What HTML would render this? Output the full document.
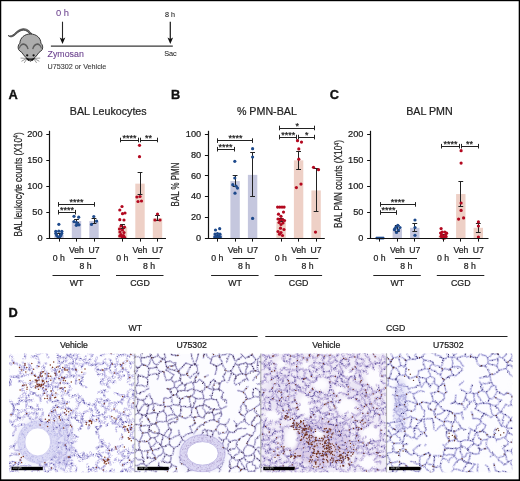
<!DOCTYPE html>
<html><head><meta charset="utf-8"><style>
html,body{margin:0;padding:0;background:#fff;width:520px;height:481px;overflow:hidden}
svg{display:block;will-change:transform}
text{font-family:"Liberation Sans", sans-serif}
</style></head><body>
<svg width="520" height="481" viewBox="0 0 520 481">
<rect x="0" y="0" width="520" height="481" fill="#fff"/>
<text x="8.50" y="98.90" font-size="12.8" text-anchor="start" fill="#111" font-weight="bold" stroke="#111" stroke-width="0.35" >A</text>
<text x="170.90" y="98.90" font-size="12.8" text-anchor="start" fill="#111" font-weight="bold" stroke="#111" stroke-width="0.35" >B</text>
<text x="329.70" y="98.90" font-size="12.8" text-anchor="start" fill="#111" font-weight="bold" stroke="#111" stroke-width="0.35" >C</text>
<text x="8.40" y="316.80" font-size="12.8" text-anchor="start" fill="#111" font-weight="bold" stroke="#111" stroke-width="0.35" >D</text>
<rect x="54.30" y="235.08" width="9.4" height="3.12" fill="#c5c7de"/>
<rect x="71.80" y="221.06" width="9.4" height="17.14" fill="#c5c7de"/>
<rect x="89.30" y="221.06" width="9.4" height="17.14" fill="#c5c7de"/>
<rect x="117.80" y="226.77" width="9.4" height="11.43" fill="#eed0c6"/>
<rect x="135.30" y="183.65" width="9.4" height="54.55" fill="#eed0c6"/>
<rect x="152.80" y="218.20" width="9.4" height="20.00" fill="#eed0c6"/>
<line x1="59.50" y1="236.50" x2="59.50" y2="233.00" stroke="#222" stroke-width="1.0"/>
<line x1="56.60" y1="233.50" x2="61.40" y2="233.50" stroke="#222" stroke-width="1.0"/>
<line x1="56.60" y1="236.50" x2="61.40" y2="236.50" stroke="#222" stroke-width="1.0"/>
<line x1="76.50" y1="222.80" x2="76.50" y2="219.20" stroke="#222" stroke-width="1.0"/>
<line x1="74.10" y1="219.50" x2="78.90" y2="219.50" stroke="#222" stroke-width="1.0"/>
<line x1="74.10" y1="222.50" x2="78.90" y2="222.50" stroke="#222" stroke-width="1.0"/>
<line x1="94.50" y1="223.20" x2="94.50" y2="218.50" stroke="#222" stroke-width="1.0"/>
<line x1="91.60" y1="218.50" x2="96.40" y2="218.50" stroke="#222" stroke-width="1.0"/>
<line x1="91.60" y1="223.50" x2="96.40" y2="223.50" stroke="#222" stroke-width="1.0"/>
<line x1="122.50" y1="228.50" x2="122.50" y2="224.50" stroke="#222" stroke-width="1.0"/>
<line x1="120.10" y1="224.50" x2="124.90" y2="224.50" stroke="#222" stroke-width="1.0"/>
<line x1="120.10" y1="228.50" x2="124.90" y2="228.50" stroke="#222" stroke-width="1.0"/>
<line x1="140.50" y1="194.60" x2="140.50" y2="172.70" stroke="#222" stroke-width="1.0"/>
<line x1="137.60" y1="172.50" x2="142.40" y2="172.50" stroke="#222" stroke-width="1.0"/>
<line x1="137.60" y1="194.50" x2="142.40" y2="194.50" stroke="#222" stroke-width="1.0"/>
<line x1="157.50" y1="220.00" x2="157.50" y2="215.50" stroke="#222" stroke-width="1.0"/>
<line x1="155.10" y1="215.50" x2="159.90" y2="215.50" stroke="#222" stroke-width="1.0"/>
<line x1="155.10" y1="220.50" x2="159.90" y2="220.50" stroke="#222" stroke-width="1.0"/>
<circle cx="58.85" cy="224.30" r="1.6" fill="#1e4a8c"/>
<circle cx="55.80" cy="231.30" r="1.6" fill="#1e4a8c"/>
<circle cx="58.80" cy="231.20" r="1.6" fill="#1e4a8c"/>
<circle cx="61.80" cy="231.30" r="1.6" fill="#1e4a8c"/>
<circle cx="55.80" cy="233.40" r="1.6" fill="#1e4a8c"/>
<circle cx="61.80" cy="233.40" r="1.6" fill="#1e4a8c"/>
<circle cx="56.70" cy="235.40" r="1.6" fill="#1e4a8c"/>
<circle cx="60.90" cy="235.40" r="1.6" fill="#1e4a8c"/>
<circle cx="58.00" cy="237.00" r="1.6" fill="#1e4a8c"/>
<circle cx="59.70" cy="237.00" r="1.6" fill="#1e4a8c"/>
<circle cx="74.00" cy="216.30" r="1.6" fill="#1e4a8c"/>
<circle cx="78.70" cy="217.20" r="1.6" fill="#1e4a8c"/>
<circle cx="74.00" cy="221.60" r="1.6" fill="#1e4a8c"/>
<circle cx="76.30" cy="225.30" r="1.6" fill="#1e4a8c"/>
<circle cx="77.90" cy="224.60" r="1.6" fill="#1e4a8c"/>
<circle cx="79.00" cy="224.80" r="1.6" fill="#1e4a8c"/>
<circle cx="76.50" cy="222.50" r="1.6" fill="#1e4a8c"/>
<circle cx="93.80" cy="216.50" r="1.6" fill="#1e4a8c"/>
<circle cx="96.60" cy="221.10" r="1.6" fill="#1e4a8c"/>
<circle cx="91.50" cy="224.40" r="1.6" fill="#1e4a8c"/>
<circle cx="122.00" cy="206.50" r="1.6" fill="#b3081f"/>
<circle cx="119.80" cy="210.00" r="1.6" fill="#b3081f"/>
<circle cx="122.50" cy="213.70" r="1.6" fill="#b3081f"/>
<circle cx="125.00" cy="213.00" r="1.6" fill="#b3081f"/>
<circle cx="119.80" cy="219.70" r="1.6" fill="#b3081f"/>
<circle cx="124.00" cy="220.00" r="1.6" fill="#b3081f"/>
<circle cx="121.00" cy="226.00" r="1.6" fill="#b3081f"/>
<circle cx="124.50" cy="227.00" r="1.6" fill="#b3081f"/>
<circle cx="119.50" cy="229.00" r="1.6" fill="#b3081f"/>
<circle cx="122.50" cy="230.00" r="1.6" fill="#b3081f"/>
<circle cx="120.00" cy="232.00" r="1.6" fill="#b3081f"/>
<circle cx="124.00" cy="232.50" r="1.6" fill="#b3081f"/>
<circle cx="121.00" cy="234.50" r="1.6" fill="#b3081f"/>
<circle cx="123.50" cy="235.50" r="1.6" fill="#b3081f"/>
<circle cx="122.00" cy="236.80" r="1.6" fill="#b3081f"/>
<circle cx="119.80" cy="236.00" r="1.6" fill="#b3081f"/>
<circle cx="124.50" cy="237.30" r="1.6" fill="#b3081f"/>
<circle cx="139.50" cy="145.30" r="1.6" fill="#b3081f"/>
<circle cx="139.50" cy="156.70" r="1.6" fill="#b3081f"/>
<circle cx="136.90" cy="197.00" r="1.6" fill="#b3081f"/>
<circle cx="140.00" cy="196.50" r="1.6" fill="#b3081f"/>
<circle cx="138.00" cy="201.50" r="1.6" fill="#b3081f"/>
<circle cx="141.50" cy="201.00" r="1.6" fill="#b3081f"/>
<circle cx="157.50" cy="214.00" r="1.6" fill="#b3081f"/>
<circle cx="155.00" cy="220.00" r="1.6" fill="#b3081f"/>
<circle cx="160.00" cy="220.00" r="1.6" fill="#b3081f"/>
<line x1="49.50" y1="130.80" x2="49.50" y2="238.80" stroke="#111" stroke-width="1.2"/>
<line x1="49.00" y1="238.50" x2="166.00" y2="238.50" stroke="#111" stroke-width="1.2"/>
<line x1="46.30" y1="238.50" x2="49.60" y2="238.50" stroke="#111" stroke-width="1.0"/>
<text x="42.60" y="240.90" font-size="9.2" text-anchor="end" fill="#1a1a1a" font-weight="normal" stroke="#1a1a1a" stroke-width="0.22" >0</text>
<line x1="46.30" y1="212.50" x2="49.60" y2="212.50" stroke="#111" stroke-width="1.0"/>
<text x="42.60" y="214.92" font-size="9.2" text-anchor="end" fill="#1a1a1a" font-weight="normal" stroke="#1a1a1a" stroke-width="0.22" >50</text>
<line x1="46.30" y1="186.50" x2="49.60" y2="186.50" stroke="#111" stroke-width="1.0"/>
<text x="42.60" y="188.95" font-size="9.2" text-anchor="end" fill="#1a1a1a" font-weight="normal" stroke="#1a1a1a" stroke-width="0.22" >100</text>
<line x1="46.30" y1="160.50" x2="49.60" y2="160.50" stroke="#111" stroke-width="1.0"/>
<text x="42.60" y="162.97" font-size="9.2" text-anchor="end" fill="#1a1a1a" font-weight="normal" stroke="#1a1a1a" stroke-width="0.22" >150</text>
<line x1="46.30" y1="134.50" x2="49.60" y2="134.50" stroke="#111" stroke-width="1.0"/>
<text x="42.60" y="137.00" font-size="9.2" text-anchor="end" fill="#1a1a1a" font-weight="normal" stroke="#1a1a1a" stroke-width="0.22" >200</text>
<line x1="59.50" y1="238.20" x2="59.50" y2="241.60" stroke="#111" stroke-width="1.0"/>
<line x1="76.50" y1="238.20" x2="76.50" y2="241.60" stroke="#111" stroke-width="1.0"/>
<line x1="94.50" y1="238.20" x2="94.50" y2="241.60" stroke="#111" stroke-width="1.0"/>
<line x1="122.50" y1="238.20" x2="122.50" y2="241.60" stroke="#111" stroke-width="1.0"/>
<line x1="140.50" y1="238.20" x2="140.50" y2="241.60" stroke="#111" stroke-width="1.0"/>
<line x1="157.50" y1="238.20" x2="157.50" y2="241.60" stroke="#111" stroke-width="1.0"/>
<text x="69.80" y="114.70" font-size="10.7" text-anchor="start" fill="#1f1f1f" font-weight="normal" stroke="#1f1f1f" stroke-width="0.22" >BAL Leukocytes</text>
<line x1="58.60" y1="204.50" x2="94.40" y2="204.50" stroke="#222" stroke-width="1.0"/>
<line x1="58.50" y1="202.10" x2="58.50" y2="206.70" stroke="#222" stroke-width="1.0"/>
<line x1="94.50" y1="202.10" x2="94.50" y2="206.70" stroke="#222" stroke-width="1.0"/>
<text x="76.40" y="205.00" font-size="9" text-anchor="middle" fill="#222" font-weight="normal" stroke="#222" stroke-width="0.22" >****</text>
<line x1="58.60" y1="212.50" x2="75.60" y2="212.50" stroke="#222" stroke-width="1.0"/>
<line x1="58.50" y1="209.90" x2="58.50" y2="214.50" stroke="#222" stroke-width="1.0"/>
<line x1="75.50" y1="209.90" x2="75.50" y2="214.50" stroke="#222" stroke-width="1.0"/>
<text x="67.00" y="212.80" font-size="9" text-anchor="middle" fill="#222" font-weight="normal" stroke="#222" stroke-width="0.22" >****</text>
<line x1="120.80" y1="140.50" x2="138.60" y2="140.50" stroke="#222" stroke-width="1.0"/>
<line x1="120.50" y1="137.70" x2="120.50" y2="142.30" stroke="#222" stroke-width="1.0"/>
<line x1="138.50" y1="137.70" x2="138.50" y2="142.30" stroke="#222" stroke-width="1.0"/>
<text x="129.60" y="140.60" font-size="9" text-anchor="middle" fill="#222" font-weight="normal" stroke="#222" stroke-width="0.22" >****</text>
<line x1="140.60" y1="140.50" x2="157.30" y2="140.50" stroke="#222" stroke-width="1.0"/>
<line x1="140.50" y1="137.70" x2="140.50" y2="142.30" stroke="#222" stroke-width="1.0"/>
<line x1="157.50" y1="137.70" x2="157.50" y2="142.30" stroke="#222" stroke-width="1.0"/>
<text x="148.60" y="140.60" font-size="9" text-anchor="middle" fill="#222" font-weight="normal" stroke="#222" stroke-width="0.22" >**</text>
<text x="58.80" y="261.00" font-size="8.7" text-anchor="middle" fill="#222" font-weight="normal" stroke="#222" stroke-width="0.22" >0 h</text>
<text x="76.50" y="252.70" font-size="8.6" text-anchor="middle" fill="#222" font-weight="normal" stroke="#222" stroke-width="0.22" >Veh</text>
<text x="94.00" y="252.70" font-size="8.6" text-anchor="middle" fill="#222" font-weight="normal" stroke="#222" stroke-width="0.22" >U7</text>
<line x1="74.10" y1="258.50" x2="96.20" y2="258.50" stroke="#222" stroke-width="1.0"/>
<text x="85.45" y="268.90" font-size="8.7" text-anchor="middle" fill="#222" font-weight="normal" stroke="#222" stroke-width="0.22" >8 h</text>
<line x1="52.50" y1="275.50" x2="100.00" y2="275.50" stroke="#222" stroke-width="1.0"/>
<text x="122.30" y="261.00" font-size="8.7" text-anchor="middle" fill="#222" font-weight="normal" stroke="#222" stroke-width="0.22" >0 h</text>
<text x="140.00" y="252.70" font-size="8.6" text-anchor="middle" fill="#222" font-weight="normal" stroke="#222" stroke-width="0.22" >Veh</text>
<text x="157.50" y="252.70" font-size="8.6" text-anchor="middle" fill="#222" font-weight="normal" stroke="#222" stroke-width="0.22" >U7</text>
<line x1="137.60" y1="258.50" x2="159.70" y2="258.50" stroke="#222" stroke-width="1.0"/>
<text x="148.95" y="268.90" font-size="8.7" text-anchor="middle" fill="#222" font-weight="normal" stroke="#222" stroke-width="0.22" >8 h</text>
<line x1="116.00" y1="275.50" x2="163.50" y2="275.50" stroke="#222" stroke-width="1.0"/>
<text x="76.50" y="285.60" font-size="8.8" text-anchor="middle" fill="#222" font-weight="normal" stroke="#222" stroke-width="0.22" >WT</text>
<text x="140.00" y="285.60" font-size="8.8" text-anchor="middle" fill="#222" font-weight="normal" stroke="#222" stroke-width="0.22" >CGD</text>
<text transform="translate(21.60,184.45) rotate(-90)" x="0" y="0" font-size="10.2" text-anchor="middle" fill="#222" stroke="#222" stroke-width="0.2" textLength="104.3" lengthAdjust="spacingAndGlyphs">BAL leukocyte counts (X10<tspan font-size="6.5" dy="-3.5">4</tspan><tspan dy="3.5">)</tspan></text>
<rect x="212.90" y="235.09" width="9.4" height="3.11" fill="#c5c7de"/>
<rect x="230.40" y="181.11" width="9.4" height="57.09" fill="#c5c7de"/>
<rect x="247.90" y="174.88" width="9.4" height="63.32" fill="#c5c7de"/>
<rect x="276.40" y="221.59" width="9.4" height="16.61" fill="#eed0c6"/>
<rect x="293.90" y="160.35" width="9.4" height="77.85" fill="#eed0c6"/>
<rect x="311.40" y="190.45" width="9.4" height="47.75" fill="#eed0c6"/>
<line x1="217.50" y1="236.50" x2="217.50" y2="233.50" stroke="#222" stroke-width="1.0"/>
<line x1="215.20" y1="233.50" x2="220.00" y2="233.50" stroke="#222" stroke-width="1.0"/>
<line x1="215.20" y1="236.50" x2="220.00" y2="236.50" stroke="#222" stroke-width="1.0"/>
<line x1="235.50" y1="186.50" x2="235.50" y2="175.60" stroke="#222" stroke-width="1.0"/>
<line x1="232.70" y1="175.50" x2="237.50" y2="175.50" stroke="#222" stroke-width="1.0"/>
<line x1="232.70" y1="186.50" x2="237.50" y2="186.50" stroke="#222" stroke-width="1.0"/>
<line x1="252.50" y1="196.40" x2="252.50" y2="152.70" stroke="#222" stroke-width="1.0"/>
<line x1="250.20" y1="152.50" x2="255.00" y2="152.50" stroke="#222" stroke-width="1.0"/>
<line x1="250.20" y1="196.50" x2="255.00" y2="196.50" stroke="#222" stroke-width="1.0"/>
<line x1="281.50" y1="221.50" x2="281.50" y2="218.40" stroke="#222" stroke-width="1.0"/>
<line x1="278.70" y1="218.50" x2="283.50" y2="218.50" stroke="#222" stroke-width="1.0"/>
<line x1="278.70" y1="221.50" x2="283.50" y2="221.50" stroke="#222" stroke-width="1.0"/>
<line x1="298.50" y1="169.20" x2="298.50" y2="151.60" stroke="#222" stroke-width="1.0"/>
<line x1="296.20" y1="151.50" x2="301.00" y2="151.50" stroke="#222" stroke-width="1.0"/>
<line x1="296.20" y1="169.50" x2="301.00" y2="169.50" stroke="#222" stroke-width="1.0"/>
<line x1="316.50" y1="211.20" x2="316.50" y2="168.70" stroke="#222" stroke-width="1.0"/>
<line x1="313.70" y1="168.50" x2="318.50" y2="168.50" stroke="#222" stroke-width="1.0"/>
<line x1="313.70" y1="211.50" x2="318.50" y2="211.50" stroke="#222" stroke-width="1.0"/>
<circle cx="215.50" cy="230.00" r="1.6" fill="#1e4a8c"/>
<circle cx="219.70" cy="228.70" r="1.6" fill="#1e4a8c"/>
<circle cx="215.00" cy="234.00" r="1.6" fill="#1e4a8c"/>
<circle cx="217.50" cy="233.50" r="1.6" fill="#1e4a8c"/>
<circle cx="220.00" cy="234.20" r="1.6" fill="#1e4a8c"/>
<circle cx="216.00" cy="236.00" r="1.6" fill="#1e4a8c"/>
<circle cx="218.80" cy="236.20" r="1.6" fill="#1e4a8c"/>
<circle cx="217.50" cy="237.30" r="1.6" fill="#1e4a8c"/>
<circle cx="214.80" cy="237.00" r="1.6" fill="#1e4a8c"/>
<circle cx="220.30" cy="237.00" r="1.6" fill="#1e4a8c"/>
<circle cx="234.80" cy="161.30" r="1.6" fill="#1e4a8c"/>
<circle cx="234.80" cy="178.00" r="1.6" fill="#1e4a8c"/>
<circle cx="232.80" cy="184.70" r="1.6" fill="#1e4a8c"/>
<circle cx="237.50" cy="188.10" r="1.6" fill="#1e4a8c"/>
<circle cx="235.00" cy="193.20" r="1.6" fill="#1e4a8c"/>
<circle cx="236.00" cy="186.00" r="1.6" fill="#1e4a8c"/>
<circle cx="252.60" cy="148.70" r="1.6" fill="#1e4a8c"/>
<circle cx="252.60" cy="157.00" r="1.6" fill="#1e4a8c"/>
<circle cx="252.60" cy="218.40" r="1.6" fill="#1e4a8c"/>
<circle cx="277.60" cy="207.10" r="1.6" fill="#b3081f"/>
<circle cx="279.80" cy="207.10" r="1.6" fill="#b3081f"/>
<circle cx="282.00" cy="207.10" r="1.6" fill="#b3081f"/>
<circle cx="284.10" cy="207.10" r="1.6" fill="#b3081f"/>
<circle cx="283.50" cy="212.10" r="1.6" fill="#b3081f"/>
<circle cx="278.50" cy="214.20" r="1.6" fill="#b3081f"/>
<circle cx="281.00" cy="216.30" r="1.6" fill="#b3081f"/>
<circle cx="278.00" cy="219.00" r="1.6" fill="#b3081f"/>
<circle cx="280.00" cy="220.00" r="1.6" fill="#b3081f"/>
<circle cx="282.50" cy="219.50" r="1.6" fill="#b3081f"/>
<circle cx="284.50" cy="220.50" r="1.6" fill="#b3081f"/>
<circle cx="279.00" cy="222.50" r="1.6" fill="#b3081f"/>
<circle cx="283.00" cy="223.00" r="1.6" fill="#b3081f"/>
<circle cx="281.00" cy="224.50" r="1.6" fill="#b3081f"/>
<circle cx="280.50" cy="228.20" r="1.6" fill="#b3081f"/>
<circle cx="284.00" cy="229.50" r="1.6" fill="#b3081f"/>
<circle cx="278.00" cy="231.50" r="1.6" fill="#b3081f"/>
<circle cx="281.00" cy="232.60" r="1.6" fill="#b3081f"/>
<circle cx="279.50" cy="234.20" r="1.6" fill="#b3081f"/>
<circle cx="282.50" cy="235.50" r="1.6" fill="#b3081f"/>
<circle cx="297.50" cy="140.70" r="1.6" fill="#b3081f"/>
<circle cx="301.50" cy="142.10" r="1.6" fill="#b3081f"/>
<circle cx="298.80" cy="148.90" r="1.6" fill="#b3081f"/>
<circle cx="298.80" cy="159.20" r="1.6" fill="#b3081f"/>
<circle cx="296.40" cy="187.60" r="1.6" fill="#b3081f"/>
<circle cx="301.00" cy="184.10" r="1.6" fill="#b3081f"/>
<circle cx="313.50" cy="167.30" r="1.6" fill="#b3081f"/>
<circle cx="318.50" cy="169.70" r="1.6" fill="#b3081f"/>
<circle cx="315.50" cy="232.10" r="1.6" fill="#b3081f"/>
<line x1="208.50" y1="130.80" x2="208.50" y2="238.80" stroke="#111" stroke-width="1.2"/>
<line x1="207.60" y1="238.50" x2="324.80" y2="238.50" stroke="#111" stroke-width="1.2"/>
<line x1="204.90" y1="238.50" x2="208.20" y2="238.50" stroke="#111" stroke-width="1.0"/>
<text x="201.20" y="240.90" font-size="9.2" text-anchor="end" fill="#1a1a1a" font-weight="normal" stroke="#1a1a1a" stroke-width="0.22" >0</text>
<line x1="204.90" y1="217.50" x2="208.20" y2="217.50" stroke="#111" stroke-width="1.0"/>
<text x="201.20" y="220.14" font-size="9.2" text-anchor="end" fill="#1a1a1a" font-weight="normal" stroke="#1a1a1a" stroke-width="0.22" >20</text>
<line x1="204.90" y1="196.50" x2="208.20" y2="196.50" stroke="#111" stroke-width="1.0"/>
<text x="201.20" y="199.38" font-size="9.2" text-anchor="end" fill="#1a1a1a" font-weight="normal" stroke="#1a1a1a" stroke-width="0.22" >40</text>
<line x1="204.90" y1="175.50" x2="208.20" y2="175.50" stroke="#111" stroke-width="1.0"/>
<text x="201.20" y="178.62" font-size="9.2" text-anchor="end" fill="#1a1a1a" font-weight="normal" stroke="#1a1a1a" stroke-width="0.22" >60</text>
<line x1="204.90" y1="155.50" x2="208.20" y2="155.50" stroke="#111" stroke-width="1.0"/>
<text x="201.20" y="157.86" font-size="9.2" text-anchor="end" fill="#1a1a1a" font-weight="normal" stroke="#1a1a1a" stroke-width="0.22" >80</text>
<line x1="204.90" y1="134.50" x2="208.20" y2="134.50" stroke="#111" stroke-width="1.0"/>
<text x="201.20" y="137.10" font-size="9.2" text-anchor="end" fill="#1a1a1a" font-weight="normal" stroke="#1a1a1a" stroke-width="0.22" >100</text>
<line x1="217.50" y1="238.20" x2="217.50" y2="241.60" stroke="#111" stroke-width="1.0"/>
<line x1="235.50" y1="238.20" x2="235.50" y2="241.60" stroke="#111" stroke-width="1.0"/>
<line x1="252.50" y1="238.20" x2="252.50" y2="241.60" stroke="#111" stroke-width="1.0"/>
<line x1="281.50" y1="238.20" x2="281.50" y2="241.60" stroke="#111" stroke-width="1.0"/>
<line x1="298.50" y1="238.20" x2="298.50" y2="241.60" stroke="#111" stroke-width="1.0"/>
<line x1="316.50" y1="238.20" x2="316.50" y2="241.60" stroke="#111" stroke-width="1.0"/>
<text x="236.90" y="114.70" font-size="10.7" text-anchor="start" fill="#1f1f1f" font-weight="normal" stroke="#1f1f1f" stroke-width="0.22" >% PMN-BAL</text>
<line x1="217.50" y1="140.50" x2="252.50" y2="140.50" stroke="#222" stroke-width="1.0"/>
<line x1="217.50" y1="138.30" x2="217.50" y2="142.90" stroke="#222" stroke-width="1.0"/>
<line x1="252.50" y1="138.30" x2="252.50" y2="142.90" stroke="#222" stroke-width="1.0"/>
<text x="235.40" y="141.20" font-size="9" text-anchor="middle" fill="#222" font-weight="normal" stroke="#222" stroke-width="0.22" >****</text>
<line x1="217.50" y1="149.50" x2="234.50" y2="149.50" stroke="#222" stroke-width="1.0"/>
<line x1="217.50" y1="146.90" x2="217.50" y2="151.50" stroke="#222" stroke-width="1.0"/>
<line x1="234.50" y1="146.90" x2="234.50" y2="151.50" stroke="#222" stroke-width="1.0"/>
<text x="225.60" y="149.80" font-size="9" text-anchor="middle" fill="#222" font-weight="normal" stroke="#222" stroke-width="0.22" >****</text>
<line x1="279.80" y1="128.50" x2="314.80" y2="128.50" stroke="#222" stroke-width="1.0"/>
<line x1="279.50" y1="125.70" x2="279.50" y2="130.30" stroke="#222" stroke-width="1.0"/>
<line x1="314.50" y1="125.70" x2="314.50" y2="130.30" stroke="#222" stroke-width="1.0"/>
<text x="297.30" y="128.60" font-size="9" text-anchor="middle" fill="#222" font-weight="normal" stroke="#222" stroke-width="0.22" >*</text>
<line x1="279.80" y1="137.50" x2="296.60" y2="137.50" stroke="#222" stroke-width="1.0"/>
<line x1="279.50" y1="134.80" x2="279.50" y2="139.40" stroke="#222" stroke-width="1.0"/>
<line x1="296.50" y1="134.80" x2="296.50" y2="139.40" stroke="#222" stroke-width="1.0"/>
<text x="288.20" y="137.70" font-size="9" text-anchor="middle" fill="#222" font-weight="normal" stroke="#222" stroke-width="0.22" >****</text>
<line x1="298.40" y1="137.50" x2="314.80" y2="137.50" stroke="#222" stroke-width="1.0"/>
<line x1="298.50" y1="134.80" x2="298.50" y2="139.40" stroke="#222" stroke-width="1.0"/>
<line x1="314.50" y1="134.80" x2="314.50" y2="139.40" stroke="#222" stroke-width="1.0"/>
<text x="306.80" y="137.70" font-size="9" text-anchor="middle" fill="#222" font-weight="normal" stroke="#222" stroke-width="0.22" >*</text>
<text x="217.40" y="261.00" font-size="8.7" text-anchor="middle" fill="#222" font-weight="normal" stroke="#222" stroke-width="0.22" >0 h</text>
<text x="235.10" y="252.70" font-size="8.6" text-anchor="middle" fill="#222" font-weight="normal" stroke="#222" stroke-width="0.22" >Veh</text>
<text x="252.60" y="252.70" font-size="8.6" text-anchor="middle" fill="#222" font-weight="normal" stroke="#222" stroke-width="0.22" >U7</text>
<line x1="232.70" y1="258.50" x2="254.80" y2="258.50" stroke="#222" stroke-width="1.0"/>
<text x="244.05" y="268.90" font-size="8.7" text-anchor="middle" fill="#222" font-weight="normal" stroke="#222" stroke-width="0.22" >8 h</text>
<line x1="211.10" y1="275.50" x2="258.60" y2="275.50" stroke="#222" stroke-width="1.0"/>
<text x="280.90" y="261.00" font-size="8.7" text-anchor="middle" fill="#222" font-weight="normal" stroke="#222" stroke-width="0.22" >0 h</text>
<text x="298.60" y="252.70" font-size="8.6" text-anchor="middle" fill="#222" font-weight="normal" stroke="#222" stroke-width="0.22" >Veh</text>
<text x="316.10" y="252.70" font-size="8.6" text-anchor="middle" fill="#222" font-weight="normal" stroke="#222" stroke-width="0.22" >U7</text>
<line x1="296.20" y1="258.50" x2="318.30" y2="258.50" stroke="#222" stroke-width="1.0"/>
<text x="307.55" y="268.90" font-size="8.7" text-anchor="middle" fill="#222" font-weight="normal" stroke="#222" stroke-width="0.22" >8 h</text>
<line x1="274.60" y1="275.50" x2="322.10" y2="275.50" stroke="#222" stroke-width="1.0"/>
<text x="235.10" y="285.60" font-size="8.8" text-anchor="middle" fill="#222" font-weight="normal" stroke="#222" stroke-width="0.22" >WT</text>
<text x="298.60" y="285.60" font-size="8.8" text-anchor="middle" fill="#222" font-weight="normal" stroke="#222" stroke-width="0.22" >CGD</text>
<text transform="translate(179.40,184.50) rotate(-90)" x="0" y="0" font-size="10.2" text-anchor="middle" fill="#222" stroke="#222" stroke-width="0.2" textLength="43.8" lengthAdjust="spacingAndGlyphs">BAL % PMN</text>
<rect x="375.10" y="237.68" width="9.4" height="0.52" fill="#c5c7de"/>
<rect x="392.60" y="228.85" width="9.4" height="9.35" fill="#c5c7de"/>
<rect x="410.10" y="227.81" width="9.4" height="10.39" fill="#c5c7de"/>
<rect x="438.60" y="235.60" width="9.4" height="2.60" fill="#eed0c6"/>
<rect x="456.10" y="194.04" width="9.4" height="44.16" fill="#eed0c6"/>
<rect x="473.60" y="227.81" width="9.4" height="10.39" fill="#eed0c6"/>
<line x1="379.50" y1="238.20" x2="379.50" y2="237.40" stroke="#222" stroke-width="1.0"/>
<line x1="377.40" y1="237.50" x2="382.20" y2="237.50" stroke="#222" stroke-width="1.0"/>
<line x1="377.40" y1="238.50" x2="382.20" y2="238.50" stroke="#222" stroke-width="1.0"/>
<line x1="397.50" y1="231.50" x2="397.50" y2="225.50" stroke="#222" stroke-width="1.0"/>
<line x1="394.90" y1="225.50" x2="399.70" y2="225.50" stroke="#222" stroke-width="1.0"/>
<line x1="394.90" y1="231.50" x2="399.70" y2="231.50" stroke="#222" stroke-width="1.0"/>
<line x1="414.50" y1="231.30" x2="414.50" y2="223.40" stroke="#222" stroke-width="1.0"/>
<line x1="412.40" y1="223.50" x2="417.20" y2="223.50" stroke="#222" stroke-width="1.0"/>
<line x1="412.40" y1="231.50" x2="417.20" y2="231.50" stroke="#222" stroke-width="1.0"/>
<line x1="443.50" y1="236.50" x2="443.50" y2="234.00" stroke="#222" stroke-width="1.0"/>
<line x1="440.90" y1="234.50" x2="445.70" y2="234.50" stroke="#222" stroke-width="1.0"/>
<line x1="440.90" y1="236.50" x2="445.70" y2="236.50" stroke="#222" stroke-width="1.0"/>
<line x1="460.50" y1="206.00" x2="460.50" y2="181.80" stroke="#222" stroke-width="1.0"/>
<line x1="458.40" y1="181.50" x2="463.20" y2="181.50" stroke="#222" stroke-width="1.0"/>
<line x1="458.40" y1="206.50" x2="463.20" y2="206.50" stroke="#222" stroke-width="1.0"/>
<line x1="478.50" y1="232.90" x2="478.50" y2="223.60" stroke="#222" stroke-width="1.0"/>
<line x1="475.90" y1="223.50" x2="480.70" y2="223.50" stroke="#222" stroke-width="1.0"/>
<line x1="475.90" y1="232.50" x2="480.70" y2="232.50" stroke="#222" stroke-width="1.0"/>
<circle cx="377.00" cy="238.00" r="1.6" fill="#1e4a8c"/>
<circle cx="379.00" cy="238.00" r="1.6" fill="#1e4a8c"/>
<circle cx="381.00" cy="238.00" r="1.6" fill="#1e4a8c"/>
<circle cx="383.00" cy="238.00" r="1.6" fill="#1e4a8c"/>
<circle cx="396.00" cy="227.00" r="1.6" fill="#1e4a8c"/>
<circle cx="397.80" cy="225.40" r="1.6" fill="#1e4a8c"/>
<circle cx="400.00" cy="227.50" r="1.6" fill="#1e4a8c"/>
<circle cx="394.50" cy="229.70" r="1.6" fill="#1e4a8c"/>
<circle cx="396.50" cy="232.50" r="1.6" fill="#1e4a8c"/>
<circle cx="398.50" cy="230.00" r="1.6" fill="#1e4a8c"/>
<circle cx="395.00" cy="228.50" r="1.6" fill="#1e4a8c"/>
<circle cx="415.00" cy="220.00" r="1.6" fill="#1e4a8c"/>
<circle cx="415.00" cy="227.50" r="1.6" fill="#1e4a8c"/>
<circle cx="415.00" cy="235.30" r="1.6" fill="#1e4a8c"/>
<circle cx="441.10" cy="228.60" r="1.6" fill="#b3081f"/>
<circle cx="440.60" cy="233.00" r="1.6" fill="#b3081f"/>
<circle cx="441.00" cy="236.30" r="1.6" fill="#b3081f"/>
<circle cx="443.50" cy="238.20" r="1.6" fill="#b3081f"/>
<circle cx="446.00" cy="236.50" r="1.6" fill="#b3081f"/>
<circle cx="446.60" cy="233.20" r="1.6" fill="#b3081f"/>
<circle cx="444.80" cy="232.00" r="1.6" fill="#b3081f"/>
<circle cx="442.20" cy="232.00" r="1.6" fill="#b3081f"/>
<circle cx="441.60" cy="234.60" r="1.6" fill="#b3081f"/>
<circle cx="445.60" cy="234.80" r="1.6" fill="#b3081f"/>
<circle cx="442.20" cy="237.60" r="1.6" fill="#b3081f"/>
<circle cx="445.00" cy="237.80" r="1.6" fill="#b3081f"/>
<circle cx="443.40" cy="236.40" r="1.6" fill="#b3081f"/>
<circle cx="461.10" cy="150.70" r="1.6" fill="#b3081f"/>
<circle cx="461.10" cy="163.10" r="1.6" fill="#b3081f"/>
<circle cx="461.10" cy="203.00" r="1.6" fill="#b3081f"/>
<circle cx="461.10" cy="210.40" r="1.6" fill="#b3081f"/>
<circle cx="458.60" cy="219.10" r="1.6" fill="#b3081f"/>
<circle cx="463.60" cy="217.90" r="1.6" fill="#b3081f"/>
<circle cx="478.40" cy="221.90" r="1.6" fill="#b3081f"/>
<circle cx="478.40" cy="226.00" r="1.6" fill="#b3081f"/>
<circle cx="478.40" cy="237.10" r="1.6" fill="#b3081f"/>
<line x1="370.50" y1="130.80" x2="370.50" y2="238.80" stroke="#111" stroke-width="1.2"/>
<line x1="369.80" y1="238.50" x2="488.50" y2="238.50" stroke="#111" stroke-width="1.2"/>
<line x1="367.10" y1="238.50" x2="370.40" y2="238.50" stroke="#111" stroke-width="1.0"/>
<text x="363.40" y="240.90" font-size="9.2" text-anchor="end" fill="#1a1a1a" font-weight="normal" stroke="#1a1a1a" stroke-width="0.22" >0</text>
<line x1="367.10" y1="212.50" x2="370.40" y2="212.50" stroke="#111" stroke-width="1.0"/>
<text x="363.40" y="214.92" font-size="9.2" text-anchor="end" fill="#1a1a1a" font-weight="normal" stroke="#1a1a1a" stroke-width="0.22" >50</text>
<line x1="367.10" y1="186.50" x2="370.40" y2="186.50" stroke="#111" stroke-width="1.0"/>
<text x="363.40" y="188.95" font-size="9.2" text-anchor="end" fill="#1a1a1a" font-weight="normal" stroke="#1a1a1a" stroke-width="0.22" >100</text>
<line x1="367.10" y1="160.50" x2="370.40" y2="160.50" stroke="#111" stroke-width="1.0"/>
<text x="363.40" y="162.97" font-size="9.2" text-anchor="end" fill="#1a1a1a" font-weight="normal" stroke="#1a1a1a" stroke-width="0.22" >150</text>
<line x1="367.10" y1="134.50" x2="370.40" y2="134.50" stroke="#111" stroke-width="1.0"/>
<text x="363.40" y="137.00" font-size="9.2" text-anchor="end" fill="#1a1a1a" font-weight="normal" stroke="#1a1a1a" stroke-width="0.22" >200</text>
<line x1="379.50" y1="238.20" x2="379.50" y2="241.60" stroke="#111" stroke-width="1.0"/>
<line x1="397.50" y1="238.20" x2="397.50" y2="241.60" stroke="#111" stroke-width="1.0"/>
<line x1="414.50" y1="238.20" x2="414.50" y2="241.60" stroke="#111" stroke-width="1.0"/>
<line x1="443.50" y1="238.20" x2="443.50" y2="241.60" stroke="#111" stroke-width="1.0"/>
<line x1="460.50" y1="238.20" x2="460.50" y2="241.60" stroke="#111" stroke-width="1.0"/>
<line x1="478.50" y1="238.20" x2="478.50" y2="241.60" stroke="#111" stroke-width="1.0"/>
<text x="406.20" y="114.70" font-size="10.7" text-anchor="start" fill="#1f1f1f" font-weight="normal" stroke="#1f1f1f" stroke-width="0.22" >BAL PMN</text>
<line x1="380.00" y1="204.50" x2="415.20" y2="204.50" stroke="#222" stroke-width="1.0"/>
<line x1="380.50" y1="202.10" x2="380.50" y2="206.70" stroke="#222" stroke-width="1.0"/>
<line x1="415.50" y1="202.10" x2="415.50" y2="206.70" stroke="#222" stroke-width="1.0"/>
<text x="397.70" y="205.00" font-size="9" text-anchor="middle" fill="#222" font-weight="normal" stroke="#222" stroke-width="0.22" >****</text>
<line x1="380.00" y1="212.50" x2="396.40" y2="212.50" stroke="#222" stroke-width="1.0"/>
<line x1="380.50" y1="210.20" x2="380.50" y2="214.80" stroke="#222" stroke-width="1.0"/>
<line x1="396.50" y1="210.20" x2="396.50" y2="214.80" stroke="#222" stroke-width="1.0"/>
<text x="388.40" y="213.10" font-size="9" text-anchor="middle" fill="#222" font-weight="normal" stroke="#222" stroke-width="0.22" >****</text>
<line x1="441.90" y1="146.50" x2="459.30" y2="146.50" stroke="#222" stroke-width="1.0"/>
<line x1="441.50" y1="143.90" x2="441.50" y2="148.50" stroke="#222" stroke-width="1.0"/>
<line x1="459.50" y1="143.90" x2="459.50" y2="148.50" stroke="#222" stroke-width="1.0"/>
<text x="450.50" y="146.80" font-size="9" text-anchor="middle" fill="#222" font-weight="normal" stroke="#222" stroke-width="0.22" >****</text>
<line x1="461.30" y1="146.50" x2="478.10" y2="146.50" stroke="#222" stroke-width="1.0"/>
<line x1="461.50" y1="143.90" x2="461.50" y2="148.50" stroke="#222" stroke-width="1.0"/>
<line x1="478.50" y1="143.90" x2="478.50" y2="148.50" stroke="#222" stroke-width="1.0"/>
<text x="469.60" y="146.80" font-size="9" text-anchor="middle" fill="#222" font-weight="normal" stroke="#222" stroke-width="0.22" >**</text>
<text x="379.60" y="261.00" font-size="8.7" text-anchor="middle" fill="#222" font-weight="normal" stroke="#222" stroke-width="0.22" >0 h</text>
<text x="397.30" y="252.70" font-size="8.6" text-anchor="middle" fill="#222" font-weight="normal" stroke="#222" stroke-width="0.22" >Veh</text>
<text x="414.80" y="252.70" font-size="8.6" text-anchor="middle" fill="#222" font-weight="normal" stroke="#222" stroke-width="0.22" >U7</text>
<line x1="394.90" y1="258.50" x2="417.00" y2="258.50" stroke="#222" stroke-width="1.0"/>
<text x="406.25" y="268.90" font-size="8.7" text-anchor="middle" fill="#222" font-weight="normal" stroke="#222" stroke-width="0.22" >8 h</text>
<line x1="373.30" y1="275.50" x2="420.80" y2="275.50" stroke="#222" stroke-width="1.0"/>
<text x="443.10" y="261.00" font-size="8.7" text-anchor="middle" fill="#222" font-weight="normal" stroke="#222" stroke-width="0.22" >0 h</text>
<text x="460.80" y="252.70" font-size="8.6" text-anchor="middle" fill="#222" font-weight="normal" stroke="#222" stroke-width="0.22" >Veh</text>
<text x="478.30" y="252.70" font-size="8.6" text-anchor="middle" fill="#222" font-weight="normal" stroke="#222" stroke-width="0.22" >U7</text>
<line x1="458.40" y1="258.50" x2="480.50" y2="258.50" stroke="#222" stroke-width="1.0"/>
<text x="469.75" y="268.90" font-size="8.7" text-anchor="middle" fill="#222" font-weight="normal" stroke="#222" stroke-width="0.22" >8 h</text>
<line x1="436.80" y1="275.50" x2="484.30" y2="275.50" stroke="#222" stroke-width="1.0"/>
<text x="397.30" y="285.60" font-size="8.8" text-anchor="middle" fill="#222" font-weight="normal" stroke="#222" stroke-width="0.22" >WT</text>
<text x="460.80" y="285.60" font-size="8.8" text-anchor="middle" fill="#222" font-weight="normal" stroke="#222" stroke-width="0.22" >CGD</text>
<text transform="translate(342.30,184.00) rotate(-90)" x="0" y="0" font-size="10.2" text-anchor="middle" fill="#222" stroke="#222" stroke-width="0.2" textLength="88.0" lengthAdjust="spacingAndGlyphs">BAL PMN counts (X10<tspan font-size="6.5" dy="-3.5">4</tspan><tspan dy="3.5">)</tspan></text>
<line x1="50.90" y1="46.10" x2="172.80" y2="46.10" stroke="#383838" stroke-width="1.45"/>
<line x1="62.50" y1="21.70" x2="62.50" y2="40.00" stroke="#262626" stroke-width="1.1"/>
<path d="M59.70,37.4 L62.50,44.0 L65.30,37.4 L62.50,38.9 Z" fill="#111"/>
<line x1="170.30" y1="21.70" x2="170.30" y2="40.00" stroke="#262626" stroke-width="1.3"/>
<path d="M167.50,37.4 L170.30,44.0 L173.10,37.4 L170.30,38.9 Z" fill="#111"/>
<text x="56.00" y="16.00" font-size="9.4" text-anchor="start" fill="#6c438f" font-weight="normal" stroke="#6c438f" stroke-width="0.05" >0 h</text>
<text x="165.00" y="17.30" font-size="7.2" text-anchor="start" fill="#222" font-weight="normal" stroke="#222" stroke-width="0.08" >8 h</text>
<text x="47.60" y="56.90" font-size="8.8" text-anchor="start" fill="#6c438f" font-weight="normal" stroke="#6c438f" stroke-width="0.1" >Zymosan</text>
<text x="47.60" y="69.00" font-size="7.2" text-anchor="start" fill="#3a3a3a" font-weight="normal" stroke="#3a3a3a" stroke-width="0.1" >U75302 or Vehicle</text>
<text x="164.20" y="56.10" font-size="7.3" text-anchor="start" fill="#222" font-weight="normal" stroke="#222" stroke-width="0.05" >Sac</text>
<path d="M8.1,35.4 C10,36.6 12.6,35.6 14.6,33.6 C17.1,31 19.6,29.1 23.2,28.7 C26.6,28.5 29.6,30.6 31.8,34.1 L30.1,34.5 C28.4,31.8 26.1,30.2 23.3,30.2 C20.3,30.4 17.8,32.3 15.4,34.7 C12.8,37.1 10,37.7 8.1,35.4 Z" fill="#6a6a6a" stroke="#2a2a2a" stroke-width="0.7" stroke-linejoin="round"/>
<path d="M30.4,34 C36.5,34 40.8,38 40.9,43.2 C42.6,44.5 43.2,47.5 42.2,49.6 C41.5,51 40,51.6 39,52.4 C37,55.5 33.5,59.5 30.4,61 C27.3,59.5 23.8,55.5 21.8,52.4 C20.8,51.6 19.3,51 18.6,49.6 C17.6,47.5 18.2,44.5 19.9,43.2 C20,38 24.3,34 30.4,34 Z" fill="#adadad" stroke="#2e2e2e" stroke-width="0.95" stroke-linejoin="round"/>
<path d="M18.9,48.2 C19.6,44.6 21.8,43.2 23.5,43.3 C25.9,43.4 27.9,45.6 28.7,48.9 L27.4,49.2 C26.7,46.9 25.2,45.2 23.4,45.1 C21.6,45.1 20.4,46.4 19.9,48.6 Z" fill="#5c5c5c"/>
<path d="M41.9,48.2 C41.2,44.6 39,43.2 37.3,43.3 C34.9,43.4 32.9,45.6 32.1,48.9 L33.4,49.2 C34.1,46.9 35.6,45.2 37.4,45.1 C39.2,45.1 40.4,46.4 40.9,48.6 Z" fill="#5c5c5c"/>
<circle cx="27.2" cy="55.3" r="1.15" fill="#111"/>
<circle cx="33.6" cy="55.3" r="1.15" fill="#111"/>
<path d="M25.6,57.8 C28,58.8 32.8,58.8 35.2,57.8 L33,60.4 C31.8,61.5 29,61.5 27.8,60.4 Z" fill="#111"/>
<rect x="29.5" y="59.6" width="0.7" height="1.3" fill="#bbb"/><rect x="30.6" y="59.6" width="0.7" height="1.3" fill="#bbb"/>
<g stroke="#444" stroke-width="0.55" fill="none" stroke-linecap="round">
<path d="M25.8,58.3 L21,58.1 M26,58.8 L21.8,61.1 M26.6,59.3 L24.4,62.6"/>
<path d="M35,58.3 L39.8,58.1 M34.8,58.8 L39,61.1 M34.2,59.3 L36.4,62.6"/>
</g>
<line x1="14.80" y1="336.50" x2="257.70" y2="336.50" stroke="#222" stroke-width="1.1"/>
<line x1="265.30" y1="336.50" x2="507.50" y2="336.50" stroke="#222" stroke-width="1.1"/>
<text x="135.30" y="330.80" font-size="8.7" text-anchor="middle" fill="#1a1a1a" font-weight="normal" stroke="#1a1a1a" stroke-width="0.22" >WT</text>
<text x="395.60" y="330.80" font-size="8.7" text-anchor="middle" fill="#1a1a1a" font-weight="normal" stroke="#1a1a1a" stroke-width="0.22" >CGD</text>
<text x="73.90" y="347.90" font-size="8.7" text-anchor="middle" fill="#1a1a1a" font-weight="normal" stroke="#1a1a1a" stroke-width="0.22" >Vehicle</text>
<text x="191.65" y="347.90" font-size="8.7" text-anchor="middle" fill="#1a1a1a" font-weight="normal" stroke="#1a1a1a" stroke-width="0.22" >U75302</text>
<text x="326.30" y="347.90" font-size="8.7" text-anchor="middle" fill="#1a1a1a" font-weight="normal" stroke="#1a1a1a" stroke-width="0.22" >Vehicle</text>
<text x="448.30" y="347.90" font-size="8.7" text-anchor="middle" fill="#1a1a1a" font-weight="normal" stroke="#1a1a1a" stroke-width="0.22" >U75302</text>
<clipPath id="clip1"><rect x="9.0" y="353.6" width="125.9" height="118.7"/></clipPath>
<filter id="bl1" x="-20%" y="-20%" width="140%" height="140%"><feGaussianBlur stdDeviation="3"/></filter>
<g clip-path="url(#clip1)">
<rect x="9.0" y="353.6" width="125.9" height="118.7" fill="#fdfdff"/>
<g filter="url(#bl1)"><ellipse cx="61" cy="443.6" rx="11" ry="26" fill="#e0dff6" opacity="1.0"/><ellipse cx="37.8" cy="441.9" rx="21.9" ry="23.1" fill="#e9e8f8"/></g>
<filter id="dp1" x="-5%" y="-5%" width="110%" height="110%"><feTurbulence type="fractalNoise" baseFrequency="0.3" numOctaves="2" seed="1" result="t"/><feDisplacementMap in="SourceGraphic" in2="t" scale="3" xChannelSelector="R" yChannelSelector="G" result="d"/><feTurbulence type="fractalNoise" baseFrequency="0.7" numOctaves="1" seed="8" result="g"/><feColorMatrix in="g" type="matrix" values="0 0 0 0 0  0 0 0 0 0  0 0 0 0 0  0 0 0 4 -1.25" result="ga"/><feComposite in="d" in2="ga" operator="in"/></filter>
<g filter="url(#dp1)">
<path d="M134.5 475 135 474.4 M116.5 373.3 119.4 371.9 122.4 370.7 M116.5 373.3 119.4 375.5 120 379.1 M120 379.1 123.2 375.7 M131.2 376.5 128.4 374.9 128 371.2 125.3 369.5 M134.9 371.8 135.1 371.2 M135.1 371.2 135 371.1 M123.2 369.1 122.4 370.7 M123.2 369.1 125.3 369.5 M129.2 378 131.2 376.5 M137.9 382.1 135.8 380.2 134.3 377.9 132 376.3 M136.2 363.7 133.9 361.8 M136.2 363.7 135.8 367.5 135 371.1 M130.6 362.9 133.9 361.8 M130.6 362.9 130.5 367.7 M115 381.9 112 381.5 109 381.2 M109 381.2 106.6 384.3 M106.6 384.3 109.3 387.6 M5 411.6 4.6 410.3 M5.2 429.1 3.8 426.1 4.6 422.9 M7 432.3 6.8 430.8 M5.2 429.1 6.8 430.8 M129.2 378 127.8 381.8 M137.9 382.1 136.9 384.6 M136.9 384.6 134.5 382.9 131.8 385.2 129.4 384.2 M135 474.4 135.6 470.6 M75.4 472.2 76.3 467.8 M72.6 473.8 75.4 472.2 M82.7 472.5 84.6 474.3 M42.7 422 39.9 418.2 M39.9 418.2 42.4 415.8 43 412.4 M56.4 417.9 54.2 416.2 52.3 414.2 51.6 411.4 M54.4 420 51.4 418 49.3 415.1 M49.3 415.1 51.6 411.4 M52.4 423.2 53.5 425.9 52.9 428.7 M52.4 423.2 54.3 421.2 M52.9 428.7 56.2 427.9 59.5 427.1 M59.5 427.1 59.3 423.9 M45.6 422.7 49.1 421.8 52.4 423.2 M54.4 420 54.3 421.2 M72.6 473.8 69.9 473.5 M75.1 465.2 70.2 465.2 M70.2 465.2 70.6 468 70.9 470.8 69.9 473.5 M69.7 473.7 65.4 472.7 M59.1 480.5 60.5 478.4 62.6 476.9 63.3 474.2 65.4 472.7 M133.9 361.8 135.3 359 135.4 355.9 M137.5 355.3 135.4 355.9 M130.6 362.9 127 361.1 M131.6 354.3 135.4 355.9 M131.6 354.3 127.5 356.2 M127 361.1 127.5 356.2 M107.7 378 110.5 377.8 113.3 377 M105.5 376.1 105.4 375.4 M113.7 373.5 113.3 377 M109 381.2 107.7 378 M100.5 383 102 384 M100.5 383 100.5 382.3 M100.5 382.3 102 380.1 104.3 378.5 105.5 376.1 M102 384 106.6 384.3 M104.8 369.2 109.1 368 M104.8 369.2 104.4 369.9 M109.1 368 109.6 370.8 111.5 372.9 M104.4 369.9 104.6 374.1 M115.2 364.7 115.4 367.5 116 370.3 114.7 373 M115.2 364.7 112.1 364.1 M109.1 368 111.6 364.5 M114.7 373 113.7 373.5 M112.1 364.1 111.6 364.5 M116.5 373.3 114.7 373 M98.6 392.4 101.9 391.8 M101.9 391.8 103.8 390.4 M103.8 390.4 107.3 391.1 M4.6 351.3 7.5 352.8 M6.4 362.5 5.9 358.2 M5.9 358.2 5.7 357.7 M17.5 351.6 14.7 350 11.6 350.9 M11.6 350.9 11.6 350.9 M11.1 356 12.7 358.1 M5.9 358.2 8.6 357.2 11.1 356 M6.4 362.5 8.1 363.3 M12.7 358.1 12.5 360.7 13.9 362.9 M8.1 363.3 11 363.5 13.9 362.9 M4.9 401.9 3.9 401.5 M17.5 351.6 18.2 351.5 M19.2 350.5 18.2 351.5 M72 428 71.3 425.6 M78.9 421.5 77.9 421.3 M83 400 80.7 402.8 78.3 405.6 M83 400 85.1 403.4 M78.3 405.6 77 408.3 M8.8 448.5 5.9 449.9 2.7 450.9 M135.9 451.4 133.1 449.6 132.2 446.5 M140.9 441.6 137.8 442.9 134.7 444.1 132.2 446.5 M137.3 422.8 135.1 425.8 133 428.9 M133 428.9 135 430.9 137.8 431.5 M137.8 431.5 138.3 433.1 M140.9 441.6 139.2 439.3 136.7 438 M125 429.8 127.9 430.6 130.7 429.7 M125 429.8 121.9 426.5 M121.9 426.5 123.7 422.2 M131.1 429.3 130.7 429.7 M131.1 429.3 130.7 426.2 129.8 423.3 128.1 420.6 M123.7 422.2 128.1 420.6 M137.3 422.8 136 420.9 M136 420.9 133.5 419.8 130.7 422.8 128.2 420.5 M128.2 420.5 128.1 420.6 M133 428.9 131.1 429.3 M128.2 415.9 130.2 413.6 M128.2 415.9 124.7 414.6 121 414.1 M121 414.1 124 412 125.2 408.6 M125.2 408.6 127.6 409.5 130.1 410.1 M136 420.9 136.9 418.3 136.3 415.7 M128.2 420.5 128.2 415.9 M137.1 453.4 137.1 456.5 134.3 458.3 133.3 461.1 M137.1 453.4 135.9 451.7 M139.7 413.5 138 411.3 135.8 409.5 133.6 407.8 M133.6 407.8 132.8 407.6 M135.6 470.6 132.7 469.4 130.5 467.1 M133.3 461.1 131.3 461.5 M130.5 467.1 131.7 464.4 131.3 461.5 M132.5 474.9 130.6 472.5 128 471 M125.9 478.6 126.5 476 128.2 473.8 128 471 M134.5 475 132.5 474.9 M130.5 467.1 127.2 469.8 M59.7 455.6 64.5 455.3 M59.7 455.6 58.8 451.4 M65.2 446 66.9 449.7 M64.5 455.3 65.9 452.6 66.9 449.7 M70.1 465.1 70.2 465.2 M70.1 465.1 72 461.9 M75.5 454 73.1 453 71.3 450.9 68.8 450 M68.8 450 71.6 446.7 M76.5 451.1 73.7 449.3 71.6 446.7 M89.5 456.6 86.2 457.3 83.5 459.3 80.5 460.8 M51.6 411.4 52.2 410 M51.6 475.6 55.6 475.2 M66.3 464 63.8 463 M63.8 463 64.3 459.4 66.1 456.3 M67.8 463.7 68.8 460.5 68 457.2 M68 457.2 66.1 456.3 M59.4 462.3 63.8 463 M59.4 462.3 59.2 459.5 58.9 456.7 M70.1 465.1 67.8 463.7 M72 461.9 70.7 459.4 70 456.8 M70 456.8 68 457.2 M68.8 450 66.9 449.7 M70 456.8 72.7 455.3 75.5 454.1 M57 449.2 57.2 446.1 58.8 443.3 M65.2 446 65.2 444.2 M58.8 443.3 62.1 442.7 65.2 444.2 M60.8 428.6 59.2 431.5 60.2 434.7 M59.5 435 60.2 434.7 M131.4 352.5 134.6 350.7 136.7 347.7 M124 348.7 123.2 351.4 124.2 354 M131.6 354.3 131.4 352.5 M127.5 356.2 124.2 354 M121.5 365 116.8 364.3 M121.5 365 122.5 363.6 M116.8 364.3 117.4 361.2 116.8 358.1 M116.8 358.1 118.9 355.4 M118.9 355.4 120.6 355.7 M123.2 369.1 121.5 365 M115.2 364.7 116.8 364.3 M127 361.1 124.8 362.4 122.5 363.6 M124.2 354 120.6 355.7 M110.3 359.6 112.1 364.1 M96 347.9 94.3 350 92.5 352 91.8 354.7 M87.3 349.6 87.2 350.2 M87.2 350.2 88.9 353.6 M117.2 350.8 116.6 352.5 M116.6 352.5 113.7 351.7 111.3 353.6 M111.3 353.6 110.1 352.5 M121.5 347 119.4 348.9 117.2 350.8 M118.9 355.4 116.6 352.5 M110.1 352.5 107.4 352.7 104.7 352.7 M96.9 357.7 95.1 360.6 96.8 363.7 M96.8 363.7 99.7 363.7 102.6 363.9 M104.9 359.1 103.1 363.3 M102.6 363.9 103.1 363.3 M102.7 355.1 100.3 355.2 M111.6 364.5 108.6 365.6 106 363.2 103.1 363.3 M104.7 352.7 102.7 355.1 M78.3 405.6 78 402.6 76.5 400.1 M76.3 408.4 77 408.3 M76.5 400.1 79.8 396.4 M70 396.9 72.8 396.5 75.6 396.3 78 394.4 M78 394.4 79.8 396.4 M83 399.6 79.9 396.5 M83 399.6 83 400 M79.9 396.5 79.8 396.4 M13.9 362.9 14.6 363.2 M15.3 363.1 14.6 363.2 M8.1 363.3 6.3 365.9 7.9 368.5 8.3 371.1 M5.9 421.3 9.2 420.6 M38 408.8 37.3 404.7 M38 408.8 35.7 410.4 M30.7 407 33.2 408.8 35.7 410.4 M4.9 401.9 7.6 400.4 10.6 401.2 M10.6 401.2 13.1 405.3 M8.3 371.1 6.8 374 M13.8 376.2 10.8 376.6 M25 351.1 22.2 350.4 19.2 350.5 M28.4 349 27.7 350.4 M31.8 373.3 30.6 374.5 M31.8 373.3 34 374.7 36.3 375.9 38.4 377.4 M29.2 383.5 32 382.6 34.7 381.1 37.5 380.1 M37.5 380.1 38.4 377.4 M56.4 417.9 60.1 415.1 M52.2 410 55.2 411 56.7 414.5 60.2 414.7 M60.1 415.1 60.2 414.7 M75.8 417.8 72.5 417.2 69.1 417.5 M75.8 417.8 76.1 415.5 M76.1 415.5 75.8 412.8 74.8 410.3 M68.5 415.5 71.6 413.7 73.4 410.7 M83.6 413.6 84.4 412.2 M83.6 413.6 81.4 415.3 78.3 413.7 76.1 415.5 M64.1 406.9 63.8 407.4 M64.1 406.9 67.1 408.3 70.2 409.5 73.4 410.7 M63.2 411.9 65.3 414.5 68.5 415.5 M28.3 476.3 25.3 475.1 22.1 474.5 M19.7 475.2 22.1 474.5 M8.5 473.6 5.1 474.5 M3 472.9 5.1 474.5 M25.3 469.5 27.6 468.2 30.3 467.8 M20.9 464.7 24 464.9 27.2 465.3 30.3 465.6 M9.1 447.6 13.6 446 M13.6 446 16.1 442.3 M16.1 442.3 16.2 441.8 M7.4 457.3 7.8 460.4 8.2 463.5 M7.7 464.2 8.2 463.5 M11.3 454.2 10.6 455.1 M10.6 455.1 7.4 457.3 M7.4 464.8 7.7 464.2 M13.2 462 10.6 462.4 8.2 463.5 M134.1 438.2 130.6 435.9 M136.7 438 134.1 438.2 M130.7 429.7 132.3 432.8 130.6 435.9 M135.9 451.7 132.5 452.9 129.2 454.5 M129.2 454.5 128.9 451.9 127.7 449.6 M129.8 398.5 128.2 402.7 M128.2 402.7 129 405.6 131.6 407 M131.6 407 132.1 404.3 134.5 402.4 134.8 399.6 M132.8 407.6 134.9 405.9 135.9 403.3 138 401.5 M131.6 407 131.8 407.7 M134.8 399.6 138 401.5 M122.7 396.4 127.3 396.4 M122.7 396.4 122.6 396.3 M127.3 396.4 127.6 393 129.4 390.2 M115 393.1 117.6 393.9 120.1 395 122.6 396.3 M129.2 454.5 127.5 457.2 M131.3 461.5 130 460.9 M130 460.9 127.5 457.2 M122 452.6 122.8 451.4 M122 452.6 122.4 455.9 125.5 456.7 M122.8 451.4 125.1 450.1 127.7 449.6 M96.5 432 98.2 429.1 M97 433.4 99 435.6 99.6 439 102.8 440 M81.3 421.8 82 426 M81.3 421.8 81.7 421.5 M81.7 421.5 84.9 421.7 88 421.8 M89.5 425.5 88.3 428.2 M78.9 421.5 81.3 421.8 M78.9 430 80.4 428 82 426 M77.9 421.3 75.8 417.8 M83.6 413.6 82.7 416.2 81.5 418.7 81.7 421.5 M95.9 426.4 98.3 428.8 M116.8 427.1 115.9 431.4 M121.9 426.5 119.3 425.8 116.8 427.1 M122.1 434.7 122.4 436.7 M77.9 457.4 77.2 456.1 M77.9 457.4 81.7 457.3 84.8 455 M77.2 456.1 80.5 454.9 83.5 453.1 M84.8 455 83.5 453.1 M75.5 454.1 77.2 456.1 M89.5 456.6 84.8 455 M90.5 452.5 91.3 455.2 M40.1 396.1 40.7 401 M36.5 395.3 40.1 396.1 M38 408.8 42 409.5 M70 396.9 67.7 393.7 M69.7 401.7 67.2 402.7 65 404.4 M67.7 393.7 63 394.2 M61.2 395 62.3 397.3 63.1 399.7 64.8 401.8 65 404.4 M64.1 406.9 64.7 404.9 M65 404.4 64.7 404.9 M54 407.1 55.6 406.6 M55.6 406.6 57.3 404.1 57.6 401 M53 402 57.2 400.2 M57.2 400.2 57.6 401 M49.9 399.4 53 402 M49.9 399.4 47.5 402.1 M52.1 409.1 54 407.1 M63.8 407.4 61.1 407 58.2 407.8 55.6 406.6 M63.2 411.9 60.2 414.7 M64.7 404.9 62.7 402.8 59.9 402.3 57.6 401 M56.9 472.2 55.1 468 M55.1 468 55.5 465.9 M65.4 472.7 63.6 471.2 M55.6 475.2 56.9 472.2 M69.7 473.7 69.9 473.5 M66.3 464 65.5 467.2 63.3 469.7 M59.4 462.3 58.7 463.7 M51.2 459.1 53.4 457 56.4 456.7 M58.9 456.7 56.4 456.7 M50.8 463 53.3 464.2 55.5 465.9 M50.8 463 51.2 459.1 M70.3 442.8 73 442.6 75.3 441.3 M72 428 71.4 432.9 M71.4 432.9 73.5 436.7 77.7 436.8 M87.2 350.2 84.8 351.2 82.1 351.3 79.6 352.2 M92 355.1 91 358.1 89.2 360.7 88.3 363.7 M84.5 361.8 85.2 359.2 85.5 356.4 M84.5 361.8 84.9 362.8 M88.3 363.7 84.9 362.8 M104.6 374.1 101.7 374.8 98.9 374.2 M98.3 428.8 100.8 426.3 M20.3 411.6 17.1 410.2 13.9 409.1 M20.3 411.6 18.5 413.8 17.7 416.5 M17.7 416.5 14.9 415.4 12 414.2 M13.9 409.1 13.5 411.8 12 414.2 M23.9 409.7 20.3 411.6 M18 403.6 13.5 405.6 M13.5 405.6 13.9 409.1 M10.9 414.8 12 414.2 M13.1 405.3 13.5 405.6 M9.2 420.6 12.1 423.2 M12.7 425.1 12.1 423.2 M18.4 417.8 18 419.1 M18.4 417.8 17.7 416.5 M12.1 423.2 14.6 420.6 18 419.1 M35.7 410.4 35.5 410.9 M36.5 417.1 37.2 413.8 35.5 410.9 M23.9 409.7 24.8 409.8 M26.6 407.6 24.8 409.8 M26.6 407.6 26.5 404.9 26.8 402.3 26.2 399.7 M18 403.6 19.6 400.5 M19.6 400.5 23 400.9 26.2 399.7 M32.7 400.2 29.3 401.5 26.3 399.6 M26.6 407.6 30.7 407 M26.2 399.7 26.3 399.6 M6.3 391.5 4.1 393.9 M5.5 395.5 4.1 393.9 M3.9 401.5 4.7 398.5 5.5 395.5 M4.5 386.5 6.6 384.3 9.6 385 M10.8 376.6 10.9 380.3 9.3 383.6 M35.6 393.9 33.3 393.4 M33.3 393.4 29.5 390.4 M36.1 387.5 33.4 386.6 30.7 385.6 M45 392.8 43.8 390.5 41.7 388.7 40.4 386.4 M45 392.8 41.3 395.5 M36.5 395.3 35.6 393.9 M38.2 386 36.1 387.5 M26.3 396.1 26.3 399.6 M26.3 396.1 28.9 395.9 30.7 393.5 33.3 393.4 M26.3 396.1 24.9 392.4 M29.2 383.5 30.7 385.6 M38.2 386 38.2 383 37.5 380.1 M76.4 370.4 75.9 369.7 M83.2 364.4 81.4 368.5 M83.2 364.4 80 364.7 76.9 363.6 73.8 363.3 M75.9 369.7 74.1 366.8 73.8 363.3 M37.1 351.5 33.3 350.3 32.4 346.6 M38.4 377.4 39.2 377.2 M43 384.5 42.2 381.3 44.4 378.7 M39.2 377.2 41.8 377.8 44.4 378.7 M31.8 373.3 31.8 370.6 M39.2 377.2 40.2 374.4 41.4 371.6 M68.4 419.4 65.4 419.3 62.6 420.4 M68.4 419.4 69.6 422.1 70.3 425.1 M66.4 426 64.4 423.7 62.2 421.6 M66.4 426 70.3 425.1 M60.1 415.1 61.8 417.5 62.6 420.4 M69.1 417.5 68.4 419.4 M71.3 425.6 70.3 425.1 M60.8 428.6 64.8 427.7 M64.8 427.7 66.4 426 M19.7 475.2 17.1 471.1 M17.1 471.1 13.6 470.4 10.3 471.5 M7.4 464.8 9.4 467.3 M10.3 471.5 9.4 467.3 M16.2 463 13.5 465.3 10.5 467 M16.2 463 18.6 463.4 M18.6 463.4 17.4 467.5 M13.2 462 16.2 463 M9.4 467.3 10.5 467 M11.3 454.2 15 453.7 18.6 454.5 M18.7 463.3 18.6 463.4 M18.7 463.3 20.5 459.6 M20.9 464.7 18.7 463.3 M50.8 463 48 464 45.4 465.5 M45.4 465.5 44.2 462.9 44.5 460 M32.3 470.9 35.1 469.6 38.1 469.3 M33.1 475.6 32 474.6 M33.1 475.6 36.4 475.5 39.5 474.3 M39.5 474.3 38.8 471.8 38.1 469.3 M30.3 467.8 32.3 470.9 M41.2 475.3 39.5 474.3 M13.6 446 15.3 449.7 19.2 451 M12.7 425.1 15.5 427.1 M13 435.2 13.9 432.5 15.9 430.2 15.5 427.1 M20.1 424.5 16.5 427.1 M15.5 427.1 16.5 427.1 M134.6 391.1 137.3 389.4 M134.6 391.1 133.3 394.4 133.7 398 M129.4 390.2 132.1 389.7 134.6 391.1 M129.8 398.5 127.3 396.4 M133.7 398 133.7 398 M94.9 420.8 90.5 419 M84.6 474.3 88.3 472.5 M87.5 464.7 87.9 467.6 89.6 469.9 M89.6 469.9 88.3 472.5 M89.6 469.9 92.2 469.1 94.9 468.8 97.1 467.1 M96.1 464.7 97.1 467.1 M49.9 399.4 50.6 395.2 M57.4 394.7 54.5 394.7 51.6 395 M50.6 395.2 51.6 395 M45 392.8 46.1 392.7 M50.6 395.2 47.7 395.1 46.1 392.7 M43 384.5 45.5 386 48.3 386.5 M46.1 392.7 45 388.8 48.3 386.5 M44.4 378.7 46.6 378.3 M46.6 378.3 47.6 380.7 46.6 383.8 49.3 385.5 M48.3 386.5 49.3 385.5 M53.1 468.7 50.6 467.6 48.1 466.2 45.3 465.6 M53.1 468.7 49.8 470.3 47.2 472.9 M46.5 472.7 44.5 470.1 44.3 466.9 M46.5 472.7 47.2 472.9 M45.4 465.5 45.3 465.6 M51.6 475.6 49.9 473.5 47.2 472.9 M46 473.3 46.5 472.7 M40.9 466.6 44.3 466.9 M40.9 466.6 38.1 469.3 M40.9 466.6 39.9 464.1 37.5 462.8 M65.8 443.6 68.4 442.4 M68.4 442.4 67.5 439.7 67.8 436.9 68.6 434.2 M67.4 434 68.6 434.2 M60.2 434.7 61.6 435.2 M65.2 444.2 65.8 443.6 M71.4 432.9 68.6 434.2 M64.8 427.7 67.7 430.2 67.4 434 M84.5 361.8 82.3 360 79.8 358.7 77.5 357 M84.9 362.8 83.2 364.4 M73.6 363.1 74.1 361.8 M74.1 361.8 75.6 359.2 77.5 357 M80 382.8 82.6 379.6 M76.3 383.1 76.3 380.5 76 378 74.2 375.8 M74.2 375.8 76 373.9 M76 373.9 78.8 375.7 82 375.9 M82 375.9 82.6 379.6 M86.3 387.5 83.8 386.4 81.8 384.7 80 382.8 M96.8 363.7 95.9 364.6 M88.3 363.7 89.6 364.7 M89.6 364.7 92.7 363.9 95.9 364.6 M104.4 369.9 100.7 369.7 97 369.6 M95.9 364.6 97.3 366.9 97 369.6 M98.9 374.2 96.7 370.6 M97 369.6 96.7 370.6 M123.7 422.2 122.6 421.3 M121 414.1 120.5 414.2 M120.5 414.2 119.5 416.6 M122.6 421.3 120.9 419.1 119.5 416.6 M118.5 411.7 114.4 409.6 M114.4 409.6 114.7 406.1 116.5 403.1 M120.3 401.8 122.5 403.7 M120.3 401.8 117.4 402.2 M120.5 414.2 118.5 411.7 M122.7 396.4 122.8 399.7 120.3 401.8 M122.6 421.3 119.9 420.9 117.6 423.5 114.8 422.7 M119.5 416.6 116.3 418.6 M116.3 418.6 114.8 422.7 M114.8 422.7 114.3 423.6 M106.5 425.5 107.6 424.1 M114.3 423.6 112.6 423.2 M109.9 402.2 108.8 405.5 107.6 408.7 M109.9 402.2 113.2 402.4 116.5 403.1 M111.7 410.7 107.6 408.7 M112.6 423.2 111.8 419.6 109.5 416.7 M97.4 399.7 95.2 404.1 M95.2 404.1 92.5 405.2 90.1 403.6 M85.1 403.4 89 404.6 M84.8 412.2 87.6 411.1 90 409.4 M89 404.6 90.1 403.6 M26.7 413.7 27.9 414.3 M26.7 413.7 25 416 23.1 418.1 M27.9 414.3 29.4 417.4 31.8 419.9 M31.3 421.8 31.8 419.9 M24.8 409.8 26.7 413.7 M35.5 410.9 33.7 413.5 30.2 412.6 27.9 414.3 M18.4 417.8 23.1 418.1 M36.5 417.1 34.5 419.1 31.8 419.9 M20.1 424.5 22.8 424.6 25.6 424.7 M18.8 398.9 21.1 397 23 394.7 24.8 392.4 M24.8 392.4 22.2 390.1 M24.9 392.4 24.8 392.4 M25 383.3 22.8 386.4 22.2 390.1 M21.2 371.7 20.1 374.3 18.1 375.9 15.7 377.1 M23.4 374.7 23.1 375.7 M15.7 377.1 16.1 377.7 M16.1 377.7 19.7 376.8 23.1 375.7 M30.6 374.5 27 374.7 23.4 374.7 M21.2 371.7 21 370.5 M31.8 370.6 30.8 369.6 M30.8 369.6 27.7 368.9 24.6 369.1 M24.6 369.1 21 370.5 M13.8 376.2 15.7 377.1 M21 370.5 20.4 369.9 M15.3 363.1 18.4 364.5 M20.4 369.9 21.4 366.4 18.4 364.5 M23.6 358.7 24.8 358.1 M22.6 362.8 24.4 363.7 M25 351.1 25.3 354.6 24.8 358.1 M24.6 369.1 24.2 366.4 24.4 363.7 M30.8 369.6 29.8 366.7 29 363.9 M37 367 38.1 364.7 M51.6 395 52.4 392.2 52.6 389.3 52.8 386.5 M57.3 386.9 52.8 386.5 M49.3 385.5 50.9 385.5 M50.9 385.5 52.8 386.5 M67.7 393.7 68.8 391 69.9 388.3 M63 394.2 62 391.6 63.4 389.1 M57.8 388.3 60.3 388.8 62.8 388.2 M63.4 389.1 62.8 388.2 M70.3 386.3 70.2 387.8 M69.9 388.3 70.2 387.8 M70.3 375.7 70.1 373 68.6 370.6 M70.3 375.7 74.2 375.8 M76.4 370.4 76 373.9 M75.9 369.7 72.5 369.6 69 369.7 M68.6 370.6 69 369.7 M68.8 363.5 73.6 363.1 M69 369.7 68.4 365 M44.1 370.5 46.9 372 M46.9 372 47 375.1 46.8 378.2 M68.4 365 65.7 366.1 64.2 368.7 61.6 370 M61.6 370 62.3 371.4 M38.1 364.7 39.1 363.7 M44.1 370.5 43.2 367.4 44 364.3 M32 356.4 34.7 357 37.3 355.8 M39.1 363.7 38.7 361 37.5 358.5 37.3 355.8 M102.4 441.9 103.2 443.3 M102.4 441.9 99.9 442.1 M102.6 446.2 103.2 443.8 M102.6 446.2 99.2 445.9 96.7 448.1 M103.2 443.3 103.2 443.8 M102.8 440 102.4 441.9 M102.6 452.2 105.6 451.7 108.5 452.9 M108.5 452.9 109.5 450.7 M109.3 450.2 109.5 450.7 M109.3 450.2 106.7 448.5 106.1 445.1 103.2 443.8 M109.3 443.9 109.1 447 109.3 450.2 M115.5 446.5 119 446.7 122.2 445.2 M121.1 438.9 119.6 439.2 M115.4 447.7 112.7 449.8 109.5 450.7 M115.4 447.7 115.5 446.5 M122 452.6 118.3 453.2 M118.3 453.2 118.4 449.6 115.4 447.7 M122.4 436.7 121.1 438.9 M107 408.7 107.6 408.7 M107 408.7 105.6 412.2 103 414.9 M109.5 416.7 105.4 417.9 M103 414.9 105.4 417.9 M100.8 426.3 100.8 421.8 M100.8 421.8 104.5 422.2 105.3 418.6 M94.9 420.8 97.9 419 M100.8 421.8 97.9 419 M105.3 418.6 105.4 417.9 M102.8 459.3 100.1 461.1 97.3 462.7 M102.8 459.3 100.9 457.1 100 454.2 M97.3 462.7 99.1 460.2 99 457.4 98.5 454.5 M100 454.2 99.2 454.2 M91.3 455.2 94.9 455.2 98.5 454.5 M96.1 464.7 97.3 462.7 M96.7 448.1 98.6 450.9 99.2 454.2 M115.3 473.5 119 474.2 122.1 471.9 M122.1 471.9 123.3 469.4 M121.9 465.6 121.7 465.5 M107.8 475.9 111.7 475.5 114.7 473 M104.6 474 107.8 475.9 M104.6 474 104.5 472.8 M104.5 472.8 107.7 472.5 110.6 471.2 113.2 469.4 M127.2 469.8 123.3 469.4 M130 460.9 127.5 462.9 124.4 463.7 121.9 465.6 M125.5 456.7 123.2 459.6 120.1 461.7 M120.1 461.7 121.7 465.5 M101.1 478.5 98.6 477.8 95.8 478.1 93.8 476 M96.1 472.7 93.7 475.7 M93.7 475.7 93.8 476 M104.6 474 101.8 477.1 M97.6 467.5 100 468.6 102.6 468.2 M97.6 467.5 95.6 469.7 96.1 472.7 M104.5 472.8 102.6 468.2 M88.3 472.5 90.6 474.8 93.7 475.7 M97.1 467.1 97.6 467.5 M77.6 354.2 75 352.7 72.2 352 M77.3 355.4 73.9 355.6 70.4 356.1 M72.2 352 68.9 355.5 M68.9 355.5 70.4 356.1 M77.5 357 77.3 355.4 M74.1 361.8 72.1 359.1 70.4 356.1 M84.9 373 84.9 372.9 M82 375.9 84.9 373 M100.6 398.5 102 400.8 104.7 401.6 M104.7 401.6 108.3 399.8 M103.5 406.4 104.7 401.6 M103.5 406.4 102.4 406.4 M102.4 406.4 100.5 404.3 99.4 401.6 97.4 399.7 M97.4 398.5 100.6 398.5 M101.9 391.8 103.9 393.6 104.4 396.2 M107 408.7 103.5 406.4 M97.4 409.5 95.8 408.9 M97.4 409.5 96.9 412.6 99.4 414.5 M92.2 410.1 91.4 412.8 92.5 415.5 M92.5 415.5 95.6 415.6 98.7 415.4 M99.4 414.5 98.7 415.4 M95.2 404.1 95.8 408.9 M103 414.9 99.4 414.5 M90 409.4 92.2 410.1 M90.5 418.2 92.5 415.5 M97.9 419 98.7 415.4 M22.8 381.6 18.9 381.2 M57.3 386.9 58 385.2 M50.9 385.5 53.3 381.3 M58 385.2 55.8 383.1 53.3 381.3 M46.8 378.2 51 377.7 M51 377.7 53.5 378.6 M65.1 383.4 67.2 383.5 M65.1 383.4 60.8 381.8 M60.2 379.9 62.4 378.4 64.8 377.5 67.1 376.2 M68.9 376.7 67.1 376.2 M70.3 386.3 67.2 383.5 M58 385.2 60.8 381.8 M58.9 377.8 57.5 377.5 M58.9 377.8 60.2 379.9 M57.5 377.5 53.5 378.6 M62.3 372.4 60.6 375.1 58.9 377.8 M70.3 375.7 68.9 376.7 M49.6 349.1 49.2 349.8 M49.2 349.8 45.9 351.6 M37.1 351.5 37.9 354.5 M44.7 351.2 42.5 352.4 40.1 353.3 37.9 354.5 M37.3 355.8 37.3 355.7 M44 364.3 45.9 363.3 M45.9 351.6 47.3 354.3 48.1 357.2 M108.5 452.9 110.1 455.7 M120.1 461.7 116.1 458.7 M114 461.8 116.1 458.7 M68.9 355.5 66.7 355.9 M66.7 355.9 66.5 352.2 64.3 349.4 M65.9 360.9 66 357.5 M66.7 355.9 66 357.5 M61.6 370 58.9 367.5 M57.5 377.5 57 374.5 54.4 372.4 53.8 369.5 M58.9 367.5 56.9 370.1 53.8 369.5 M52 369 53 369.4 M53 369.4 53.8 369.5 M104.1 460.3 108.4 458.2 M108.4 458.2 109.5 461.2 110.5 464.3 M102.6 468.2 104.5 466 M102.8 459.3 104.1 460.3 M110.1 455.7 108.4 458.2 M64.1 349.2 61.3 350.4 58.4 350.9 M58.4 350.9 55.8 347.7 M64.3 349.4 64.1 349.2 M59.8 363 58.6 359.6 58.4 355.9 M59.8 363 59.7 363.1 M56.9 353.9 58.4 355.9 M58.9 367.5 59.7 363.1 M65.9 360.9 63.2 362.9 59.8 363 M66 357.5 63.2 358 60.7 357.5 58.4 355.9 M58.4 350.9 56.9 353.9" fill="none" stroke="#d2cdef" stroke-width="3.0" stroke-linecap="round" stroke-linejoin="round" opacity="1"/>
<path d="M134.5 475 135 474.4 M116.5 373.3 119.4 371.9 122.4 370.7 M116.5 373.3 119.4 375.5 120 379.1 M120 379.1 123.2 375.7 M131.2 376.5 128.4 374.9 128 371.2 125.3 369.5 M134.9 371.8 135.1 371.2 M135.1 371.2 135 371.1 M123.2 369.1 122.4 370.7 M123.2 369.1 125.3 369.5 M129.2 378 131.2 376.5 M137.9 382.1 135.8 380.2 134.3 377.9 132 376.3 M136.2 363.7 133.9 361.8 M136.2 363.7 135.8 367.5 135 371.1 M130.6 362.9 133.9 361.8 M130.6 362.9 130.5 367.7 M115 381.9 112 381.5 109 381.2 M109 381.2 106.6 384.3 M106.6 384.3 109.3 387.6 M5 411.6 4.6 410.3 M5.2 429.1 3.8 426.1 4.6 422.9 M7 432.3 6.8 430.8 M5.2 429.1 6.8 430.8 M129.2 378 127.8 381.8 M137.9 382.1 136.9 384.6 M136.9 384.6 134.5 382.9 131.8 385.2 129.4 384.2 M135 474.4 135.6 470.6 M75.4 472.2 76.3 467.8 M72.6 473.8 75.4 472.2 M82.7 472.5 84.6 474.3 M42.7 422 39.9 418.2 M39.9 418.2 42.4 415.8 43 412.4 M56.4 417.9 54.2 416.2 52.3 414.2 51.6 411.4 M54.4 420 51.4 418 49.3 415.1 M49.3 415.1 51.6 411.4 M52.4 423.2 53.5 425.9 52.9 428.7 M52.4 423.2 54.3 421.2 M52.9 428.7 56.2 427.9 59.5 427.1 M59.5 427.1 59.3 423.9 M45.6 422.7 49.1 421.8 52.4 423.2 M54.4 420 54.3 421.2 M72.6 473.8 69.9 473.5 M75.1 465.2 70.2 465.2 M70.2 465.2 70.6 468 70.9 470.8 69.9 473.5 M69.7 473.7 65.4 472.7 M59.1 480.5 60.5 478.4 62.6 476.9 63.3 474.2 65.4 472.7 M133.9 361.8 135.3 359 135.4 355.9 M137.5 355.3 135.4 355.9 M130.6 362.9 127 361.1 M131.6 354.3 135.4 355.9 M131.6 354.3 127.5 356.2 M127 361.1 127.5 356.2 M107.7 378 110.5 377.8 113.3 377 M105.5 376.1 105.4 375.4 M113.7 373.5 113.3 377 M109 381.2 107.7 378 M100.5 383 102 384 M100.5 383 100.5 382.3 M100.5 382.3 102 380.1 104.3 378.5 105.5 376.1 M102 384 106.6 384.3 M104.8 369.2 109.1 368 M104.8 369.2 104.4 369.9 M109.1 368 109.6 370.8 111.5 372.9 M104.4 369.9 104.6 374.1 M115.2 364.7 115.4 367.5 116 370.3 114.7 373 M115.2 364.7 112.1 364.1 M109.1 368 111.6 364.5 M114.7 373 113.7 373.5 M112.1 364.1 111.6 364.5 M116.5 373.3 114.7 373 M98.6 392.4 101.9 391.8 M101.9 391.8 103.8 390.4 M103.8 390.4 107.3 391.1 M4.6 351.3 7.5 352.8 M6.4 362.5 5.9 358.2 M5.9 358.2 5.7 357.7 M17.5 351.6 14.7 350 11.6 350.9 M11.6 350.9 11.6 350.9 M11.1 356 12.7 358.1 M5.9 358.2 8.6 357.2 11.1 356 M6.4 362.5 8.1 363.3 M12.7 358.1 12.5 360.7 13.9 362.9 M8.1 363.3 11 363.5 13.9 362.9 M4.9 401.9 3.9 401.5 M17.5 351.6 18.2 351.5 M19.2 350.5 18.2 351.5 M72 428 71.3 425.6 M78.9 421.5 77.9 421.3 M83 400 80.7 402.8 78.3 405.6 M83 400 85.1 403.4 M78.3 405.6 77 408.3 M8.8 448.5 5.9 449.9 2.7 450.9 M135.9 451.4 133.1 449.6 132.2 446.5 M140.9 441.6 137.8 442.9 134.7 444.1 132.2 446.5 M137.3 422.8 135.1 425.8 133 428.9 M133 428.9 135 430.9 137.8 431.5 M137.8 431.5 138.3 433.1 M140.9 441.6 139.2 439.3 136.7 438 M125 429.8 127.9 430.6 130.7 429.7 M125 429.8 121.9 426.5 M121.9 426.5 123.7 422.2 M131.1 429.3 130.7 429.7 M131.1 429.3 130.7 426.2 129.8 423.3 128.1 420.6 M123.7 422.2 128.1 420.6 M137.3 422.8 136 420.9 M136 420.9 133.5 419.8 130.7 422.8 128.2 420.5 M128.2 420.5 128.1 420.6 M133 428.9 131.1 429.3 M128.2 415.9 130.2 413.6 M128.2 415.9 124.7 414.6 121 414.1 M121 414.1 124 412 125.2 408.6 M125.2 408.6 127.6 409.5 130.1 410.1 M136 420.9 136.9 418.3 136.3 415.7 M128.2 420.5 128.2 415.9 M137.1 453.4 137.1 456.5 134.3 458.3 133.3 461.1 M137.1 453.4 135.9 451.7 M139.7 413.5 138 411.3 135.8 409.5 133.6 407.8 M133.6 407.8 132.8 407.6 M135.6 470.6 132.7 469.4 130.5 467.1 M133.3 461.1 131.3 461.5 M130.5 467.1 131.7 464.4 131.3 461.5 M132.5 474.9 130.6 472.5 128 471 M125.9 478.6 126.5 476 128.2 473.8 128 471 M134.5 475 132.5 474.9 M130.5 467.1 127.2 469.8 M59.7 455.6 64.5 455.3 M59.7 455.6 58.8 451.4 M65.2 446 66.9 449.7 M64.5 455.3 65.9 452.6 66.9 449.7 M70.1 465.1 70.2 465.2 M70.1 465.1 72 461.9 M75.5 454 73.1 453 71.3 450.9 68.8 450 M68.8 450 71.6 446.7 M76.5 451.1 73.7 449.3 71.6 446.7 M89.5 456.6 86.2 457.3 83.5 459.3 80.5 460.8 M51.6 411.4 52.2 410 M51.6 475.6 55.6 475.2 M66.3 464 63.8 463 M63.8 463 64.3 459.4 66.1 456.3 M67.8 463.7 68.8 460.5 68 457.2 M68 457.2 66.1 456.3 M59.4 462.3 63.8 463 M59.4 462.3 59.2 459.5 58.9 456.7 M70.1 465.1 67.8 463.7 M72 461.9 70.7 459.4 70 456.8 M70 456.8 68 457.2 M68.8 450 66.9 449.7 M70 456.8 72.7 455.3 75.5 454.1 M57 449.2 57.2 446.1 58.8 443.3 M65.2 446 65.2 444.2 M58.8 443.3 62.1 442.7 65.2 444.2 M60.8 428.6 59.2 431.5 60.2 434.7 M59.5 435 60.2 434.7 M131.4 352.5 134.6 350.7 136.7 347.7 M124 348.7 123.2 351.4 124.2 354 M131.6 354.3 131.4 352.5 M127.5 356.2 124.2 354 M121.5 365 116.8 364.3 M121.5 365 122.5 363.6 M116.8 364.3 117.4 361.2 116.8 358.1 M116.8 358.1 118.9 355.4 M118.9 355.4 120.6 355.7 M123.2 369.1 121.5 365 M115.2 364.7 116.8 364.3 M127 361.1 124.8 362.4 122.5 363.6 M124.2 354 120.6 355.7 M110.3 359.6 112.1 364.1 M96 347.9 94.3 350 92.5 352 91.8 354.7 M87.3 349.6 87.2 350.2 M87.2 350.2 88.9 353.6 M117.2 350.8 116.6 352.5 M116.6 352.5 113.7 351.7 111.3 353.6 M111.3 353.6 110.1 352.5 M121.5 347 119.4 348.9 117.2 350.8 M118.9 355.4 116.6 352.5 M110.1 352.5 107.4 352.7 104.7 352.7 M96.9 357.7 95.1 360.6 96.8 363.7 M96.8 363.7 99.7 363.7 102.6 363.9 M104.9 359.1 103.1 363.3 M102.6 363.9 103.1 363.3 M102.7 355.1 100.3 355.2 M111.6 364.5 108.6 365.6 106 363.2 103.1 363.3 M104.7 352.7 102.7 355.1 M78.3 405.6 78 402.6 76.5 400.1 M76.3 408.4 77 408.3 M76.5 400.1 79.8 396.4 M70 396.9 72.8 396.5 75.6 396.3 78 394.4 M78 394.4 79.8 396.4 M83 399.6 79.9 396.5 M83 399.6 83 400 M79.9 396.5 79.8 396.4 M13.9 362.9 14.6 363.2 M15.3 363.1 14.6 363.2 M8.1 363.3 6.3 365.9 7.9 368.5 8.3 371.1 M5.9 421.3 9.2 420.6 M38 408.8 37.3 404.7 M38 408.8 35.7 410.4 M30.7 407 33.2 408.8 35.7 410.4 M4.9 401.9 7.6 400.4 10.6 401.2 M10.6 401.2 13.1 405.3 M8.3 371.1 6.8 374 M13.8 376.2 10.8 376.6 M25 351.1 22.2 350.4 19.2 350.5 M28.4 349 27.7 350.4 M31.8 373.3 30.6 374.5 M31.8 373.3 34 374.7 36.3 375.9 38.4 377.4 M29.2 383.5 32 382.6 34.7 381.1 37.5 380.1 M37.5 380.1 38.4 377.4 M56.4 417.9 60.1 415.1 M52.2 410 55.2 411 56.7 414.5 60.2 414.7 M60.1 415.1 60.2 414.7 M75.8 417.8 72.5 417.2 69.1 417.5 M75.8 417.8 76.1 415.5 M76.1 415.5 75.8 412.8 74.8 410.3 M68.5 415.5 71.6 413.7 73.4 410.7 M83.6 413.6 84.4 412.2 M83.6 413.6 81.4 415.3 78.3 413.7 76.1 415.5 M64.1 406.9 63.8 407.4 M64.1 406.9 67.1 408.3 70.2 409.5 73.4 410.7 M63.2 411.9 65.3 414.5 68.5 415.5 M28.3 476.3 25.3 475.1 22.1 474.5 M19.7 475.2 22.1 474.5 M8.5 473.6 5.1 474.5 M3 472.9 5.1 474.5 M25.3 469.5 27.6 468.2 30.3 467.8 M20.9 464.7 24 464.9 27.2 465.3 30.3 465.6 M9.1 447.6 13.6 446 M13.6 446 16.1 442.3 M16.1 442.3 16.2 441.8 M7.4 457.3 7.8 460.4 8.2 463.5 M7.7 464.2 8.2 463.5 M11.3 454.2 10.6 455.1 M10.6 455.1 7.4 457.3 M7.4 464.8 7.7 464.2 M13.2 462 10.6 462.4 8.2 463.5 M134.1 438.2 130.6 435.9 M136.7 438 134.1 438.2 M130.7 429.7 132.3 432.8 130.6 435.9 M135.9 451.7 132.5 452.9 129.2 454.5 M129.2 454.5 128.9 451.9 127.7 449.6 M129.8 398.5 128.2 402.7 M128.2 402.7 129 405.6 131.6 407 M131.6 407 132.1 404.3 134.5 402.4 134.8 399.6 M132.8 407.6 134.9 405.9 135.9 403.3 138 401.5 M131.6 407 131.8 407.7 M134.8 399.6 138 401.5 M122.7 396.4 127.3 396.4 M122.7 396.4 122.6 396.3 M127.3 396.4 127.6 393 129.4 390.2 M115 393.1 117.6 393.9 120.1 395 122.6 396.3 M129.2 454.5 127.5 457.2 M131.3 461.5 130 460.9 M130 460.9 127.5 457.2 M122 452.6 122.8 451.4 M122 452.6 122.4 455.9 125.5 456.7 M122.8 451.4 125.1 450.1 127.7 449.6 M96.5 432 98.2 429.1 M97 433.4 99 435.6 99.6 439 102.8 440 M81.3 421.8 82 426 M81.3 421.8 81.7 421.5 M81.7 421.5 84.9 421.7 88 421.8 M89.5 425.5 88.3 428.2 M78.9 421.5 81.3 421.8 M78.9 430 80.4 428 82 426 M77.9 421.3 75.8 417.8 M83.6 413.6 82.7 416.2 81.5 418.7 81.7 421.5 M95.9 426.4 98.3 428.8 M116.8 427.1 115.9 431.4 M121.9 426.5 119.3 425.8 116.8 427.1 M122.1 434.7 122.4 436.7 M77.9 457.4 77.2 456.1 M77.9 457.4 81.7 457.3 84.8 455 M77.2 456.1 80.5 454.9 83.5 453.1 M84.8 455 83.5 453.1 M75.5 454.1 77.2 456.1 M89.5 456.6 84.8 455 M90.5 452.5 91.3 455.2 M40.1 396.1 40.7 401 M36.5 395.3 40.1 396.1 M38 408.8 42 409.5 M70 396.9 67.7 393.7 M69.7 401.7 67.2 402.7 65 404.4 M67.7 393.7 63 394.2 M61.2 395 62.3 397.3 63.1 399.7 64.8 401.8 65 404.4 M64.1 406.9 64.7 404.9 M65 404.4 64.7 404.9 M54 407.1 55.6 406.6 M55.6 406.6 57.3 404.1 57.6 401 M53 402 57.2 400.2 M57.2 400.2 57.6 401 M49.9 399.4 53 402 M49.9 399.4 47.5 402.1 M52.1 409.1 54 407.1 M63.8 407.4 61.1 407 58.2 407.8 55.6 406.6 M63.2 411.9 60.2 414.7 M64.7 404.9 62.7 402.8 59.9 402.3 57.6 401 M56.9 472.2 55.1 468 M55.1 468 55.5 465.9 M65.4 472.7 63.6 471.2 M55.6 475.2 56.9 472.2 M69.7 473.7 69.9 473.5 M66.3 464 65.5 467.2 63.3 469.7 M59.4 462.3 58.7 463.7 M51.2 459.1 53.4 457 56.4 456.7 M58.9 456.7 56.4 456.7 M50.8 463 53.3 464.2 55.5 465.9 M50.8 463 51.2 459.1 M70.3 442.8 73 442.6 75.3 441.3 M72 428 71.4 432.9 M71.4 432.9 73.5 436.7 77.7 436.8 M87.2 350.2 84.8 351.2 82.1 351.3 79.6 352.2 M92 355.1 91 358.1 89.2 360.7 88.3 363.7 M84.5 361.8 85.2 359.2 85.5 356.4 M84.5 361.8 84.9 362.8 M88.3 363.7 84.9 362.8 M104.6 374.1 101.7 374.8 98.9 374.2 M98.3 428.8 100.8 426.3 M20.3 411.6 17.1 410.2 13.9 409.1 M20.3 411.6 18.5 413.8 17.7 416.5 M17.7 416.5 14.9 415.4 12 414.2 M13.9 409.1 13.5 411.8 12 414.2 M23.9 409.7 20.3 411.6 M18 403.6 13.5 405.6 M13.5 405.6 13.9 409.1 M10.9 414.8 12 414.2 M13.1 405.3 13.5 405.6 M9.2 420.6 12.1 423.2 M12.7 425.1 12.1 423.2 M18.4 417.8 18 419.1 M18.4 417.8 17.7 416.5 M12.1 423.2 14.6 420.6 18 419.1 M35.7 410.4 35.5 410.9 M36.5 417.1 37.2 413.8 35.5 410.9 M23.9 409.7 24.8 409.8 M26.6 407.6 24.8 409.8 M26.6 407.6 26.5 404.9 26.8 402.3 26.2 399.7 M18 403.6 19.6 400.5 M19.6 400.5 23 400.9 26.2 399.7 M32.7 400.2 29.3 401.5 26.3 399.6 M26.6 407.6 30.7 407 M26.2 399.7 26.3 399.6 M6.3 391.5 4.1 393.9 M5.5 395.5 4.1 393.9 M3.9 401.5 4.7 398.5 5.5 395.5 M4.5 386.5 6.6 384.3 9.6 385 M10.8 376.6 10.9 380.3 9.3 383.6 M35.6 393.9 33.3 393.4 M33.3 393.4 29.5 390.4 M36.1 387.5 33.4 386.6 30.7 385.6 M45 392.8 43.8 390.5 41.7 388.7 40.4 386.4 M45 392.8 41.3 395.5 M36.5 395.3 35.6 393.9 M38.2 386 36.1 387.5 M26.3 396.1 26.3 399.6 M26.3 396.1 28.9 395.9 30.7 393.5 33.3 393.4 M26.3 396.1 24.9 392.4 M29.2 383.5 30.7 385.6 M38.2 386 38.2 383 37.5 380.1 M76.4 370.4 75.9 369.7 M83.2 364.4 81.4 368.5 M83.2 364.4 80 364.7 76.9 363.6 73.8 363.3 M75.9 369.7 74.1 366.8 73.8 363.3 M37.1 351.5 33.3 350.3 32.4 346.6 M38.4 377.4 39.2 377.2 M43 384.5 42.2 381.3 44.4 378.7 M39.2 377.2 41.8 377.8 44.4 378.7 M31.8 373.3 31.8 370.6 M39.2 377.2 40.2 374.4 41.4 371.6 M68.4 419.4 65.4 419.3 62.6 420.4 M68.4 419.4 69.6 422.1 70.3 425.1 M66.4 426 64.4 423.7 62.2 421.6 M66.4 426 70.3 425.1 M60.1 415.1 61.8 417.5 62.6 420.4 M69.1 417.5 68.4 419.4 M71.3 425.6 70.3 425.1 M60.8 428.6 64.8 427.7 M64.8 427.7 66.4 426 M19.7 475.2 17.1 471.1 M17.1 471.1 13.6 470.4 10.3 471.5 M7.4 464.8 9.4 467.3 M10.3 471.5 9.4 467.3 M16.2 463 13.5 465.3 10.5 467 M16.2 463 18.6 463.4 M18.6 463.4 17.4 467.5 M13.2 462 16.2 463 M9.4 467.3 10.5 467 M11.3 454.2 15 453.7 18.6 454.5 M18.7 463.3 18.6 463.4 M18.7 463.3 20.5 459.6 M20.9 464.7 18.7 463.3 M50.8 463 48 464 45.4 465.5 M45.4 465.5 44.2 462.9 44.5 460 M32.3 470.9 35.1 469.6 38.1 469.3 M33.1 475.6 32 474.6 M33.1 475.6 36.4 475.5 39.5 474.3 M39.5 474.3 38.8 471.8 38.1 469.3 M30.3 467.8 32.3 470.9 M41.2 475.3 39.5 474.3 M13.6 446 15.3 449.7 19.2 451 M12.7 425.1 15.5 427.1 M13 435.2 13.9 432.5 15.9 430.2 15.5 427.1 M20.1 424.5 16.5 427.1 M15.5 427.1 16.5 427.1 M134.6 391.1 137.3 389.4 M134.6 391.1 133.3 394.4 133.7 398 M129.4 390.2 132.1 389.7 134.6 391.1 M129.8 398.5 127.3 396.4 M133.7 398 133.7 398 M94.9 420.8 90.5 419 M84.6 474.3 88.3 472.5 M87.5 464.7 87.9 467.6 89.6 469.9 M89.6 469.9 88.3 472.5 M89.6 469.9 92.2 469.1 94.9 468.8 97.1 467.1 M96.1 464.7 97.1 467.1 M49.9 399.4 50.6 395.2 M57.4 394.7 54.5 394.7 51.6 395 M50.6 395.2 51.6 395 M45 392.8 46.1 392.7 M50.6 395.2 47.7 395.1 46.1 392.7 M43 384.5 45.5 386 48.3 386.5 M46.1 392.7 45 388.8 48.3 386.5 M44.4 378.7 46.6 378.3 M46.6 378.3 47.6 380.7 46.6 383.8 49.3 385.5 M48.3 386.5 49.3 385.5 M53.1 468.7 50.6 467.6 48.1 466.2 45.3 465.6 M53.1 468.7 49.8 470.3 47.2 472.9 M46.5 472.7 44.5 470.1 44.3 466.9 M46.5 472.7 47.2 472.9 M45.4 465.5 45.3 465.6 M51.6 475.6 49.9 473.5 47.2 472.9 M46 473.3 46.5 472.7 M40.9 466.6 44.3 466.9 M40.9 466.6 38.1 469.3 M40.9 466.6 39.9 464.1 37.5 462.8 M65.8 443.6 68.4 442.4 M68.4 442.4 67.5 439.7 67.8 436.9 68.6 434.2 M67.4 434 68.6 434.2 M60.2 434.7 61.6 435.2 M65.2 444.2 65.8 443.6 M71.4 432.9 68.6 434.2 M64.8 427.7 67.7 430.2 67.4 434 M84.5 361.8 82.3 360 79.8 358.7 77.5 357 M84.9 362.8 83.2 364.4 M73.6 363.1 74.1 361.8 M74.1 361.8 75.6 359.2 77.5 357 M80 382.8 82.6 379.6 M76.3 383.1 76.3 380.5 76 378 74.2 375.8 M74.2 375.8 76 373.9 M76 373.9 78.8 375.7 82 375.9 M82 375.9 82.6 379.6 M86.3 387.5 83.8 386.4 81.8 384.7 80 382.8 M96.8 363.7 95.9 364.6 M88.3 363.7 89.6 364.7 M89.6 364.7 92.7 363.9 95.9 364.6 M104.4 369.9 100.7 369.7 97 369.6 M95.9 364.6 97.3 366.9 97 369.6 M98.9 374.2 96.7 370.6 M97 369.6 96.7 370.6 M123.7 422.2 122.6 421.3 M121 414.1 120.5 414.2 M120.5 414.2 119.5 416.6 M122.6 421.3 120.9 419.1 119.5 416.6 M118.5 411.7 114.4 409.6 M114.4 409.6 114.7 406.1 116.5 403.1 M120.3 401.8 122.5 403.7 M120.3 401.8 117.4 402.2 M120.5 414.2 118.5 411.7 M122.7 396.4 122.8 399.7 120.3 401.8 M122.6 421.3 119.9 420.9 117.6 423.5 114.8 422.7 M119.5 416.6 116.3 418.6 M116.3 418.6 114.8 422.7 M114.8 422.7 114.3 423.6 M106.5 425.5 107.6 424.1 M114.3 423.6 112.6 423.2 M109.9 402.2 108.8 405.5 107.6 408.7 M109.9 402.2 113.2 402.4 116.5 403.1 M111.7 410.7 107.6 408.7 M112.6 423.2 111.8 419.6 109.5 416.7 M97.4 399.7 95.2 404.1 M95.2 404.1 92.5 405.2 90.1 403.6 M85.1 403.4 89 404.6 M84.8 412.2 87.6 411.1 90 409.4 M89 404.6 90.1 403.6 M26.7 413.7 27.9 414.3 M26.7 413.7 25 416 23.1 418.1 M27.9 414.3 29.4 417.4 31.8 419.9 M31.3 421.8 31.8 419.9 M24.8 409.8 26.7 413.7 M35.5 410.9 33.7 413.5 30.2 412.6 27.9 414.3 M18.4 417.8 23.1 418.1 M36.5 417.1 34.5 419.1 31.8 419.9 M20.1 424.5 22.8 424.6 25.6 424.7 M18.8 398.9 21.1 397 23 394.7 24.8 392.4 M24.8 392.4 22.2 390.1 M24.9 392.4 24.8 392.4 M25 383.3 22.8 386.4 22.2 390.1 M21.2 371.7 20.1 374.3 18.1 375.9 15.7 377.1 M23.4 374.7 23.1 375.7 M15.7 377.1 16.1 377.7 M16.1 377.7 19.7 376.8 23.1 375.7 M30.6 374.5 27 374.7 23.4 374.7 M21.2 371.7 21 370.5 M31.8 370.6 30.8 369.6 M30.8 369.6 27.7 368.9 24.6 369.1 M24.6 369.1 21 370.5 M13.8 376.2 15.7 377.1 M21 370.5 20.4 369.9 M15.3 363.1 18.4 364.5 M20.4 369.9 21.4 366.4 18.4 364.5 M23.6 358.7 24.8 358.1 M22.6 362.8 24.4 363.7 M25 351.1 25.3 354.6 24.8 358.1 M24.6 369.1 24.2 366.4 24.4 363.7 M30.8 369.6 29.8 366.7 29 363.9 M37 367 38.1 364.7 M51.6 395 52.4 392.2 52.6 389.3 52.8 386.5 M57.3 386.9 52.8 386.5 M49.3 385.5 50.9 385.5 M50.9 385.5 52.8 386.5 M67.7 393.7 68.8 391 69.9 388.3 M63 394.2 62 391.6 63.4 389.1 M57.8 388.3 60.3 388.8 62.8 388.2 M63.4 389.1 62.8 388.2 M70.3 386.3 70.2 387.8 M69.9 388.3 70.2 387.8 M70.3 375.7 70.1 373 68.6 370.6 M70.3 375.7 74.2 375.8 M76.4 370.4 76 373.9 M75.9 369.7 72.5 369.6 69 369.7 M68.6 370.6 69 369.7 M68.8 363.5 73.6 363.1 M69 369.7 68.4 365 M44.1 370.5 46.9 372 M46.9 372 47 375.1 46.8 378.2 M68.4 365 65.7 366.1 64.2 368.7 61.6 370 M61.6 370 62.3 371.4 M38.1 364.7 39.1 363.7 M44.1 370.5 43.2 367.4 44 364.3 M32 356.4 34.7 357 37.3 355.8 M39.1 363.7 38.7 361 37.5 358.5 37.3 355.8 M102.4 441.9 103.2 443.3 M102.4 441.9 99.9 442.1 M102.6 446.2 103.2 443.8 M102.6 446.2 99.2 445.9 96.7 448.1 M103.2 443.3 103.2 443.8 M102.8 440 102.4 441.9 M102.6 452.2 105.6 451.7 108.5 452.9 M108.5 452.9 109.5 450.7 M109.3 450.2 109.5 450.7 M109.3 450.2 106.7 448.5 106.1 445.1 103.2 443.8 M109.3 443.9 109.1 447 109.3 450.2 M115.5 446.5 119 446.7 122.2 445.2 M121.1 438.9 119.6 439.2 M115.4 447.7 112.7 449.8 109.5 450.7 M115.4 447.7 115.5 446.5 M122 452.6 118.3 453.2 M118.3 453.2 118.4 449.6 115.4 447.7 M122.4 436.7 121.1 438.9 M107 408.7 107.6 408.7 M107 408.7 105.6 412.2 103 414.9 M109.5 416.7 105.4 417.9 M103 414.9 105.4 417.9 M100.8 426.3 100.8 421.8 M100.8 421.8 104.5 422.2 105.3 418.6 M94.9 420.8 97.9 419 M100.8 421.8 97.9 419 M105.3 418.6 105.4 417.9 M102.8 459.3 100.1 461.1 97.3 462.7 M102.8 459.3 100.9 457.1 100 454.2 M97.3 462.7 99.1 460.2 99 457.4 98.5 454.5 M100 454.2 99.2 454.2 M91.3 455.2 94.9 455.2 98.5 454.5 M96.1 464.7 97.3 462.7 M96.7 448.1 98.6 450.9 99.2 454.2 M115.3 473.5 119 474.2 122.1 471.9 M122.1 471.9 123.3 469.4 M121.9 465.6 121.7 465.5 M107.8 475.9 111.7 475.5 114.7 473 M104.6 474 107.8 475.9 M104.6 474 104.5 472.8 M104.5 472.8 107.7 472.5 110.6 471.2 113.2 469.4 M127.2 469.8 123.3 469.4 M130 460.9 127.5 462.9 124.4 463.7 121.9 465.6 M125.5 456.7 123.2 459.6 120.1 461.7 M120.1 461.7 121.7 465.5 M101.1 478.5 98.6 477.8 95.8 478.1 93.8 476 M96.1 472.7 93.7 475.7 M93.7 475.7 93.8 476 M104.6 474 101.8 477.1 M97.6 467.5 100 468.6 102.6 468.2 M97.6 467.5 95.6 469.7 96.1 472.7 M104.5 472.8 102.6 468.2 M88.3 472.5 90.6 474.8 93.7 475.7 M97.1 467.1 97.6 467.5 M77.6 354.2 75 352.7 72.2 352 M77.3 355.4 73.9 355.6 70.4 356.1 M72.2 352 68.9 355.5 M68.9 355.5 70.4 356.1 M77.5 357 77.3 355.4 M74.1 361.8 72.1 359.1 70.4 356.1 M84.9 373 84.9 372.9 M82 375.9 84.9 373 M100.6 398.5 102 400.8 104.7 401.6 M104.7 401.6 108.3 399.8 M103.5 406.4 104.7 401.6 M103.5 406.4 102.4 406.4 M102.4 406.4 100.5 404.3 99.4 401.6 97.4 399.7 M97.4 398.5 100.6 398.5 M101.9 391.8 103.9 393.6 104.4 396.2 M107 408.7 103.5 406.4 M97.4 409.5 95.8 408.9 M97.4 409.5 96.9 412.6 99.4 414.5 M92.2 410.1 91.4 412.8 92.5 415.5 M92.5 415.5 95.6 415.6 98.7 415.4 M99.4 414.5 98.7 415.4 M95.2 404.1 95.8 408.9 M103 414.9 99.4 414.5 M90 409.4 92.2 410.1 M90.5 418.2 92.5 415.5 M97.9 419 98.7 415.4 M22.8 381.6 18.9 381.2 M57.3 386.9 58 385.2 M50.9 385.5 53.3 381.3 M58 385.2 55.8 383.1 53.3 381.3 M46.8 378.2 51 377.7 M51 377.7 53.5 378.6 M65.1 383.4 67.2 383.5 M65.1 383.4 60.8 381.8 M60.2 379.9 62.4 378.4 64.8 377.5 67.1 376.2 M68.9 376.7 67.1 376.2 M70.3 386.3 67.2 383.5 M58 385.2 60.8 381.8 M58.9 377.8 57.5 377.5 M58.9 377.8 60.2 379.9 M57.5 377.5 53.5 378.6 M62.3 372.4 60.6 375.1 58.9 377.8 M70.3 375.7 68.9 376.7 M49.6 349.1 49.2 349.8 M49.2 349.8 45.9 351.6 M37.1 351.5 37.9 354.5 M44.7 351.2 42.5 352.4 40.1 353.3 37.9 354.5 M37.3 355.8 37.3 355.7 M44 364.3 45.9 363.3 M45.9 351.6 47.3 354.3 48.1 357.2 M108.5 452.9 110.1 455.7 M120.1 461.7 116.1 458.7 M114 461.8 116.1 458.7 M68.9 355.5 66.7 355.9 M66.7 355.9 66.5 352.2 64.3 349.4 M65.9 360.9 66 357.5 M66.7 355.9 66 357.5 M61.6 370 58.9 367.5 M57.5 377.5 57 374.5 54.4 372.4 53.8 369.5 M58.9 367.5 56.9 370.1 53.8 369.5 M52 369 53 369.4 M53 369.4 53.8 369.5 M104.1 460.3 108.4 458.2 M108.4 458.2 109.5 461.2 110.5 464.3 M102.6 468.2 104.5 466 M102.8 459.3 104.1 460.3 M110.1 455.7 108.4 458.2 M64.1 349.2 61.3 350.4 58.4 350.9 M58.4 350.9 55.8 347.7 M64.3 349.4 64.1 349.2 M59.8 363 58.6 359.6 58.4 355.9 M59.8 363 59.7 363.1 M56.9 353.9 58.4 355.9 M58.9 367.5 59.7 363.1 M65.9 360.9 63.2 362.9 59.8 363 M66 357.5 63.2 358 60.7 357.5 58.4 355.9 M58.4 350.9 56.9 353.9" fill="none" stroke="#b0a9df" stroke-width="0.9" stroke-linecap="round" stroke-linejoin="round" opacity="1"/>
</g>
<path d="M71.3 435.5l-1.2 0.4 M59.4 463.2l0.2 1.2 M61.4 467.4l-1.2 1.4 M57.7 442l-0.6 0.3 M67 464.5l-0.3 1.5 M64.9 424.5l0.2 1.3 M54.3 455.4l1.3 0 M64.6 444.9l-1.3 0.7 M64.9 464.1l0.1 0.8 M64.3 439.9l1 0.1 M62.2 445.3l-0.4 0.7 M56 438.6l-0.9 0.2 M51.6 440.7l1 1.5 M58.3 458.5l0.3 1.2 M56.9 435.8l0.5 0.8 M59.4 466l-0.8 1.8 M65.7 440l1.5 1.1 M67.2 461l0.7 0.5 M52.6 451.6l-0.8 0.4 M68.9 457.2l0.2 1.4 M52.7 432.2l-1.5 0 M58 451.7l1.5 0.5 M60.8 457.3l0.2 1.3 M51.7 456.4l0.9 1.2 M63.8 444.3l0.8 0.6 M52.9 447.7l1.2 0.7 M67 451.6l-1 0.7 M58.4 433l-1.2 1.6 M54.7 422.7l-1.5 0.8 M52.7 446.2l1.3 1.3 M70.8 445.6l-1 0.2 M63.2 427.4l-1.3 0.6 M67.3 449.1l1.6 0.1 M68.6 424.8l-0.1 1.1 M53.8 440.9l1.1 1.5 M52.8 458.8l-0.4 1.7 M57.2 428.2l-1 1.3 M66.1 430.7l-0.2 1.7 M52.4 441.7l1.5 1.3 M55.2 427.8l-1.2 1.2 M66.5 452.6l-0.6 1.9 M60.5 443.5l-1.4 0.1 M66.9 449.7l-1.1 0.1 M55.1 438.5l-0.4 1.2 M59.4 450.7l0.9 1.1 M53.7 442l-0.3 1.1 M52.7 441.2l-1.2 1.5 M62.7 469l-1.7 0.1 M60.4 437l-1.1 0.9 M61 456.4l0.5 0.9 M54.5 454.8l-0.9 0.7 M70 447.4l1.3 0 M56.1 426.7l-1.6 1.1 M56.3 462.8l-1.6 0.7 M63.3 425.6l-0.7 0.6 M52.9 442l1.6 0.8 M54.5 449.3l-0.4 1.4 M56.1 462l0.8 1.1 M63.9 444.2l1.4 0.4 M54.4 442.1l0.7 1.7 M60.2 430.2l0.9 1.7 M55.2 456.1l-0.6 0.7 M57.9 433.5l-1.1 0.5 M63.8 442.6l-0.1 1.2 M60 452.5l1.7 0.4 M61.9 447.8l-0.2 0.9 M54.2 460.7l-0.3 0.8 M66.9 458.1l-1.1 0.6 M56.5 423l1.3 0.7 M70 440.5l-0.5 0.6 M57.3 439l-0.8 1 M65.8 447.9l0.3 0.8 M55.5 466.2l1.1 0.9 M71.7 444.3l-0.6 0.3 M65.3 460.7l0.9 0.5 M63.1 422.6l-0.3 0.6 M61.9 452.3l-0.3 1.6 M51.2 446.3l0.8 0.2 M67.5 450l1.5 1.1 M66.5 462.9l0.9 0.2 M55.3 464.4l-1.5 0.2 M53.3 459.5l-0.1 0.7 M58.6 451.1l-0.7 0.5 M56 460.9l-0.3 1.7 M61.2 418.6l-0.1 1.1 M64.8 446.8l0.6 0.4 M68.2 443.8l1 0.4 M58.5 459.3l-0.1 1 M62.1 464.6l1 0.4 M62 447l-1.4 0.9 M66.5 427.3l-1 0.6 M53.4 445.2l1.7 0.4 M67.6 423l-1.7 0.8 M67.9 441.3l1.3 0.3 M62.8 418.5l0.7 0.8 M70.6 437.8l1.7 1 M62 444l0.7 0.5 M58.8 463.1l-1.2 0.3 M62.8 460.6l1.6 0.8 M56.9 460.8l-1.3 0.3 M52.5 447.6l-0.7 0.3 M58.3 429.9l1.6 0.9 M64.6 439.1l0.1 2 M59.1 427.6l1.7 1 M55.7 433.3l1.4 1.4 M60.4 441.6l-0.7 1.5 M57.1 443.5l0.5 1.2 M57.7 441.5l0.6 1.1 M61.3 449.5l1.3 0.3 M65 444.5l0.7 0.9 M54.5 449.9l1.8 0.4 M65.1 430.4l-1.7 0.6 M65.1 434.8l-0 2 M51.1 440.4l-0.2 1.8 M51.4 441.9l1.3 0.5 M69.4 447.3l-0.7 1.8 M66.5 465.1l-1.3 0.5 M70.5 454.8l-0.2 0.9 M54 437.2l1.2 0.4 M64.1 445.9l-0.9 0.8 M70.4 439l1.2 0.8 M63.7 432.4l0.1 1.9 M55.6 453.6l1 1.4 M54.3 441.8l-1.9 0.5 M59.7 432.9l-0.3 0.9 M60.4 423.5l-1 1 M57.7 419.2l0 1.9 M57.8 452.6l-1.5 0 M70.2 454.6l-0.4 0.5 M52 457.4l0.3 1.7 M66.5 428.6l-0.1 1.7 M57.4 459.4l0.3 1.8 M65.1 438.4l-1 0.5 M58.6 445.9l-0.9 1 M56.5 457l-0.8 0.2 M53.4 449.4l-1.7 0.8 M60.8 450.9l0.6 0.4 M57.3 452.9l1.8 0 M64 436.6l1.4 1.4 M62.4 425l0.7 1.2 M61.1 434.8l0.7 0.3 M60.8 468.3l1.4 0.3 M62.2 427.8l-1.2 0.3 M63 434.9l-0.6 0.7 M53.5 451.7l-0.2 1.9 M61.9 435.9l-0.5 0.7 M59.9 446.5l1.5 0.6 M54.7 464.4l-0.2 1.7 M71.9 442.4l0 1.4 M66.8 459.5l0.7 1.5 M53.6 435.4l-1.4 1.1 M58.7 437.6l0 1.8 M60.3 423.6l1.9 0.4 M65 445.2l1.4 0.3 M50.4 446.4l-0.5 1.3 M71.6 447.2l0.1 1 M61.1 435.2l-0.2 1.2 M65.9 461.4l1.4 0.8 M56.9 435.8l1.4 0.3 M56 434.7l1.1 1.2 M54.1 437.3l0.3 1.9 M71.3 445.8l0.1 0.6 M59.7 433.7l0.1 1.2 M69.3 434.6l-1.7 0.6 M56.4 421.4l1.4 1 M54.6 423.3l-0.8 1.4 M52.2 439.9l-0.2 0.8 M66.6 457.4l-0.3 1.7" stroke="#b5b3e5" stroke-width="0.7" stroke-linecap="round"/>
<path d="M17.9 441.9a19.9 21.1 0 1 0 39.8 0a19.9 21.1 0 1 0 -39.8 0Z M24.9 441.9a12.9 14.1 0 1 0 25.8 0a12.9 14.1 0 1 0 -25.8 0Z" fill="#dddcf5" fill-rule="evenodd"/>
<ellipse cx="37.8" cy="441.9" rx="13.8" ry="15" fill="none" stroke="#bab7e8" stroke-width="0.55" stroke-dasharray="2.5 2.5 2.2 1.4 0.6 2.7 2.3 2.8 2.3 0.6 0.9 1" opacity="0.9"/>
<ellipse cx="37.8" cy="441.9" rx="15.5" ry="16.7" fill="none" stroke="#bab7e8" stroke-width="0.55" stroke-dasharray="1.4 1.8 1.2 3 0.7 1.6 1.5 2.4 1.7 0.8 1.4 2.2" opacity="0.9"/>
<ellipse cx="37.8" cy="441.9" rx="17.3" ry="18.5" fill="none" stroke="#bab7e8" stroke-width="0.55" stroke-dasharray="2.7 2.7 1.2 2.7 2.8 1.7 1.6 1.5 2.2 3 2.3 1.8" opacity="0.9"/>
<ellipse cx="37.8" cy="441.9" rx="19" ry="20.2" fill="none" stroke="#bab7e8" stroke-width="0.55" stroke-dasharray="1.3 2.9 2.1 2.6 1.9 1.2 2.5 2.9 1.5 2.5 1.5 2.5" opacity="0.9"/>
<path d="M43.5 460.1h0 M51.1 434h0 M56.7 446.7h0 M24.3 435.9h0 M52.6 446.2h0 M22.8 434.6h0 M31 458.8h0 M39.9 425.1h0 M34.8 421.5h0 M49.5 450.9h0 M26.1 427.4h0 M48.6 430.5h0 M46.3 422.9h0 M50.1 457.9h0 M48.4 430.4h0 M24.9 429.8h0 M48.9 453.6h0 M28 458.5h0 M50.7 438.6h0 M46.1 425.9h0 M36.5 422.9h0 M41.2 423h0 M21.6 453.1h0 M34.4 461.6h0 M27.5 432.5h0 M24.5 437.4h0 M44.9 424.8h0 M31.6 422.5h0 M54.3 433.7h0 M54.8 431.5h0 M44.6 429.2h0 M39.2 461.5h0 M32.3 460.1h0 M26.3 455.6h0 M56.3 441.4h0 M28.4 452.2h0 M32.2 425.5h0 M55.2 435.4h0 M25 430h0 M30.3 425.2h0 M41 461.6h0 M32.8 456.3h0 M27.3 456h0 M27.5 451.2h0 M22.1 432.3h0 M48.9 434.5h0 M33.8 456.8h0 M24.5 445.9h0 M21.8 449.5h0 M45 459.8h0 M52.5 449.2h0 M24.7 426.9h0 M29.6 453.4h0 M45.2 423.2h0 M20.7 449.4h0 M49 433.2h0 M47.3 432.3h0 M24.8 451.8h0 M41.8 421.9h0 M54.2 435.3h0 M53.3 431.2h0 M54.4 451.6h0 M30.6 457.8h0 M53.6 450.8h0 M22.7 433.5h0 M30.8 426.2h0 M42.8 457.6h0 M36 457.4h0 M47.9 453.6h0 M30.1 459.1h0 M50.2 433.5h0 M21.4 433.9h0 M37.5 459.4h0 M52.1 430.1h0 M26.2 453.8h0 M25.6 453.2h0 M43.1 427.5h0 M23.9 434.6h0 M29.6 426.1h0 M56.1 443.8h0 M23.6 434.3h0 M50.4 446.4h0 M49 428.2h0 M20.3 449.9h0 M25.5 446.5h0 M29.9 426.3h0 M26.9 428.5h0 M42.7 458h0 M39.3 424h0 M28.2 425.1h0 M40.2 426h0 M31.5 456.7h0 M23.7 453.9h0 M47.2 431h0 M32.6 459.9h0 M19.9 437.5h0 M21.7 430.8h0 M39.1 424.7h0 M24.4 447.5h0 M45.1 422.6h0 M51.4 431.2h0 M47.1 431.7h0" stroke="#a29edb" stroke-width="0.9" stroke-linecap="round" opacity="0.8"/>
<ellipse cx="37.8" cy="441.9" rx="19.9" ry="21.1" fill="none" stroke="#cac8ee" stroke-width="0.7"/>
<ellipse cx="37.8" cy="441.9" rx="12.9" ry="14.1" fill="#fefeff" stroke="#cac8ee" stroke-width="0.8"/>
<path d="M122.5 371.9h0 M117.8 373.3h0 M118.2 377.9h0 M124.4 375.6h0 M128.7 372.5h0 M135.2 370.1h0 M135.5 368.5h0 M130.2 363.3h0 M113.5 382.2h0 M108 386.8h0 M4.3 411.1h0 M5.2 424.7h0 M5.4 427.5h0 M6.6 430.2h0 M129 377.8h0 M136.6 385h0 M131.8 384h0 M135.4 470.9h0 M76.6 469.9h0 M42.2 421.5h0 M39.9 419.4h0 M40.6 420.7h0 M41.4 421.5h0 M52.4 411.9h0 M53.6 412.1h0 M55.1 416h0 M54 418.7h0 M53.7 429.5h0 M56.8 427.4h0 M59.5 425.7h0 M46.3 422.1h0 M48.7 422.7h0 M72.8 465.6h0 M66.6 473.1h0 M134.5 357.2h0 M129.7 356.9h0 M112.5 376.8h0 M108.5 381h0 M100.7 381.7h0 M102.4 379h0 M106.6 384.9h0 M106.5 368.8h0 M105.1 368.6h0 M110.6 370.2h0 M109.5 367.8h0 M115.1 366.6h0 M110.6 365h0 M110 367.1h0 M111.7 363.6h0 M104.4 390.5h0 M105.2 389.8h0 M16 350.9h0 M8.2 363.1h0 M18.8 350.9h0 M82 400h0 M83.3 400.7h0 M79.9 402.6h0 M84.4 403.4h0 M84 402.2h0 M84.4 402.6h0 M83.7 400.4h0 M4.9 450.2h0 M137.9 442.6h0 M135 430.5h0 M138.6 431.7h0 M138.5 432.3h0 M135.8 438.6h0 M136.9 438.9h0 M136.4 438.3h0 M137.6 437.7h0 M128.7 430.3h0 M131.1 428.5h0 M124.6 429.3h0 M122.6 427.8h0 M123.2 422.4h0 M122.3 424.6h0 M130.1 427.6h0 M130.4 429.2h0 M125.5 421.4h0 M126.5 422.3h0 M123.6 422h0 M129.8 420.1h0 M123.2 414.7h0 M128.1 415.4h0 M128.1 415.8h0 M139.2 412.9h0 M136.2 410.5h0 M131.8 462h0 M130.9 467.1h0 M127.6 471.9h0 M133.6 475h0 M66.4 448.7h0 M66.5 446.3h0 M71.8 463.4h0 M71.1 463.5h0 M69.4 449.8h0 M75.7 450.3h0 M75.8 451.4h0 M87.1 458.1h0 M82.8 459.1h0 M52.9 474.9h0 M55.7 475.3h0 M54.1 474.9h0 M66.6 464.1h0 M64.1 460.5h0 M64.2 460.1h0 M59.9 462.6h0 M70.1 457.5h0 M69.2 457.3h0 M69.7 457.2h0 M70.8 457.1h0 M74.2 455h0 M74.3 455.3h0 M58.4 447.3h0 M65.3 445.8h0 M58.8 442.5h0 M131.9 351.8h0 M136.6 348.3h0 M124.7 352.2h0 M130.6 353.2h0 M127.7 356.1h0 M122.1 364.8h0 M117.4 356.5h0 M120.6 354.6h0 M123.1 369.2h0 M121.5 365.4h0 M121 366.4h0 M123.2 354.3h0 M110.5 360.8h0 M111.8 362.8h0 M94.2 349.3h0 M95.6 349.2h0 M121.3 346.9h0 M121.4 346.9h0 M120.9 347.8h0 M105.4 352.5h0 M100.9 355.4h0 M103.4 363.4h0 M78.8 397.8h0 M78.9 397.6h0 M72.7 395.4h0 M75 394.6h0 M13.7 362.7h0 M7.5 367.3h0 M38.4 409.2h0 M32.3 407.8h0 M30.6 407.4h0 M12.1 403.9h0 M12.8 404.1h0 M21.9 351.1h0 M27.3 349.8h0 M35.4 376h0 M39.1 377.4h0 M53.5 410.4h0 M53.1 410.8h0 M60.8 414.1h0 M71.3 417.7h0 M75.8 417.4h0 M70.3 413.2h0 M83.6 413.3h0 M75.7 415.1h0 M68.1 408.8h0 M70.6 409.2h0 M69.2 408.4h0 M25.1 469.9h0 M26.7 468.4h0 M29.6 467.7h0 M24.9 469.5h0 M13.6 446.2h0 M14 445.3h0 M7.5 459.5h0 M7.1 458.4h0 M10.9 455.3h0 M9.6 463.4h0 M10 463.1h0 M133.3 438.6h0 M133.4 438.3h0 M133.2 438.4h0 M131.2 452.8h0 M127.9 453.5h0 M128.6 451.3h0 M137.7 402h0 M124.1 397.2h0 M124.2 396.6h0 M117.5 393.7h0 M127.8 458.1h0 M128.3 457.3h0 M123.3 453.8h0 M124.5 456h0 M96.1 431.7h0 M96.7 432.8h0 M98.3 429h0 M97.4 429.4h0 M81.8 426.2h0 M82 425.3h0 M81 422.8h0 M85.9 422h0 M89 428h0 M80.7 428.7h0 M81.5 426h0 M78 420.4h0 M75.3 418.7h0 M78.2 420.5h0 M76.8 420.3h0 M82 418.9h0 M82.2 419.9h0 M83.2 418.8h0 M82.5 416.9h0 M95.8 427.1h0 M96.8 426.5h0 M96.7 428.3h0 M119.7 426.6h0 M122 434.8h0 M80.8 457.5h0 M79.6 456.5h0 M82.6 455.2h0 M78.5 455.4h0 M84 453h0 M84 454.1h0 M88.2 456.4h0 M40.4 398.1h0 M38.2 395.2h0 M67.6 401.8h0 M62.2 398.4h0 M64.5 403.2h0 M55.6 405.4h0 M55.2 401.3h0 M57.2 400.4h0 M52.4 401.7h0 M50.3 399.8h0 M54.3 407.3h0 M58.4 406.7h0 M58.4 406.6h0 M61.9 408h0 M58.1 400.7h0 M63.1 403.4h0 M55.6 469.3h0 M51.7 459.4h0 M54.2 457.2h0 M53.6 464.7h0 M51.1 463.5h0 M72.1 443.3h0 M71.1 442.5h0 M74.9 435h0 M72 432.5h0 M76.8 436.3h0 M74.7 434.8h0 M83.8 351.5h0 M89.7 359.5h0 M92.3 356h0 M84 359.3h0 M86.8 362.6h0 M98.6 374h0 M102.5 374h0 M100.2 426.9h0 M17.6 409.7h0 M12.5 414.2h0 M13.1 411.1h0 M17.4 403.7h0 M13.4 405.5h0 M14.3 407.9h0 M13.4 406.9h0 M13.7 409.7h0 M17.8 418h0 M18.1 417.4h0 M36.3 413.6h0 M26.4 401h0 M25.8 401.7h0 M19.1 404.2h0 M19.3 400.5h0 M21.9 400.4h0 M31.1 399.8h0 M29.2 399.6h0 M30.6 406.7h0 M4.7 394.5h0 M4.8 399.1h0 M6.6 385.1h0 M6.8 385.7h0 M9.8 385.1h0 M9.8 382.9h0 M9.6 381.9h0 M10.5 379.6h0 M33.9 392.7h0 M34.8 393.1h0 M32.9 394.1h0 M31.2 387.6h0 M43.8 390.7h0 M40.5 386.6h0 M42.4 388.6h0 M43.3 393.9h0 M26.2 398.2h0 M33.4 394h0 M28.7 395.3h0 M30.4 383.9h0 M38.1 384.5h0 M37.2 380.4h0 M75.9 370.2h0 M81.5 366.8h0 M82.2 366.3h0 M81.6 367.1h0 M75.9 368.2h0 M32.1 347.1h0 M43.5 383.8h0 M32.3 371.9h0 M39.8 375.9h0 M41.8 373.3h0 M41.1 373.8h0 M62.4 419.3h0 M67.9 419.5h0 M68.4 420.5h0 M66.8 425.5h0 M67.8 425h0 M62.5 420.3h0 M60.6 415.5h0 M13 471.3h0 M8.4 464.7h0 M7.1 465h0 M7.8 466.3h0 M8 465.6h0 M13.4 465.3h0 M10.8 465.8h0 M18.5 464.3h0 M12.8 461.6h0 M15.1 464h0 M16.1 454.8h0 M18.7 462.6h0 M20.8 460.3h0 M46.5 464.8h0 M46.1 463.9h0 M44.9 464.8h0 M35.1 475.6h0 M31.5 469.4h0 M41.4 475.3h0 M12.6 424.7h0 M13.1 435.7h0 M135.6 390.3h0 M132.7 394.2h0 M134 393.9h0 M134 395.6h0 M133.5 390.5h0 M127.8 396.6h0 M92.5 419.8h0 M88.6 469.7h0 M88.7 466.5h0 M88.5 472.6h0 M93.4 468h0 M90.5 469.8h0 M93 467.3h0 M90.8 469.7h0 M97 466.1h0 M50.3 396.8h0 M51.4 395h0 M46 385.9h0 M46.1 385.9h0 M47.3 391.6h0 M46.5 378.2h0 M48.3 384.2h0 M48.5 381.6h0 M48.6 386.8h0 M48.9 386h0 M51.3 468.1h0 M51 470h0 M48.4 471.3h0 M48 472.3h0 M48.4 473.3h0 M45.4 471.1h0 M47.1 472.7h0 M49.1 473.7h0 M39.8 468h0 M40 468.2h0 M39.4 465h0 M69.1 435.1h0 M68.4 436.2h0 M67.8 435.6h0 M80.6 358.4h0 M76.5 359h0 M80.4 381.9h0 M81.6 381h0 M75.4 383h0 M75.9 380.7h0 M73.5 376.9h0 M82.6 377.8h0 M81.3 378.1h0 M83.3 377h0 M81.4 384.8h0 M79.9 383.6h0 M81.3 383.5h0 M81.6 384.4h0 M91.6 364.8h0 M92.8 365.4h0 M97.4 369.8h0 M100.4 370.3h0 M98.5 369.3h0 M95.4 365.2h0 M96.2 364.2h0 M97.8 374.3h0 M97.1 369.9h0 M120.7 418.3h0 M121.4 419.3h0 M122.6 422.2h0 M120 419.4h0 M118.4 402.5h0 M120.6 414h0 M120.8 402.1h0 M121.8 399.3h0 M122.1 399.3h0 M118.8 417.5h0 M115.5 421.1h0 M114.7 422.3h0 M116.2 420.7h0 M107.4 425.2h0 M94.2 404.2h0 M89.1 404.4h0 M88.3 404.3h0 M26.5 413.9h0 M29.9 418.6h0 M28.3 416h0 M19.6 418.1h0 M19.8 418.2h0 M20.7 417.8h0 M21.5 425h0 M21.7 424.4h0 M18.9 398h0 M23.8 385.8h0 M16.8 376.7h0 M18.4 377.8h0 M22.1 376.2h0 M29.1 369.7h0 M23.6 370.2h0 M13.9 377.1h0 M24.8 356.3h0 M24.9 352.8h0 M24.6 367.1h0 M24.3 367.4h0 M29.7 367.5h0 M37.1 365.7h0 M51.6 393h0 M52.5 388.8h0 M55.5 386.8h0 M68.2 392.5h0 M68 392.7h0 M63.3 388.8h0 M60.7 388.1h0 M62.5 389.5h0 M68.9 371.7h0 M71.6 375.5h0 M72.2 368.4h0 M69.4 368.9h0 M73.1 369.5h0 M72.2 363.4h0 M73.2 361.7h0 M69 367.8h0 M47.1 373.9h0 M61.8 370.2h0 M62.1 370h0 M65.9 367.3h0 M64.1 368h0 M43.8 367.3h0 M36.8 356.2h0 M34.9 355.7h0 M39 362.7h0 M102.8 443.7h0 M101.6 441.7h0 M102.9 446.6h0 M102.4 444h0 M98.8 447.7h0 M98.2 446.8h0 M101.2 446.8h0 M108.4 453h0 M107.7 448.5h0 M120.7 445.8h0 M112.2 449.1h0 M111.7 450.5h0 M111.8 449.4h0 M104.9 412h0 M104.6 416.9h0 M101.1 425.7h0 M99.7 421.4h0 M100.7 455.5h0 M101.8 456.2h0 M97.8 456.5h0 M98.7 457h0 M96.8 453.7h0 M93.5 454.3h0 M99.7 454.5h0 M122.1 471.7h0 M120.6 471.9h0 M117.6 473.4h0 M122.7 471.4h0 M113.2 472.8h0 M107.6 476.1h0 M110.1 470.7h0 M110.6 470.6h0 M125.8 470.7h0 M126 469.5h0 M124.1 464.3h0 M124.6 464.5h0 M127.3 462.4h0 M121.5 460.3h0 M102.5 476h0 M98.9 467.7h0 M73.3 355.3h0 M70.6 354.1h0 M68.9 355.9h0 M69.4 356.1h0 M72 358h0 M73.2 361.3h0 M104.2 400.4h0 M101.7 399.1h0 M107.4 400.7h0 M106.4 399.9h0 M104.4 402.9h0 M103 406.4h0 M98.6 402.1h0 M104.1 395.4h0 M102 392.6h0 M99.5 412.1h0 M97.6 410.7h0 M97.6 410.7h0 M98.8 412.3h0 M92 410.9h0 M92.6 415.2h0 M93 415.7h0 M102.4 414.1h0 M98.7 418.3h0 M99.1 415.3h0 M19.7 381.2h0 M57.2 386.9h0 M53.7 381.1h0 M64.9 383h0 M63 378.3h0 M62.5 377.4h0 M65.1 377.3h0 M63.3 378.1h0 M64.5 376.9h0 M67.5 383.4h0 M54.3 378.9h0 M54.5 378h0 M70.2 376h0 M49.2 349.5h0 M65 351.5h0 M67.3 355.3h0 M65.8 358.5h0 M60.2 368.4h0 M56.2 371.7h0 M56.1 373.2h0 M56.3 374.9h0 M55.1 373.6h0 M55.1 370.3h0 M54.8 368.3h0 M55.3 369.1h0 M104.3 460h0 M108.6 460.1h0 M104 466.1h0 M57.8 357.5h0 M59.4 361.4h0 M57.7 355.3h0 M59.5 366h0 M62.1 362.5h0 M63.4 361.3h0 M60.3 356.5h0 M63.9 357.3h0 M57.4 351.3h0 M58.7 351.4h0" stroke="#6660ad" stroke-width="1.2" stroke-linecap="round" opacity="1"/>
<path d="M38.4 385.9h0 M37.4 384.4h0 M36.9 384.1h0 M43.2 381.1h0 M35.3 387.8h0 M36.6 380.7h0 M42.6 381.4h0 M35.7 386.1h0 M39.3 385.7h0 M38.6 389.2h0 M39 384.3h0 M44.5 382.9h0 M35.2 380.1h0 M41.8 385.6h0 M43.2 387.6h0 M43.7 381h0 M36.2 382h0 M40.9 386.4h0 M37.1 386.7h0 M41.7 384.2h0 M41.3 385.2h0 M40 384.8h0 M46.7 381.4h0 M42.4 376.1h0 M38.5 377.2h0 M45.2 373.8h0 M48.7 376.3h0 M40.5 373.1h0 M43.4 371.7h0 M40.9 376.4h0 M39.1 380h0 M42.2 380.3h0 M42.2 371.9h0 M40.3 375.1h0 M66.1 370.1h0 M67.6 370.1h0 M48.8 373.6h0 M50.7 376.3h0 M52.6 367.6h0 M48 376h0 M56.4 367.3h0 M64.2 378.5h0 M50.8 380.2h0 M55.6 374.9h0 M62.7 367.4h0 M52.5 367.3h0 M50.3 365.1h0 M59.5 371.2h0 M64.7 368.8h0 M63.4 380.3h0 M58 366.8h0 M53.7 361.9h0 M55 373.2h0 M58.9 372h0 M64.8 370.1h0 M59.2 372h0 M25 365.2h0 M33.6 369.2h0 M25.8 372h0 M38.9 366.4h0 M36.2 380.1h0 M21.7 370h0 M34.4 375.6h0 M35.3 376.2h0 M26.8 367.6h0 M30.1 380.4h0 M31.8 363.5h0 M25 363.8h0 M71.3 381.9h0 M61.8 388h0 M61.6 377.2h0 M60.1 388.3h0 M63.9 377.9h0 M59.1 378.6h0 M65.3 391h0 M65.4 380.7h0 M64.9 387.6h0 M60.3 383.1h0 M86.5 422.8h0 M91.5 423.5h0 M91.8 421.7h0 M91 421.2h0 M89.5 421.5h0 M89.2 420.4h0 M86.2 424.5h0 M89.1 424.9h0 M91.5 423h0 M90.5 420.5h0 M104.8 457.3h0 M106 464h0 M107.4 459.3h0 M108.5 463.1h0 M107.4 460.8h0 M104.9 462h0 M108.8 459.7h0 M105.9 461.2h0 M103.2 459.7h0 M104.3 462.9h0 M104.2 460.4h0 M108 458.9h0 M104.8 461.8h0 M106.3 463.8h0 M127.4 429.8h0 M123.7 427.2h0 M128 430.5h0 M131.5 427.6h0 M131.6 424.5h0 M128.6 425.4h0 M127.3 428.8h0 M124.1 426.3h0 M128.7 432.3h0 M125.7 426.7h0 M66.2 414.6h0 M66.6 410.9h0 M65.4 409.3h0 M66.9 403.8h0 M68.7 411.7h0 M71.2 410.6h0 M49.7 420.1h0 M55.1 409.9h0 M59.3 416.5h0 M59.3 418h0 M48.7 415.6h0 M60.4 419.9h0 M57.3 407.3h0 M48.8 419.9h0 M128.3 437.7h0 M124.4 446.9h0 M131.3 440.7h0 M122.5 437.1h0 M129 439.2h0 M129.9 438.4h0 M20.1 390.1h0 M22.6 385.6h0 M24.1 385h0 M26.2 385h0 M27.1 387.2h0 M27 389.3h0 M75.8 369.6h0 M81.8 372.3h0 M79.2 379.7h0 M85 369.1h0 M19.2 454h0 M23.3 456.5h0 M21.3 457.4h0 M21.6 462.4h0 M20.1 460.1h0 M47.6 421.5h0 M40.1 425.1h0 M47.6 426.5h0 M45.4 419.2h0 M55.9 392.9h0 M47.2 396.1h0 M51.3 390.9h0 M55.7 397.2h0 M52.5 395.2h0 M47.3 398.5h0 M54.6 397.8h0 M44.8 398.6h0 M46.1 389.6h0 M50.9 391.1h0 M114.1 418.1h0 M114.1 408.9h0 M123.8 411.9h0 M111.8 416.6h0 M109.4 450.6h0 M120.5 364.8h0 M69.2 456.9h0 M112.4 364.1h0 M51.6 468.1h0 M116.1 419.1h0 M63.7 428h0 M96.7 419.7h0 M123.1 363.3h0 M111.1 353.5h0 M51.7 411.6h0 M54.3 420.8h0 M135 371.3h0 M103 369.9h0 M68.3 457.1h0 M103.3 469.9h0 M104.2 403.7h0 M122.7 465.1h0 M96.3 467.4h0 M13.5 363h0 M38.2 469.8h0 M122.6 396.4h0 M65.2 445h0 M37.6 380.7h0 M129.6 460.3h0 M127.1 360.9h0 M44.4 393.3h0 M22.2 350.8h0 M64.5 412.7h0 M133.3 402.9h0 M102.3 369.9h0 M122.8 368.1h0 M50.1 398.3h0 M11.1 414.7h0 M26.7 413.6h0 M76.2 370.1h0 M129.8 377.5h0 M43.3 384.6h0 M19.5 367.5h0 M116.1 449.1h0 M114.5 373.1h0 M38.3 377.6h0 M15.3 462.7h0 M70.5 425.2h0 M115.5 447h0 M130.7 429.6h0 M130.9 354.6h0 M44.9 462.8h0 M31.8 373.2h0 M71.6 426.7h0" stroke="#7a3018" stroke-width="1.5" stroke-linecap="round" opacity="0.95"/>
<rect x="11.5" y="466.8" width="31.3" height="3.4" fill="#000"/>
<text x="13" y="469.4" font-size="2.6" fill="#bbb">100 µm</text>
</g>
<clipPath id="clip2"><rect x="134.9" y="353.6" width="125.9" height="118.7"/></clipPath>
<filter id="bl2" x="-20%" y="-20%" width="140%" height="140%"><feGaussianBlur stdDeviation="3"/></filter>
<g clip-path="url(#clip2)">
<rect x="134.9" y="353.6" width="125.9" height="118.7" fill="#fcfcff"/>
<g filter="url(#bl2)"><ellipse cx="202.5" cy="453.4" rx="24.6" ry="20.6" fill="#ecebf9"/></g>
<filter id="dp2" x="-5%" y="-5%" width="110%" height="110%"><feTurbulence type="fractalNoise" baseFrequency="0.35" numOctaves="2" seed="2" result="t"/><feDisplacementMap in="SourceGraphic" in2="t" scale="1.8" xChannelSelector="R" yChannelSelector="G" result="d"/><feTurbulence type="fractalNoise" baseFrequency="0.8" numOctaves="1" seed="9" result="g"/><feColorMatrix in="g" type="matrix" values="0 0 0 0 0  0 0 0 0 0  0 0 0 0 0  0 0 0 3 -0.6" result="ga"/><feComposite in="d" in2="ga" operator="in"/></filter>
<g filter="url(#dp2)">
<path d="M138.5 376 137.8 379.1 138.1 382.5 136.4 385.4 M138.5 376 141.7 375.6 144.4 377 147.1 378.2 M136.4 385.4 139.1 385.5 141.9 385.2 144.6 386.5 147.4 386 M147.4 386 147.9 382.7 147.6 379.4 M147.1 378.2 147.6 379.4 M132.2 387.8 134.9 387.7 M136.4 385.4 134.9 387.7 M128.3 394.1 129.3 390.4 132.2 387.8 M132.7 356.5 133.1 353.6 132.4 350.7 131.7 347.9 M132.7 356.5 131.9 357.4 M134.5 424.7 132.7 427.5 131.8 430.6 M134.5 424.7 133.2 422.3 131.7 420 131.1 417.3 M130.6 417.2 131.1 417.3 M138.7 413.2 136.1 414.3 133.4 415.5 131.1 417.3 M138.7 413.2 141.8 414.8 M141.8 414.8 142.1 417.4 139.9 419.8 140.6 422.5 140.8 425.1 M140.8 425.1 137.6 424.6 134.5 424.7 M184.4 384.9 185.3 387.6 184.7 390.3 M182.5 383.9 179.3 385.6 176.6 388.2 M176.6 388.2 177.8 391.4 M184.7 390.3 184.7 390.4 M177.8 391.4 181.2 390.6 184.7 390.4 M184.7 390.3 187.9 390.8 190.8 388.9 194 389.4 M189.3 397.2 191.8 395.8 M189.3 397.2 186 396.3 M191.8 395.8 194 393.5 194.5 390.3 M194.5 390.3 194 389.4 M138.7 413.2 138.6 411.8 M138.6 411.8 140.1 409.8 141.4 407.5 142.9 405.5 145 403.9 M145.7 414.9 141.8 414.8 M145.7 414.9 147 413.8 M145 403.9 148.5 405.3 M147 413.8 147.2 411 148.4 408.2 148.5 405.3 M158.2 374.2 160 371.5 M158.2 374.2 158.5 376.8 157.4 379.2 M164 372 164.4 374.9 165.3 377.6 166.1 380.4 M164 372 160 371.5 M148.3 375.3 151.5 374.5 154.8 373.6 158.2 374.2 M148.3 375.3 148.4 371.8 149.2 368.4 M149.2 368.4 152.6 368 156 367.3 M156 367.3 157.6 369.8 160 371.5 M148.3 375.3 147.1 378.2 M131.5 405.6 130.8 403.1 131.1 400.6 M130 416.7 130.6 417.2 M138.6 411.8 137.1 409.4 136.1 406.7 M136.1 406.7 131.5 405.6 M128.3 394.1 130.8 394.9 133.4 395.5 135.8 396.7 M135.8 396.7 134 399.3 131.1 400.6 M136.1 406.7 137.6 403.2 138.4 399.5 M145 403.9 142.9 400.2 M142.9 400.2 138.4 399.5 M135.8 396.7 136.3 396.6 M138.4 399.5 136.3 396.6 M136.4 385.4 136.4 385.4 M134.9 387.7 135.9 390.9 137.2 394.1 M148.6 388.7 146.2 389.6 144.3 391.5 141.7 391.8 139.9 393.9 137.2 394.1 M147 413.8 149.6 413.7 152.1 413.1 154.5 412.3 M154.5 412.3 152.7 409.6 153.8 406.5 153.1 403.6 M148.5 405.3 152.8 403.5 M142.9 400.2 145.6 398.7 147.3 396.1 149.6 394.2 M152.8 403.5 152.4 400.2 150.6 397.3 149.6 394.2 M132.4 363.7 135 365.8 137.6 367.9 M126 367 128.8 367.8 130 370.4 132 372.1 134 373.9 M137.6 367.9 137.2 370.9 135.6 373.5 M135.6 373.5 134 373.9 M131.9 357.4 131.8 360.6 132.4 363.7 M130 377.3 132.5 376.1 134 373.9 M138.5 376 135.6 373.5 M141.1 425.4 140.8 425.1 M141.1 425.4 139.8 427.9 140.7 430.5 M131.8 430.6 132.9 432.7 M173.8 374.8 172.2 377.2 170.7 379.6 M170.7 379.6 174.3 382.5 M174.3 382.5 177.2 381.1 180.3 380.2 M180.3 380.2 180.5 377.3 180.8 374.4 M180.8 374.4 178.7 372.4 M166 370.2 168.8 371.5 171.2 373.4 173.8 374.8 M166.1 380.4 170.7 379.6 M182.5 383.9 180.3 380.2 M176.6 388.2 174.5 386.9 M174.5 386.9 174.3 382.5 M203.5 404.3 206.1 405.3 208.2 407.1 210.6 408.5 213.3 409.1 M203.5 404.3 204.8 399.9 M213.4 399.4 211.9 398.7 M211.9 398.7 208.4 399.3 204.8 399.9 M195.8 398.4 191.8 395.8 M195.8 398.4 198.5 398.9 201.2 398.5 203.9 398.7 M194.5 390.3 197.2 390.3 199.6 391.4 202.1 391.9 M203.9 398.7 203.3 395.2 202.1 391.9 M145.7 414.9 147 417.2 148 419.6 149.3 421.9 151.2 423.8 M141.1 425.4 143.9 425.8 146.7 425.4 149.6 425.6 M149.6 425.6 151.2 423.8 M174.5 386.9 172 388.5 169.1 389.1 M167.4 388.7 169.1 389.1 M132.7 356.5 135.6 356.5 138.4 356.6 140.9 358.4 M137.6 367.9 140 366.4 142.2 364.5 M142.2 364.5 141.1 361.6 140.9 358.4 M149.2 368.4 147.4 366.4 M142.2 364.5 145 364.9 147.4 366.4 M142.4 351.8 141.1 354.6 141.4 357.7 M140.9 358.4 141.4 357.7 M142.4 351.8 144.6 350.2 147.3 350.4 149.6 349.4 M141.4 357.7 144.5 357.7 147.4 356.8 150.5 356.6 M149.6 349.4 150.2 353 150.5 356.6 M149.6 349.4 150.4 348.1 M163.7 346.8 162.1 349.1 159.9 350.4 157.2 350.8 M151.3 347.7 154.1 349.5 157.2 350.8 M147.4 366.4 149.4 363.8 150.2 360.6 151.4 357.6 M151.4 357.6 150.5 356.6 M188.5 470.9 188.5 470.8 M188.5 470.8 191.3 470 194.1 469.7 M264.8 465.7 263.9 468.7 265.4 471.9 264.6 474.9 M257.9 475.3 261.1 475.3 264.3 475.3 M264.3 475.3 264.6 474.9 M229.9 473 232.6 473.8 235.4 473.4 238.1 474 M265.6 423 262.8 422.5 261.3 420.1 M265.6 423 265 425.5 265.2 428.3 264.5 430.8 M264.5 430.8 262.2 431.1 M254.8 426.9 256.6 424.3 259.8 423.1 261.3 420.1 M254.8 426.9 255.2 427.7 M253.3 389 252.9 391.6 252.7 394.2 253.3 396.8 M253.3 396.8 256.2 396.5 258.9 397.4 M258.9 397.4 259.8 394.9 259.7 392.1 M259.7 392.1 258.2 389.7 255.6 388.2 M265.3 350.8 263 352.5 M253.4 350.1 256.8 350.1 259.8 351.6 263 352.5 M202.4 350.7 202.1 348.5 M202.4 350.7 199 351.8 M199 351.8 195.4 351.3 191.7 351.4 M189.8 348.1 191.7 351.4 M189.8 348.1 187.2 348.9 184.5 349.5 182.2 350.9 179.6 351.6 M191.2 353.2 191.7 356.1 192.2 359 193.5 361.8 194.4 364.6 M185.9 363.2 188.7 364 191.3 365.2 M191.3 365.2 194.4 364.6 M199 351.8 198.2 354.4 197.6 357 196.9 359.6 195.7 362.1 195.3 364.8 M191.2 353.2 191.7 351.4 M194.4 364.6 195.3 364.8 M203.6 351.6 207.1 351 210.5 350.2 M196.4 365.3 197.6 365 M203.4 357.7 204 355.1 203.8 352.6 M203.6 351.6 203.8 352.6 M143 432.9 142 436 140.6 439 139.2 442 M143 432.9 147.8 432.4 M139.2 442 142.1 441.2 145.1 442 148.1 441.3 M148.1 441.3 150.8 437.9 M147.8 432.4 149.2 435.2 150.8 437.9 M140.7 430.5 143 432.9 M149.6 425.6 148.7 430.3 M147.8 432.4 148.7 430.3 M153.1 403.6 154 403.5 M151.7 357.7 154.9 356.9 158.1 356 M151.7 357.7 152.7 360.8 154.1 363.4 157.1 365 M158.1 356 160.5 357.6 162.9 359.2 M157.1 365 158.8 362.9 160.6 360.8 162.9 359.2 M157.2 350.8 157.9 353.4 158.1 356 M151.4 357.6 151.7 357.7 M156 367.3 157.1 365 M163.7 346.8 163.6 349.6 164.4 352.3 165 355 165.4 357.8 M164.4 359.1 165.4 357.8 M164.4 359.1 162.9 359.2 M222.3 364.1 223.4 366.6 225.4 368.7 226.4 371.3 M226.4 371.3 231.1 371.3 M235.1 364 233.8 366.4 232.5 368.9 231.1 371.3 M244.9 415.3 247.5 411.8 M247.5 411.8 250.9 410.3 254 408.4 M254.9 417.2 258.2 415.2 M258.2 415.2 256.4 413.3 254.5 411.4 254.3 408.5 M254.8 426.9 251.6 425 M251.6 425 251.7 422 253.6 419.7 254.9 417.2 M261.3 420.1 259.9 415.9 M259.9 415.9 258.2 415.2 M261 399.4 260 404.1 M262.2 406.3 260 404.1 M247.9 398.9 250.9 398.6 253.3 396.8 M258.9 397.4 261 399.4 M254.3 408.5 257 406.1 260 404.1 M263.5 413.5 259.9 415.9 M262 373.2 263.4 370.8 265.5 368.8 267.3 366.7 268.4 364.1 M262 373.2 263.4 375.1 M155.1 458.1 152.4 458.6 149.9 457.4 147.3 457.6 M155.1 458.1 154.7 455.4 152.4 453.4 152.6 450.5 M147.3 457.6 147.3 454.1 147.9 450.7 M152.6 450.5 151.4 449.6 M147.9 450.7 151.4 449.6 M156.6 475.2 156 472.3 M156 472.3 153.7 471.2 151.2 470.5 148.8 469.7 146.8 467.8 M146.8 467.8 146.1 471.1 143.7 473.5 M158.7 466.6 161.8 467.2 164.4 469.5 167.6 469.8 M158.7 466.6 156.6 469.1 156 472.3 M156.6 475.2 158.6 475.3 M167.6 469.8 167.2 473.4 M158.6 475.3 161.6 475.2 164.3 474 167.2 473.4 M228 450.7 228.4 450.8 M228.4 450.8 228.4 453.6 231 455.2 231.8 457.7 M229.6 461.2 231.8 457.7 M229.9 473 229.3 471.8 M229.3 471.8 230.7 468.6 M238.1 474 239.7 471.8 241.2 469.5 M241.2 469.5 238.9 468.2 237.4 466.1 M230.7 468.6 234 467.4 237.4 466.1 M216.7 466.9 219.6 468.5 M218.3 474.1 214.8 474.8 211.3 475.2 M218.3 474.1 220.4 469.7 M220.4 469.7 219.6 468.5 M209 471.9 211.3 475.2 M223.7 461.1 222.3 463.6 221.4 466.2 219.6 468.5 M229.6 461.2 229.7 463.7 229.2 466.3 230.7 468.6 M213.5 409.5 217.1 409.5 220.6 408.7 M213.5 409.5 212.2 412.4 M212.2 412.4 214 415.7 M214 415.7 216.1 414.1 218.5 413.4 221.1 413.1 M221.1 413.1 220.7 408.8 M220.7 408.8 220.6 408.7 M213.3 409.1 213.5 409.5 M213.4 399.4 216.5 399.8 M216.5 399.8 218 402.7 218.8 405.9 220.6 408.7 M218.9 422.6 218.5 419.3 220.8 417 221.6 414.1 M218.9 422.6 216.4 421.2 213.9 419.8 M221.6 414.1 221.1 413.1 M213.9 419.8 214 415.7 M195.8 398.4 195.3 401.7 193.9 404.6 193.1 407.7 M189.3 397.2 189.6 400.4 190.3 403.6 190.8 406.9 M190.8 406.9 192.3 407.8 M193.1 407.7 192.3 407.8 M262.9 376.9 261.5 379.1 261.7 381.9 259.9 383.8 M259.9 383.8 262.5 385.6 264.7 387.8 M263.4 375.1 262.9 376.9 M253.2 380.3 254.4 377.9 256.2 376.1 258.2 374.4 260.1 372.7 M257.9 384.1 259.9 383.8 M259.7 392.1 262.1 389.9 264.7 387.8 M267.6 363.6 265.6 361.8 266.3 358.4 263.2 357.4 262.3 354.9 M267.6 363.6 265.1 363.4 262.6 362.8 260.2 362.2 257.8 361.7 M262.3 354.9 260.1 356.4 258.4 358.4 256.7 360.4 M257.8 361.7 256.7 360.4 M263 352.5 262.3 354.9 M260.1 372.7 258.2 371.2 M258.2 371.2 257.4 368.1 257.4 364.9 257.8 361.7 M253.4 350.1 252.4 351.9 M256.5 360.3 256.7 360.4 M256.5 360.3 254.1 357.5 252 354.5 M252 354.5 252.4 351.9 M250.9 364.2 252.9 367.2 254.2 370.7 M250.9 364.2 253.9 362.5 256.5 360.3 M254.2 370.7 258.2 371.2 M178.2 355.4 174.9 355.1 171.6 354.9 M171.6 354.9 170.6 352.3 170.7 349.4 169.1 346.9 M179.6 351.6 178.9 352.7 M166 370.2 167.1 368 M178.7 372.4 178.5 371.4 M167.1 368 169.8 369.2 172.8 369.8 175.6 370.7 178.5 371.4 M180.8 374.4 183.7 375.1 186.6 374.4 M185.9 363.2 183.8 365 182.5 367.4 180 368.8 178.6 371.2 M186.6 374.4 187.9 372.1 188.7 369.6 189.9 367.4 191.3 365.2 M178.5 371.4 178.6 371.2 M197.3 370.6 196.2 373 193.6 374 191.9 375.9 190.3 377.8 M198.9 372.6 197.8 375.3 195.1 377 195 380.1 193.3 382.4 M192.8 382.5 193.3 382.4 M186.6 374.4 190.3 377.8 M196.4 365.3 197.2 367.9 197.3 370.6 M207.9 375.3 204.5 377.1 M202.8 381.3 199.4 379.5 196.5 382.1 193.3 382.4 M184.4 384.9 186.7 383.5 189.2 382.8 191.7 381.9 M194 389.4 193.7 385.9 192.8 382.5 M202.1 391.9 204.3 389.8 205.2 387 M205.2 387 204.7 383.9 202.8 381.3 M213.7 379.6 214.9 381.6 M213.7 379.6 210.8 381.6 209.8 385.1 207.1 387.1 M214.9 381.6 213.9 384.2 212.5 386.7 213.3 389.6 M207.1 387.1 210 388.8 213.3 389.6 M205.2 387 207.1 387.1 M211.9 398.7 211.1 395.5 212.6 392.7 213.5 389.8 M213.5 389.8 213.3 389.6 M219.9 383.6 219.5 386.5 219 389.5 M219.9 383.6 221.7 381.2 224.7 380.5 M219 389.5 221.5 390.5 223.3 392.5 M213.5 389.8 216.2 389.2 219 389.5 M214.9 381.6 217.3 383 219.9 383.6 M223.1 376.3 224.7 380.5 M226.4 371.3 225 374 223.1 376.3 M231.1 371.3 232.3 372.9 M232.3 372.9 230.8 375.1 229.8 377.6 229.1 380.2 227.3 382.2 M221.1 397.6 222.5 395.2 223.3 392.5 M234.5 383.4 234.3 380.7 235.5 378.2 236.2 375.7 M236.2 375.7 232.3 372.9 M252.4 351.9 249.5 351.3 246.7 350.1 243.5 351.3 240.7 349.8 M240.6 348.5 240.7 349.8 M242.3 355.6 245.8 358.3 M242.3 355.6 241 353.3 240.5 350.7 M245.8 358.3 248.9 356.3 252 354.5 M240.5 350.7 240.7 349.8 M235.6 361.6 233.9 358.5 232.8 355.1 M235.6 361.6 237.7 359.4 240.5 358 242.3 355.6 M226.7 362.2 227.7 359.4 228.6 356.6 229.4 353.7 M235.6 361.6 235.4 363.9 M232.8 355.1 229.4 353.7 M238.2 347.3 234.9 347.7 232 349.4 228.8 350.2 M229.4 353.7 228.5 352.6 M228.5 352.6 228.8 350.2 M203.8 352.6 206.5 353.6 207.1 356.8 209.5 358.1 211.4 359.9 M210.5 363.2 211.4 359.9 M215.2 374.5 216 371.9 216.6 369.4 216.5 366.7 M210.5 363.2 213.7 364.5 216.5 366.7 M210.5 350.2 212.4 353.2 214.5 355.9 M211.4 359.9 212.2 357.3 214.5 355.9 M222.3 364.1 222.2 364 M216.5 366.7 219.1 364.9 222.2 364 M169.5 439.3 172.1 438.5 174.3 436.7 177 435.9 179.5 434.8 M169.5 439.3 168.9 438.5 M168.9 438.5 169.2 435.4 171 432.6 171.4 429.5 M178.7 430.5 179.5 434.8 M188.6 433.7 186 434.5 184.1 436.5 181.4 437.1 M181.4 437.1 179.5 434.8 M176.6 422.3 177.8 419.5 177.4 416.6 M176.6 422.3 173.5 421.6 170.8 422.7 168.2 424.2 M177.4 416.6 174.8 417.9 172.1 418.8 169.4 419.9 167.1 421.8 M167.1 421.8 168.2 424.2 M182.2 439.8 181.4 437.1 M182.2 439.8 180.6 442.1 179.2 444.6 177.3 446.7 M169.4 444.2 171.3 446.5 174 447.8 M169.4 444.2 169.5 439.3 M177.3 446.7 174 447.8 M176.2 466.6 171.8 464.9 M171.8 464.9 170.2 462 M181.9 464.1 180.1 462 180.4 459.3 179.4 456.9 M170.2 462 171 459.1 171.1 456 M171.1 456 172.8 454.4 M148.1 441.3 149.4 443.8 150.2 446.5 151.3 449 M151.3 449 152.7 446.3 154.9 444 156.5 441.3 M150.8 437.9 154.5 437.8 M154.5 437.8 156.5 441.3 M162 446.6 161 444.7 M162 446.6 159.8 447.8 157.7 449.5 154.9 449.5 152.6 450.5 M151.3 449 151.4 449.6 M161 444.7 158.5 443.3 156.5 441.3 M154 403.5 156.5 403.7 158.7 405.3 161.3 405.1 163.9 405.1 M163.9 398.5 163.6 401.8 163.9 405.1 M238.1 365.1 239.1 368 240.4 370.8 241.9 373.6 M238.1 365.1 240.6 364.1 243.3 363.6 245.9 362.7 M247.1 363.9 247.6 366.7 246.2 369.2 245.7 371.8 245.9 374.5 M247.1 363.9 245.9 362.7 M241.9 373.6 245.8 374.7 M245.8 374.7 245.9 374.5 M236.2 375.7 238.9 374.3 241.9 373.6 M235.4 363.9 238.1 365.1 M250.9 364.2 247.1 363.9 M254.2 370.7 251.1 371.2 248.7 373.3 245.9 374.5 M235.8 384.7 238.2 383.7 240.6 382.9 242.3 380.8 244.5 379.5 247.1 379 M247.1 379 245.8 374.7 M247.1 379 248.2 380.3 M219.8 423.9 224.4 424.8 M224.4 424.8 227.7 422.7 229.2 419.2 M220.7 408.8 223.8 407.7 226.6 406.1 M221.1 397.6 222.8 399.5 226.2 399.8 226.4 403.1 M143.7 473.5 142.6 474 M136.4 482.5 135.8 479.8 134.9 477.1 133.6 474.6 132.5 472.1 M132.9 432.7 133.7 435.6 133 438.5 M139.2 442 139.2 442 M139.2 442 136.4 439.7 133 438.5 M133 438.5 128.9 440.3 M174 447.8 173.5 451.1 172.8 454.4 M168.8 475.6 171.5 474 174 472.1 176.5 470.4 M179.7 478.9 179.5 475.8 177 473.5 176.5 470.4 M167.2 473.4 168.8 475.6 M176.2 466.6 176.5 470.4 M171.8 464.9 170.2 467.8 167.6 469.8 M188.5 470.9 186.3 473 183.5 474.3 181.9 476.9 179.7 478.9 M188.5 470.8 187.9 467 185 464.6 M181.9 464.1 185 464.6 M237.4 466.1 237.8 462.9 239.3 460.1 M231.8 457.7 233.3 457.8 M239.3 460.1 235.8 460.3 233.3 457.8 M236.6 426.9 238.2 424.4 240.3 422.5 243.2 421.4 245 419.1 M236.6 429.1 239.6 428.6 242.7 428.1 245.9 428.4 M245 419.1 245.9 422.5 248.7 424.7 M224.4 424.8 226.6 427.5 227.9 430.7 M227.9 430.7 229.3 431.8 M229.3 431.8 231.9 432.6 234.6 432.1 M234.6 432.1 236.6 429.1 M234.1 421 236.4 423.5 236.6 426.9 M244.3 415.8 241.3 414.7 M244.3 415.8 245 419.1 M251.1 435.7 252.3 435.6 M251.1 435.7 246.8 433.9 M255.2 427.7 255.3 430.7 253.3 432.9 252.3 435.6 M203.6 424.3 204.7 422.5 M205.2 422.5 204.7 422.5 M213.4 431.6 210.8 430.8 208.3 430.3 205.7 430.2 M213.4 431.6 215.8 430.1 M205.7 430.2 204.9 429.5 M215.9 429.3 215.8 430.1 M196.5 439 198.4 437.2 200.4 435.6 202.4 434 202.6 430.8 204.9 429.5 M201.5 424.7 199 426.4 197.1 428.7 195.6 431.2 193.7 433.5 M201.5 424.7 203.6 424.3 M219.8 423.9 217.5 426.4 215.9 429.3 M213.9 419.8 210.8 420.1 208.1 421.5 205.2 422.5 M207.3 436.9 207.3 433.4 205.7 430.2 M210.7 439.6 212.2 437.2 212.8 434.4 213.4 431.6 M218.9 434.1 218 431.6 215.8 430.1 M218.9 434.1 221.8 432.7 225.3 432.9 227.9 430.7 M203.6 418.4 204.5 415.9 205.6 413.5 M203.6 418.4 199.4 416.3 M199.4 416.3 197.9 413.6 197 410.6 195.5 407.8 M205.6 413.5 204.8 410.7 202.8 408.3 202.9 405.3 M202.9 405.3 200.3 405.8 197.8 406.5 195.5 407.8 M212.2 412.4 208.7 411.7 205.6 413.5 M225.9 438.5 223.4 440.1 M225.9 438.5 228.1 439.7 229.9 441.6 M223.4 440.1 222.8 443.7 222.8 447.3 M229.9 441.6 228.3 444 227.9 446.9 226.9 449.6 M226.9 449.6 222.8 447.3 M229.3 431.8 227.9 433.9 227 436.3 225.9 438.5 M219 437.5 220.9 439.3 223.4 440.1 M228 450.7 226.9 449.6 M175.7 362.9 175.6 364.8 M175.7 362.9 173.1 362.9 170.8 361.3 168.1 361.4 165.6 361.1 M175.6 364.8 172.9 366.1 169.8 366.1 167.1 367.7 M165.6 361.1 166 364.5 167.1 367.7 M178.6 371.2 176.4 368.3 175.6 364.8 M164.4 359.1 165.6 361.1 M219.3 350.7 221.6 349.1 M219.3 350.7 219.2 353.3 219.4 356 M221.6 349.1 224.5 351.2 227.8 352.7 M227.8 352.7 225.4 354.5 222.3 354.8 219.7 356.2 M219.4 356 219.7 356.2 M214.5 355.9 219.4 356 M222.2 364 221.8 361.2 220.1 358.9 219.7 356.2 M156.7 422.5 159.9 421.4 163.3 421.9 166.6 421.2 M156.7 422.5 157 419.6 156.8 416.6 157.8 413.8 M166.6 421.2 166.4 418.4 166.4 415.7 M166.4 415.7 165.3 413 163.2 411 M157.8 413.8 160.4 412.3 163.2 411 M154.5 412.3 157.8 413.8 M151.2 423.8 155.8 423.6 M155.8 423.6 156.7 422.5 M177.5 416.4 177.4 416.6 M177.5 416.4 174.4 414.7 M174.4 414.7 171.7 414.7 169 415.4 166.4 415.7 M167.1 421.8 166.6 421.2 M174.4 414.7 173.1 411.8 171.3 409.2 170 406.4 M170 406.4 167.4 406.4 164.7 406.6 M164.7 406.6 163.2 411 M164.7 406.6 163.9 405.1 M163.3 452.5 165.3 453.9 M163.3 452.5 161 454.9 157.9 456.4 155.7 458.9 M165.3 453.9 164.5 456.7 163 459.2 162 462 M155.7 458.9 155.8 459.3 M162.3 446.7 164.9 446.7 167 445.1 169.4 444.2 M162.3 446.7 163.3 449.5 163.3 452.5 M171.1 456 167.9 455.8 165.3 453.9 M162.3 446.7 162 446.6 M155.1 458.1 155.7 458.9 M170.2 462 167.4 462.9 164.7 461.4 162 462 M158.7 466.6 158.7 462.6 M146.3 465.8 148.7 464.2 150.7 462 153.3 460.7 155.8 459.3 M159.1 433 159.2 433.3 M159.1 433 159.1 429.8 M159.2 433.3 162.7 435.3 M169.4 428.2 167.3 430.4 165.3 432.7 163.9 435.5 M169.4 428.2 168.2 426.4 M163.9 435.5 162.7 435.3 M148.7 430.3 151.1 431.8 153.6 432.9 156.3 433.2 159.1 433 M154.5 437.8 157.4 436.2 159.2 433.3 M155.8 423.6 157.4 426.7 159.1 429.8 M161 444.7 161.7 441.6 162.7 438.6 162.7 435.3 M168.2 424.2 168.2 426.4 M168.9 438.5 166.4 437 163.9 435.5 M171.4 429.5 169.4 428.2 M179.4 404.4 176.3 405 173.1 404.7 M179.4 404.4 180.4 399.5 M173.1 404.7 171.6 402.2 172.1 399.3 171.3 396.7 M180.4 399.5 178.8 397 176.7 394.9 M176.7 394.9 172.6 395.2 M177.5 416.4 179.8 415.3 M181.1 406.7 181.3 409.6 181.1 412.5 179.8 415.3 M181.1 406.7 179.4 404.4 M170 406.4 173.1 404.7 M186 396.3 183.3 398.1 180.4 399.5 M181.1 406.7 184.4 406.2 187.6 407.1 190.8 406.9 M164.5 398 168.1 398.2 171.3 396.7 M177.8 391.4 176.7 394.9 M169.1 389.1 170.6 392.3 172.6 395.2 M241.3 414.7 239.2 412.3 M133 471.3 136.5 471.7 140 471.9 M134.2 465.3 138.3 465.5 M132.5 472.1 133 471.3 M132.4 463 134.2 465.3 M146.3 465.8 143.8 463.8 M143.8 463.8 140.7 463.7 138.3 465.5 M143.8 463.8 143.4 460.7 M147.9 450.7 144.6 451 141.3 451.1 M143.9 459.1 142.3 456.7 141.8 453.9 141.3 451.1 M132.4 463 132.8 460.1 133.8 457.5 M143.4 460.7 141.1 459.7 138.4 459.9 136.3 458.1 133.8 457.5 M139.2 442 138.9 444.6 139.5 447.2 138.8 449.7 M141.3 451.1 138.8 449.7 M129.7 446 132.8 446.9 135.1 449.4 138.2 450.2 M138.8 449.7 138.2 450.2 M182.2 439.8 186.3 441.9 M188.6 433.7 192.2 432.4 M192.2 432.4 193.7 433.5 M251.1 435.7 249.7 438.3 248.3 441 246.8 443.6 M246.8 433.9 244.4 435.8 241.5 437.1 239.5 439.4 M228.4 450.8 230.7 448.8 234.3 448.9 236.4 446.4 M233.3 457.8 235.1 455 238.5 453.6 239.6 450.2 M239.6 450.2 236.4 446.4 M229.9 441.6 232.4 440.8 235 440 237.6 440.9 M236.4 446.4 236.5 443.5 237.6 440.9 M237.6 440.9 238.6 439.3 M239.5 439.4 238.6 439.3 M264.8 465.7 262.3 463.7 M257.9 475.3 255.3 474 254.6 471.1 M262.3 463.7 260 465.1 258.7 467.7 256 468.5 M254.6 471.1 256 468.5 M244.4 482.6 245.8 480 245.9 476.8 247.5 474.2 249 471.6 M254.6 471.1 251.8 471.2 249 471.6 M262.3 463.7 262.1 461.9 M262.1 461.9 259.6 460.9 257.7 458.8 255.2 457.9 M255.2 457.9 252.2 461.7 M256 468.5 255.4 465.9 252.4 464.6 252.2 461.7 M195.3 423.4 192.6 425.3 189.7 426.7 M195.3 423.4 194.2 420.6 193.2 417.7 M186 418.3 190.1 415.9 M193.2 417.7 190.1 415.9 M192.2 432.4 191.1 429.5 189.7 426.7 M199.4 416.3 196.3 417.2 193.2 417.7 M179.8 415.3 182.4 417.7 186 418.3 M192.3 407.8 191.4 410.5 191.7 413.4 190.1 415.9 M239.2 412.3 241 410 240.7 406.9 242.1 404.5 243.6 402.1 M247.9 386.6 245.4 389.1 243.2 392 M238 390.7 240.7 391.1 243.2 392 M247.9 398.9 247 398.7 M243.2 392 245.1 393.9 246.1 396.3 247 398.7 M247.5 411.8 246.4 409.4 246.1 406.7 244.2 404.6 244 401.9 M247 398.7 244 401.9 M244 401.9 243.6 402.1 M133.7 456.2 134.4 453.6 M134.4 453.6 131.2 452.1 128 450.5 M138.2 450.2 135.7 451.2 134.4 453.6 M246.8 443.6 247.7 444.8 M239.6 450.2 243 452 M247.7 444.8 245.6 446.8 244 449.2 243 452 M262.1 461.9 263.9 459.4 265.2 456.7 M255.2 457.9 253.7 453.3 M253.7 453.3 255.6 449.5 M255.6 449.5 258.4 450.8 259.8 453.9 263.7 453.8 265.2 456.7 M244.6 469 246.9 469.3 M244.6 469 243.7 466.6 242.1 464.5 241.2 462.1 239.8 460 M246.9 469.3 246.3 465.6 247.9 462.3 M247.9 462.3 245.6 460.1 244 457.5 M239.8 460 244 457.5 M241.2 469.5 244.6 469 M249 471.6 246.9 469.3 M239.3 460.1 239.8 460 M252.2 461.7 247.9 462.3 M253.7 453.3 251 455.1 248 456.2 244.6 455.7 M244.6 455.7 244 457.5 M244.6 455.7 243 452 M253.4 446.4 255.6 449.4 M253.4 446.4 255 444 255.2 441.2 255.6 438.5 M255.6 449.4 258.2 447.4 262 448 264.2 445.3 M257.8 438.1 255.6 438.5 M263.3 441.7 264.2 445.3 M247.7 444.8 250.5 445.6 253.4 446.4 M255.6 449.5 255.6 449.4 M262.2 431.1 261.2 433.7 259.5 435.9 257.8 438.1 M267.9 433.2 266.5 436.1 265.4 439.2 263.3 441.7" fill="none" stroke="#d3d1f1" stroke-width="2.3" stroke-linecap="round" stroke-linejoin="round" opacity="1"/>
<path d="M138.5 376 137.8 379.1 138.1 382.5 136.4 385.4 M138.5 376 141.7 375.6 144.4 377 147.1 378.2 M136.4 385.4 139.1 385.5 141.9 385.2 144.6 386.5 147.4 386 M147.4 386 147.9 382.7 147.6 379.4 M147.1 378.2 147.6 379.4 M132.2 387.8 134.9 387.7 M136.4 385.4 134.9 387.7 M128.3 394.1 129.3 390.4 132.2 387.8 M132.7 356.5 133.1 353.6 132.4 350.7 131.7 347.9 M132.7 356.5 131.9 357.4 M134.5 424.7 132.7 427.5 131.8 430.6 M134.5 424.7 133.2 422.3 131.7 420 131.1 417.3 M130.6 417.2 131.1 417.3 M138.7 413.2 136.1 414.3 133.4 415.5 131.1 417.3 M138.7 413.2 141.8 414.8 M141.8 414.8 142.1 417.4 139.9 419.8 140.6 422.5 140.8 425.1 M140.8 425.1 137.6 424.6 134.5 424.7 M184.4 384.9 185.3 387.6 184.7 390.3 M182.5 383.9 179.3 385.6 176.6 388.2 M176.6 388.2 177.8 391.4 M184.7 390.3 184.7 390.4 M177.8 391.4 181.2 390.6 184.7 390.4 M184.7 390.3 187.9 390.8 190.8 388.9 194 389.4 M189.3 397.2 191.8 395.8 M189.3 397.2 186 396.3 M191.8 395.8 194 393.5 194.5 390.3 M194.5 390.3 194 389.4 M138.7 413.2 138.6 411.8 M138.6 411.8 140.1 409.8 141.4 407.5 142.9 405.5 145 403.9 M145.7 414.9 141.8 414.8 M145.7 414.9 147 413.8 M145 403.9 148.5 405.3 M147 413.8 147.2 411 148.4 408.2 148.5 405.3 M158.2 374.2 160 371.5 M158.2 374.2 158.5 376.8 157.4 379.2 M164 372 164.4 374.9 165.3 377.6 166.1 380.4 M164 372 160 371.5 M148.3 375.3 151.5 374.5 154.8 373.6 158.2 374.2 M148.3 375.3 148.4 371.8 149.2 368.4 M149.2 368.4 152.6 368 156 367.3 M156 367.3 157.6 369.8 160 371.5 M148.3 375.3 147.1 378.2 M131.5 405.6 130.8 403.1 131.1 400.6 M130 416.7 130.6 417.2 M138.6 411.8 137.1 409.4 136.1 406.7 M136.1 406.7 131.5 405.6 M128.3 394.1 130.8 394.9 133.4 395.5 135.8 396.7 M135.8 396.7 134 399.3 131.1 400.6 M136.1 406.7 137.6 403.2 138.4 399.5 M145 403.9 142.9 400.2 M142.9 400.2 138.4 399.5 M135.8 396.7 136.3 396.6 M138.4 399.5 136.3 396.6 M136.4 385.4 136.4 385.4 M134.9 387.7 135.9 390.9 137.2 394.1 M148.6 388.7 146.2 389.6 144.3 391.5 141.7 391.8 139.9 393.9 137.2 394.1 M147 413.8 149.6 413.7 152.1 413.1 154.5 412.3 M154.5 412.3 152.7 409.6 153.8 406.5 153.1 403.6 M148.5 405.3 152.8 403.5 M142.9 400.2 145.6 398.7 147.3 396.1 149.6 394.2 M152.8 403.5 152.4 400.2 150.6 397.3 149.6 394.2 M132.4 363.7 135 365.8 137.6 367.9 M126 367 128.8 367.8 130 370.4 132 372.1 134 373.9 M137.6 367.9 137.2 370.9 135.6 373.5 M135.6 373.5 134 373.9 M131.9 357.4 131.8 360.6 132.4 363.7 M130 377.3 132.5 376.1 134 373.9 M138.5 376 135.6 373.5 M141.1 425.4 140.8 425.1 M141.1 425.4 139.8 427.9 140.7 430.5 M131.8 430.6 132.9 432.7 M173.8 374.8 172.2 377.2 170.7 379.6 M170.7 379.6 174.3 382.5 M174.3 382.5 177.2 381.1 180.3 380.2 M180.3 380.2 180.5 377.3 180.8 374.4 M180.8 374.4 178.7 372.4 M166 370.2 168.8 371.5 171.2 373.4 173.8 374.8 M166.1 380.4 170.7 379.6 M182.5 383.9 180.3 380.2 M176.6 388.2 174.5 386.9 M174.5 386.9 174.3 382.5 M203.5 404.3 206.1 405.3 208.2 407.1 210.6 408.5 213.3 409.1 M203.5 404.3 204.8 399.9 M213.4 399.4 211.9 398.7 M211.9 398.7 208.4 399.3 204.8 399.9 M195.8 398.4 191.8 395.8 M195.8 398.4 198.5 398.9 201.2 398.5 203.9 398.7 M194.5 390.3 197.2 390.3 199.6 391.4 202.1 391.9 M203.9 398.7 203.3 395.2 202.1 391.9 M145.7 414.9 147 417.2 148 419.6 149.3 421.9 151.2 423.8 M141.1 425.4 143.9 425.8 146.7 425.4 149.6 425.6 M149.6 425.6 151.2 423.8 M174.5 386.9 172 388.5 169.1 389.1 M167.4 388.7 169.1 389.1 M132.7 356.5 135.6 356.5 138.4 356.6 140.9 358.4 M137.6 367.9 140 366.4 142.2 364.5 M142.2 364.5 141.1 361.6 140.9 358.4 M149.2 368.4 147.4 366.4 M142.2 364.5 145 364.9 147.4 366.4 M142.4 351.8 141.1 354.6 141.4 357.7 M140.9 358.4 141.4 357.7 M142.4 351.8 144.6 350.2 147.3 350.4 149.6 349.4 M141.4 357.7 144.5 357.7 147.4 356.8 150.5 356.6 M149.6 349.4 150.2 353 150.5 356.6 M149.6 349.4 150.4 348.1 M163.7 346.8 162.1 349.1 159.9 350.4 157.2 350.8 M151.3 347.7 154.1 349.5 157.2 350.8 M147.4 366.4 149.4 363.8 150.2 360.6 151.4 357.6 M151.4 357.6 150.5 356.6 M188.5 470.9 188.5 470.8 M188.5 470.8 191.3 470 194.1 469.7 M264.8 465.7 263.9 468.7 265.4 471.9 264.6 474.9 M257.9 475.3 261.1 475.3 264.3 475.3 M264.3 475.3 264.6 474.9 M229.9 473 232.6 473.8 235.4 473.4 238.1 474 M265.6 423 262.8 422.5 261.3 420.1 M265.6 423 265 425.5 265.2 428.3 264.5 430.8 M264.5 430.8 262.2 431.1 M254.8 426.9 256.6 424.3 259.8 423.1 261.3 420.1 M254.8 426.9 255.2 427.7 M253.3 389 252.9 391.6 252.7 394.2 253.3 396.8 M253.3 396.8 256.2 396.5 258.9 397.4 M258.9 397.4 259.8 394.9 259.7 392.1 M259.7 392.1 258.2 389.7 255.6 388.2 M265.3 350.8 263 352.5 M253.4 350.1 256.8 350.1 259.8 351.6 263 352.5 M202.4 350.7 202.1 348.5 M202.4 350.7 199 351.8 M199 351.8 195.4 351.3 191.7 351.4 M189.8 348.1 191.7 351.4 M189.8 348.1 187.2 348.9 184.5 349.5 182.2 350.9 179.6 351.6 M191.2 353.2 191.7 356.1 192.2 359 193.5 361.8 194.4 364.6 M185.9 363.2 188.7 364 191.3 365.2 M191.3 365.2 194.4 364.6 M199 351.8 198.2 354.4 197.6 357 196.9 359.6 195.7 362.1 195.3 364.8 M191.2 353.2 191.7 351.4 M194.4 364.6 195.3 364.8 M203.6 351.6 207.1 351 210.5 350.2 M196.4 365.3 197.6 365 M203.4 357.7 204 355.1 203.8 352.6 M203.6 351.6 203.8 352.6 M143 432.9 142 436 140.6 439 139.2 442 M143 432.9 147.8 432.4 M139.2 442 142.1 441.2 145.1 442 148.1 441.3 M148.1 441.3 150.8 437.9 M147.8 432.4 149.2 435.2 150.8 437.9 M140.7 430.5 143 432.9 M149.6 425.6 148.7 430.3 M147.8 432.4 148.7 430.3 M153.1 403.6 154 403.5 M151.7 357.7 154.9 356.9 158.1 356 M151.7 357.7 152.7 360.8 154.1 363.4 157.1 365 M158.1 356 160.5 357.6 162.9 359.2 M157.1 365 158.8 362.9 160.6 360.8 162.9 359.2 M157.2 350.8 157.9 353.4 158.1 356 M151.4 357.6 151.7 357.7 M156 367.3 157.1 365 M163.7 346.8 163.6 349.6 164.4 352.3 165 355 165.4 357.8 M164.4 359.1 165.4 357.8 M164.4 359.1 162.9 359.2 M222.3 364.1 223.4 366.6 225.4 368.7 226.4 371.3 M226.4 371.3 231.1 371.3 M235.1 364 233.8 366.4 232.5 368.9 231.1 371.3 M244.9 415.3 247.5 411.8 M247.5 411.8 250.9 410.3 254 408.4 M254.9 417.2 258.2 415.2 M258.2 415.2 256.4 413.3 254.5 411.4 254.3 408.5 M254.8 426.9 251.6 425 M251.6 425 251.7 422 253.6 419.7 254.9 417.2 M261.3 420.1 259.9 415.9 M259.9 415.9 258.2 415.2 M261 399.4 260 404.1 M262.2 406.3 260 404.1 M247.9 398.9 250.9 398.6 253.3 396.8 M258.9 397.4 261 399.4 M254.3 408.5 257 406.1 260 404.1 M263.5 413.5 259.9 415.9 M262 373.2 263.4 370.8 265.5 368.8 267.3 366.7 268.4 364.1 M262 373.2 263.4 375.1 M155.1 458.1 152.4 458.6 149.9 457.4 147.3 457.6 M155.1 458.1 154.7 455.4 152.4 453.4 152.6 450.5 M147.3 457.6 147.3 454.1 147.9 450.7 M152.6 450.5 151.4 449.6 M147.9 450.7 151.4 449.6 M156.6 475.2 156 472.3 M156 472.3 153.7 471.2 151.2 470.5 148.8 469.7 146.8 467.8 M146.8 467.8 146.1 471.1 143.7 473.5 M158.7 466.6 161.8 467.2 164.4 469.5 167.6 469.8 M158.7 466.6 156.6 469.1 156 472.3 M156.6 475.2 158.6 475.3 M167.6 469.8 167.2 473.4 M158.6 475.3 161.6 475.2 164.3 474 167.2 473.4 M228 450.7 228.4 450.8 M228.4 450.8 228.4 453.6 231 455.2 231.8 457.7 M229.6 461.2 231.8 457.7 M229.9 473 229.3 471.8 M229.3 471.8 230.7 468.6 M238.1 474 239.7 471.8 241.2 469.5 M241.2 469.5 238.9 468.2 237.4 466.1 M230.7 468.6 234 467.4 237.4 466.1 M216.7 466.9 219.6 468.5 M218.3 474.1 214.8 474.8 211.3 475.2 M218.3 474.1 220.4 469.7 M220.4 469.7 219.6 468.5 M209 471.9 211.3 475.2 M223.7 461.1 222.3 463.6 221.4 466.2 219.6 468.5 M229.6 461.2 229.7 463.7 229.2 466.3 230.7 468.6 M213.5 409.5 217.1 409.5 220.6 408.7 M213.5 409.5 212.2 412.4 M212.2 412.4 214 415.7 M214 415.7 216.1 414.1 218.5 413.4 221.1 413.1 M221.1 413.1 220.7 408.8 M220.7 408.8 220.6 408.7 M213.3 409.1 213.5 409.5 M213.4 399.4 216.5 399.8 M216.5 399.8 218 402.7 218.8 405.9 220.6 408.7 M218.9 422.6 218.5 419.3 220.8 417 221.6 414.1 M218.9 422.6 216.4 421.2 213.9 419.8 M221.6 414.1 221.1 413.1 M213.9 419.8 214 415.7 M195.8 398.4 195.3 401.7 193.9 404.6 193.1 407.7 M189.3 397.2 189.6 400.4 190.3 403.6 190.8 406.9 M190.8 406.9 192.3 407.8 M193.1 407.7 192.3 407.8 M262.9 376.9 261.5 379.1 261.7 381.9 259.9 383.8 M259.9 383.8 262.5 385.6 264.7 387.8 M263.4 375.1 262.9 376.9 M253.2 380.3 254.4 377.9 256.2 376.1 258.2 374.4 260.1 372.7 M257.9 384.1 259.9 383.8 M259.7 392.1 262.1 389.9 264.7 387.8 M267.6 363.6 265.6 361.8 266.3 358.4 263.2 357.4 262.3 354.9 M267.6 363.6 265.1 363.4 262.6 362.8 260.2 362.2 257.8 361.7 M262.3 354.9 260.1 356.4 258.4 358.4 256.7 360.4 M257.8 361.7 256.7 360.4 M263 352.5 262.3 354.9 M260.1 372.7 258.2 371.2 M258.2 371.2 257.4 368.1 257.4 364.9 257.8 361.7 M253.4 350.1 252.4 351.9 M256.5 360.3 256.7 360.4 M256.5 360.3 254.1 357.5 252 354.5 M252 354.5 252.4 351.9 M250.9 364.2 252.9 367.2 254.2 370.7 M250.9 364.2 253.9 362.5 256.5 360.3 M254.2 370.7 258.2 371.2 M178.2 355.4 174.9 355.1 171.6 354.9 M171.6 354.9 170.6 352.3 170.7 349.4 169.1 346.9 M179.6 351.6 178.9 352.7 M166 370.2 167.1 368 M178.7 372.4 178.5 371.4 M167.1 368 169.8 369.2 172.8 369.8 175.6 370.7 178.5 371.4 M180.8 374.4 183.7 375.1 186.6 374.4 M185.9 363.2 183.8 365 182.5 367.4 180 368.8 178.6 371.2 M186.6 374.4 187.9 372.1 188.7 369.6 189.9 367.4 191.3 365.2 M178.5 371.4 178.6 371.2 M197.3 370.6 196.2 373 193.6 374 191.9 375.9 190.3 377.8 M198.9 372.6 197.8 375.3 195.1 377 195 380.1 193.3 382.4 M192.8 382.5 193.3 382.4 M186.6 374.4 190.3 377.8 M196.4 365.3 197.2 367.9 197.3 370.6 M207.9 375.3 204.5 377.1 M202.8 381.3 199.4 379.5 196.5 382.1 193.3 382.4 M184.4 384.9 186.7 383.5 189.2 382.8 191.7 381.9 M194 389.4 193.7 385.9 192.8 382.5 M202.1 391.9 204.3 389.8 205.2 387 M205.2 387 204.7 383.9 202.8 381.3 M213.7 379.6 214.9 381.6 M213.7 379.6 210.8 381.6 209.8 385.1 207.1 387.1 M214.9 381.6 213.9 384.2 212.5 386.7 213.3 389.6 M207.1 387.1 210 388.8 213.3 389.6 M205.2 387 207.1 387.1 M211.9 398.7 211.1 395.5 212.6 392.7 213.5 389.8 M213.5 389.8 213.3 389.6 M219.9 383.6 219.5 386.5 219 389.5 M219.9 383.6 221.7 381.2 224.7 380.5 M219 389.5 221.5 390.5 223.3 392.5 M213.5 389.8 216.2 389.2 219 389.5 M214.9 381.6 217.3 383 219.9 383.6 M223.1 376.3 224.7 380.5 M226.4 371.3 225 374 223.1 376.3 M231.1 371.3 232.3 372.9 M232.3 372.9 230.8 375.1 229.8 377.6 229.1 380.2 227.3 382.2 M221.1 397.6 222.5 395.2 223.3 392.5 M234.5 383.4 234.3 380.7 235.5 378.2 236.2 375.7 M236.2 375.7 232.3 372.9 M252.4 351.9 249.5 351.3 246.7 350.1 243.5 351.3 240.7 349.8 M240.6 348.5 240.7 349.8 M242.3 355.6 245.8 358.3 M242.3 355.6 241 353.3 240.5 350.7 M245.8 358.3 248.9 356.3 252 354.5 M240.5 350.7 240.7 349.8 M235.6 361.6 233.9 358.5 232.8 355.1 M235.6 361.6 237.7 359.4 240.5 358 242.3 355.6 M226.7 362.2 227.7 359.4 228.6 356.6 229.4 353.7 M235.6 361.6 235.4 363.9 M232.8 355.1 229.4 353.7 M238.2 347.3 234.9 347.7 232 349.4 228.8 350.2 M229.4 353.7 228.5 352.6 M228.5 352.6 228.8 350.2 M203.8 352.6 206.5 353.6 207.1 356.8 209.5 358.1 211.4 359.9 M210.5 363.2 211.4 359.9 M215.2 374.5 216 371.9 216.6 369.4 216.5 366.7 M210.5 363.2 213.7 364.5 216.5 366.7 M210.5 350.2 212.4 353.2 214.5 355.9 M211.4 359.9 212.2 357.3 214.5 355.9 M222.3 364.1 222.2 364 M216.5 366.7 219.1 364.9 222.2 364 M169.5 439.3 172.1 438.5 174.3 436.7 177 435.9 179.5 434.8 M169.5 439.3 168.9 438.5 M168.9 438.5 169.2 435.4 171 432.6 171.4 429.5 M178.7 430.5 179.5 434.8 M188.6 433.7 186 434.5 184.1 436.5 181.4 437.1 M181.4 437.1 179.5 434.8 M176.6 422.3 177.8 419.5 177.4 416.6 M176.6 422.3 173.5 421.6 170.8 422.7 168.2 424.2 M177.4 416.6 174.8 417.9 172.1 418.8 169.4 419.9 167.1 421.8 M167.1 421.8 168.2 424.2 M182.2 439.8 181.4 437.1 M182.2 439.8 180.6 442.1 179.2 444.6 177.3 446.7 M169.4 444.2 171.3 446.5 174 447.8 M169.4 444.2 169.5 439.3 M177.3 446.7 174 447.8 M176.2 466.6 171.8 464.9 M171.8 464.9 170.2 462 M181.9 464.1 180.1 462 180.4 459.3 179.4 456.9 M170.2 462 171 459.1 171.1 456 M171.1 456 172.8 454.4 M148.1 441.3 149.4 443.8 150.2 446.5 151.3 449 M151.3 449 152.7 446.3 154.9 444 156.5 441.3 M150.8 437.9 154.5 437.8 M154.5 437.8 156.5 441.3 M162 446.6 161 444.7 M162 446.6 159.8 447.8 157.7 449.5 154.9 449.5 152.6 450.5 M151.3 449 151.4 449.6 M161 444.7 158.5 443.3 156.5 441.3 M154 403.5 156.5 403.7 158.7 405.3 161.3 405.1 163.9 405.1 M163.9 398.5 163.6 401.8 163.9 405.1 M238.1 365.1 239.1 368 240.4 370.8 241.9 373.6 M238.1 365.1 240.6 364.1 243.3 363.6 245.9 362.7 M247.1 363.9 247.6 366.7 246.2 369.2 245.7 371.8 245.9 374.5 M247.1 363.9 245.9 362.7 M241.9 373.6 245.8 374.7 M245.8 374.7 245.9 374.5 M236.2 375.7 238.9 374.3 241.9 373.6 M235.4 363.9 238.1 365.1 M250.9 364.2 247.1 363.9 M254.2 370.7 251.1 371.2 248.7 373.3 245.9 374.5 M235.8 384.7 238.2 383.7 240.6 382.9 242.3 380.8 244.5 379.5 247.1 379 M247.1 379 245.8 374.7 M247.1 379 248.2 380.3 M219.8 423.9 224.4 424.8 M224.4 424.8 227.7 422.7 229.2 419.2 M220.7 408.8 223.8 407.7 226.6 406.1 M221.1 397.6 222.8 399.5 226.2 399.8 226.4 403.1 M143.7 473.5 142.6 474 M136.4 482.5 135.8 479.8 134.9 477.1 133.6 474.6 132.5 472.1 M132.9 432.7 133.7 435.6 133 438.5 M139.2 442 139.2 442 M139.2 442 136.4 439.7 133 438.5 M133 438.5 128.9 440.3 M174 447.8 173.5 451.1 172.8 454.4 M168.8 475.6 171.5 474 174 472.1 176.5 470.4 M179.7 478.9 179.5 475.8 177 473.5 176.5 470.4 M167.2 473.4 168.8 475.6 M176.2 466.6 176.5 470.4 M171.8 464.9 170.2 467.8 167.6 469.8 M188.5 470.9 186.3 473 183.5 474.3 181.9 476.9 179.7 478.9 M188.5 470.8 187.9 467 185 464.6 M181.9 464.1 185 464.6 M237.4 466.1 237.8 462.9 239.3 460.1 M231.8 457.7 233.3 457.8 M239.3 460.1 235.8 460.3 233.3 457.8 M236.6 426.9 238.2 424.4 240.3 422.5 243.2 421.4 245 419.1 M236.6 429.1 239.6 428.6 242.7 428.1 245.9 428.4 M245 419.1 245.9 422.5 248.7 424.7 M224.4 424.8 226.6 427.5 227.9 430.7 M227.9 430.7 229.3 431.8 M229.3 431.8 231.9 432.6 234.6 432.1 M234.6 432.1 236.6 429.1 M234.1 421 236.4 423.5 236.6 426.9 M244.3 415.8 241.3 414.7 M244.3 415.8 245 419.1 M251.1 435.7 252.3 435.6 M251.1 435.7 246.8 433.9 M255.2 427.7 255.3 430.7 253.3 432.9 252.3 435.6 M203.6 424.3 204.7 422.5 M205.2 422.5 204.7 422.5 M213.4 431.6 210.8 430.8 208.3 430.3 205.7 430.2 M213.4 431.6 215.8 430.1 M205.7 430.2 204.9 429.5 M215.9 429.3 215.8 430.1 M196.5 439 198.4 437.2 200.4 435.6 202.4 434 202.6 430.8 204.9 429.5 M201.5 424.7 199 426.4 197.1 428.7 195.6 431.2 193.7 433.5 M201.5 424.7 203.6 424.3 M219.8 423.9 217.5 426.4 215.9 429.3 M213.9 419.8 210.8 420.1 208.1 421.5 205.2 422.5 M207.3 436.9 207.3 433.4 205.7 430.2 M210.7 439.6 212.2 437.2 212.8 434.4 213.4 431.6 M218.9 434.1 218 431.6 215.8 430.1 M218.9 434.1 221.8 432.7 225.3 432.9 227.9 430.7 M203.6 418.4 204.5 415.9 205.6 413.5 M203.6 418.4 199.4 416.3 M199.4 416.3 197.9 413.6 197 410.6 195.5 407.8 M205.6 413.5 204.8 410.7 202.8 408.3 202.9 405.3 M202.9 405.3 200.3 405.8 197.8 406.5 195.5 407.8 M212.2 412.4 208.7 411.7 205.6 413.5 M225.9 438.5 223.4 440.1 M225.9 438.5 228.1 439.7 229.9 441.6 M223.4 440.1 222.8 443.7 222.8 447.3 M229.9 441.6 228.3 444 227.9 446.9 226.9 449.6 M226.9 449.6 222.8 447.3 M229.3 431.8 227.9 433.9 227 436.3 225.9 438.5 M219 437.5 220.9 439.3 223.4 440.1 M228 450.7 226.9 449.6 M175.7 362.9 175.6 364.8 M175.7 362.9 173.1 362.9 170.8 361.3 168.1 361.4 165.6 361.1 M175.6 364.8 172.9 366.1 169.8 366.1 167.1 367.7 M165.6 361.1 166 364.5 167.1 367.7 M178.6 371.2 176.4 368.3 175.6 364.8 M164.4 359.1 165.6 361.1 M219.3 350.7 221.6 349.1 M219.3 350.7 219.2 353.3 219.4 356 M221.6 349.1 224.5 351.2 227.8 352.7 M227.8 352.7 225.4 354.5 222.3 354.8 219.7 356.2 M219.4 356 219.7 356.2 M214.5 355.9 219.4 356 M222.2 364 221.8 361.2 220.1 358.9 219.7 356.2 M156.7 422.5 159.9 421.4 163.3 421.9 166.6 421.2 M156.7 422.5 157 419.6 156.8 416.6 157.8 413.8 M166.6 421.2 166.4 418.4 166.4 415.7 M166.4 415.7 165.3 413 163.2 411 M157.8 413.8 160.4 412.3 163.2 411 M154.5 412.3 157.8 413.8 M151.2 423.8 155.8 423.6 M155.8 423.6 156.7 422.5 M177.5 416.4 177.4 416.6 M177.5 416.4 174.4 414.7 M174.4 414.7 171.7 414.7 169 415.4 166.4 415.7 M167.1 421.8 166.6 421.2 M174.4 414.7 173.1 411.8 171.3 409.2 170 406.4 M170 406.4 167.4 406.4 164.7 406.6 M164.7 406.6 163.2 411 M164.7 406.6 163.9 405.1 M163.3 452.5 165.3 453.9 M163.3 452.5 161 454.9 157.9 456.4 155.7 458.9 M165.3 453.9 164.5 456.7 163 459.2 162 462 M155.7 458.9 155.8 459.3 M162.3 446.7 164.9 446.7 167 445.1 169.4 444.2 M162.3 446.7 163.3 449.5 163.3 452.5 M171.1 456 167.9 455.8 165.3 453.9 M162.3 446.7 162 446.6 M155.1 458.1 155.7 458.9 M170.2 462 167.4 462.9 164.7 461.4 162 462 M158.7 466.6 158.7 462.6 M146.3 465.8 148.7 464.2 150.7 462 153.3 460.7 155.8 459.3 M159.1 433 159.2 433.3 M159.1 433 159.1 429.8 M159.2 433.3 162.7 435.3 M169.4 428.2 167.3 430.4 165.3 432.7 163.9 435.5 M169.4 428.2 168.2 426.4 M163.9 435.5 162.7 435.3 M148.7 430.3 151.1 431.8 153.6 432.9 156.3 433.2 159.1 433 M154.5 437.8 157.4 436.2 159.2 433.3 M155.8 423.6 157.4 426.7 159.1 429.8 M161 444.7 161.7 441.6 162.7 438.6 162.7 435.3 M168.2 424.2 168.2 426.4 M168.9 438.5 166.4 437 163.9 435.5 M171.4 429.5 169.4 428.2 M179.4 404.4 176.3 405 173.1 404.7 M179.4 404.4 180.4 399.5 M173.1 404.7 171.6 402.2 172.1 399.3 171.3 396.7 M180.4 399.5 178.8 397 176.7 394.9 M176.7 394.9 172.6 395.2 M177.5 416.4 179.8 415.3 M181.1 406.7 181.3 409.6 181.1 412.5 179.8 415.3 M181.1 406.7 179.4 404.4 M170 406.4 173.1 404.7 M186 396.3 183.3 398.1 180.4 399.5 M181.1 406.7 184.4 406.2 187.6 407.1 190.8 406.9 M164.5 398 168.1 398.2 171.3 396.7 M177.8 391.4 176.7 394.9 M169.1 389.1 170.6 392.3 172.6 395.2 M241.3 414.7 239.2 412.3 M133 471.3 136.5 471.7 140 471.9 M134.2 465.3 138.3 465.5 M132.5 472.1 133 471.3 M132.4 463 134.2 465.3 M146.3 465.8 143.8 463.8 M143.8 463.8 140.7 463.7 138.3 465.5 M143.8 463.8 143.4 460.7 M147.9 450.7 144.6 451 141.3 451.1 M143.9 459.1 142.3 456.7 141.8 453.9 141.3 451.1 M132.4 463 132.8 460.1 133.8 457.5 M143.4 460.7 141.1 459.7 138.4 459.9 136.3 458.1 133.8 457.5 M139.2 442 138.9 444.6 139.5 447.2 138.8 449.7 M141.3 451.1 138.8 449.7 M129.7 446 132.8 446.9 135.1 449.4 138.2 450.2 M138.8 449.7 138.2 450.2 M182.2 439.8 186.3 441.9 M188.6 433.7 192.2 432.4 M192.2 432.4 193.7 433.5 M251.1 435.7 249.7 438.3 248.3 441 246.8 443.6 M246.8 433.9 244.4 435.8 241.5 437.1 239.5 439.4 M228.4 450.8 230.7 448.8 234.3 448.9 236.4 446.4 M233.3 457.8 235.1 455 238.5 453.6 239.6 450.2 M239.6 450.2 236.4 446.4 M229.9 441.6 232.4 440.8 235 440 237.6 440.9 M236.4 446.4 236.5 443.5 237.6 440.9 M237.6 440.9 238.6 439.3 M239.5 439.4 238.6 439.3 M264.8 465.7 262.3 463.7 M257.9 475.3 255.3 474 254.6 471.1 M262.3 463.7 260 465.1 258.7 467.7 256 468.5 M254.6 471.1 256 468.5 M244.4 482.6 245.8 480 245.9 476.8 247.5 474.2 249 471.6 M254.6 471.1 251.8 471.2 249 471.6 M262.3 463.7 262.1 461.9 M262.1 461.9 259.6 460.9 257.7 458.8 255.2 457.9 M255.2 457.9 252.2 461.7 M256 468.5 255.4 465.9 252.4 464.6 252.2 461.7 M195.3 423.4 192.6 425.3 189.7 426.7 M195.3 423.4 194.2 420.6 193.2 417.7 M186 418.3 190.1 415.9 M193.2 417.7 190.1 415.9 M192.2 432.4 191.1 429.5 189.7 426.7 M199.4 416.3 196.3 417.2 193.2 417.7 M179.8 415.3 182.4 417.7 186 418.3 M192.3 407.8 191.4 410.5 191.7 413.4 190.1 415.9 M239.2 412.3 241 410 240.7 406.9 242.1 404.5 243.6 402.1 M247.9 386.6 245.4 389.1 243.2 392 M238 390.7 240.7 391.1 243.2 392 M247.9 398.9 247 398.7 M243.2 392 245.1 393.9 246.1 396.3 247 398.7 M247.5 411.8 246.4 409.4 246.1 406.7 244.2 404.6 244 401.9 M247 398.7 244 401.9 M244 401.9 243.6 402.1 M133.7 456.2 134.4 453.6 M134.4 453.6 131.2 452.1 128 450.5 M138.2 450.2 135.7 451.2 134.4 453.6 M246.8 443.6 247.7 444.8 M239.6 450.2 243 452 M247.7 444.8 245.6 446.8 244 449.2 243 452 M262.1 461.9 263.9 459.4 265.2 456.7 M255.2 457.9 253.7 453.3 M253.7 453.3 255.6 449.5 M255.6 449.5 258.4 450.8 259.8 453.9 263.7 453.8 265.2 456.7 M244.6 469 246.9 469.3 M244.6 469 243.7 466.6 242.1 464.5 241.2 462.1 239.8 460 M246.9 469.3 246.3 465.6 247.9 462.3 M247.9 462.3 245.6 460.1 244 457.5 M239.8 460 244 457.5 M241.2 469.5 244.6 469 M249 471.6 246.9 469.3 M239.3 460.1 239.8 460 M252.2 461.7 247.9 462.3 M253.7 453.3 251 455.1 248 456.2 244.6 455.7 M244.6 455.7 244 457.5 M244.6 455.7 243 452 M253.4 446.4 255.6 449.4 M253.4 446.4 255 444 255.2 441.2 255.6 438.5 M255.6 449.4 258.2 447.4 262 448 264.2 445.3 M257.8 438.1 255.6 438.5 M263.3 441.7 264.2 445.3 M247.7 444.8 250.5 445.6 253.4 446.4 M255.6 449.5 255.6 449.4 M262.2 431.1 261.2 433.7 259.5 435.9 257.8 438.1 M267.9 433.2 266.5 436.1 265.4 439.2 263.3 441.7" fill="none" stroke="#54467a" stroke-width="0.6" stroke-linecap="round" stroke-linejoin="round" opacity="1" stroke-dasharray="1.6 0.9"/>
</g>
<path d="M179.9 453.4a22.6 18.6 0 1 0 45.2 0a22.6 18.6 0 1 0 -45.2 0Z M186.7 453.4a15.8 11.8 0 1 0 31.6 0a15.8 11.8 0 1 0 -31.6 0Z" fill="#dcd8f3" fill-rule="evenodd"/>
<ellipse cx="202.5" cy="453.4" rx="16.7" ry="12.7" fill="none" stroke="#b4a6d4" stroke-width="0.55" stroke-dasharray="1.1 1.3 1.3 2.7 1.7 1.6 1.6 1.5 0.8 1.5 0.9 2.5" opacity="0.9"/>
<ellipse cx="202.5" cy="453.4" rx="18.4" ry="14.4" fill="none" stroke="#b4a6d4" stroke-width="0.55" stroke-dasharray="2.8 1.6 1.9 1.3 2.8 1.7 2.6 2.1 1.9 2.6 1.8 2.2" opacity="0.9"/>
<ellipse cx="202.5" cy="453.4" rx="20.1" ry="16.1" fill="none" stroke="#b4a6d4" stroke-width="0.55" stroke-dasharray="2.4 0.7 1.2 0.8 1.7 0.7 2.7 2.6 1.5 2.4 0.6 2.7" opacity="0.9"/>
<ellipse cx="202.5" cy="453.4" rx="21.8" ry="17.8" fill="none" stroke="#b4a6d4" stroke-width="0.55" stroke-dasharray="1.8 2.2 1.6 1.1 0.8 2.5 2 2.7 1.8 2.3 0.8 2.7" opacity="0.9"/>
<path d="M196.7 468.9h0 M183.8 460.3h0 M188.7 447.5h0 M180.8 458.3h0 M188 462.7h0 M218.6 441.5h0 M220.2 460.5h0 M200.4 441.5h0 M202.7 438.2h0 M218.5 465.5h0 M185.4 454.9h0 M206.4 471.1h0 M202.2 440.1h0 M212.5 439.3h0 M211.7 436.7h0 M208.2 470.7h0 M185.2 464.4h0 M215.1 444.5h0 M190.9 442.4h0 M220.1 458.9h0 M216.9 461.9h0 M217.6 461.4h0 M190.2 445.6h0 M186.1 455.8h0 M193.5 440h0 M207.3 468.8h0 M187.7 448.3h0 M182.6 449.6h0 M203.9 435.8h0 M191 443.6h0 M186.6 456.9h0 M223.7 449h0 M218.3 452.7h0 M207.1 470.9h0 M200 470.5h0 M221.1 459.9h0 M197.4 441.7h0 M211.8 466h0 M198.6 467.6h0 M193.9 442.8h0 M219 460.7h0 M208.8 435.7h0 M198.1 441.5h0 M209.7 468h0 M211 464.2h0 M194.2 442.8h0 M181.3 455.4h0 M218.7 465.9h0 M187.9 459.4h0 M208.5 465.7h0 M219.1 441.5h0 M185.7 448.6h0 M201.8 438.3h0 M184.4 460.6h0 M194.5 437.4h0 M188.6 445.4h0 M217.7 448.4h0 M220.2 452.5h0 M201 435.3h0 M212.4 440.9h0 M217.8 466.8h0 M200.3 471.3h0 M221.5 459.9h0 M207.6 440.8h0 M224.4 452.4h0 M209.5 464.1h0 M194.9 442.5h0 M192.4 464.7h0 M200.3 466.3h0 M190.2 461.8h0 M211.3 442.9h0 M213.9 463.1h0 M186.4 445.9h0 M220.3 464.3h0 M210.5 436.5h0 M210.7 441.1h0 M221.1 458h0 M223.4 447.8h0 M198.2 467.8h0 M192.5 463.6h0 M217.7 445.7h0 M212.3 463.4h0 M197.3 436h0 M209 440.9h0" stroke="#a08cc0" stroke-width="0.9" stroke-linecap="round" opacity="0.8"/>
<ellipse cx="202.5" cy="453.4" rx="22.6" ry="18.6" fill="none" stroke="#b4acde" stroke-width="0.7"/>
<ellipse cx="202.5" cy="453.4" rx="15.8" ry="11.8" fill="#fefeff" stroke="#b4acde" stroke-width="0.8"/>
<path d="M137.8 376.9h0 M140.5 376.3h0 M143 377h0 M147.6 381.9h0 M147.5 384h0 M147.6 382.5h0 M134.6 387.8h0 M131.9 389h0 M132.3 355.9h0 M133.6 425.3h0 M134.4 424.6h0 M131.6 429.7h0 M131.5 418.9h0 M142.1 421.7h0 M141.4 414.2h0 M140.8 425.9h0 M136 424.2h0 M182.1 383.4h0 M177.9 391.2h0 M181.1 391.1h0 M187.8 390.7h0 M193.2 389.7h0 M190.9 395.2h0 M189.7 397.1h0 M188 396.9h0 M138.2 411.9h0 M139.7 410.2h0 M142.9 415.2h0 M146 404.8h0 M148.1 405h0 M147.2 406.3h0 M159.3 373.4h0 M162.5 371.4h0 M156.8 374.6h0 M149.2 375.5h0 M148.5 368.3h0 M156.9 367.4h0 M130.6 402.2h0 M137.7 410.6h0 M136.2 406.2h0 M137.3 399.2h0 M140.6 392.4h0 M139.7 393h0 M147 413.5h0 M153.8 410.4h0 M154.2 409.3h0 M148.6 405.3h0 M146.3 396.6h0 M142.3 400.2h0 M151.7 398.5h0 M134.1 363.8h0 M133.5 374.1h0 M133.4 362.9h0 M131 376h0 M138.4 374.8h0 M141.2 426.5h0 M171.8 377.8h0 M172.8 381.2h0 M179.7 378h0 M180.8 378.9h0 M178.9 373h0 M182.2 382.8h0 M206.1 405.8h0 M209.1 406.9h0 M200.1 391.3h0 M146.5 415.5h0 M149.7 421.2h0 M145.4 416.5h0 M148.8 419.9h0 M148.2 418.9h0 M151.4 425.3h0 M170.4 389.1h0 M167.1 388.6h0 M134 356.6h0 M139.5 367.3h0 M136.9 367.8h0 M138.5 367.8h0 M143.4 365.1h0 M144.1 365.2h0 M141.5 352.2h0 M142.6 353.6h0 M145.7 350h0 M149.3 350.1h0 M143.5 351.6h0 M146.8 350.8h0 M143.3 351.2h0 M147.9 356.2h0 M144.2 357.6h0 M151.4 354.8h0 M150.4 355.5h0 M160.3 348.8h0 M161.1 348.6h0 M161.8 349h0 M155.2 348.8h0 M151.9 357.8h0 M264.1 466h0 M229 473h0 M265.2 426.9h0 M260.8 420.8h0 M253.5 389.6h0 M253.2 392.2h0 M255.7 388.4h0 M265.1 351.2h0 M201.8 350.5h0 M191.1 349.1h0 M191.6 356h0 M192 365.3h0 M198.2 354.3h0 M198.4 353.7h0 M194.6 363.9h0 M195.1 364.7h0 M195.1 363.9h0 M207.4 350h0 M207.3 349.6h0 M203.4 355.1h0 M142.1 433.3h0 M144.4 440.7h0 M149.3 427.1h0 M149.7 429.5h0 M149.5 429.5h0 M149.1 431.8h0 M153.5 357.7h0 M162.2 358.4h0 M161 361.7h0 M164.3 354.1h0 M163.7 347.5h0 M164.6 348.9h0 M224.6 370.1h0 M233.9 366.6h0 M233.4 366.6h0 M230.6 370.5h0 M256.6 411.1h0 M254.6 426.8h0 M253.9 420h0 M254.8 418.1h0 M252.7 421.1h0 M259.5 416.6h0 M259.9 400.1h0 M261.7 373.7h0 M147.7 457.6h0 M147.3 458.2h0 M154.1 457.3h0 M147.6 458h0 M162.6 473.8h0 M164.9 474.2h0 M231.6 456.2h0 M229.6 471h0 M239.1 467.3h0 M236.9 466h0 M237.7 466.2h0 M212.8 474.8h0 M214 474.9h0 M214.3 474.7h0 M210.9 475.2h0 M230.1 464.2h0 M230.8 466h0 M229.9 467.3h0 M230.6 468.2h0 M214.4 408.5h0 M212.6 411.7h0 M219.9 413h0 M216.2 399.6h0 M214.1 419.9h0 M193.7 402.9h0 M190.8 405.1h0 M260.7 381.4h0 M261.9 382h0 M263.1 376.4h0 M256.5 378h0 M259.9 391.5h0 M260.3 392.5h0 M264.2 358h0 M265.1 358.1h0 M265.8 362.9h0 M263.3 363h0 M266.3 363.4h0 M260.4 361.8h0 M260.1 357.1h0 M258.1 365.4h0 M255.6 359.7h0 M252.6 366.5h0 M253.7 368.5h0 M251.6 363.9h0 M251.7 363.5h0 M255.9 370.8h0 M255 370.5h0 M177.1 355.8h0 M175.6 355.7h0 M171.7 354.3h0 M170.2 348.7h0 M174.3 370.2h0 M180.9 375h0 M184.2 365h0 M179.2 370.7h0 M182.4 366.5h0 M190.2 367.2h0 M186.9 373.3h0 M196.4 372.3h0 M195.7 377.6h0 M198 373.3h0 M195.4 380.2h0 M195.2 381.9h0 M186.3 384.8h0 M185.4 385h0 M202 390.3h0 M202.6 383.4h0 M203.3 382.5h0 M210.5 382.4h0 M215.6 381.1h0 M206.6 387h0 M212.4 393.5h0 M212.3 395.2h0 M213.9 388.8h0 M218.9 388.3h0 M219.6 390.8h0 M219 389h0 M219 384.1h0 M219.1 382.9h0 M224.3 380.3h0 M224.2 374.1h0 M231 373.5h0 M222.1 397.1h0 M235.9 376.6h0 M235.8 378.6h0 M236 378.1h0 M233.5 374.3h0 M247.2 351.3h0 M241.4 349.6h0 M241 349.1h0 M251.5 355.4h0 M248.3 356.9h0 M249.3 357h0 M233.4 356.4h0 M234.2 358.3h0 M233.3 357h0 M239 359.4h0 M226.9 358.3h0 M231.4 348.1h0 M229.9 349.5h0 M204.6 354.6h0 M216.8 366.1h0 M215.9 365.7h0 M215.9 366.3h0 M213.7 364.9h0 M221.4 363.5h0 M170 438.7h0 M169.6 438.2h0 M170.7 429.9h0 M174.7 422.8h0 M170.5 423.8h0 M177.2 416.9h0 M181.4 437.7h0 M179.4 444.6h0 M170.2 445.1h0 M169.8 462.4h0 M150.4 447.3h0 M158.2 448.4h0 M159.4 444.1h0 M160.6 445.2h0 M160.8 405.3h0 M240.5 371.1h0 M239.3 365h0 M243.8 363.7h0 M246.1 366.3h0 M242.4 373.9h0 M238 375.3h0 M253.2 372h0 M250.4 373h0 M239.6 384.8h0 M244.4 381h0 M225.7 424.7h0 M224.6 401.1h0 M133 473.4h0 M132.6 437.7h0 M134.7 439.2h0 M134.1 438.9h0 M173.7 448.8h0 M170.2 475.3h0 M177.9 473.8h0 M170.9 466.3h0 M168.5 468.3h0 M168.6 468.2h0 M188.2 470h0 M233 458h0 M244 419.2h0 M234.5 431.3h0 M236 430.7h0 M235.9 426.1h0 M236 425.3h0 M242.1 415h0 M251.5 436h0 M211.4 430.9h0 M207 430.9h0 M203.2 432.5h0 M199.8 426.7h0 M203.8 425.2h0 M205.8 422h0 M209.6 420.7h0 M207.3 435.3h0 M210.6 436.9h0 M212.4 434.6h0 M204 416.6h0 M197.4 412.7h0 M195.9 408.2h0 M199.9 405.4h0 M196.8 407.1h0 M202.9 405.5h0 M206.7 413.6h0 M209.7 413.1h0 M208.3 413h0 M212.3 412.6h0 M223.5 441.1h0 M230.5 442.3h0 M223.8 447.9h0 M175 364.5h0 M172.8 365.9h0 M166 362.5h0 M165.3 362.4h0 M166.3 366.5h0 M177.7 371.6h0 M220.1 357h0 M224.1 350.1h0 M228.2 351.5h0 M226.3 351.5h0 M222.9 351h0 M219.1 357.2h0 M157.8 415.7h0 M157.6 414.1h0 M155.9 422.2h0 M159.4 411.5h0 M155.9 423h0 M155 424.3h0 M152.9 424.3h0 M171.1 408.5h0 M163.9 410.8h0 M164.7 456.6h0 M163.3 461.8h0 M165.5 445.8h0 M170.3 455.7h0 M166.9 454.6h0 M164.4 462.5h0 M158.7 465.4h0 M161.8 434.5h0 M168.6 429.5h0 M151.1 430.7h0 M151.1 430.3h0 M157.9 433.2h0 M157.9 433.6h0 M162.2 439.6h0 M178 405.7h0 M180 402.3h0 M179.8 402.2h0 M179.2 398.4h0 M177.2 397.1h0 M173.6 394.7h0 M180 416.3h0 M180.4 410.9h0 M180.7 409.4h0 M182.1 398.3h0 M190.1 406.8h0 M185.6 406.6h0 M170.7 397.6h0 M176.6 393.7h0 M178.1 391.1h0 M171.1 392.2h0 M171.4 391.2h0 M173 395.4h0 M239.7 412.6h0 M144.1 461.5h0 M143.4 461.8h0 M142.7 457.6h0 M142.9 457.5h0 M140.2 449.8h0 M138.9 450h0 M247.6 441.5h0 M243.7 436.2h0 M239.8 438.7h0 M230.8 450.1h0 M229.6 449.2h0 M234.5 457.6h0 M237.3 444.8h0 M239 440.5h0 M262.4 462.5h0 M257.3 458.8h0 M259.4 460.4h0 M194.8 423.3h0 M192 432.2h0 M194.7 416.9h0 M191.5 412.2h0 M243 391.8h0 M245.8 397.5h0 M246 405.9h0 M128.3 450.5h0 M129 450.7h0 M241.3 452.4h0 M254.5 456.1h0 M254.2 458h0 M255.5 449.7h0 M244.5 468.4h0 M245.8 459.8h0 M239.2 459.6h0 M241.8 458.8h0 M244.2 468.4h0 M249.3 462h0 M251.7 455.2h0 M242.9 452.9h0 M253.2 447.2h0 M257.6 437.1h0 M264.2 438.7h0 M264.1 439.9h0" stroke="#3a2a4e" stroke-width="1.1" stroke-linecap="round" opacity="1"/>
<path d="M246.3 388.5h0 M178.1 355.4h0 M131.8 375.8h0 M243.6 392.7h0 M132.8 471.5h0 M139.9 441.9h0 M177.8 355.4h0 M245.9 374.6h0 M195.7 408.3h0 M178.6 371.2h0 M247 443.2h0 M135.1 357.1h0 M206.9 387.1h0 M155.7 458.9h0 M217 421.5h0 M154.9 431.9h0 M195.7 417.1h0 M181.8 463.8h0 M262.6 463.9h0 M154.2 410.5h0 M154.9 457.6h0 M132.6 399.3h0 M177.1 419.2h0 M168.2 388.9h0 M182.5 398.3h0 M142.9 432.8h0 M238.5 467.1h0 M219.5 356.1h0 M213.3 409.9h0 M151.7 357.7h0 M195 422.6h0 M143 473.8h0 M203.5 356.1h0 M263.2 464.4h0 M187.7 375.4h0 M149.9 439.1h0 M169.3 439.1h0 M165.4 406.6h0 M204.9 376.9h0 M204.6 422.7h0 M170.8 352.2h0 M161 361.1h0 M152.6 450.5h0 M197.2 429.6h0 M173.4 395.1h0 M265 363.1h0 M129.8 391.7h0 M215.9 429.6h0 M176.4 468.5h0 M168.2 367.3h0 M252.3 425.5h0 M262.3 463.8h0 M239.2 439.4h0 M252.1 354h0 M246.2 399.5h0 M254.3 408.5h0 M145.3 365.6h0 M243.4 402.4h0 M262.9 413.8h0 M223.1 432.5h0 M141.1 425.4h0 M147.8 452.2h0 M252.4 351.7h0 M194.2 420.4h0 M256.9 415.9h0 M156.5 422.8h0 M188.1 396.9h0 M187.1 373.5h0 M214.2 385.2h0 M226 370.6h0 M241.2 352.6h0 M255.2 370.8h0 M148.4 419.4h0 M190.1 396.7h0 M142.7 474h0 M182.3 416.5h0 M151.4 448.8h0 M163.9 372h0 M146.5 441.4h0 M256.4 376.8h0 M163.9 402.4h0 M240.6 470.5h0 M171.4 366.2h0 M223 447.4h0 M196.4 377.1h0 M249.9 435.2h0 M240.8 414.2h0 M213.5 354.4h0 M167.4 471.6h0 M241.5 469.5h0" stroke="#6e3a22" stroke-width="1.3" stroke-linecap="round" opacity="0.95"/>
<rect x="137.4" y="466.8" width="31.3" height="3.4" fill="#000"/>
<text x="138.9" y="469.4" font-size="2.6" fill="#bbb">100 µm</text>
</g>
<clipPath id="clip3"><rect x="260.8" y="353.6" width="125.9" height="118.7"/></clipPath>
<filter id="bl3" x="-20%" y="-20%" width="140%" height="140%"><feGaussianBlur stdDeviation="1.5"/></filter>
<g clip-path="url(#clip3)">
<rect x="260.8" y="353.6" width="125.9" height="118.7" fill="#f1edf8"/>
<g filter="url(#bl3)"><ellipse cx="320.8" cy="443.6" rx="30" ry="22" fill="#d9cbe6" opacity="0.9"/><ellipse cx="280.8" cy="393.6" rx="15" ry="20" fill="#e8e3f4" opacity="0.8"/><ellipse cx="360.8" cy="393.6" rx="15" ry="15" fill="#e8e3f4" opacity="0.7"/><ellipse cx="304.8" cy="406.6" rx="6" ry="11" fill="#fdfcff"/><ellipse cx="320.8" cy="384.6" rx="7" ry="6" fill="#fdfcff"/><ellipse cx="346.8" cy="406.6" rx="10" ry="8" fill="#fdfcff"/><ellipse cx="291.8" cy="438.6" rx="6" ry="10" fill="#fdfcff"/><ellipse cx="370.8" cy="433.6" rx="9" ry="8" fill="#fdfcff"/><ellipse cx="373.8" cy="377.6" rx="8" ry="10" fill="#fdfcff"/><ellipse cx="367.8" cy="462.6" rx="9" ry="7" fill="#fdfcff"/><ellipse cx="272.8" cy="415.6" rx="8" ry="5" fill="#fdfcff"/><ellipse cx="318.8" cy="433.6" rx="5" ry="4" fill="#fdfcff"/><ellipse cx="348.8" cy="373.6" rx="5" ry="4" fill="#fdfcff"/><ellipse cx="280.8" cy="363.6" rx="5" ry="4" fill="#fdfcff"/><ellipse cx="305.8" cy="365.6" rx="4" ry="4" fill="#fdfcff"/><ellipse cx="338.8" cy="389.6" rx="4" ry="4" fill="#fdfcff"/></g>
<filter id="dp3" x="-5%" y="-5%" width="110%" height="110%"><feTurbulence type="fractalNoise" baseFrequency="0.3" numOctaves="2" seed="3" result="t"/><feDisplacementMap in="SourceGraphic" in2="t" scale="3" xChannelSelector="R" yChannelSelector="G" result="d"/><feTurbulence type="fractalNoise" baseFrequency="0.7" numOctaves="1" seed="10" result="g"/><feColorMatrix in="g" type="matrix" values="0 0 0 0 0  0 0 0 0 0  0 0 0 0 0  0 0 0 4 -1.1" result="ga"/><feComposite in="d" in2="ga" operator="in"/></filter>
<g filter="url(#dp3)">
<path d="M384.6 474.8 388.9 472.3 M264.7 349.1 262.2 349.8 259.6 349.1 257.2 350.2 M302.8 414.8 300.1 416 297.8 417.9 M298.2 409.4 295.9 411.5 295.1 414.4 M295.1 414.4 297.3 417.9 M297.3 417.9 297.8 417.9 M257.1 397.4 256.4 400.3 M299.2 423.2 294.4 423.4 M297.3 417.9 294 419.2 M294.4 423.4 294 419.2 M253.6 469.8 256.4 469.7 258.4 471.5 260.8 472.5 M260.8 472.5 259.7 469 261.3 465.7 M261.3 465.7 258.6 464.1 M258.6 464.1 257 463.7 M262.7 440.6 266.2 439.9 269.8 439.8 M262.7 440.6 264 437.4 262.4 434.4 M262.4 434.4 262.6 434 M262.6 434 265.7 435 268.6 436.6 M269.8 439.8 268.6 436.6 M389.1 440.5 391.2 437.9 392.5 434.9 M387.8 367.7 387.8 367.7 M387.8 367.7 387.9 364.8 M379 363.8 380.3 367 381.3 370.4 M379 363.8 375 363 M373.5 368.6 372.4 363.8 M372.4 363.8 375 363 M380.6 375.2 381.3 370.5 M381.3 370.5 381.3 370.4 M262.8 395 263.7 392.3 265.1 389.8 M262.8 395 265 397.7 M269.1 397.7 265 397.7 M265.2 389.7 265.1 389.8 M262.8 395 259.8 395.7 257.1 397.4 M255.6 390.5 259.5 387.6 M265.1 389.8 262.1 389.1 259.5 387.6 M291.2 413.9 289.9 411.2 M291.2 413.9 291 418.3 M289.9 411.2 287.3 412.9 287.1 416.2 284.8 418 M291 418.3 288.1 420.2 M284.8 418 288.1 420.2 M298.2 409.4 297.3 407.7 M295.1 414.4 291.2 413.9 M289.6 409.9 289.9 411.2 M289.6 409.9 289.9 409.4 M289.9 409.4 292.3 408.4 295 409 297.3 407.7 M294 419.2 291 418.3 M287.8 403.3 285.1 404.2 M287.8 403.3 286.2 401 284 399.2 281.6 397.6 M285.1 404.2 281.2 403.3 278.9 400 M281.6 397.6 278.9 400 M289.6 409.9 286.7 412.1 283.3 410.9 M283.3 410.9 281.6 406.5 M281.6 406.5 285.1 404.2 M289.9 409.4 289.2 406.3 288 403.4 M288 403.4 287.8 403.3 M258.2 409.9 256.6 412.6 257.1 415.8 M257.4 427.3 260.5 428.4 M260.5 428.4 258.6 431 256.6 433.5 254.6 436 M256.2 425 257.4 427.3 M282.7 417.5 281.6 413.1 M282.7 417.5 280 419 278.5 421.6 M281.6 413.1 278.2 412.5 M284.8 418 282.7 417.5 M288.3 426 285.4 426.4 283.1 428.2 M283.1 428.2 280.3 426.9 280.4 423.6 278.5 421.6 M281.6 406.5 278 404.7 M278 404.7 278.1 407.3 276.5 409.9 278.2 412.5 M278 404.7 277.8 404.5 M294.4 423.4 292.1 426.1 M288.3 426 289.9 426.7 M292.1 426.1 289.9 426.7 M304.4 420.9 301.7 424 M300.3 424.3 301.7 424 M269.6 429.1 265.3 426.7 M265.3 426.7 266 426.2 M262.6 434 262.2 431.3 261.9 428.5 M261.9 428.5 264.5 426.6 M269 435.9 268.6 436.6 M269 435.9 270.1 432.5 269.6 429.1 M264.5 426.6 265.3 426.7 M277.7 421.5 275.4 422.7 M271.5 420.8 270.7 423.6 267.7 424.3 266 426.2 M282.3 430.2 278.9 431.7 275.3 431.1 M282.3 430.2 283.4 434.5 M282.8 435.4 283.4 434.5 M282.8 435.4 280.7 437 278.1 437.2 275.7 438.1 M275.3 431.1 274.9 432.7 M283.1 428.2 282.3 430.2 M273.1 429.1 275.3 431.1 M269 435.9 272.3 435 274.9 432.7 M259 475.1 261.1 474.1 M260.8 472.5 261.2 473.4 M267.5 471.4 269.4 473.4 269.6 476 270.2 478.5 M273.3 469.8 272.7 472.8 270.6 475.4 270.2 478.5 M273.3 469.8 276 473.2 M388.9 472.3 385.2 469.2 M385.2 469.2 387.7 466.4 M389.4 460.8 387.1 464 M389.4 460.8 388.3 458.3 386.9 456 M386.9 456 387.6 454.7 M354.6 475 358.3 475.4 361.9 474.2 M263.2 456.5 259.6 455.6 M257.2 456.5 259.6 455.6 M263.2 456.5 263.8 456.5 M262.6 446.9 258.9 448.5 M262.6 446.9 265.1 449.5 266.2 452.8 M257 440.5 255.9 438.1 M262.8 446.6 261.6 442 M262.8 446.6 262.6 446.9 M261.6 442 257 440.5 M258.9 448.5 256.2 448.6 253.8 447.4 M262.7 440.6 261.6 442 M261.9 428.5 260.5 428.4 M389.1 440.5 386.4 441.9 M388.9 415 389.6 417.6 388.6 420.2 388.2 422.7 M387.6 423.2 388.2 422.7 M387.6 423.2 387.6 423.4 M387.3 432 387.2 429.2 386.3 426.4 387.5 423.6 M387.3 432 385.6 434.4 383.3 435.3 380.4 434.9 M380.4 434.9 381.1 430.1 M387.6 423.4 387.5 423.6 M392.5 434.9 389.6 434.1 387.3 432 M380.2 435.2 381.4 438.5 M380.2 435.2 380.4 434.9 M386.4 441.9 384.1 439.8 381.4 438.5 M378.9 425.4 381.7 421.7 M387.6 423.2 384.5 423 381.7 421.7 M388.2 375 388 375.1 M388 375.1 387.7 378.8 389 382.3 M387.8 367.7 388.5 371.3 388.2 375 M387.8 367.7 384.3 368.4 381.3 370.5 M380.8 375.9 384.5 376.6 388 375.1 M375.8 350.2 374.2 351.9 M362.8 351.9 364.6 351.9 M366.3 349.5 364.6 351.9 M372.4 363.8 371.6 363.6 M375.7 357.4 373.5 353.7 M371.6 363.6 369.8 360.5 368.4 357.4 M374.2 351.9 373.5 353.7 M364.6 351.9 365.3 355.2 367.9 357.3 M368.4 357.4 367.9 357.3 M387.9 364.8 386.1 362.2 M379 363.8 379.1 363.7 M379.1 363.7 382.6 363 386.1 362.2 M379.1 363.7 379.8 360.6 380.9 357.5 M388.9 415 387.4 413.6 M388.5 407 387.2 410.2 387.4 413.6 M332.4 351.2 335.9 351 M335.9 351 338.9 352.8 M282.4 348.4 285.4 351.1 M264.7 349.1 267.1 349.8 M267.1 349.8 269.6 347.9 M265.6 380.1 267.2 381.4 M265.6 380.1 264.4 377.8 M264.4 377.8 265 374.4 M270.5 373.1 271.7 376 271.7 379.3 M270.5 373.1 268 374.6 265 374.4 M271.1 381 271.7 379.3 M259.5 387.6 258.7 384.3 M258.7 384.3 261.2 383.2 263.4 381.8 265.6 380.1 M269.1 390.9 271.5 390.5 M271.5 390.5 273.1 387.2 274 383.6 M274 383.6 277 383.6 M277 383.6 277.6 380.6 278.3 377.6 M278.3 377.6 277.1 375.7 M277.1 375.7 274.1 377.1 271.7 379.3 M283.5 378.8 282 382.8 M283.5 378.8 280.6 379.5 278.3 377.6 M277 383.6 278.7 384.5 M268.2 367.4 268.9 364 272.3 363 M268.2 367.4 265 366.9 M265 366.9 264.2 363.7 M264.2 363.7 267 364.3 269.2 362.7 271.5 361.7 M271.5 361.7 272.3 363 M271.9 371.2 270.5 368.9 268.2 367.4 M271.9 371.2 270.5 373.1 M262.5 370.3 265 366.9 M272.7 399.7 275.3 399.9 277.5 401.3 M272.7 399.7 272.8 397.1 272.8 394.5 274.1 392.1 M274.7 392.1 276.4 394.7 277.4 397.5 278.5 400.3 M278.5 400.3 277.5 401.3 M269.7 402.3 270.4 405.7 269.7 409.1 M277.8 404.5 277.5 401.3 M269.7 409.1 270.8 409.6 M271.5 390.5 274.1 392.1 M269.1 397.7 271.3 400 M278.7 384.5 279.3 387.8 280.4 390.9 M280.4 390.9 277.2 389.7 274.7 392.1 M278.9 400 278.5 400.3 M324.1 371.5 322.1 367 M324.1 371.5 327.2 371.9 330.3 371.5 M330.1 364.6 332 368.2 M330.1 364.6 326.9 363.1 323.5 363.6 M323.5 363.6 323 364 M330.3 371.5 332 368.2 M322.1 367 323 364 M304.5 370.5 301.6 368.9 M304.5 370.5 305.1 373.1 304 375.7 304.4 378.3 M301.6 368.9 297.5 370.1 M303.6 379.2 304.4 378.3 M303.6 379.2 300.3 378.8 297.7 376.8 M297.7 376.8 297.7 373.4 297.5 370.1 M278 348.3 277.7 351.4 277.3 354.6 M273.1 355.9 272.8 353.1 271.4 350.6 270 348.1 M273.1 355.9 276.4 355.5 M276 364.8 274.8 367.6 275.2 370.6 M283.7 368.1 281.1 369.7 279.2 372 M271.9 371.2 275.2 370.6 M272.3 363 276 364.8 M273.1 355.9 271 357.5 M286.8 376.7 286 376.8 M286.8 376.7 289.1 374.4 M286 376.8 283.4 375.7 281 374.3 279.2 372 M289.1 374.4 289.9 369.9 M289.9 369.9 286.6 369.7 283.7 368.1 M277.1 375.7 277.4 372.2 M310.5 371.5 307.9 369.2 M310.5 371.5 311.5 374.1 311.5 376.8 M307.9 369.2 304.5 370.5 M304.4 378.3 306.3 378.2 M318.5 410.2 315.2 411.1 312.7 413.3 M318.5 410.2 315.5 406.4 M311.5 413 312.7 413.3 M311.5 413 310.7 409.5 M310.7 409.5 313.4 408.4 315.5 406.4 M311.5 413 310.7 413.6 M264.6 408.9 260.1 408.3 M264.6 408.9 264.4 405.3 264.3 401.8 M260.1 408.3 259.9 404.6 257.8 401.6 M257.8 401.6 261 401.8 264.2 401.7 M264.2 401.7 264.3 401.8 M269.7 402.3 267 401.8 264.3 401.8 M269.7 409.1 265.8 409.6 M265.8 409.6 264.6 408.9 M256.4 400.3 257.8 401.6 M258.2 409.9 260.1 408.3 M265 397.7 264.2 401.7 M259.4 419 257.9 416.2 M259.4 419 261.8 420.7 264.3 422.5 M257.9 416.2 260.8 414.3 264.2 414.7 M266.5 418.6 264.3 422.5 M256.2 425 259.3 422.8 259.4 419 M257.1 415.8 257.9 416.2 M264.5 426.6 264.3 422.5 M309 420.1 310.7 416.4 M310.7 416.4 312.1 420.4 M312.1 420.4 310.9 421.4 M310.9 421.4 310.7 421.4 M305 418.8 309 420.1 M310.7 413.6 310.7 416.4 M312.7 413.3 315.3 416.8 M314.7 419.4 312.1 420.4 M299.9 425.3 301.4 428.7 M292.1 426.1 294.9 426.3 296.8 428.2 M297.8 433.9 298.9 433.3 M298.9 433.2 298.9 433.3 M298.9 433.2 297.8 430.9 M300.3 424.3 299.9 425.3 M319.9 416.4 320.2 417.4 M314.7 419.4 317 422.4 M320.2 417.4 319.4 419.9 318.1 422.2 M283.7 470.3 284.8 473.4 M283.7 470.3 281.4 471.9 278.3 471.6 276 473.2 M295.4 472.2 295.5 469 M302.9 467.4 303.9 470.1 302.4 472.6 M302.9 467.4 301.8 465.1 M296 472.8 299.2 473.5 302.4 472.6 M301.8 465.1 297.9 465.8 295.5 469 M302.7 430.8 306.3 431.6 M301.2 433.4 303.7 435.9 M306.3 431.6 305.9 435 M305.9 435 303.7 435.9 M302.7 429.9 301.4 428.7 M298.9 433.2 301.2 433.4 M273.3 469.8 272.8 468.7 M270.4 468 272.8 468.7 M302.9 467.4 305.3 469 308.1 466.8 310.4 468.4 M304.1 474.4 302.4 472.6 M310.4 468.4 309.5 471.1 307.2 472.7 M301.8 465.1 301.8 465 M310.4 468.4 311.7 467.9 M310.3 460.3 310 462.9 311.3 465.3 311.7 467.9 M345.1 473.3 347.9 474.2 M349.7 475.8 347.9 474.2 M387.6 454.7 386.5 451.6 385.7 448.4 M386.3 446.8 386 447.2 M385.7 448.4 386 447.2 M386.9 456 383.8 455.6 381.3 457.4 M381.3 457.4 378.9 455.8 378 453 M385.7 448.4 384 451.3 380.5 451.3 378 453 M346.2 366.6 349.3 364.4 M346.2 366.6 343.2 364.7 340.4 362.4 M349.3 364.4 348.4 359.6 M348.4 359.6 343.7 358.6 M343.7 358.6 342.1 360.2 M340.4 362.4 342.1 360.2 M342.9 353.2 342.5 356 343.7 358.6 M342.9 353.2 340.9 352.6 M338.9 352.8 337.5 355.4 M342.9 353.2 344.7 352 M348.4 359.6 352 356.7 M352 356.7 349.9 354.6 347.2 353.4 344.7 352 M347.3 347.9 344.7 352 M359 354.2 357 357.7 M359 354.2 356.6 352.2 358.7 348.2 355.6 346.6 M357 357.7 353 356.3 M353 356.3 353.7 352.5 351.7 349 M362.8 351.9 359 354.2 M357 357.8 357 357.7 M357 357.8 360.4 358.4 363.7 359.6 M352 356.7 353 356.3 M321.5 413.7 318.8 410.2 M363.8 362.4 361.5 363.4 359.1 364.2 356.5 364.4 M365 365.9 362.3 364.2 359.2 366.1 356.5 364.6 M356.5 364.4 356.5 364.6 M363.7 359.6 363.8 362.4 M371.6 363.6 369.1 365.7 366.1 367.1 M366.1 367.1 365 365.9 M357 357.8 355.7 361 356.5 364.4 M386.1 362.2 386.3 358.8 M386.3 358.8 382.6 355.7 M389 382.3 386.8 384.3 M386.8 384.3 383.5 383.3 381.3 380.6 M389.4 389.8 387.5 387.1 M386.8 384.3 387.5 387.1 M388.5 407 387.2 405.1 M387.2 405.1 387.1 404.6 M387.1 404.6 390.5 403.2 392.7 400.2 M335.4 360.1 333 362.2 330.4 364.2 M335.4 360.1 335 358.2 M335 358.2 332.8 356.7 331 354.7 M330.4 364.2 329.5 361.3 330 358.3 329.5 355.4 M329.5 355.4 331 354.7 M340.4 362.4 337.6 362 335.4 360.1 M340.4 362.4 340.4 362.4 M337.5 355.4 335 358.2 M330.1 364.6 330.4 364.2 M323.5 363.6 322.5 360.3 323.5 357 M325.2 355.6 323.5 357 M325.2 355.6 329.5 355.4 M262.5 370.3 259.9 371.4 257.2 370.5 M256.1 369.7 257.2 370.5 M256.1 369.7 257.6 367.3 257.1 364.3 258.6 362 M263.9 363.2 261.2 363.1 258.6 362 M271 357.5 266.1 356.5 M263.9 363.2 265.6 360 266.1 356.5 M265.3 355.6 266.1 356.5 M256.4 381.8 258.8 377.8 M258.8 377.8 257.1 374.1 M258.7 384.3 256.4 381.8 M257.2 370.5 257.1 374.1 M281.6 397.6 281.9 397 M281.9 397 283.1 393.8 281 391.2 M340.4 362.4 339.1 365.3 M332 368.2 334.7 368.6 M339.1 365.3 336.4 366.3 334.7 368.6 M330.8 376 334.2 376.1 M330.8 376 330.3 371.5 M334.7 368.6 335.7 369.9 M316.9 370 319.2 367.9 322.1 367 M316.9 370 315.3 367.3 312.8 365.3 M323 364 320.3 363.7 317.8 362.7 315.2 362 M315.2 362 312.8 365.3 M310.5 371.5 313.5 371.5 316.5 371.4 M316.5 371.4 316.9 370 M309.7 366.2 312.8 365.3 M294.7 378 292.3 375.5 289.1 374.4 M294.7 378 297.7 376.8 M297.5 370.1 296 369.7 M289.9 369.9 290.8 369.1 M296 369.7 293.3 370.2 290.8 369.1 M283.9 360.8 283.7 358.2 283.5 355.6 M283.9 360.8 286.3 361.9 288.9 361.6 M288.9 361.6 290 359 291 356.5 M285.4 353.8 283.5 355.6 M285.4 353.8 288.4 354.3 290.8 356.1 M290.8 356.1 291 356.5 M290.9 365 288.9 361.6 M285.4 351.1 285.4 353.8 M291.8 350.5 289.4 348.6 M291.8 350.5 296.6 349.8 M297.1 348.9 296.6 349.8 M303.6 379.2 303.2 381.5 M306.3 378.2 308.8 379.9 310.7 382.2 M303.2 381.5 305.4 383.8 307.4 386.1 M307.4 386.1 308.3 386.2 M310.7 382.2 308.3 386.2 M313.1 401.4 315.6 402 M313.1 401.4 311.5 396.7 M313.9 394.9 316.3 396 318.4 397.6 M313.9 394.9 311.5 396.7 M315.6 402 318.6 400.9 M318.6 400.9 318.4 397.6 M309 403.6 313.1 401.4 M307.9 394.8 305.9 394.9 M307.9 394.8 311.5 396.7 M288.6 402.7 288 403.4 M288.6 402.7 291.8 402.3 295 401.7 M297.3 407.7 298.3 404.9 M295 401.7 298.3 404.9 M298.3 404.9 299.4 404.3 M302.7 429.9 304.9 427.9 M306.4 431.4 306.6 428.9 M306.4 431.4 306.3 431.6 M306.6 428.9 304.9 427.9 M301.7 424 304.5 426.4 M304.9 427.9 304.5 426.4 M304.4 420.9 306.7 422.2 308 424.5 M304.5 426.4 308 424.5 M310.7 421.4 308.8 424.7 M308.8 424.7 308 424.5 M310.2 434.7 310.6 434 M310.2 434.7 308.8 435.6 M308.8 435.6 305.9 435 M306.4 431.4 309.2 431.6 M310.6 434 309.2 431.6 M309.2 431.6 310.1 427.6 M308.8 424.7 310.3 427.5 M320.2 417.4 321.8 418.8 M321.9 424 318.1 422.2 M321.9 424 322.4 423.7 M321.8 418.8 322.4 423.7 M319.3 440.8 318.1 443.6 318.3 446.6 M319.3 440.8 318.6 440.4 M313.6 446.2 314.1 443.1 315.2 440.1 M315.2 440.1 315.4 440 M318.6 440.4 315.4 440 M310.2 434.7 312.6 437 315.2 439.2 M309.3 440.7 309 438.1 308.8 435.6 M309.3 440.7 312.3 440.9 315.2 440.1 M315.2 439.2 315.4 440 M298.9 434.7 299.4 437.7 297.1 439.8 M299.7 440.1 297.1 439.8 M298.9 434.7 298.9 433.3 M303.1 445.3 304 442.4 302 440.1 M303.1 445.3 306.1 444.1 308.5 442 M308.5 442 308.6 441.3 M308.6 441.3 305.6 440.9 303.1 439.2 M303.1 439.2 302 440.1 M302.7 448.1 306.4 448 309.5 445.9 M309.5 445.9 308.5 442 M309.3 440.7 308.6 441.3 M313.5 446.2 309.6 445.9 M309.5 445.9 309.6 445.9 M303.7 435.9 303.1 439.2 M299.7 440.1 300 440.2 M300 440.2 302 440.1 M303 454.4 304.5 457.3 307.9 457.9 310.1 459.9 M303 454.4 303.3 452.4 M303.3 452.4 306.3 451.4 309.5 450.8 M310.1 459.9 311.1 457.5 311.3 454.7 312.9 452.5 M312.9 452.5 309.5 450.8 M302.7 448.1 302.1 449 M309.6 445.9 309.5 450.8 M313.5 446.2 313.5 449.1 314.1 451.9 M314.1 451.9 312.9 452.5 M264.4 457.5 267.4 459 270.2 460.6 M264.4 457.5 264.6 460 263.4 462.4 263.4 464.9 M270.2 460.6 270.6 463.5 269.3 466.1 M263.4 464.9 266.3 465.4 269.3 466.1 M266.2 452.8 266.9 452.6 M270.7 460.3 270.2 460.6 M270.7 460.3 272.1 458.1 273.2 455.7 M266.9 452.6 270.8 452.7 273.2 455.7 M276.3 462 275.2 464.6 275.1 467.3 M276.3 462 272.9 463.2 270.7 460.3 M270.4 468 269.3 466.1 M272.8 468.7 275.1 467.3 M270.2 449.2 274.6 450.2 M270.2 449.2 269 444.5 M269 444.5 271.2 441.2 M274.6 450.1 274.6 450.2 M271.2 441.2 274 441.2 M275.1 442.3 274 441.2 M266.9 452.6 270.2 449.2 M273.2 455.7 275.5 454.6 M275.5 454.6 274.6 450.2 M262.8 446.6 265.5 444.4 269 444.5 M269.8 439.8 271.2 441.2 M275.7 438.1 274 441.2 M307.2 472.7 309.7 474.5 312.4 475.9 M311.7 467.9 315.6 470.3 M312.4 475.9 314 473.1 315.6 470.3 M310.3 460.3 313.3 460.9 316.3 459.8 319.2 459.9 M316.3 470.3 315.6 470.3 M316.3 470.3 317.9 468.7 M319.2 459.9 319 462.8 319.7 466 317.9 468.7 M314.1 451.9 314.7 452 M310.2 460.1 310.1 459.9 M318.7 457.9 319.3 459.8 M319.2 459.9 319.3 459.8 M345.1 473.3 344 470.7 341.3 469.9 M336.6 480 338.3 477.7 340.3 475.6 340.3 472.5 341.3 469.9 M323.1 459.3 322.6 459.6 M330.8 464.9 329.2 466.5 M330.8 464.9 330.6 463.1 M330.6 463.1 329.7 461.4 M322.6 459.6 323.1 462.6 323.8 465.5 M329.2 466.5 326.3 467.1 323.8 465.5 M319.3 459.8 322.6 459.6 M317.9 468.7 322.3 468 M323.8 465.5 322.3 468 M370.9 476.4 373.2 476.2 M380.5 462.2 380.2 461.7 M374.2 459.6 376.2 457.8 376 454.8 377.9 452.9 M378 453 377.9 452.9 M380.2 461.7 375.7 461.9 M336.6 480 334.4 477.4 332.5 474.5 M340.9 469 336.2 468.5 M374.8 426.8 378.9 425.4 M377.9 452.9 377.2 452.4 M377.2 452.4 374.5 453.1 371.9 453.8 369.3 454.9 M381.4 438.5 378.9 441.8 M386 447.2 383.2 446.6 380.3 445.7 377.3 445.9 M378.9 441.8 377.3 445.9 M378.9 441.8 376 441.6 373.2 441.5 370.5 440.5 M377.2 452.4 377.4 449.6 375.9 447.1 M377.3 445.9 375.9 447.1 M355.3 366.7 355.4 367.2 M355.4 367.2 352.1 368.8 349.7 371.5 M339.1 365.3 341.1 367.2 341.2 370.2 343 372.1 M335.7 369.9 338.1 370.9 340.1 372.4 341.6 374.5 M343 372.1 341.6 374.5 M356.9 369.5 355.4 367.2 M356.9 369.5 360.5 371.3 M365.3 370.8 360.5 371.3 M365.3 370.8 366.7 372.5 M360.5 371.3 359.5 376.1 M359.5 376.1 362.1 379.3 M386.3 358.8 390 357.3 M381.2 350.9 382.2 352.1 M382.2 352.1 386.3 351.6 M386.3 351.6 388.9 350.5 M375.8 350.2 378.5 350.7 381.2 350.9 M390 357.3 387.9 354.7 386.3 351.6 M387.5 387.1 384.7 388 382.3 389.9 379.5 390.6 M379.5 390.6 379.2 390.5 M379.2 390.5 379.2 387.5 377.3 385.3 M389.4 389.8 388.3 392.6 M379.5 390.6 381.7 394.6 M388.3 392.6 385.3 394.6 381.7 394.6 M392.7 400.2 389.7 398.7 388.6 395.5 M257.9 360.9 258.1 357.6 259.9 354.7 M258.4 352.8 259.9 354.7 M258.6 362 257.9 360.9 M257.2 350.2 258.4 352.8 M265.3 355.6 262.7 355.1 259.9 354.7 M286.8 376.7 287.5 380 289.1 382.9 M294.7 378 295.6 380.6 294.3 383.1 M294.3 383.1 291.7 383.2 289.1 382.9 M297.1 348.9 300.7 349.8 303.6 352.2 M304.6 351.6 303.6 352.2 M300.6 363.1 301.5 360.1 303.5 357.7 M300.6 363.1 297.5 360.8 M297.1 356.9 297.5 360.8 M297.8 356 300.2 355.6 M303.5 357.7 300.2 355.6 M297.5 360.8 297.5 360.8 M301.3 363.9 300.6 363.1 M307 361.3 307.5 358.5 M307.5 358.5 303.5 357.7 M296 369.7 297.5 366.9 297.5 363.9 297.5 360.8 M290.9 365 293.5 364.3 295.4 362.3 297.5 360.8 M291 356.5 294.1 355.9 297.1 356.9 M296.6 349.8 296.4 353 297.8 356 M303.6 352.2 300.2 355.6 M304.7 392.1 305.6 389 M304.7 392.1 301.8 391.8 299 391 296.5 389.3 M305.6 389 303.1 387.5 300 387.8 297.7 386 M296.5 389.3 297.2 386.3 M297.7 386 297.2 386.3 M307.4 386.1 305.6 389 M294.3 383.1 297.2 386.3 M320.3 391.9 320.3 391.8 M320.3 391.9 319.4 394.7 318.4 397.6 M313.9 394.9 315.2 391.3 M315.2 391.3 317.7 392.3 320.3 391.8 M307.9 394.8 309.3 392.7 311.2 391 312.5 388.9 M315.2 391.3 312.5 388.9 M305.9 394.9 304.7 392.1 M312.5 388.9 312.4 388.3 M310.6 434 313.5 432.2 M310.3 427.5 311.4 427.7 M313.5 432.2 311.4 427.7 M277.4 455.3 278.9 453.1 281.6 452.1 283.2 450 M277.4 455.3 279.9 459.1 M283.2 450 283.9 453.7 286.7 456.3 M276.3 462 279.8 459.7 M319.3 440.8 322.2 440.8 M323.1 459.3 322.5 456.2 324.9 454.2 M332 456.1 332.4 459.4 329.7 461.4 M332 456.1 329.3 453.3 M329.3 453.3 326.6 453.3 M324.9 454.2 326.6 453.3 M341.1 433.4 344.2 434.6 347.2 436 M341.1 433.4 340.2 435.3 M340.2 435.3 342.7 438.5 M349.3 436.1 347.2 436 M342.2 440.7 342.7 438.5 M342.2 440.7 344.7 441.8 346.8 443.6 M349.8 440.7 346.8 443.6 M327.9 422.7 328.2 421.8 M327.9 422.7 328.6 424.1 M336.1 417.7 334.1 417.9 M336.1 417.7 336.4 420.3 336.9 422.8 M336.9 422.8 336.4 425.1 M336.4 425.1 336.1 425.3 M328.6 424.1 331.2 423.9 333.5 425.1 336.1 425.3 M334.1 417.9 330.6 419.1 328.2 421.8 M321.8 418.8 326.5 418.7 M322.4 423.7 325.2 423.3 327.9 422.7 M321.5 413.7 326 413.4 M326.5 418.7 325 416.2 326 413.4 M367.1 426.7 362.8 427.5 M367.1 426.7 369.1 423.2 M362.1 420.3 364.2 421.8 366.6 422.6 369.1 423.2 M362.1 420.3 361.5 421.1 M361.5 421.1 361.6 424.4 362.8 427.5 M359.4 437.2 356.9 435 M356.6 434.5 356.6 431.7 358.3 429.4 M358.3 429.4 362.1 428.5 M362.8 427.5 362.1 428.5 M345.7 420.5 348.5 419.6 351 418.1 353.4 416.5 M345.7 420.5 344.2 418.4 M344.2 418.4 345.7 415.1 347.5 412 M352.5 414.2 353.6 415.5 M353.4 416.5 353.6 415.5 M345.8 422 345.7 420.5 M345.8 422 344.8 422.7 M336.1 417.7 338.1 415.7 M338.1 415.7 341.3 416.6 344.2 418.4 M336.9 422.8 339.5 422.7 342.2 423.1 344.8 422.7 M338.1 415.7 338.1 414.9 M373.9 475.9 375.1 472.8 376 469.7 M373.9 475.9 377.4 475.6 381 475.7 M379.9 470 376 469.7 M381.6 474.3 381 475.7 M385.2 469.2 381.1 471.3 M384.6 474.8 381.6 474.3 M373.2 476.2 373.9 475.9 M347 456.8 349.5 459.2 M343.9 458.6 343.6 461.4 342.8 464.1 M349.5 459.2 350.3 462.2 349.6 465.1 M343.2 465.4 342.8 464.1 M349.6 465.1 349.6 465.1 M347.9 474.2 348.3 471.1 349.6 468.3 349.6 465.1 M355 467.7 353.2 465.9 M355 467.7 354.6 471.2 353.4 474.5 M353.2 465.9 349.6 465.1 M347.1 455.9 345 452.9 M347.1 455.9 347 456.8 M343.9 458.6 341.8 457.8 M345 452.9 342.3 453.7 339.8 454.9 M341.8 457.8 339.8 454.9 M344.6 450.1 341.3 448.7 337.7 448.8 M344.6 450.1 345 452.9 M337.7 448.8 336.4 451.2 337.4 453.8 M339.8 454.9 337.4 453.8 M337.4 448.2 337.7 448.8 M337.4 453.8 336.3 454.8 M331 450.4 330.9 450.4 M336.3 454.8 335.6 455.6 M355.2 452.4 358 453.2 361 452.6 363.8 453.3 M355.5 457.7 356.9 459.3 M360.8 460.2 363.3 457.3 364 453.5 M364 453.5 363.8 453.3 M353.2 465.9 354.3 462.2 356.9 459.3 M344.9 449.9 347 446.1 M344.9 449.9 347.2 451 349.9 450.9 352.3 451.9 M347 446.1 349.4 447.3 351.7 448.6 353.6 450.5 M354 451.1 353.6 450.5 M346.8 443.8 347 446.1 M346.8 443.8 343.5 444.5 340.2 444.9 337.2 446.6 M337.4 448.2 337.2 446.6 M344.6 450.1 344.9 449.9 M347.1 455.9 350.3 454.7 352.3 451.9 M354.4 451.2 355.2 452.4 M354.4 451.2 354 451.1 M367.9 453.7 369.3 454.9 M367.9 453.7 364 453.5 M355 467.7 358 465.4 361 467.7 M363 470.7 366.3 470.4 369.5 471.5 M363 470.7 362.5 469.3 M369.5 471.5 372.5 468.1 M370.9 476.4 369.6 474.1 369.5 471.5 M376 469.7 372.5 468.1 M359.4 437.2 358.4 441.2 M356.9 435 356.1 438.4 354 441.3 M358.4 441.2 354 441.3 M349.3 436.1 349.8 435.3 M349.8 435.3 353.1 434.4 356.6 434.5 M349.8 440.7 352.1 441.8 M354 441.3 352.1 441.8 M354.4 451.2 357.1 449.7 358.2 446.8 M353.6 450.5 354.2 447.7 352.2 445.2 352.4 442.4 M358.2 446.8 355.7 444 352.4 442.4 M346.8 443.6 346.8 443.8 M368.8 450.4 372.2 449.2 374.9 446.7 M368.8 450.4 365.8 448.3 367.3 445 M374.9 446.7 373.2 443.7 370.1 442.2 M367.3 445 370.1 442.2 M367.9 453.7 368.8 450.4 M375.9 447.1 374.9 446.7 M355.7 389.9 357.3 391.7 M357.3 391.7 360.4 390.8 M360.4 390.8 362.5 388.4 M362.5 388.4 362.4 385.6 M362.4 385.6 359.7 383.1 M359.7 383.1 358.1 383.3 M349.4 389.1 352.4 390.3 355.7 389.9 M349.4 389.1 347.9 392 347.9 395.3 M357.1 393.3 357.3 391.7 M357.1 393.3 355.3 395.2 353.5 397.2 M353.5 397.2 348.6 398 M362.1 379.3 359.7 383.1 M367.7 384.3 365.1 385.2 362.4 385.6 M356.4 382.3 353.7 380.5 354.4 377.4 M348.4 378.5 351.2 376.6 M348.4 378.5 347.9 381.7 348.2 384.9 M351.2 376.6 353.6 376.7 M348.2 384.9 348.3 385.3 M353.6 376.7 354.4 377.4 M349.4 389.1 348.1 386.5 M348.1 386.5 348.3 385.3 M356.9 369.5 356.5 372.3 355.2 374.5 353.6 376.7 M338.4 384.5 336.6 384.9 M335.9 383.8 336.6 380.5 337.5 377.2 M335.9 383.8 336.6 384.9 M342 381.7 341.4 378.5 341.9 375.3 M337.5 377.2 341.6 374.9 M341.9 375.3 341.6 374.9 M344.7 387.3 342 385.1 338.4 384.5 M348.2 384.9 345.6 382.3 342 381.7 M348.4 378.5 345.2 376.9 341.9 375.3 M334.2 376.1 337.5 377.2 M341.6 374.5 341.6 374.9 M387.2 405.1 385.2 408.2 382.2 410.2 M387.4 413.6 382.7 413.1 M382.2 410.2 382.7 413.1 M381.7 421.7 379.9 419.3 M379.9 419.3 380.1 415.3 M382.7 413.1 380.1 415.3 M366.6 395.7 368.5 396 M366.6 395.7 366.1 393.1 366.1 390.4 M368.5 396 370.4 394.1 373.2 394 M366.1 390.4 369.4 387.3 M373.2 394 373.2 393.9 M373.2 393.9 372.8 391.1 371.9 388.3 M360.4 390.8 362.8 393.7 365.5 396.1 M362.5 388.4 366.1 390.4 M365.5 396.1 366.6 395.7 M367.7 384.3 369.4 387.3 M379.2 390.5 376.2 392.2 373.2 393.9 M380.3 398.3 383.1 401.4 M380.3 398.3 376.6 398.1 M376.6 398.1 374.3 402.4 M374.3 402.4 377.2 403.9 380.2 404.8 M380.2 404.8 383.2 401.9 M383.2 401.9 383.1 401.4 M381.7 394.6 380.3 398.3 M372.1 404.1 370.9 403.7 M370.9 403.7 369.8 401.2 369.4 398.5 368.5 396 M372.1 404.1 372.1 407.1 374.1 409.5 M374.1 409.5 377.1 409.3 379.4 407.3 M387.1 404.6 383.2 401.9 M379.4 407.3 382.2 410.2 M338.1 414.9 336.5 412 334.6 409.2 M334.6 409.2 329.8 410.4 M334.1 417.9 332.8 415 329.6 414.4 327.6 412.4 M329.8 410.4 327.6 412.4 M326 413.4 326.9 412.6 M326.9 412.6 327.6 412.4 M282 382.8 285.4 384.8 M281 391.2 284.9 389.9 M284.9 389.9 286.6 387.5 285.4 384.8 M289.1 382.9 289.1 383 M285.4 384.8 289.1 383 M309.5 356.4 309 352.1 M309.5 356.4 312.4 356.2 314.1 358.5 M314.1 358.5 317 357.4 318.9 354.8 M309 352.1 310.3 350.1 M318.4 353.4 318.9 354.8 M318.4 353.4 316 351.7 312.9 351.6 310.4 350.1 M310.4 350.1 310.3 350.1 M307.5 358.5 309.5 356.4 M304.6 351.6 309 352.1 M315.2 362 314.1 358.5 M323.5 357 321.7 354.9 318.9 354.8 M319.9 347.4 319.2 350.4 318.4 353.4 M330.8 376 329.2 378.1 M330.1 381.8 329.9 381.7 M330.1 381.8 332.9 382.9 335.9 383.8 M329.2 378.1 329.9 381.7 M313.3 426.7 315.2 428.2 M315.2 428.2 318.2 427.4 M314.4 425.1 315.6 424.5 M315.6 424.5 318.2 427.4 M311.4 427.7 313.3 426.7 M310.9 421.4 312.5 423.4 314.4 425.1 M320.8 428.9 318.2 427.4 M320.8 428.9 321.2 430.8 M317 422.4 315.6 424.5 M321.9 424 322.4 426.7 320.8 428.9 M283.2 450 283.3 449.8 M291.8 454.5 290.7 451.3 288.6 448.6 M291.8 454.5 287.7 456.7 M286.7 456.3 287.7 456.7 M288.6 448.6 285.9 449.1 283.3 449.8 M282.8 435.4 282.7 438 283.1 440.7 282.4 443.3 M275.1 442.3 278.2 443.6 281.5 444.2 M282.4 443.3 281.5 444.2 M274.6 450.1 276.4 447.4 279.4 447.9 282 447.5 M281.5 444.2 282 447.5 M282 447.5 283.3 449.8 M294.8 450.4 297.9 447.7 M293 454.5 291.8 454.5 M293 454.5 294.8 450.4 M302.1 449 297.9 447.7 M300 440.2 300.1 442.9 298.2 444.9 297.8 447.4 M301.5 464.6 302 462.1 303.3 459.7 302.3 457 302.9 454.5 M301.5 464.6 298.6 462.6 M302.9 454.5 300.3 456.6 297 456.9 M301.8 465 301.5 464.6 M303 454.4 302.9 454.5 M295.5 469 294.5 466.5 292.5 464.8 M292.5 464.8 295.3 463.2 298.6 462.6 M293 454.5 295.9 456.7 M295.9 456.7 297 456.9 M288.1 459.4 286.9 461.7 284.1 463 283.2 465.7 M288.1 459.4 289.8 461.7 291.9 463.5 M292.1 464.7 291.9 463.5 M292.1 464.7 288.9 466.7 M288.9 466.7 286.5 468.2 283.7 467.7 M283.2 465.7 283.4 467.4 M283.7 467.7 283.4 467.4 M287.7 456.7 288.1 459.4 M279.8 459.7 280.8 463.1 283.2 465.7 M295.9 456.7 294.7 459 293.6 461.4 291.9 463.5 M292.5 464.8 292.1 464.7 M291.7 472.2 290.9 469.1 288.9 466.7 M283.7 470.3 283.7 467.7 M275.1 467.3 277.9 468 280.7 466.1 283.4 467.4 M325.3 437.5 322.8 440.9 M319.8 452.2 317.3 451.1 M317.3 451.1 318.8 447.4 M318.8 447.4 322.3 447.8 M318.7 457.9 319.7 455.1 319.8 452.2 M324.9 454.2 322 451.8 M318.3 446.6 318.8 447.4 M333.8 434 335.2 433 M333.8 434 330.8 432.9 328.3 430.7 M334.4 428.7 331.8 431 328.4 430.5 M334.4 428.7 336.3 431.6 M336.3 431.6 335.2 433 M328.4 430.5 328.3 430.7 M328.3 430.7 328.3 430.7 M336.1 425.3 334.4 428.7 M321.2 430.8 324.8 431.3 328.3 430.7 M342.2 426.5 339.9 425 337.3 425.7 M342.2 426.5 342.7 429.8 M337.3 425.7 337.8 428.7 339.2 431.4 M342.7 429.8 340.8 432 M340.8 432 339.2 431.4 M344.8 422.7 342.2 426.5 M336.3 431.6 339.2 431.4 M349.1 430.3 350.3 432.7 349.8 435.3 M349.1 430.3 345.9 430.8 342.7 429.8 M341.1 433.4 340.8 432 M338.9 436.3 335.2 433 M338.9 436.3 340.2 435.3 M319 473.5 319.1 473.7 M319 473.5 322.1 471.2 325.9 471 M319.1 473.7 321.6 474.5 324.3 475 326.8 475.7 M327.3 471.5 328.3 473.9 M319.4 478.3 319.1 473.7 M322.3 468 325.9 471 M326.4 476.9 326.8 475.7 M330.8 464.9 333.5 465.8 335.6 467.8 M332.5 474.5 328.3 473.9 M335.6 467.8 336.2 468.5 M361.6 411.8 359.2 413.7 356.8 415.5 353.6 415.5 M361.6 411.8 364 414.6 M362.1 420.3 363.9 415.8 M355.6 421.1 358.5 421.2 361.5 421.1 M355.6 421.1 354.7 418.7 353.4 416.5 M364 414.6 363.9 415.8 M363.9 415.8 365.6 418.3 368.2 420.1 370.2 422.3 M372.3 421.8 370.2 422.3 M355.3 421.7 356.5 425 356.9 428.5 M355.3 421.7 351.6 422.4 349.3 425.3 M356.9 428.5 353.4 428.6 349.9 428.5 M349.3 425.3 349.9 428.5 M355.6 421.1 355.3 421.7 M358.3 429.4 356.9 428.5 M345.8 422 349.3 425.3 M349.1 430.3 349.9 428.5 M338.2 460.1 335.8 456.4 M338.2 460.1 338.2 461.2 M337.4 461.7 338.2 461.2 M337.4 461.7 334.3 461.5 M334.3 461.5 333.9 458.6 335.8 456.4 M341.8 457.8 338.2 460.1 M342.8 464.1 340.3 462.9 338.2 461.2 M335.6 467.8 335.8 464.5 337.4 461.7 M330.6 463.1 334.3 461.5 M358.3 446.7 359 442.1 M358.3 446.7 362.5 447.7 M359 442.1 362.6 442.4 M362.6 442.4 364.7 445.3 M364.7 445.3 362.5 447.7 M358.4 441.2 359 442.1 M363.8 453.3 363.4 450.5 362.5 447.7 M365.4 436.9 362.9 439.1 362.6 442.4 M367.3 445 364.7 445.3 M347.9 395.3 345.2 394.5 342.5 393.6 339.9 392.5 M339.9 392.5 337 395.9 M361.4 410.8 361.6 411.8 M361.4 410.8 358.6 409 355.7 407.3 M366 405.4 362.7 407.7 M366 405.4 366.3 405 M366.3 405 364.9 402.8 364.6 400.2 363.5 397.9 M362.7 407.7 361.2 405.7 360.5 403.1 358.9 401.1 M358.9 401.1 358.9 401.1 M358.9 401.1 361.8 398.3 M361.8 398.3 363.5 397.9 M370.9 403.7 366.3 405 M365.5 396.1 363.5 397.9 M361.4 410.8 362.7 407.7 M353.5 397.2 356.2 399.2 358.9 401.1 M357.1 393.3 360.2 395.1 361.8 398.3 M373.9 410.1 375.1 412.3 M373.9 410.1 370.5 411.3 M375.1 412.3 374.6 415.6 372.4 418.2 M370.5 411.3 366.5 414.2 M366.5 414.2 369 416.8 372.4 418.2 M374.1 409.5 373.9 410.1 M380.1 415.3 377.8 413.4 375.1 412.3 M366 405.4 368.7 408 370.5 411.3 M329.1 401.5 326.9 399.6 326.4 396.6 M329.1 401.5 327.6 403.2 M327.6 403.2 323.1 405.1 M326.4 396.6 323.8 398.1 321.1 399.2 318.7 400.9 M318.7 400.9 321.3 402.5 322.8 405.1 M322.8 405.1 323.1 405.1 M329.8 410.4 329.5 407.9 327.9 405.7 327.6 403.2 M318.8 410.2 320.9 407.7 322.8 405.1 M318.6 400.9 318.7 400.9 M286.7 390.3 289.7 389 M286.7 390.3 289.3 392.6 289.1 396.1 M289.7 389 292.6 390.4 295.8 390.2 M289.4 396.3 289.1 396.1 M289.4 396.3 292 395.6 294.6 395.1 M295.8 390.2 295.4 394.3 M294.6 395.1 295.4 394.3 M284.9 389.9 286.7 390.3 M289.1 383 289.6 386 289.7 389 M281.9 397 285.7 398.2 289.1 396.1 M296.5 389.3 295.8 390.2 M288.6 402.7 288.3 399.4 289.4 396.3 M295 401.7 294.4 398.4 294.6 395.1 M316.4 380.1 316 378.6 M316 378.6 317.4 375.8 M317.4 375.8 320.8 376.7 323.2 374.3 M323.2 374.3 325.5 377.3 M310.7 382.2 313.7 381.6 316.4 380.1 M329.2 378.1 325.5 377.3 M311.5 376.8 316 378.6 M324.1 371.5 323.2 374.3 M338.9 436.3 336 440 M334.1 438.1 336 440 M342.2 440.7 339.5 442 336.5 441.9 M337.2 446.6 336 443.7 M336.5 441.9 336 443.7 M331.1 401.6 333.6 404.1 335.2 407.3 M331.3 401.4 333.9 402.2 336.7 401.3 339.2 402.2 M334.6 409.2 335.2 407.3 M329.1 401.5 331.1 401.6 M340 399.7 339.2 402.2 M336 396 337 395.9 M336 396 332.9 398 331.3 401.4 M332.1 390 334.3 394.5 M332.1 390 330.3 389.8 M334.3 394.5 331.7 395.2 329.1 396.1 326.4 395.8 M330.3 389.8 329 390.1 M329 390.1 328.8 393.4 326.3 395.5 M326.3 395.5 326.4 395.8 M330.1 381.8 330.6 384.5 330.7 387.1 330.3 389.8 M326.4 396.6 326.4 395.8 M320.3 391.9 323.4 393.4 326.3 395.5 M333.1 438 329.1 440.3 M333.1 438 330.3 437.3 327.9 435.7 M329.1 440.3 327.7 436 M327.9 435.7 327.7 436 M328.3 430.7 330 433.4 327.9 435.7 M334.1 438.1 333.1 438 M325.3 437.5 327.7 436 M328.1 443.1 330.5 444.2 M328.1 443.1 324.9 443.3 M324.9 443.3 324.2 446.2 M329.7 448.1 330.5 444.2 M329.7 448.1 326.1 448.5 M324.2 446.2 326.1 448.5 M329.1 440.3 328.1 443.1 M322.3 447.8 324.2 446.2 M330.9 450.4 329.7 448.1" fill="none" stroke="#d5cbe9" stroke-width="3.2" stroke-linecap="round" stroke-linejoin="round" opacity="1"/>
<path d="M384.6 474.8 388.9 472.3 M264.7 349.1 262.2 349.8 259.6 349.1 257.2 350.2 M302.8 414.8 300.1 416 297.8 417.9 M298.2 409.4 295.9 411.5 295.1 414.4 M295.1 414.4 297.3 417.9 M297.3 417.9 297.8 417.9 M257.1 397.4 256.4 400.3 M299.2 423.2 294.4 423.4 M297.3 417.9 294 419.2 M294.4 423.4 294 419.2 M253.6 469.8 256.4 469.7 258.4 471.5 260.8 472.5 M260.8 472.5 259.7 469 261.3 465.7 M261.3 465.7 258.6 464.1 M258.6 464.1 257 463.7 M262.7 440.6 266.2 439.9 269.8 439.8 M262.7 440.6 264 437.4 262.4 434.4 M262.4 434.4 262.6 434 M262.6 434 265.7 435 268.6 436.6 M269.8 439.8 268.6 436.6 M389.1 440.5 391.2 437.9 392.5 434.9 M387.8 367.7 387.8 367.7 M387.8 367.7 387.9 364.8 M379 363.8 380.3 367 381.3 370.4 M379 363.8 375 363 M373.5 368.6 372.4 363.8 M372.4 363.8 375 363 M380.6 375.2 381.3 370.5 M381.3 370.5 381.3 370.4 M262.8 395 263.7 392.3 265.1 389.8 M262.8 395 265 397.7 M269.1 397.7 265 397.7 M265.2 389.7 265.1 389.8 M262.8 395 259.8 395.7 257.1 397.4 M255.6 390.5 259.5 387.6 M265.1 389.8 262.1 389.1 259.5 387.6 M291.2 413.9 289.9 411.2 M291.2 413.9 291 418.3 M289.9 411.2 287.3 412.9 287.1 416.2 284.8 418 M291 418.3 288.1 420.2 M284.8 418 288.1 420.2 M298.2 409.4 297.3 407.7 M295.1 414.4 291.2 413.9 M289.6 409.9 289.9 411.2 M289.6 409.9 289.9 409.4 M289.9 409.4 292.3 408.4 295 409 297.3 407.7 M294 419.2 291 418.3 M287.8 403.3 285.1 404.2 M287.8 403.3 286.2 401 284 399.2 281.6 397.6 M285.1 404.2 281.2 403.3 278.9 400 M281.6 397.6 278.9 400 M289.6 409.9 286.7 412.1 283.3 410.9 M283.3 410.9 281.6 406.5 M281.6 406.5 285.1 404.2 M289.9 409.4 289.2 406.3 288 403.4 M288 403.4 287.8 403.3 M258.2 409.9 256.6 412.6 257.1 415.8 M257.4 427.3 260.5 428.4 M260.5 428.4 258.6 431 256.6 433.5 254.6 436 M256.2 425 257.4 427.3 M282.7 417.5 281.6 413.1 M282.7 417.5 280 419 278.5 421.6 M281.6 413.1 278.2 412.5 M284.8 418 282.7 417.5 M288.3 426 285.4 426.4 283.1 428.2 M283.1 428.2 280.3 426.9 280.4 423.6 278.5 421.6 M281.6 406.5 278 404.7 M278 404.7 278.1 407.3 276.5 409.9 278.2 412.5 M278 404.7 277.8 404.5 M294.4 423.4 292.1 426.1 M288.3 426 289.9 426.7 M292.1 426.1 289.9 426.7 M304.4 420.9 301.7 424 M300.3 424.3 301.7 424 M269.6 429.1 265.3 426.7 M265.3 426.7 266 426.2 M262.6 434 262.2 431.3 261.9 428.5 M261.9 428.5 264.5 426.6 M269 435.9 268.6 436.6 M269 435.9 270.1 432.5 269.6 429.1 M264.5 426.6 265.3 426.7 M277.7 421.5 275.4 422.7 M271.5 420.8 270.7 423.6 267.7 424.3 266 426.2 M282.3 430.2 278.9 431.7 275.3 431.1 M282.3 430.2 283.4 434.5 M282.8 435.4 283.4 434.5 M282.8 435.4 280.7 437 278.1 437.2 275.7 438.1 M275.3 431.1 274.9 432.7 M283.1 428.2 282.3 430.2 M273.1 429.1 275.3 431.1 M269 435.9 272.3 435 274.9 432.7 M259 475.1 261.1 474.1 M260.8 472.5 261.2 473.4 M267.5 471.4 269.4 473.4 269.6 476 270.2 478.5 M273.3 469.8 272.7 472.8 270.6 475.4 270.2 478.5 M273.3 469.8 276 473.2 M388.9 472.3 385.2 469.2 M385.2 469.2 387.7 466.4 M389.4 460.8 387.1 464 M389.4 460.8 388.3 458.3 386.9 456 M386.9 456 387.6 454.7 M354.6 475 358.3 475.4 361.9 474.2 M263.2 456.5 259.6 455.6 M257.2 456.5 259.6 455.6 M263.2 456.5 263.8 456.5 M262.6 446.9 258.9 448.5 M262.6 446.9 265.1 449.5 266.2 452.8 M257 440.5 255.9 438.1 M262.8 446.6 261.6 442 M262.8 446.6 262.6 446.9 M261.6 442 257 440.5 M258.9 448.5 256.2 448.6 253.8 447.4 M262.7 440.6 261.6 442 M261.9 428.5 260.5 428.4 M389.1 440.5 386.4 441.9 M388.9 415 389.6 417.6 388.6 420.2 388.2 422.7 M387.6 423.2 388.2 422.7 M387.6 423.2 387.6 423.4 M387.3 432 387.2 429.2 386.3 426.4 387.5 423.6 M387.3 432 385.6 434.4 383.3 435.3 380.4 434.9 M380.4 434.9 381.1 430.1 M387.6 423.4 387.5 423.6 M392.5 434.9 389.6 434.1 387.3 432 M380.2 435.2 381.4 438.5 M380.2 435.2 380.4 434.9 M386.4 441.9 384.1 439.8 381.4 438.5 M378.9 425.4 381.7 421.7 M387.6 423.2 384.5 423 381.7 421.7 M388.2 375 388 375.1 M388 375.1 387.7 378.8 389 382.3 M387.8 367.7 388.5 371.3 388.2 375 M387.8 367.7 384.3 368.4 381.3 370.5 M380.8 375.9 384.5 376.6 388 375.1 M375.8 350.2 374.2 351.9 M362.8 351.9 364.6 351.9 M366.3 349.5 364.6 351.9 M372.4 363.8 371.6 363.6 M375.7 357.4 373.5 353.7 M371.6 363.6 369.8 360.5 368.4 357.4 M374.2 351.9 373.5 353.7 M364.6 351.9 365.3 355.2 367.9 357.3 M368.4 357.4 367.9 357.3 M387.9 364.8 386.1 362.2 M379 363.8 379.1 363.7 M379.1 363.7 382.6 363 386.1 362.2 M379.1 363.7 379.8 360.6 380.9 357.5 M388.9 415 387.4 413.6 M388.5 407 387.2 410.2 387.4 413.6 M332.4 351.2 335.9 351 M335.9 351 338.9 352.8 M282.4 348.4 285.4 351.1 M264.7 349.1 267.1 349.8 M267.1 349.8 269.6 347.9 M265.6 380.1 267.2 381.4 M265.6 380.1 264.4 377.8 M264.4 377.8 265 374.4 M270.5 373.1 271.7 376 271.7 379.3 M270.5 373.1 268 374.6 265 374.4 M271.1 381 271.7 379.3 M259.5 387.6 258.7 384.3 M258.7 384.3 261.2 383.2 263.4 381.8 265.6 380.1 M269.1 390.9 271.5 390.5 M271.5 390.5 273.1 387.2 274 383.6 M274 383.6 277 383.6 M277 383.6 277.6 380.6 278.3 377.6 M278.3 377.6 277.1 375.7 M277.1 375.7 274.1 377.1 271.7 379.3 M283.5 378.8 282 382.8 M283.5 378.8 280.6 379.5 278.3 377.6 M277 383.6 278.7 384.5 M268.2 367.4 268.9 364 272.3 363 M268.2 367.4 265 366.9 M265 366.9 264.2 363.7 M264.2 363.7 267 364.3 269.2 362.7 271.5 361.7 M271.5 361.7 272.3 363 M271.9 371.2 270.5 368.9 268.2 367.4 M271.9 371.2 270.5 373.1 M262.5 370.3 265 366.9 M272.7 399.7 275.3 399.9 277.5 401.3 M272.7 399.7 272.8 397.1 272.8 394.5 274.1 392.1 M274.7 392.1 276.4 394.7 277.4 397.5 278.5 400.3 M278.5 400.3 277.5 401.3 M269.7 402.3 270.4 405.7 269.7 409.1 M277.8 404.5 277.5 401.3 M269.7 409.1 270.8 409.6 M271.5 390.5 274.1 392.1 M269.1 397.7 271.3 400 M278.7 384.5 279.3 387.8 280.4 390.9 M280.4 390.9 277.2 389.7 274.7 392.1 M278.9 400 278.5 400.3 M324.1 371.5 322.1 367 M324.1 371.5 327.2 371.9 330.3 371.5 M330.1 364.6 332 368.2 M330.1 364.6 326.9 363.1 323.5 363.6 M323.5 363.6 323 364 M330.3 371.5 332 368.2 M322.1 367 323 364 M304.5 370.5 301.6 368.9 M304.5 370.5 305.1 373.1 304 375.7 304.4 378.3 M301.6 368.9 297.5 370.1 M303.6 379.2 304.4 378.3 M303.6 379.2 300.3 378.8 297.7 376.8 M297.7 376.8 297.7 373.4 297.5 370.1 M278 348.3 277.7 351.4 277.3 354.6 M273.1 355.9 272.8 353.1 271.4 350.6 270 348.1 M273.1 355.9 276.4 355.5 M276 364.8 274.8 367.6 275.2 370.6 M283.7 368.1 281.1 369.7 279.2 372 M271.9 371.2 275.2 370.6 M272.3 363 276 364.8 M273.1 355.9 271 357.5 M286.8 376.7 286 376.8 M286.8 376.7 289.1 374.4 M286 376.8 283.4 375.7 281 374.3 279.2 372 M289.1 374.4 289.9 369.9 M289.9 369.9 286.6 369.7 283.7 368.1 M277.1 375.7 277.4 372.2 M310.5 371.5 307.9 369.2 M310.5 371.5 311.5 374.1 311.5 376.8 M307.9 369.2 304.5 370.5 M304.4 378.3 306.3 378.2 M318.5 410.2 315.2 411.1 312.7 413.3 M318.5 410.2 315.5 406.4 M311.5 413 312.7 413.3 M311.5 413 310.7 409.5 M310.7 409.5 313.4 408.4 315.5 406.4 M311.5 413 310.7 413.6 M264.6 408.9 260.1 408.3 M264.6 408.9 264.4 405.3 264.3 401.8 M260.1 408.3 259.9 404.6 257.8 401.6 M257.8 401.6 261 401.8 264.2 401.7 M264.2 401.7 264.3 401.8 M269.7 402.3 267 401.8 264.3 401.8 M269.7 409.1 265.8 409.6 M265.8 409.6 264.6 408.9 M256.4 400.3 257.8 401.6 M258.2 409.9 260.1 408.3 M265 397.7 264.2 401.7 M259.4 419 257.9 416.2 M259.4 419 261.8 420.7 264.3 422.5 M257.9 416.2 260.8 414.3 264.2 414.7 M266.5 418.6 264.3 422.5 M256.2 425 259.3 422.8 259.4 419 M257.1 415.8 257.9 416.2 M264.5 426.6 264.3 422.5 M309 420.1 310.7 416.4 M310.7 416.4 312.1 420.4 M312.1 420.4 310.9 421.4 M310.9 421.4 310.7 421.4 M305 418.8 309 420.1 M310.7 413.6 310.7 416.4 M312.7 413.3 315.3 416.8 M314.7 419.4 312.1 420.4 M299.9 425.3 301.4 428.7 M292.1 426.1 294.9 426.3 296.8 428.2 M297.8 433.9 298.9 433.3 M298.9 433.2 298.9 433.3 M298.9 433.2 297.8 430.9 M300.3 424.3 299.9 425.3 M319.9 416.4 320.2 417.4 M314.7 419.4 317 422.4 M320.2 417.4 319.4 419.9 318.1 422.2 M283.7 470.3 284.8 473.4 M283.7 470.3 281.4 471.9 278.3 471.6 276 473.2 M295.4 472.2 295.5 469 M302.9 467.4 303.9 470.1 302.4 472.6 M302.9 467.4 301.8 465.1 M296 472.8 299.2 473.5 302.4 472.6 M301.8 465.1 297.9 465.8 295.5 469 M302.7 430.8 306.3 431.6 M301.2 433.4 303.7 435.9 M306.3 431.6 305.9 435 M305.9 435 303.7 435.9 M302.7 429.9 301.4 428.7 M298.9 433.2 301.2 433.4 M273.3 469.8 272.8 468.7 M270.4 468 272.8 468.7 M302.9 467.4 305.3 469 308.1 466.8 310.4 468.4 M304.1 474.4 302.4 472.6 M310.4 468.4 309.5 471.1 307.2 472.7 M301.8 465.1 301.8 465 M310.4 468.4 311.7 467.9 M310.3 460.3 310 462.9 311.3 465.3 311.7 467.9 M345.1 473.3 347.9 474.2 M349.7 475.8 347.9 474.2 M387.6 454.7 386.5 451.6 385.7 448.4 M386.3 446.8 386 447.2 M385.7 448.4 386 447.2 M386.9 456 383.8 455.6 381.3 457.4 M381.3 457.4 378.9 455.8 378 453 M385.7 448.4 384 451.3 380.5 451.3 378 453 M346.2 366.6 349.3 364.4 M346.2 366.6 343.2 364.7 340.4 362.4 M349.3 364.4 348.4 359.6 M348.4 359.6 343.7 358.6 M343.7 358.6 342.1 360.2 M340.4 362.4 342.1 360.2 M342.9 353.2 342.5 356 343.7 358.6 M342.9 353.2 340.9 352.6 M338.9 352.8 337.5 355.4 M342.9 353.2 344.7 352 M348.4 359.6 352 356.7 M352 356.7 349.9 354.6 347.2 353.4 344.7 352 M347.3 347.9 344.7 352 M359 354.2 357 357.7 M359 354.2 356.6 352.2 358.7 348.2 355.6 346.6 M357 357.7 353 356.3 M353 356.3 353.7 352.5 351.7 349 M362.8 351.9 359 354.2 M357 357.8 357 357.7 M357 357.8 360.4 358.4 363.7 359.6 M352 356.7 353 356.3 M321.5 413.7 318.8 410.2 M363.8 362.4 361.5 363.4 359.1 364.2 356.5 364.4 M365 365.9 362.3 364.2 359.2 366.1 356.5 364.6 M356.5 364.4 356.5 364.6 M363.7 359.6 363.8 362.4 M371.6 363.6 369.1 365.7 366.1 367.1 M366.1 367.1 365 365.9 M357 357.8 355.7 361 356.5 364.4 M386.1 362.2 386.3 358.8 M386.3 358.8 382.6 355.7 M389 382.3 386.8 384.3 M386.8 384.3 383.5 383.3 381.3 380.6 M389.4 389.8 387.5 387.1 M386.8 384.3 387.5 387.1 M388.5 407 387.2 405.1 M387.2 405.1 387.1 404.6 M387.1 404.6 390.5 403.2 392.7 400.2 M335.4 360.1 333 362.2 330.4 364.2 M335.4 360.1 335 358.2 M335 358.2 332.8 356.7 331 354.7 M330.4 364.2 329.5 361.3 330 358.3 329.5 355.4 M329.5 355.4 331 354.7 M340.4 362.4 337.6 362 335.4 360.1 M340.4 362.4 340.4 362.4 M337.5 355.4 335 358.2 M330.1 364.6 330.4 364.2 M323.5 363.6 322.5 360.3 323.5 357 M325.2 355.6 323.5 357 M325.2 355.6 329.5 355.4 M262.5 370.3 259.9 371.4 257.2 370.5 M256.1 369.7 257.2 370.5 M256.1 369.7 257.6 367.3 257.1 364.3 258.6 362 M263.9 363.2 261.2 363.1 258.6 362 M271 357.5 266.1 356.5 M263.9 363.2 265.6 360 266.1 356.5 M265.3 355.6 266.1 356.5 M256.4 381.8 258.8 377.8 M258.8 377.8 257.1 374.1 M258.7 384.3 256.4 381.8 M257.2 370.5 257.1 374.1 M281.6 397.6 281.9 397 M281.9 397 283.1 393.8 281 391.2 M340.4 362.4 339.1 365.3 M332 368.2 334.7 368.6 M339.1 365.3 336.4 366.3 334.7 368.6 M330.8 376 334.2 376.1 M330.8 376 330.3 371.5 M334.7 368.6 335.7 369.9 M316.9 370 319.2 367.9 322.1 367 M316.9 370 315.3 367.3 312.8 365.3 M323 364 320.3 363.7 317.8 362.7 315.2 362 M315.2 362 312.8 365.3 M310.5 371.5 313.5 371.5 316.5 371.4 M316.5 371.4 316.9 370 M309.7 366.2 312.8 365.3 M294.7 378 292.3 375.5 289.1 374.4 M294.7 378 297.7 376.8 M297.5 370.1 296 369.7 M289.9 369.9 290.8 369.1 M296 369.7 293.3 370.2 290.8 369.1 M283.9 360.8 283.7 358.2 283.5 355.6 M283.9 360.8 286.3 361.9 288.9 361.6 M288.9 361.6 290 359 291 356.5 M285.4 353.8 283.5 355.6 M285.4 353.8 288.4 354.3 290.8 356.1 M290.8 356.1 291 356.5 M290.9 365 288.9 361.6 M285.4 351.1 285.4 353.8 M291.8 350.5 289.4 348.6 M291.8 350.5 296.6 349.8 M297.1 348.9 296.6 349.8 M303.6 379.2 303.2 381.5 M306.3 378.2 308.8 379.9 310.7 382.2 M303.2 381.5 305.4 383.8 307.4 386.1 M307.4 386.1 308.3 386.2 M310.7 382.2 308.3 386.2 M313.1 401.4 315.6 402 M313.1 401.4 311.5 396.7 M313.9 394.9 316.3 396 318.4 397.6 M313.9 394.9 311.5 396.7 M315.6 402 318.6 400.9 M318.6 400.9 318.4 397.6 M309 403.6 313.1 401.4 M307.9 394.8 305.9 394.9 M307.9 394.8 311.5 396.7 M288.6 402.7 288 403.4 M288.6 402.7 291.8 402.3 295 401.7 M297.3 407.7 298.3 404.9 M295 401.7 298.3 404.9 M298.3 404.9 299.4 404.3 M302.7 429.9 304.9 427.9 M306.4 431.4 306.6 428.9 M306.4 431.4 306.3 431.6 M306.6 428.9 304.9 427.9 M301.7 424 304.5 426.4 M304.9 427.9 304.5 426.4 M304.4 420.9 306.7 422.2 308 424.5 M304.5 426.4 308 424.5 M310.7 421.4 308.8 424.7 M308.8 424.7 308 424.5 M310.2 434.7 310.6 434 M310.2 434.7 308.8 435.6 M308.8 435.6 305.9 435 M306.4 431.4 309.2 431.6 M310.6 434 309.2 431.6 M309.2 431.6 310.1 427.6 M308.8 424.7 310.3 427.5 M320.2 417.4 321.8 418.8 M321.9 424 318.1 422.2 M321.9 424 322.4 423.7 M321.8 418.8 322.4 423.7 M319.3 440.8 318.1 443.6 318.3 446.6 M319.3 440.8 318.6 440.4 M313.6 446.2 314.1 443.1 315.2 440.1 M315.2 440.1 315.4 440 M318.6 440.4 315.4 440 M310.2 434.7 312.6 437 315.2 439.2 M309.3 440.7 309 438.1 308.8 435.6 M309.3 440.7 312.3 440.9 315.2 440.1 M315.2 439.2 315.4 440 M298.9 434.7 299.4 437.7 297.1 439.8 M299.7 440.1 297.1 439.8 M298.9 434.7 298.9 433.3 M303.1 445.3 304 442.4 302 440.1 M303.1 445.3 306.1 444.1 308.5 442 M308.5 442 308.6 441.3 M308.6 441.3 305.6 440.9 303.1 439.2 M303.1 439.2 302 440.1 M302.7 448.1 306.4 448 309.5 445.9 M309.5 445.9 308.5 442 M309.3 440.7 308.6 441.3 M313.5 446.2 309.6 445.9 M309.5 445.9 309.6 445.9 M303.7 435.9 303.1 439.2 M299.7 440.1 300 440.2 M300 440.2 302 440.1 M303 454.4 304.5 457.3 307.9 457.9 310.1 459.9 M303 454.4 303.3 452.4 M303.3 452.4 306.3 451.4 309.5 450.8 M310.1 459.9 311.1 457.5 311.3 454.7 312.9 452.5 M312.9 452.5 309.5 450.8 M302.7 448.1 302.1 449 M309.6 445.9 309.5 450.8 M313.5 446.2 313.5 449.1 314.1 451.9 M314.1 451.9 312.9 452.5 M264.4 457.5 267.4 459 270.2 460.6 M264.4 457.5 264.6 460 263.4 462.4 263.4 464.9 M270.2 460.6 270.6 463.5 269.3 466.1 M263.4 464.9 266.3 465.4 269.3 466.1 M266.2 452.8 266.9 452.6 M270.7 460.3 270.2 460.6 M270.7 460.3 272.1 458.1 273.2 455.7 M266.9 452.6 270.8 452.7 273.2 455.7 M276.3 462 275.2 464.6 275.1 467.3 M276.3 462 272.9 463.2 270.7 460.3 M270.4 468 269.3 466.1 M272.8 468.7 275.1 467.3 M270.2 449.2 274.6 450.2 M270.2 449.2 269 444.5 M269 444.5 271.2 441.2 M274.6 450.1 274.6 450.2 M271.2 441.2 274 441.2 M275.1 442.3 274 441.2 M266.9 452.6 270.2 449.2 M273.2 455.7 275.5 454.6 M275.5 454.6 274.6 450.2 M262.8 446.6 265.5 444.4 269 444.5 M269.8 439.8 271.2 441.2 M275.7 438.1 274 441.2 M307.2 472.7 309.7 474.5 312.4 475.9 M311.7 467.9 315.6 470.3 M312.4 475.9 314 473.1 315.6 470.3 M310.3 460.3 313.3 460.9 316.3 459.8 319.2 459.9 M316.3 470.3 315.6 470.3 M316.3 470.3 317.9 468.7 M319.2 459.9 319 462.8 319.7 466 317.9 468.7 M314.1 451.9 314.7 452 M310.2 460.1 310.1 459.9 M318.7 457.9 319.3 459.8 M319.2 459.9 319.3 459.8 M345.1 473.3 344 470.7 341.3 469.9 M336.6 480 338.3 477.7 340.3 475.6 340.3 472.5 341.3 469.9 M323.1 459.3 322.6 459.6 M330.8 464.9 329.2 466.5 M330.8 464.9 330.6 463.1 M330.6 463.1 329.7 461.4 M322.6 459.6 323.1 462.6 323.8 465.5 M329.2 466.5 326.3 467.1 323.8 465.5 M319.3 459.8 322.6 459.6 M317.9 468.7 322.3 468 M323.8 465.5 322.3 468 M370.9 476.4 373.2 476.2 M380.5 462.2 380.2 461.7 M374.2 459.6 376.2 457.8 376 454.8 377.9 452.9 M378 453 377.9 452.9 M380.2 461.7 375.7 461.9 M336.6 480 334.4 477.4 332.5 474.5 M340.9 469 336.2 468.5 M374.8 426.8 378.9 425.4 M377.9 452.9 377.2 452.4 M377.2 452.4 374.5 453.1 371.9 453.8 369.3 454.9 M381.4 438.5 378.9 441.8 M386 447.2 383.2 446.6 380.3 445.7 377.3 445.9 M378.9 441.8 377.3 445.9 M378.9 441.8 376 441.6 373.2 441.5 370.5 440.5 M377.2 452.4 377.4 449.6 375.9 447.1 M377.3 445.9 375.9 447.1 M355.3 366.7 355.4 367.2 M355.4 367.2 352.1 368.8 349.7 371.5 M339.1 365.3 341.1 367.2 341.2 370.2 343 372.1 M335.7 369.9 338.1 370.9 340.1 372.4 341.6 374.5 M343 372.1 341.6 374.5 M356.9 369.5 355.4 367.2 M356.9 369.5 360.5 371.3 M365.3 370.8 360.5 371.3 M365.3 370.8 366.7 372.5 M360.5 371.3 359.5 376.1 M359.5 376.1 362.1 379.3 M386.3 358.8 390 357.3 M381.2 350.9 382.2 352.1 M382.2 352.1 386.3 351.6 M386.3 351.6 388.9 350.5 M375.8 350.2 378.5 350.7 381.2 350.9 M390 357.3 387.9 354.7 386.3 351.6 M387.5 387.1 384.7 388 382.3 389.9 379.5 390.6 M379.5 390.6 379.2 390.5 M379.2 390.5 379.2 387.5 377.3 385.3 M389.4 389.8 388.3 392.6 M379.5 390.6 381.7 394.6 M388.3 392.6 385.3 394.6 381.7 394.6 M392.7 400.2 389.7 398.7 388.6 395.5 M257.9 360.9 258.1 357.6 259.9 354.7 M258.4 352.8 259.9 354.7 M258.6 362 257.9 360.9 M257.2 350.2 258.4 352.8 M265.3 355.6 262.7 355.1 259.9 354.7 M286.8 376.7 287.5 380 289.1 382.9 M294.7 378 295.6 380.6 294.3 383.1 M294.3 383.1 291.7 383.2 289.1 382.9 M297.1 348.9 300.7 349.8 303.6 352.2 M304.6 351.6 303.6 352.2 M300.6 363.1 301.5 360.1 303.5 357.7 M300.6 363.1 297.5 360.8 M297.1 356.9 297.5 360.8 M297.8 356 300.2 355.6 M303.5 357.7 300.2 355.6 M297.5 360.8 297.5 360.8 M301.3 363.9 300.6 363.1 M307 361.3 307.5 358.5 M307.5 358.5 303.5 357.7 M296 369.7 297.5 366.9 297.5 363.9 297.5 360.8 M290.9 365 293.5 364.3 295.4 362.3 297.5 360.8 M291 356.5 294.1 355.9 297.1 356.9 M296.6 349.8 296.4 353 297.8 356 M303.6 352.2 300.2 355.6 M304.7 392.1 305.6 389 M304.7 392.1 301.8 391.8 299 391 296.5 389.3 M305.6 389 303.1 387.5 300 387.8 297.7 386 M296.5 389.3 297.2 386.3 M297.7 386 297.2 386.3 M307.4 386.1 305.6 389 M294.3 383.1 297.2 386.3 M320.3 391.9 320.3 391.8 M320.3 391.9 319.4 394.7 318.4 397.6 M313.9 394.9 315.2 391.3 M315.2 391.3 317.7 392.3 320.3 391.8 M307.9 394.8 309.3 392.7 311.2 391 312.5 388.9 M315.2 391.3 312.5 388.9 M305.9 394.9 304.7 392.1 M312.5 388.9 312.4 388.3 M310.6 434 313.5 432.2 M310.3 427.5 311.4 427.7 M313.5 432.2 311.4 427.7 M277.4 455.3 278.9 453.1 281.6 452.1 283.2 450 M277.4 455.3 279.9 459.1 M283.2 450 283.9 453.7 286.7 456.3 M276.3 462 279.8 459.7 M319.3 440.8 322.2 440.8 M323.1 459.3 322.5 456.2 324.9 454.2 M332 456.1 332.4 459.4 329.7 461.4 M332 456.1 329.3 453.3 M329.3 453.3 326.6 453.3 M324.9 454.2 326.6 453.3 M341.1 433.4 344.2 434.6 347.2 436 M341.1 433.4 340.2 435.3 M340.2 435.3 342.7 438.5 M349.3 436.1 347.2 436 M342.2 440.7 342.7 438.5 M342.2 440.7 344.7 441.8 346.8 443.6 M349.8 440.7 346.8 443.6 M327.9 422.7 328.2 421.8 M327.9 422.7 328.6 424.1 M336.1 417.7 334.1 417.9 M336.1 417.7 336.4 420.3 336.9 422.8 M336.9 422.8 336.4 425.1 M336.4 425.1 336.1 425.3 M328.6 424.1 331.2 423.9 333.5 425.1 336.1 425.3 M334.1 417.9 330.6 419.1 328.2 421.8 M321.8 418.8 326.5 418.7 M322.4 423.7 325.2 423.3 327.9 422.7 M321.5 413.7 326 413.4 M326.5 418.7 325 416.2 326 413.4 M367.1 426.7 362.8 427.5 M367.1 426.7 369.1 423.2 M362.1 420.3 364.2 421.8 366.6 422.6 369.1 423.2 M362.1 420.3 361.5 421.1 M361.5 421.1 361.6 424.4 362.8 427.5 M359.4 437.2 356.9 435 M356.6 434.5 356.6 431.7 358.3 429.4 M358.3 429.4 362.1 428.5 M362.8 427.5 362.1 428.5 M345.7 420.5 348.5 419.6 351 418.1 353.4 416.5 M345.7 420.5 344.2 418.4 M344.2 418.4 345.7 415.1 347.5 412 M352.5 414.2 353.6 415.5 M353.4 416.5 353.6 415.5 M345.8 422 345.7 420.5 M345.8 422 344.8 422.7 M336.1 417.7 338.1 415.7 M338.1 415.7 341.3 416.6 344.2 418.4 M336.9 422.8 339.5 422.7 342.2 423.1 344.8 422.7 M338.1 415.7 338.1 414.9 M373.9 475.9 375.1 472.8 376 469.7 M373.9 475.9 377.4 475.6 381 475.7 M379.9 470 376 469.7 M381.6 474.3 381 475.7 M385.2 469.2 381.1 471.3 M384.6 474.8 381.6 474.3 M373.2 476.2 373.9 475.9 M347 456.8 349.5 459.2 M343.9 458.6 343.6 461.4 342.8 464.1 M349.5 459.2 350.3 462.2 349.6 465.1 M343.2 465.4 342.8 464.1 M349.6 465.1 349.6 465.1 M347.9 474.2 348.3 471.1 349.6 468.3 349.6 465.1 M355 467.7 353.2 465.9 M355 467.7 354.6 471.2 353.4 474.5 M353.2 465.9 349.6 465.1 M347.1 455.9 345 452.9 M347.1 455.9 347 456.8 M343.9 458.6 341.8 457.8 M345 452.9 342.3 453.7 339.8 454.9 M341.8 457.8 339.8 454.9 M344.6 450.1 341.3 448.7 337.7 448.8 M344.6 450.1 345 452.9 M337.7 448.8 336.4 451.2 337.4 453.8 M339.8 454.9 337.4 453.8 M337.4 448.2 337.7 448.8 M337.4 453.8 336.3 454.8 M331 450.4 330.9 450.4 M336.3 454.8 335.6 455.6 M355.2 452.4 358 453.2 361 452.6 363.8 453.3 M355.5 457.7 356.9 459.3 M360.8 460.2 363.3 457.3 364 453.5 M364 453.5 363.8 453.3 M353.2 465.9 354.3 462.2 356.9 459.3 M344.9 449.9 347 446.1 M344.9 449.9 347.2 451 349.9 450.9 352.3 451.9 M347 446.1 349.4 447.3 351.7 448.6 353.6 450.5 M354 451.1 353.6 450.5 M346.8 443.8 347 446.1 M346.8 443.8 343.5 444.5 340.2 444.9 337.2 446.6 M337.4 448.2 337.2 446.6 M344.6 450.1 344.9 449.9 M347.1 455.9 350.3 454.7 352.3 451.9 M354.4 451.2 355.2 452.4 M354.4 451.2 354 451.1 M367.9 453.7 369.3 454.9 M367.9 453.7 364 453.5 M355 467.7 358 465.4 361 467.7 M363 470.7 366.3 470.4 369.5 471.5 M363 470.7 362.5 469.3 M369.5 471.5 372.5 468.1 M370.9 476.4 369.6 474.1 369.5 471.5 M376 469.7 372.5 468.1 M359.4 437.2 358.4 441.2 M356.9 435 356.1 438.4 354 441.3 M358.4 441.2 354 441.3 M349.3 436.1 349.8 435.3 M349.8 435.3 353.1 434.4 356.6 434.5 M349.8 440.7 352.1 441.8 M354 441.3 352.1 441.8 M354.4 451.2 357.1 449.7 358.2 446.8 M353.6 450.5 354.2 447.7 352.2 445.2 352.4 442.4 M358.2 446.8 355.7 444 352.4 442.4 M346.8 443.6 346.8 443.8 M368.8 450.4 372.2 449.2 374.9 446.7 M368.8 450.4 365.8 448.3 367.3 445 M374.9 446.7 373.2 443.7 370.1 442.2 M367.3 445 370.1 442.2 M367.9 453.7 368.8 450.4 M375.9 447.1 374.9 446.7 M355.7 389.9 357.3 391.7 M357.3 391.7 360.4 390.8 M360.4 390.8 362.5 388.4 M362.5 388.4 362.4 385.6 M362.4 385.6 359.7 383.1 M359.7 383.1 358.1 383.3 M349.4 389.1 352.4 390.3 355.7 389.9 M349.4 389.1 347.9 392 347.9 395.3 M357.1 393.3 357.3 391.7 M357.1 393.3 355.3 395.2 353.5 397.2 M353.5 397.2 348.6 398 M362.1 379.3 359.7 383.1 M367.7 384.3 365.1 385.2 362.4 385.6 M356.4 382.3 353.7 380.5 354.4 377.4 M348.4 378.5 351.2 376.6 M348.4 378.5 347.9 381.7 348.2 384.9 M351.2 376.6 353.6 376.7 M348.2 384.9 348.3 385.3 M353.6 376.7 354.4 377.4 M349.4 389.1 348.1 386.5 M348.1 386.5 348.3 385.3 M356.9 369.5 356.5 372.3 355.2 374.5 353.6 376.7 M338.4 384.5 336.6 384.9 M335.9 383.8 336.6 380.5 337.5 377.2 M335.9 383.8 336.6 384.9 M342 381.7 341.4 378.5 341.9 375.3 M337.5 377.2 341.6 374.9 M341.9 375.3 341.6 374.9 M344.7 387.3 342 385.1 338.4 384.5 M348.2 384.9 345.6 382.3 342 381.7 M348.4 378.5 345.2 376.9 341.9 375.3 M334.2 376.1 337.5 377.2 M341.6 374.5 341.6 374.9 M387.2 405.1 385.2 408.2 382.2 410.2 M387.4 413.6 382.7 413.1 M382.2 410.2 382.7 413.1 M381.7 421.7 379.9 419.3 M379.9 419.3 380.1 415.3 M382.7 413.1 380.1 415.3 M366.6 395.7 368.5 396 M366.6 395.7 366.1 393.1 366.1 390.4 M368.5 396 370.4 394.1 373.2 394 M366.1 390.4 369.4 387.3 M373.2 394 373.2 393.9 M373.2 393.9 372.8 391.1 371.9 388.3 M360.4 390.8 362.8 393.7 365.5 396.1 M362.5 388.4 366.1 390.4 M365.5 396.1 366.6 395.7 M367.7 384.3 369.4 387.3 M379.2 390.5 376.2 392.2 373.2 393.9 M380.3 398.3 383.1 401.4 M380.3 398.3 376.6 398.1 M376.6 398.1 374.3 402.4 M374.3 402.4 377.2 403.9 380.2 404.8 M380.2 404.8 383.2 401.9 M383.2 401.9 383.1 401.4 M381.7 394.6 380.3 398.3 M372.1 404.1 370.9 403.7 M370.9 403.7 369.8 401.2 369.4 398.5 368.5 396 M372.1 404.1 372.1 407.1 374.1 409.5 M374.1 409.5 377.1 409.3 379.4 407.3 M387.1 404.6 383.2 401.9 M379.4 407.3 382.2 410.2 M338.1 414.9 336.5 412 334.6 409.2 M334.6 409.2 329.8 410.4 M334.1 417.9 332.8 415 329.6 414.4 327.6 412.4 M329.8 410.4 327.6 412.4 M326 413.4 326.9 412.6 M326.9 412.6 327.6 412.4 M282 382.8 285.4 384.8 M281 391.2 284.9 389.9 M284.9 389.9 286.6 387.5 285.4 384.8 M289.1 382.9 289.1 383 M285.4 384.8 289.1 383 M309.5 356.4 309 352.1 M309.5 356.4 312.4 356.2 314.1 358.5 M314.1 358.5 317 357.4 318.9 354.8 M309 352.1 310.3 350.1 M318.4 353.4 318.9 354.8 M318.4 353.4 316 351.7 312.9 351.6 310.4 350.1 M310.4 350.1 310.3 350.1 M307.5 358.5 309.5 356.4 M304.6 351.6 309 352.1 M315.2 362 314.1 358.5 M323.5 357 321.7 354.9 318.9 354.8 M319.9 347.4 319.2 350.4 318.4 353.4 M330.8 376 329.2 378.1 M330.1 381.8 329.9 381.7 M330.1 381.8 332.9 382.9 335.9 383.8 M329.2 378.1 329.9 381.7 M313.3 426.7 315.2 428.2 M315.2 428.2 318.2 427.4 M314.4 425.1 315.6 424.5 M315.6 424.5 318.2 427.4 M311.4 427.7 313.3 426.7 M310.9 421.4 312.5 423.4 314.4 425.1 M320.8 428.9 318.2 427.4 M320.8 428.9 321.2 430.8 M317 422.4 315.6 424.5 M321.9 424 322.4 426.7 320.8 428.9 M283.2 450 283.3 449.8 M291.8 454.5 290.7 451.3 288.6 448.6 M291.8 454.5 287.7 456.7 M286.7 456.3 287.7 456.7 M288.6 448.6 285.9 449.1 283.3 449.8 M282.8 435.4 282.7 438 283.1 440.7 282.4 443.3 M275.1 442.3 278.2 443.6 281.5 444.2 M282.4 443.3 281.5 444.2 M274.6 450.1 276.4 447.4 279.4 447.9 282 447.5 M281.5 444.2 282 447.5 M282 447.5 283.3 449.8 M294.8 450.4 297.9 447.7 M293 454.5 291.8 454.5 M293 454.5 294.8 450.4 M302.1 449 297.9 447.7 M300 440.2 300.1 442.9 298.2 444.9 297.8 447.4 M301.5 464.6 302 462.1 303.3 459.7 302.3 457 302.9 454.5 M301.5 464.6 298.6 462.6 M302.9 454.5 300.3 456.6 297 456.9 M301.8 465 301.5 464.6 M303 454.4 302.9 454.5 M295.5 469 294.5 466.5 292.5 464.8 M292.5 464.8 295.3 463.2 298.6 462.6 M293 454.5 295.9 456.7 M295.9 456.7 297 456.9 M288.1 459.4 286.9 461.7 284.1 463 283.2 465.7 M288.1 459.4 289.8 461.7 291.9 463.5 M292.1 464.7 291.9 463.5 M292.1 464.7 288.9 466.7 M288.9 466.7 286.5 468.2 283.7 467.7 M283.2 465.7 283.4 467.4 M283.7 467.7 283.4 467.4 M287.7 456.7 288.1 459.4 M279.8 459.7 280.8 463.1 283.2 465.7 M295.9 456.7 294.7 459 293.6 461.4 291.9 463.5 M292.5 464.8 292.1 464.7 M291.7 472.2 290.9 469.1 288.9 466.7 M283.7 470.3 283.7 467.7 M275.1 467.3 277.9 468 280.7 466.1 283.4 467.4 M325.3 437.5 322.8 440.9 M319.8 452.2 317.3 451.1 M317.3 451.1 318.8 447.4 M318.8 447.4 322.3 447.8 M318.7 457.9 319.7 455.1 319.8 452.2 M324.9 454.2 322 451.8 M318.3 446.6 318.8 447.4 M333.8 434 335.2 433 M333.8 434 330.8 432.9 328.3 430.7 M334.4 428.7 331.8 431 328.4 430.5 M334.4 428.7 336.3 431.6 M336.3 431.6 335.2 433 M328.4 430.5 328.3 430.7 M328.3 430.7 328.3 430.7 M336.1 425.3 334.4 428.7 M321.2 430.8 324.8 431.3 328.3 430.7 M342.2 426.5 339.9 425 337.3 425.7 M342.2 426.5 342.7 429.8 M337.3 425.7 337.8 428.7 339.2 431.4 M342.7 429.8 340.8 432 M340.8 432 339.2 431.4 M344.8 422.7 342.2 426.5 M336.3 431.6 339.2 431.4 M349.1 430.3 350.3 432.7 349.8 435.3 M349.1 430.3 345.9 430.8 342.7 429.8 M341.1 433.4 340.8 432 M338.9 436.3 335.2 433 M338.9 436.3 340.2 435.3 M319 473.5 319.1 473.7 M319 473.5 322.1 471.2 325.9 471 M319.1 473.7 321.6 474.5 324.3 475 326.8 475.7 M327.3 471.5 328.3 473.9 M319.4 478.3 319.1 473.7 M322.3 468 325.9 471 M326.4 476.9 326.8 475.7 M330.8 464.9 333.5 465.8 335.6 467.8 M332.5 474.5 328.3 473.9 M335.6 467.8 336.2 468.5 M361.6 411.8 359.2 413.7 356.8 415.5 353.6 415.5 M361.6 411.8 364 414.6 M362.1 420.3 363.9 415.8 M355.6 421.1 358.5 421.2 361.5 421.1 M355.6 421.1 354.7 418.7 353.4 416.5 M364 414.6 363.9 415.8 M363.9 415.8 365.6 418.3 368.2 420.1 370.2 422.3 M372.3 421.8 370.2 422.3 M355.3 421.7 356.5 425 356.9 428.5 M355.3 421.7 351.6 422.4 349.3 425.3 M356.9 428.5 353.4 428.6 349.9 428.5 M349.3 425.3 349.9 428.5 M355.6 421.1 355.3 421.7 M358.3 429.4 356.9 428.5 M345.8 422 349.3 425.3 M349.1 430.3 349.9 428.5 M338.2 460.1 335.8 456.4 M338.2 460.1 338.2 461.2 M337.4 461.7 338.2 461.2 M337.4 461.7 334.3 461.5 M334.3 461.5 333.9 458.6 335.8 456.4 M341.8 457.8 338.2 460.1 M342.8 464.1 340.3 462.9 338.2 461.2 M335.6 467.8 335.8 464.5 337.4 461.7 M330.6 463.1 334.3 461.5 M358.3 446.7 359 442.1 M358.3 446.7 362.5 447.7 M359 442.1 362.6 442.4 M362.6 442.4 364.7 445.3 M364.7 445.3 362.5 447.7 M358.4 441.2 359 442.1 M363.8 453.3 363.4 450.5 362.5 447.7 M365.4 436.9 362.9 439.1 362.6 442.4 M367.3 445 364.7 445.3 M347.9 395.3 345.2 394.5 342.5 393.6 339.9 392.5 M339.9 392.5 337 395.9 M361.4 410.8 361.6 411.8 M361.4 410.8 358.6 409 355.7 407.3 M366 405.4 362.7 407.7 M366 405.4 366.3 405 M366.3 405 364.9 402.8 364.6 400.2 363.5 397.9 M362.7 407.7 361.2 405.7 360.5 403.1 358.9 401.1 M358.9 401.1 358.9 401.1 M358.9 401.1 361.8 398.3 M361.8 398.3 363.5 397.9 M370.9 403.7 366.3 405 M365.5 396.1 363.5 397.9 M361.4 410.8 362.7 407.7 M353.5 397.2 356.2 399.2 358.9 401.1 M357.1 393.3 360.2 395.1 361.8 398.3 M373.9 410.1 375.1 412.3 M373.9 410.1 370.5 411.3 M375.1 412.3 374.6 415.6 372.4 418.2 M370.5 411.3 366.5 414.2 M366.5 414.2 369 416.8 372.4 418.2 M374.1 409.5 373.9 410.1 M380.1 415.3 377.8 413.4 375.1 412.3 M366 405.4 368.7 408 370.5 411.3 M329.1 401.5 326.9 399.6 326.4 396.6 M329.1 401.5 327.6 403.2 M327.6 403.2 323.1 405.1 M326.4 396.6 323.8 398.1 321.1 399.2 318.7 400.9 M318.7 400.9 321.3 402.5 322.8 405.1 M322.8 405.1 323.1 405.1 M329.8 410.4 329.5 407.9 327.9 405.7 327.6 403.2 M318.8 410.2 320.9 407.7 322.8 405.1 M318.6 400.9 318.7 400.9 M286.7 390.3 289.7 389 M286.7 390.3 289.3 392.6 289.1 396.1 M289.7 389 292.6 390.4 295.8 390.2 M289.4 396.3 289.1 396.1 M289.4 396.3 292 395.6 294.6 395.1 M295.8 390.2 295.4 394.3 M294.6 395.1 295.4 394.3 M284.9 389.9 286.7 390.3 M289.1 383 289.6 386 289.7 389 M281.9 397 285.7 398.2 289.1 396.1 M296.5 389.3 295.8 390.2 M288.6 402.7 288.3 399.4 289.4 396.3 M295 401.7 294.4 398.4 294.6 395.1 M316.4 380.1 316 378.6 M316 378.6 317.4 375.8 M317.4 375.8 320.8 376.7 323.2 374.3 M323.2 374.3 325.5 377.3 M310.7 382.2 313.7 381.6 316.4 380.1 M329.2 378.1 325.5 377.3 M311.5 376.8 316 378.6 M324.1 371.5 323.2 374.3 M338.9 436.3 336 440 M334.1 438.1 336 440 M342.2 440.7 339.5 442 336.5 441.9 M337.2 446.6 336 443.7 M336.5 441.9 336 443.7 M331.1 401.6 333.6 404.1 335.2 407.3 M331.3 401.4 333.9 402.2 336.7 401.3 339.2 402.2 M334.6 409.2 335.2 407.3 M329.1 401.5 331.1 401.6 M340 399.7 339.2 402.2 M336 396 337 395.9 M336 396 332.9 398 331.3 401.4 M332.1 390 334.3 394.5 M332.1 390 330.3 389.8 M334.3 394.5 331.7 395.2 329.1 396.1 326.4 395.8 M330.3 389.8 329 390.1 M329 390.1 328.8 393.4 326.3 395.5 M326.3 395.5 326.4 395.8 M330.1 381.8 330.6 384.5 330.7 387.1 330.3 389.8 M326.4 396.6 326.4 395.8 M320.3 391.9 323.4 393.4 326.3 395.5 M333.1 438 329.1 440.3 M333.1 438 330.3 437.3 327.9 435.7 M329.1 440.3 327.7 436 M327.9 435.7 327.7 436 M328.3 430.7 330 433.4 327.9 435.7 M334.1 438.1 333.1 438 M325.3 437.5 327.7 436 M328.1 443.1 330.5 444.2 M328.1 443.1 324.9 443.3 M324.9 443.3 324.2 446.2 M329.7 448.1 330.5 444.2 M329.7 448.1 326.1 448.5 M324.2 446.2 326.1 448.5 M329.1 440.3 328.1 443.1 M322.3 447.8 324.2 446.2 M330.9 450.4 329.7 448.1" fill="none" stroke="#ad9fd3" stroke-width="1.1" stroke-linecap="round" stroke-linejoin="round" opacity="0.9"/>
</g>
<path d="M388.4 473.3h0 M259.7 349.6h0 M258.4 350.3h0 M301.2 414.9h0 M298.9 416.8h0 M299.5 416.5h0 M298.1 417.1h0 M296.8 416.4h0 M297.6 418h0 M295.5 418h0 M294 419.8h0 M256.1 471.3h0 M254.5 470.6h0 M260 473.2h0 M261.5 467.5h0 M263.4 439.2h0 M268.7 437.7h0 M389.8 440.1h0 M390.9 434.8h0 M391.3 435.9h0 M386.8 367.5h0 M375.6 364.2h0 M375.4 363.6h0 M377.1 362.6h0 M373.3 367.7h0 M262.6 394.1h0 M263.4 392.9h0 M260.6 395.8h0 M262.1 395.1h0 M262.4 395.1h0 M259.2 396.9h0 M287 413.7h0 M288.9 412.8h0 M286.2 415.7h0 M294.4 414h0 M291.2 409.9h0 M285.7 400.6h0 M281.5 401.2h0 M280.3 398.9h0 M286.8 410.3h0 M282.8 409.2h0 M281.7 406.5h0 M290.2 409.1h0 M288.4 406.7h0 M287.9 404.4h0 M288.9 405.4h0 M257.4 412.6h0 M257.5 431.6h0 M257.2 431.6h0 M281.9 416.9h0 M281.3 419.6h0 M280.7 419.4h0 M278.9 405.1h0 M280.7 405.2h0 M292.8 425.7h0 M292.7 426h0 M266.3 427.6h0 M268.2 429h0 M263 433.9h0 M263.6 426.2h0 M263.2 427.2h0 M263.9 426.2h0 M269.8 429.3h0 M269.2 432.3h0 M275.6 431.2h0 M280.9 430.6h0 M282.4 430.9h0 M282.8 432h0 M276.3 439h0 M274.5 431.2h0 M273.4 432.6h0 M272.6 433.8h0 M272.5 434.7h0 M258.9 474.9h0 M269.9 474.6h0 M271.4 475h0 M272.6 472.3h0 M270.7 477.1h0 M387.9 471.6h0 M388.6 472.1h0 M385.4 468.3h0 M389.2 461.6h0 M388.1 458.5h0 M388.1 457.9h0 M357 475.1h0 M259.3 455.9h0 M265.6 451.2h0 M256.3 439.9h0 M262.4 443.9h0 M262 440.7h0 M388.8 441.7h0 M388.1 417.7h0 M388.5 423.6h0 M388.2 429.3h0 M387.7 429h0 M387.6 431.2h0 M384.5 433.6h0 M381.2 433.3h0 M387 441.3h0 M386.1 442h0 M383.5 439.8h0 M378.2 425.5h0 M381.5 421.7h0 M387.6 371.3h0 M387.3 373.1h0 M384.6 369.4h0 M381.9 376.4h0 M385.3 375h0 M364.5 351.5h0 M366.1 350.4h0 M369.2 360.1h0 M373.1 353.1h0 M365 353.3h0 M364.4 353.2h0 M367.5 354.2h0 M384.3 362h0 M382.6 363.2h0 M379.7 362.9h0 M387.3 412.3h0 M387.5 407.5h0 M332.9 350.8h0 M334.7 350.3h0 M334.5 351.3h0 M267.1 350.2h0 M268.3 349.9h0 M264.2 377h0 M271.6 378h0 M270.3 373.7h0 M267 373.8h0 M258.2 384.9h0 M269.8 391.7h0 M271.4 389.4h0 M278.5 378.2h0 M277.7 376.5h0 M277.7 375.6h0 M273.4 378.3h0 M275.6 377h0 M276.8 375.8h0 M282.8 381.1h0 M283.3 381h0 M278.7 377.5h0 M278.7 384.7h0 M269.5 365.5h0 M271.4 364h0 M265.7 365.7h0 M264.1 364.2h0 M264.2 366h0 M268.9 363.2h0 M269.9 369.3h0 M268.9 368.2h0 M269.1 369.8h0 M276.9 401h0 M272.4 398.4h0 M273.6 397.7h0 M269.2 402.7h0 M269.9 405.9h0 M270 403.3h0 M277.2 403.4h0 M277.6 404h0 M269.9 410h0 M270.2 409.7h0 M272.3 391.2h0 M268.5 397.5h0 M270.9 399.4h0 M279.6 386.2h0 M281 389.8h0 M275.3 391.2h0 M277.6 392.2h0 M322.8 367.1h0 M323.5 371.5h0 M329.2 371.2h0 M324.4 371.7h0 M324.7 364.5h0 M323.8 363.9h0 M321.7 366.9h0 M299.1 370.1h0 M302.4 378.5h0 M301.7 378.5h0 M297.6 376.7h0 M297.2 371.3h0 M277 352.5h0 M270.5 350.7h0 M275.8 368.3h0 M273.9 363.5h0 M288.4 375.4h0 M281.7 373.5h0 M285 375.2h0 M289.2 372.2h0 M284 368.2h0 M309.4 371.1h0 M309.8 371.6h0 M312.1 374.9h0 M311.2 375.2h0 M311.3 375.6h0 M304.1 379.1h0 M317.3 411.2h0 M318.1 410.5h0 M312.8 412.1h0 M316.5 407.6h0 M312 413.9h0 M311.8 411.4h0 M263.3 408.2h0 M259.8 408.5h0 M259.9 408h0 M259 403.5h0 M260.2 407h0 M258.4 402.2h0 M260.4 401.2h0 M269.6 401.7h0 M268.4 408.3h0 M257.2 400.5h0 M256.8 400.7h0 M264.5 399h0 M258.3 415.3h0 M262 414.8h0 M265.4 420.7h0 M257.1 422.3h0 M259.6 419.4h0 M259 420.2h0 M264.2 425.7h0 M264 424.2h0 M310.6 416.9h0 M311.5 417.1h0 M310.9 421.4h0 M314.7 414.3h0 M313.4 415h0 M299.5 425.9h0 M299.3 427.2h0 M300.7 427.7h0 M293.5 425.1h0 M297 429.2h0 M296.6 427.5h0 M295.6 427.3h0 M298.1 433h0 M284 470.1h0 M276.6 473.3h0 M279.6 470.7h0 M302.3 469.8h0 M303.1 466.6h0 M296.3 468.3h0 M301.5 466.1h0 M298.2 467.9h0 M297.8 468.4h0 M304.5 430.4h0 M302.2 434.1h0 M302.7 435.1h0 M272.6 469.5h0 M303.9 467.4h0 M302.4 472.6h0 M307.3 472.6h0 M311.1 460.5h0 M312.2 465.5h0 M349.4 475.9h0 M384.9 456.4h0 M383.7 457.5h0 M382.3 456.8h0 M384.5 447.9h0 M379.8 452.2h0 M348.9 364.7h0 M342.3 363.6h0 M341.8 363.7h0 M344 365.6h0 M349.1 363.7h0 M348.3 361.5h0 M345 359.3h0 M342.5 359.7h0 M343.8 358.4h0 M341.1 360.5h0 M349.7 357.5h0 M347.7 347.4h0 M346.6 350h0 M346.5 349.6h0 M344.4 351.4h0 M357.5 357h0 M357.3 355h0 M359.3 354h0 M359.4 352.4h0 M352.7 352.9h0 M361.6 359.2h0 M319.5 411.1h0 M320.2 412.6h0 M357.7 363.6h0 M366.1 366.3h0 M366.5 366.9h0 M367.2 366.6h0 M367.8 366.6h0 M357.2 362.7h0 M386.4 359.1h0 M381.7 381.4h0 M387.7 389.3h0 M335.5 360h0 M336.9 360.9h0 M340.3 362.4h0 M337.2 354.8h0 M337.2 355.4h0 M323.8 357.1h0 M323.4 363.2h0 M323.8 358.3h0 M323.8 357.9h0 M258 364.4h0 M260.2 361.7h0 M267.4 357h0 M269.9 358h0 M269.6 357.1h0 M266.1 359.1h0 M264.7 360.8h0 M257.4 373.6h0 M281 393h0 M281.7 394.7h0 M333.7 368.9h0 M335.5 367.7h0 M336.8 365.8h0 M335.1 367.6h0 M330.9 376.2h0 M313.1 367.4h0 M316.8 369.3h0 M316.6 370h0 M319.9 362.7h0 M314 362.3h0 M315.8 371.8h0 M294 377.3h0 M295.3 377.5h0 M296.4 370.5h0 M284 356.6h0 M284.3 361.3h0 M283.9 360.9h0 M286.4 361.1h0 M289.9 359.1h0 M287.7 355.4h0 M293.3 349.6h0 M296.4 349.8h0 M303 378.5h0 M303.8 378.9h0 M306.8 378.3h0 M306.2 377.6h0 M306.1 385.4h0 M302.8 381.7h0 M308.6 387.1h0 M308.2 385.4h0 M314.8 401.9h0 M314.2 400.5h0 M312 398.5h0 M313.4 395.7h0 M312.3 396.5h0 M317.7 401.1h0 M306.8 395.2h0 M311 396.6h0 M308.3 395.3h0 M292.3 401.8h0 M294.2 401.2h0 M302.7 429.6h0 M306.2 429.8h0 M304.5 426.7h0 M304.3 428.7h0 M304.9 425.4h0 M306.5 425.3h0 M307.1 426h0 M307.2 431.7h0 M308.6 431.7h0 M309.4 425.7h0 M309 425.2h0 M309.7 426.1h0 M310 427h0 M317.6 440.4h0 M312 435.3h0 M310.3 440.8h0 M297.5 438h0 M304.6 443.9h0 M307.5 442.3h0 M304.8 443.5h0 M308.3 446.3h0 M309.2 443.8h0 M311.7 445.7h0 M311.7 446.1h0 M303.4 452h0 M308.4 451.5h0 M310.7 455.4h0 M311.8 452.7h0 M312.9 452.5h0 M309.2 447.2h0 M309.5 448.8h0 M268.8 460.1h0 M268.1 459.8h0 M264.5 458.4h0 M269.4 465.8h0 M269.7 460h0 M264.9 465.3h0 M270.3 460.7h0 M271.7 459h0 M268.3 452.9h0 M275.3 461.9h0 M276.5 461.1h0 M270.1 448.7h0 M275.2 451.1h0 M270.9 449.1h0 M268.7 444.6h0 M273.4 442.2h0 M273 441.3h0 M274.6 442h0 M269.6 449.5h0 M270.1 450h0 M267.7 450.8h0 M267.8 444.8h0 M274.6 440.3h0 M309.6 474.3h0 M308.5 473.8h0 M313.2 468.4h0 M312.4 475.8h0 M314.7 472.3h0 M315.8 460h0 M314.3 460.9h0 M318.9 457.7h0 M339.6 474.7h0 M330.7 462.8h0 M330.5 463.1h0 M330.4 463.8h0 M322.6 459.4h0 M322.6 461.3h0 M321.9 467.6h0 M378 452.4h0 M376.8 452.7h0 M369.7 454.3h0 M380.3 440.8h0 M381.6 446.4h0 M373.3 440.2h0 M374.1 440.8h0 M375.3 447.6h0 M351.9 370.3h0 M352.8 369h0 M342.6 371.9h0 M338.5 373.2h0 M340.8 374.1h0 M340.8 374.5h0 M356.4 368.3h0 M363.8 370.8h0 M364 371.6h0 M359.5 374.9h0 M359.8 376h0 M360 371h0 M360.1 376h0 M388.1 358.1h0 M387.4 358.6h0 M381.6 351.4h0 M386.6 350.8h0 M387.1 353.5h0 M381.2 391.2h0 M379.9 390h0 M378.8 387.6h0 M377.6 389.4h0 M388.5 393.3h0 M259.1 362h0 M257.1 360.8h0 M264.3 355.1h0 M288.5 381h0 M287.6 379.5h0 M294.7 381.7h0 M294.8 380.1h0 M292.8 382.3h0 M297.1 367.8h0 M293.6 362.9h0 M291.8 363.9h0 M294.1 357.1h0 M291.7 356.1h0 M298.2 355.5h0 M297 351.2h0 M297.8 353.7h0 M298.7 389.8h0 M300.9 389.9h0 M297 385.9h0 M298.9 387.1h0 M300.3 387.7h0 M299.4 387.2h0 M297.6 385.8h0 M295.7 385h0 M318 397h0 M314.1 393.6h0 M314.6 392.7h0 M314.4 394.5h0 M316.1 391.3h0 M317.6 392.3h0 M312.5 389.8h0 M308.6 394h0 M305.6 393.6h0 M313.4 432.4h0 M311 427h0 M313.4 431.8h0 M312 428.9h0 M283.1 450.2h0 M281.5 452h0 M277.2 455h0 M280.1 459.4h0 M284.5 451.1h0 M283.5 450.7h0 M276.6 461.2h0 M331.8 458.4h0 M325.9 452.9h0 M326.4 453.5h0 M341.4 433.5h0 M345.2 434.9h0 M340.3 434.4h0 M340.6 435.4h0 M339.8 436.4h0 M346.7 436.8h0 M344.8 442.8h0 M342 440.6h0 M328.3 422.6h0 M334.9 417.7h0 M336.6 419.4h0 M336.6 420.9h0 M333.5 424.9h0 M330.7 424.4h0 M333.4 424.5h0 M333.2 425.3h0 M329.3 424.3h0 M331.7 424.6h0 M331.5 419h0 M322.6 418.4h0 M327 414.8h0 M326 415.3h0 M366.4 426.3h0 M368.5 425.6h0 M361.9 421.2h0 M357.8 435.2h0 M356.9 433.9h0 M360.7 428.5h0 M358.7 428.7h0 M358.8 429.6h0 M358.8 429.5h0 M345.2 415.4h0 M337.1 416.9h0 M343.1 418.6h0 M340.2 423.6h0 M342.9 422.7h0 M377.2 475.6h0 M377.4 469.2h0 M378.3 470h0 M381.3 475.4h0 M374.4 475.4h0 M343.9 459.7h0 M343.2 461.2h0 M341.9 462.4h0 M349.7 465.2h0 M346.9 472.8h0 M355 469.5h0 M351.2 464.8h0 M345.4 453.4h0 M343 458.7h0 M342.5 453.3h0 M339.7 456.1h0 M342.4 457.4h0 M340 448.8h0 M337.1 452.5h0 M356.3 458.5h0 M345.1 449.5h0 M349.9 451.4h0 M347.8 450h0 M346.5 446.3h0 M351.3 448.9h0 M342.4 444.9h0 M344 445.4h0 M337.8 446.7h0 M342.2 445.1h0 M347 455.2h0 M363.8 453.2h0 M364.1 470.3h0 M376.2 469h0 M355.9 436.1h0 M356.2 436.2h0 M355.3 438h0 M355.9 441.2h0 M349.1 436.4h0 M352 441.6h0 M356.5 448.1h0 M358 447.9h0 M372.1 448.1h0 M370.2 449.6h0 M367.5 448h0 M366.9 445.4h0 M370.7 443.2h0 M372.1 443.7h0 M370.2 441.4h0 M368.1 442.9h0 M368.7 452.3h0 M357.8 391.9h0 M362.8 386.6h0 M362.3 385.2h0 M361.2 384.8h0 M362.4 385.5h0 M353.1 389.1h0 M348.5 391.3h0 M356.6 394.6h0 M351.3 398.5h0 M349 398.1h0 M353.2 397.3h0 M362.7 386.6h0 M354.9 378.7h0 M350.9 376.3h0 M349.4 378h0 M350.9 376.4h0 M348.7 379.7h0 M354.7 376.6h0 M355.2 377.7h0 M346.6 385.9h0 M354.6 375.8h0 M337.5 381.5h0 M335.3 383.4h0 M336 381.2h0 M341.8 380.9h0 M342 379.1h0 M341.2 378.6h0 M339.5 376.2h0 M337.7 377.3h0 M340.9 374.7h0 M340.6 386.6h0 M347.2 384.6h0 M344 382h0 M346.3 384.5h0 M342.4 381.8h0 M341.6 374.7h0 M343.1 375.8h0 M335.3 376h0 M386.6 405.9h0 M387.9 405.7h0 M385.2 407.2h0 M383.4 408.5h0 M383.2 408.4h0 M387.2 413.2h0 M381.3 410.6h0 M379.6 415.6h0 M366.3 393.3h0 M365.9 394h0 M369.8 387.6h0 M371.6 388.8h0 M365 395.8h0 M362.5 393.7h0 M364.9 395.9h0 M376.5 392.3h0 M377.6 397.5h0 M375 400.9h0 M380.9 398.1h0 M381.3 396.5h0 M376.6 408.3h0 M384 402.7h0 M384.7 403.1h0 M379.9 408.5h0 M330.8 410.3h0 M329.3 414.1h0 M286.3 385.5h0 M287.3 384.7h0 M310.2 354.1h0 M317.6 354.8h0 M310.4 351.1h0 M309.3 351.7h0 M307.1 358.8h0 M306.4 351.4h0 M328.9 377.2h0 M329.9 382.9h0 M334.9 383.7h0 M317.9 426.8h0 M318.1 427h0 M315.7 425.5h0 M318.1 427.8h0 M311.9 428.2h0 M312.5 423.2h0 M319.3 428.7h0 M321.2 427.7h0 M320.5 427.2h0 M291.3 454.7h0 M289 456.6h0 M290.6 454.2h0 M288 456.1h0 M282.8 435.8h0 M282.2 438.1h0 M297.4 448.5h0 M296.3 449.1h0 M300.7 464.1h0 M302.6 462.7h0 M299.8 463.9h0 M294 468.3h0 M295.8 468.8h0 M293.5 455.1h0 M284.6 462.5h0 M286.8 461.9h0 M287.3 467.8h0 M287 457.2h0 M295.1 457.2h0 M292.8 462.6h0 M295.2 456.9h0 M276.2 466.9h0 M275.2 467.3h0 M318.7 451.4h0 M324.5 454.2h0 M332.4 433.5h0 M335.5 431.8h0 M335.4 430.2h0 M335.5 430h0 M328.1 430.4h0 M335.8 425.7h0 M323.8 431.2h0 M327.8 430.4h0 M325.9 430.1h0 M322.8 430.8h0 M337.7 425.2h0 M338.9 430.3h0 M341.5 431.1h0 M345.1 423.9h0 M337.7 431.6h0 M349.9 432.4h0 M338.3 434.9h0 M338.7 435.5h0 M319.8 473.4h0 M320.9 472.8h0 M322.5 473.6h0 M325.2 475h0 M325.8 475.6h0 M328.4 472.8h0 M327.1 471.6h0 M327.1 475.9h0 M327 475.5h0 M330.5 464.9h0 M333.8 467.3h0 M336.5 469.2h0 M363.1 419h0 M357.5 421.4h0 M368.3 420.4h0 M365.6 416.1h0 M370.1 422.9h0 M355.2 422.8h0 M357.2 427h0 M355.7 427h0 M356 425.3h0 M353.5 422.4h0 M350.1 429.4h0 M335.3 461.2h0 M340.4 458.3h0 M338.8 459.7h0 M336.6 463.1h0 M361.1 442.2h0 M364.4 445h0 M363.6 446.4h0 M359 441.9h0 M346.6 394.6h0 M365 403.7h0 M361.7 405.3h0 M369.8 403.4h0 M369.6 404.2h0 M370.1 404.2h0 M355.3 398.7h0 M359 400.4h0 M357.1 398.6h0 M357.7 394.7h0 M374.4 411.8h0 M374.3 410.8h0 M374.6 414.2h0 M373.5 416h0 M370.6 411.6h0 M375.7 413.3h0 M377.2 413.9h0 M369.2 409h0 M365.8 404.7h0 M370.1 410.3h0 M328 398.4h0 M327.2 403.2h0 M287.6 390.5h0 M287.1 391.8h0 M287.7 391.8h0 M287 391.5h0 M294.3 389.5h0 M294.1 389.9h0 M289.8 388.9h0 M295.4 400.1h0 M316.4 379.2h0 M316.6 377.9h0 M316 378.9h0 M319.3 374.6h0 M313.1 382h0 M327.5 377.8h0 M323.8 371.8h0 M335.9 443.2h0 M333.7 404.4h0 M332.3 402.4h0 M338.6 402.2h0 M340.6 399.7h0 M332.6 399.1h0 M334.6 396h0 M331.5 390h0 M331.5 389.8h0 M330.5 395.6h0 M327.3 395h0 M329.8 389.9h0 M329.4 390.6h0 M330.1 387.3h0 M329.6 382.7h0 M330.5 385.4h0 M321.5 392.2h0 M324.8 394.7h0 M331.4 439.3h0 M330.2 436.5h0 M328.1 438h0 M328.1 437.7h0 M329 439.4h0 M328.5 432.8h0 M328.6 443.1h0 M327.8 442.7h0 M325.6 442.9h0 M324.7 445.7h0 M328.2 447.3h0 M329.2 440.3h0" stroke="#63569e" stroke-width="1.2" stroke-linecap="round" opacity="1"/>
<path d="M293.5 422.6h0 M293.7 425.9h0 M293.4 427.5h0 M301.5 421.7h0 M304.5 429.3h0 M300.6 422.3h0 M293.8 423.7h0 M296.5 425h0 M297.6 425.6h0 M300.6 426.3h0 M299 427.3h0 M296.3 423h0 M303.5 420.6h0 M294.8 424.9h0 M297.1 423.2h0 M294.1 429.5h0 M296.9 429.2h0 M299.9 423.8h0 M300.6 420.9h0 M298.3 424.5h0 M297 426.7h0 M292.1 425.9h0 M300.7 420.7h0 M302 428h0 M303.5 423.2h0 M295.9 429.2h0 M303.6 423.9h0 M299.1 429.5h0 M298.1 431.7h0 M294.3 420.5h0 M292.7 423.3h0 M300.6 422.2h0 M305.2 426.5h0 M304.5 425.7h0 M316.3 437.3h0 M306.6 428.7h0 M306.3 438.1h0 M311.2 437.7h0 M307.3 434.2h0 M311.1 430.1h0 M305.3 428.4h0 M303.9 433.1h0 M309.2 436.1h0 M304.9 434.7h0 M304.9 430.3h0 M301.6 436.3h0 M306.3 434.7h0 M305.4 429h0 M308.9 444.4h0 M306.4 434.4h0 M312.9 436.7h0 M306.4 441.8h0 M308.2 429.3h0 M312.7 441.7h0 M310.1 428.9h0 M308.7 443h0 M315.3 440.9h0 M311.3 430.9h0 M306.2 428.3h0 M311.2 442.7h0 M305.6 434.8h0 M308.5 442.3h0 M308 442.8h0 M315.5 431.4h0 M308.2 428h0 M306.9 431.9h0 M303.7 430h0 M315.2 429.4h0 M301.1 440.3h0 M304.8 435.5h0 M311.5 435.6h0 M302.1 432.2h0 M309.5 426.7h0 M304.1 429.2h0 M303.3 428.7h0 M304.1 436.9h0 M306.9 441.9h0 M309.6 439.2h0 M302.2 430.7h0 M309.2 437h0 M308.7 437.6h0 M305.7 434.1h0 M301.7 439.1h0 M308.7 443.8h0 M307.3 438.8h0 M301.2 439.8h0 M329 443h0 M316 440.8h0 M314.8 446.7h0 M326.5 440.7h0 M316.8 443.9h0 M325.3 441h0 M329.3 443h0 M323.2 455.1h0 M326.5 449h0 M329 444h0 M312.9 448.3h0 M322.4 453.4h0 M322.5 440.8h0 M312.1 444.3h0 M324.8 441.9h0 M314.3 449.5h0 M315.2 437.3h0 M313.9 449.4h0 M331.4 448.3h0 M324.5 443.2h0 M323.7 446.9h0 M328.8 439.3h0 M315.1 445.9h0 M320.2 443.7h0 M313.3 453.3h0 M326.9 448.8h0 M331.1 446.6h0 M310.9 443.9h0 M317.1 445.7h0 M323.7 451.4h0 M326.4 448h0 M328 451.6h0 M324.9 437.3h0 M326.1 454.7h0 M316.5 440.4h0 M319.5 453.8h0 M313.5 452.5h0 M324.9 448.4h0 M323.2 439.6h0 M322.9 455.6h0 M319.5 438.5h0 M318 452.3h0 M326 443.6h0 M314.3 449.9h0 M321.1 455.7h0 M329.1 447h0 M322.5 444.3h0 M314.5 453.3h0 M317.1 453.5h0 M314.1 446.2h0 M312.3 444.5h0 M327.7 445.1h0 M315.8 438.7h0 M322.7 451.2h0 M323.9 446h0 M310.5 447.8h0 M323 446.6h0 M311.1 444.4h0 M318.8 440.6h0 M323 438.3h0 M326.4 445.5h0 M324.6 436.7h0 M326.8 454.5h0 M321.5 438.2h0 M325.4 442.8h0 M317.8 451.2h0 M314.2 441.8h0 M327.4 437h0 M330.1 447.2h0 M324.8 437.2h0 M338.6 446.9h0 M329.9 449.9h0 M327.3 451.8h0 M333.7 445.4h0 M339.9 448.1h0 M331.2 453.2h0 M339.5 447.7h0 M332.6 451.3h0 M326.5 459.6h0 M340 460.3h0 M325.3 454.9h0 M340.2 458h0 M340.8 458.5h0 M337.6 460.5h0 M328.6 445.5h0 M330.5 453.8h0 M334.2 455.2h0 M330.6 459.9h0 M327.3 457.1h0 M327.9 446.1h0 M334.9 446.9h0 M333.1 458.2h0 M336.4 460.3h0 M335 451.1h0 M335.7 461.1h0 M330 452.4h0 M336.1 462.4h0 M326.2 455.4h0 M338.1 456.3h0 M327.3 456.2h0 M330 451.6h0 M326.6 447.4h0 M331.6 458h0 M326 451.6h0 M327.9 462h0 M331.7 452.6h0 M324.5 448.9h0 M330.5 444h0 M332.2 444h0 M325.2 452.7h0 M327.2 460.5h0 M335.8 449.2h0 M340.4 455.6h0 M338.3 449.8h0 M332.6 454.5h0 M333.1 460.9h0 M333.2 459.8h0 M332.5 454.6h0 M327.8 461.1h0 M329.2 452h0 M331.9 451.4h0 M323.1 454.5h0 M326.6 448h0 M329 449.2h0 M339.7 451.5h0 M328 450.7h0 M343.1 457.4h0 M343.5 465.6h0 M343.7 453h0 M348.4 463.8h0 M341.3 455.6h0 M342.9 465.5h0 M342.1 457.8h0 M347.5 457.5h0 M342.7 465.8h0 M351.7 462.3h0 M347.3 455.4h0 M347.2 454.3h0 M340.3 466.1h0 M339.4 460.4h0 M339.4 456h0 M345.3 458.2h0 M343.8 452.4h0 M347.3 455.4h0 M348.2 460h0 M349.8 464.1h0 M342.1 461.3h0 M341.7 462.5h0 M348.4 452.6h0 M348.6 457.6h0 M348.4 458.6h0 M342.9 456.2h0 M343.7 466h0 M343.3 460h0 M341.4 460.7h0 M343.3 460h0 M351.1 456h0 M345.4 456.5h0 M320.2 464.1h0 M323.6 462.5h0 M312.3 459.7h0 M318.2 466.5h0 M313.9 466.7h0 M315.8 464.2h0 M324 459.5h0 M323.3 456h0 M310.2 459.7h0 M315 461.8h0 M310.3 456.9h0 M315.6 463h0 M318.3 453.1h0 M321.8 455.3h0 M323.3 455.6h0 M316.7 454.5h0 M317.7 457.2h0 M310.1 459.8h0 M317.9 460h0 M309.3 461.5h0 M311.7 461.8h0 M316.2 467.1h0 M312.9 455.6h0 M311.3 456.9h0 M315.9 463h0 M316.1 461.9h0 M320.2 453.4h0 M311.3 457.3h0 M316.2 453.4h0 M316.5 456.3h0 M328.7 431.3h0 M324.1 435.6h0 M330 429h0 M330.9 429.6h0 M326.4 428.4h0 M328 439.6h0 M330.3 430.9h0 M333.1 433h0 M324.1 431.6h0 M327.6 432.6h0 M331.1 437.4h0 M325 428.7h0 M322.8 438.1h0 M327.3 431.4h0 M331.9 434.1h0 M332 434.8h0 M328.2 435.4h0 M326.7 432.2h0 M331.4 437h0 M329.2 429h0 M324.3 429h0 M323.3 439.2h0 M353.6 449.3h0 M347.9 452.5h0 M346.6 448.8h0 M350.5 443.4h0 M356.2 449.8h0 M348.5 452.1h0 M352.7 454.2h0 M353.4 452.7h0 M348.3 452.5h0 M350.4 446.8h0 M351.2 452.3h0 M353.8 445.3h0 M362.8 419.9h0 M358.9 427.4h0 M365.1 422.7h0 M357 420.8h0 M363.3 423.8h0 M361.4 429.2h0 M361.5 428.4h0 M360.3 422.2h0 M284 446.7h0 M278.9 455.3h0 M277.9 448.9h0 M281.5 446.5h0 M275 457.4h0 M283.9 449.8h0 M284.3 451.8h0 M283.3 453.5h0 M273.9 451.4h0 M283.1 448.1h0 M295.1 453.5h0 M291.1 455.9h0 M294.4 456h0 M295.7 456.7h0 M294.7 456.8h0 M290 450.4h0 M290.7 457.2h0 M295.7 456.2h0 M300.4 455.7h0 M291.8 456.2h0 M294.1 458.4h0 M297.9 455.7h0 M285.5 418.9h0 M285.4 415.7h0 M287.3 413.3h0 M292.4 418.4h0 M286.8 417.9h0 M285.5 416.3h0 M288.6 417h0 M288.6 417.1h0 M290.4 419.4h0 M287.5 416.8h0 M323.4 363.7h0 M310.8 416.8h0 M278 443.1h0 M311.4 376.4h0 M366 395.9h0 M279 391.2h0 M297.4 360.4h0 M340.4 434.8h0 M356.7 427.5h0 M283.2 410.5h0 M355.3 367h0 M319.4 349.4h0 M382.8 352.1h0 M322.6 467.4h0 M303.6 379.3h0 M277.6 455.1h0 M379.3 390.5h0 M319.1 440.7h0 M295.8 390.4h0 M283.2 465.8h0 M365.5 350.6h0 M328.9 440.8h0 M309.5 435.1h0 M339.8 400.4h0 M277.5 455.2h0 M336.3 425.2h0 M357.8 408.6h0 M281.7 397.5h0 M312.7 453.1h0 M323.3 458.9h0 M324.5 404.5h0 M319.7 391.7h0 M288.3 380.7h0 M294.7 467.9h0 M288 396.3h0 M296.6 366.5h0 M318.4 451.5h0 M313 389.3h0 M258.7 396.7h0 M328.1 402.6h0 M377 408.3h0 M371.2 403.8h0 M305.2 378.3h0 M356.6 435.7h0 M348.3 386.9h0 M323.1 462.1h0 M330 355.2h0 M276.6 437.7h0 M279.6 400.5h0 M386.5 413.5h0 M299.1 433.2h0 M378 453h0 M331.1 401.6h0 M295.7 384.6h0 M299.3 456h0 M387.2 463.8h0 M361.3 380.5h0 M382 375.8h0 M349.6 465.1h0 M362.8 413.3h0 M349.8 440.7h0 M291.1 426.4h0 M294.9 400h0 M380 455.6h0 M387.5 463.5h0 M332.3 462.4h0 M387.2 404.9h0 M360.4 381.9h0 M310.1 460h0 M367.9 413.2h0 M335.3 376.5h0 M325.8 403.9h0 M352.5 417h0 M328.8 421.4h0 M330.4 459.8h0 M366.4 471.1h0 M307.2 360h0 M363 443h0 M358.5 440.5h0 M298.1 409.2h0 M355.2 420.3h0 M376.5 452.6h0 M306.2 432.3h0 M379 414.6h0 M269.3 431.9h0 M354.8 357h0 M361.9 420.6h0 M379.9 398.3h0 M299.6 433.3h0 M274.6 370.7h0 M355.2 379.3h0 M366.5 445.1h0 M377.7 469.8h0 M309.1 440.9h0 M306.1 432.9h0 M385.5 388h0 M367.7 384.3h0 M371.9 476.3h0 M345.3 442.6h0 M263.8 392.6h0 M310.1 460h0 M258.5 361.8h0 M312.4 388.3h0 M327.4 448.3h0 M363.9 453.4h0 M319.3 477.2h0 M303.4 437.8h0 M289.7 468.4h0 M373.5 407.8h0 M297.4 407.2h0 M333.7 393.4h0 M349 475.1h0 M273.5 470h0 M365 351.4h0 M364.4 406.5h0 M311 417.3h0 M272.8 356.2h0 M341 454.4h0 M314.1 451.3h0 M280.4 424.3h0 M352.8 369.2h0 M343.7 358.4h0 M265.6 426.5h0 M296.3 407.9h0 M387.1 455.5h0 M346.1 359.1h0 M328.1 422.1h0 M305.4 435.2h0 M303.6 447.8h0 M274 363.8h0 M309.5 355.9h0 M336.5 396h0 M318.8 354.8h0 M334.2 406h0 M273.8 355.8h0 M311.1 435.5h0 M335 407.9h0 M339.8 454.9h0 M294.1 420.7h0 M271.6 379.6h0 M358.2 429.8h0 M381.6 394.9h0 M366.3 405h0 M366.3 392.5h0 M320.8 440.8h0 M262.5 434.1h0 M292.3 464.8h0 M317.6 355.9h0 M300.4 440.2h0 M272.9 398.7h0 M388.2 375h0 M259 385.3h0 M349.1 458.9h0 M309.8 392.3h0 M290.4 356h0 M266.6 349.7h0 M257.5 365.5h0 M336.3 444.5h0 M296.7 403.4h0 M286.5 415.8h0 M284.6 418h0 M260.5 349.7h0 M274.9 383.6h0 M387.2 455.3h0 M356.4 399.2h0 M353.2 389.6h0 M369.4 442.9h0 M258.1 402.3h0 M256.5 368.3h0 M259.8 448.1h0 M339.4 431.4h0 M259.2 387.8h0 M313.6 414.6h0 M289.1 383.5h0 M307 425.1h0 M365.5 390h0 M303.5 357.8h0 M272.4 388h0 M309.4 355h0 M258.7 427.7h0 M330 381.8h0 M353.4 428.5h0 M375.2 356.7h0 M373 476.2h0 M271.8 371.4h0 M315.3 440h0 M373.2 393.9h0 M329 448.2h0 M303.9 378.9h0 M392.4 399.9h0 M281.1 392.2h0 M349.3 430h0 M376.3 398.6h0 M288.8 410h0 M324.5 356.1h0 M322.7 418.8h0 M373.7 354.1h0 M348.2 394.1h0 M381.1 430.2h0 M329.3 413.8h0" stroke="#6c2a14" stroke-width="1.35" stroke-linecap="round" opacity="0.95"/>
<rect x="263.3" y="466.8" width="31.3" height="3.4" fill="#000"/>
<text x="264.8" y="469.4" font-size="2.6" fill="#bbb">100 µm</text>
</g>
<clipPath id="clip4"><rect x="386.6" y="353.6" width="125.8" height="118.7"/></clipPath>
<filter id="bl4" x="-20%" y="-20%" width="140%" height="140%"><feGaussianBlur stdDeviation="2"/></filter>
<g clip-path="url(#clip4)">
<rect x="386.6" y="353.6" width="125.8" height="118.7" fill="#fcfcff"/>
<g filter="url(#bl4)"><ellipse cx="400.6" cy="405.6" rx="7" ry="28" fill="#e2e1f7" opacity="1.0"/><ellipse cx="470.6" cy="373.6" rx="12" ry="12" fill="#fdfdff"/><ellipse cx="503.6" cy="383.6" rx="7" ry="10" fill="#fdfdff"/><ellipse cx="434.6" cy="439.6" rx="9" ry="14" fill="#fdfdff"/><ellipse cx="483.6" cy="460.6" rx="10" ry="7" fill="#fdfdff"/><ellipse cx="454.6" cy="386.6" rx="7" ry="8" fill="#fdfdff"/><ellipse cx="388.6" cy="403.6" rx="6" ry="20" fill="#fdfdff"/><ellipse cx="466.6" cy="423.6" rx="6" ry="6" fill="#fdfdff"/><ellipse cx="496.6" cy="448.6" rx="6" ry="6" fill="#fdfdff"/><ellipse cx="426.6" cy="393.6" rx="6" ry="6" fill="#fdfdff"/><ellipse cx="406.6" cy="458.6" rx="7" ry="6" fill="#fdfdff"/><ellipse cx="486.6" cy="408.6" rx="5" ry="5" fill="#fdfdff"/></g>
<filter id="dp4" x="-5%" y="-5%" width="110%" height="110%"><feTurbulence type="fractalNoise" baseFrequency="0.35" numOctaves="2" seed="4" result="t"/><feDisplacementMap in="SourceGraphic" in2="t" scale="1.8" xChannelSelector="R" yChannelSelector="G" result="d"/><feTurbulence type="fractalNoise" baseFrequency="0.8" numOctaves="1" seed="11" result="g"/><feColorMatrix in="g" type="matrix" values="0 0 0 0 0  0 0 0 0 0  0 0 0 0 0  0 0 0 3 -0.6" result="ga"/><feComposite in="d" in2="ga" operator="in"/></filter>
<g filter="url(#dp4)">
<path d="M382.3 473.6 385.2 473 M385.2 473 386.2 473.7 M448.8 473.7 445.9 473.4 443 472.6 M428.1 475 431.7 474.3 M435 477.9 431.7 474.3 M428.1 475 424.5 476.7 421.8 474.1 418.8 473 M478.3 475.2 478.1 474.6 M478.3 475.2 481.6 475.9 484.7 474.1 488 474.5 M488 474.5 489.7 471.9 M489.7 471.9 488.7 469.5 488.1 466.9 485.8 465.3 M477.9 464.3 477.9 466.9 477.2 469.5 477.7 472.1 478.1 474.6 M465 429.4 461 428.1 M455.7 439.1 456.9 436.1 455 434 453.5 431.7 M455.7 439.1 457.9 441.1 460.7 442 M460.7 442 461.3 441.4 M461 428.1 458.6 429.7 456.1 430.8 453.5 431.7 M454.6 455.6 455.3 452.2 456.6 449 M454.6 455.6 451.9 454.8 449.2 454.4 446.4 455.3 443.7 454.5 M456.6 449 453.8 448.3 450.9 448.6 448 447.9 445.1 448.3 M443.7 454.5 443.7 451.3 445.1 448.3 M454.7 455.8 455.9 458.4 458.1 460.1 M454.7 455.8 452.1 457.4 449.5 459 448.6 462.1 M458.1 460.1 456.2 462.1 454.6 464.3 453.4 466.7 M460.1 447.1 460.5 449.7 460.5 452.4 462 454.8 462.3 457.5 M460.1 447.1 456.6 449 M462.3 457.5 461.9 459.1 M461.9 459.1 458.1 460.1 M454.6 455.6 454.7 455.8 M443.1 458.1 441.8 460.5 441 463.1 440.2 465.8 M443.1 458.1 442.6 456.4 M442.6 456.4 439.8 455.7 436.8 455.8 433.9 455.8 M433.9 455.8 434.3 458.5 434.2 461.2 433.6 463.9 434.1 466.6 M434.1 466.6 437.3 467.2 440.2 465.8 M443 472.6 441.2 469.3 440.2 465.8 M450.2 473.7 452.1 471.4 453.6 468.9 M448.6 462.1 446.4 459.4 443.1 458.1 M443.7 454.5 442.6 456.4 M380.2 351.9 382.4 349.4 385.8 349.7 388.3 348 M458.2 422.6 455 420.9 M462.1 412.1 459.8 413.5 457.1 413.5 454.6 414.2 M462.1 412.1 462.1 415.6 463.1 419 M454.6 414.2 455.9 417.5 455 420.9 M461 428.1 459.7 425.3 458.2 422.6 M451.1 430.4 453.5 431.7 M451.1 430.4 451.7 427.4 452 424.2 454.1 421.6 M454.1 421.6 455 420.9 M393.2 471.1 395.8 472.2 M393.2 471.1 392.5 468.3 392.2 465.4 391.2 462.7 M395.8 472.2 397.3 470.1 398 467.7 399.3 465.5 400.6 463.3 M391.2 462.7 393.8 462.5 396.3 461.9 398.8 461 M398.8 461 400.6 463.3 M385.2 473 385.2 469.7 384.5 466.5 M386.2 473.7 389.8 472.7 393.2 471.1 M384.5 466.5 387.4 464.3 390.5 462.4 M390.5 462.4 391.2 462.7 M400.5 478.1 402.6 476.2 403.1 473.3 404.8 471.2 405.2 468.4 406.9 466.2 M410.9 469.8 408.6 468.4 406.9 466.2 M418.8 473 418.6 471.7 M418.6 471.7 415.9 471.7 413.5 470.3 410.9 469.8 M395.8 472.2 397.4 474.2 399.8 475.5 400.5 478.1 M406.9 466.1 406.9 466.2 M406.9 466.1 404.3 463.6 400.6 463.3 M410.7 461.4 413.6 462.2 416.4 463.9 419.6 463.9 M418.6 471.7 420.6 469.1 421.2 465.9 M419.6 463.9 421.2 465.9 M405.4 434.3 404.7 431 404.4 427.6 M405.4 434.3 407.9 435.2 410 436.9 412.3 438.1 M404.4 427.6 407.4 428.2 410.1 426.8 M410.1 426.8 414 428.1 M414 428.1 413.8 431.2 415 434.3 414.1 437.4 M414.1 437.4 412.3 438.1 M423.5 432.4 421.4 434.8 418.6 436.4 416.8 439.1 M423.5 432.4 420.3 431.5 418.2 428.5 414.9 427.9 M414.9 427.9 414 428.1 M416.8 439.1 414.1 437.4 M462.3 370.2 459.6 372.1 457.4 374.5 454.7 376.3 M452.7 375 454.7 376.3 M452.7 375 451.6 371.8 450.2 368.8 M450.2 368.8 452.2 366.6 M462.1 368.7 459.8 367.1 457.4 366.4 454.6 367.3 452.2 366.6 M503 448.5 505.1 451.2 M493.2 453.8 493.2 453.6 M493.2 453.8 495.6 456.2 498.1 458.4 M505.1 451.2 504.8 453.7 M498.1 458.4 500.3 456.8 503.4 456.4 504.8 453.7 M478.1 474.6 475 473.9 472.3 472.2 469.2 471.3 M469.2 471.3 471.4 469.2 473.1 466.7 475 464.3 M493.2 453.6 490 451.8 488.4 448.4 M460.9 445.8 464.1 447.2 467.3 448.6 M460.9 445.8 460.7 442 M461.3 441.4 464.5 440.1 467.9 440.1 M467.9 440.1 472.8 441.1 M472.8 441.1 474 443.5 M474 443.5 471.6 445 469.7 447.1 467.3 448.6 M475 464.3 471.4 463.5 467.9 462.6 M467.9 462.6 468.7 460.3 469.8 458 469.9 455.4 470.9 453.1 M478.8 453.6 476.1 454.1 473.5 453.8 470.9 453.1 M460.1 447.1 460.9 445.8 M462.3 457.5 465.4 456.6 466.8 453.4 469.7 452.3 M467.3 448.6 469.7 452.3 M461.9 459.1 463.9 461.6 466.9 462.8 M467.9 462.6 466.9 462.8 M470.9 453.1 469.7 452.3 M447.9 430.3 446.4 432.7 M447.9 430.3 446 427.7 443.9 425.2 M443.9 425.2 440.5 425.9 438.2 428.4 435.6 430.6 M455.7 439.1 452.8 440.7 449.5 441.2 M451.1 430.4 447.9 430.3 M446.4 432.7 446.4 435.9 448.2 438.5 449.5 441.2 M445.1 448.3 444.5 446 M449.5 441.2 447 443.7 444.5 446 M452.7 375 449.6 376.1 446.9 378 444.1 379.8 M446.8 391.8 446.5 391.8 M446.5 391.8 445.6 389.3 444.9 386.7 444.2 384.2 443.4 381.6 M444.1 379.8 443.8 379.8 M443.8 379.8 443.4 381.6 M455 401.6 451 403.6 M455 401.6 455.5 398.4 455.8 395.3 M446.5 391.8 444 394.1 M444.3 398.5 444 394.1 M438.3 388 440.1 385.9 442 384 443.4 381.6 M438.3 388 437.8 391.2 M444 394.1 440.9 392.7 437.8 391.2 M450.2 368.8 447.7 369.5 445 368.5 442.6 369.8 M440.4 376.1 442 378 443.8 379.8 M440.4 376.1 440.7 374.3 M440.7 374.3 442.6 369.8 M438.3 388 437.5 385.4 434.8 383.9 434.4 381 M434.4 381 434.8 378.5 M433.9 429 433.8 425.7 433.2 422.4 432.6 419.2 M426.1 429.7 424.9 427.3 424.6 424.6 424 422.1 424.5 419.3 M432.6 419.2 429.9 418.7 427.2 418.8 424.5 419.3 M426.4 436.1 424.2 432.4 M424.2 432.4 426.1 429.7 M414.9 427.9 417.3 425.8 418.8 422.9 421.2 420.6 M410.1 426.8 410.4 423.7 411.3 420.7 411.8 417.7 M421.2 420.6 417.9 420 415.1 418.3 411.8 417.7 M423.5 432.4 424.2 432.4 M424.5 419.3 424 419.1 M421.2 420.6 424 419.1 M400.5 421.3 401.7 424.4 403.6 427.2 M403.6 427.2 404.4 427.6 M400.6 420.9 402.8 418.6 405.9 418.5 408.6 417.3 411.2 416.2 M411.8 417.7 411.2 416.2 M400.5 421.3 397.4 421.9 394.2 421.9 391 422.3 M403.6 427.2 401.4 428.5 399.3 430 397.3 431.5 M397.3 431.5 395.1 429.5 392.4 428.2 390.2 426.2 M391 422.3 389.6 423.6 M390.2 426.2 389.6 423.6 M383.4 415 383.7 417.6 385 420.2 383.8 422.9 M389.6 423.6 386.7 423.2 383.8 422.9 M380 413.2 383.4 415 M383.8 422.9 381.6 424.2 M400.6 420.9 399.1 418.3 400 415.5 M400 415.5 401.9 412.8 404.9 411.7 407.5 410 M407.5 410 411.5 411.2 M424.5 410.4 422.2 408.9 421.2 406.2 419.3 404.3 M424.5 410.4 424.4 414.1 423.5 417.8 M417.4 404.3 415.1 405.9 415.2 409.3 412.7 410.6 M424 419.1 423.5 417.8 M412.7 410.6 411.5 411.2 M426.7 462.9 423.1 465.5 M426.7 462.9 429 464.3 432 464.5 433.8 466.8 M423.1 465.5 425.5 467.3 427.2 469.9 429.9 471.2 431.7 473.7 M433.8 466.8 433.7 470.6 431.7 473.7 M434.1 466.6 433.8 466.8 M430.3 454.5 429.5 457.5 427.5 460 426.7 462.9 M431.7 474.3 431.7 473.7 M421.2 465.9 423.1 465.5 M384.5 466.5 382.4 464.4 379.5 463.9 M390.5 462.4 389.9 459.8 388.4 457.6 387 455.4 M379.5 463.9 382.2 462.6 382.7 459.2 385.3 457.6 387 455.4 M399.7 456.2 399.1 453.5 M399.1 453.5 400.5 450.4 403.1 448.1 M403.1 448.1 405.1 450 406.8 452.2 409.1 453.7 411.5 455.1 M397.3 431.5 396 433.9 M405.4 434.3 404 436.8 403.6 439.6 402.5 442.1 M402.5 442.1 400.5 440.3 399.9 437.5 397 436.4 396 433.9 M407.3 444 403.5 444.7 M403.5 444.7 402.7 443.7 M402.5 442.1 402.7 443.7 M515.2 445.4 512.8 442.4 M512.8 442.4 512.9 439.5 514.8 437.4 M511.3 451 512.3 453.8 514 456.2 516.3 458.1 M511.3 451 513 448 515.2 445.4 M503 448.5 504.8 446.1 507.7 444.7 508.5 441.6 M511.3 451 508.2 450.8 505.1 451.2 M508.5 441.6 512.8 442.4 M516.3 458.1 516.3 458.4 M467.9 440.1 468.4 437.3 469 434.5 470.2 431.9 471.2 429.3 M472.8 441.1 473.8 438.1 474.9 435.1 476.1 432.2 M476.1 432.2 474.8 431.1 M471.2 429.3 474.8 431.1 M471.2 429.3 469.4 427.8 M516.3 458.4 513.2 459.4 510.5 461.4 M510.5 461.4 510.9 464 512.8 465.9 512.7 468.6 514.1 470.7 515 473.1 M504.8 453.7 506.3 456.1 506.3 459.1 507.9 461.4 M510.5 461.4 507.9 461.4 M493.9 463.8 494.7 467.2 495.6 470.6 M493.2 453.8 490.4 456.7 M498.1 458.4 498.4 460.3 M507.9 461.4 506.5 463.8 504 464.9 M498.4 460.3 501.6 462.1 504 464.9 M495.6 470.6 498 471.6 500.5 472.4 M462.4 470.9 463.4 470.8 M453.6 468.9 456.6 469.3 459.5 470 462.4 470.9 M466.9 462.8 466.1 465.6 464 467.9 463.4 470.8 M469.2 471.3 465.4 472.5 M487.1 448 486.4 445.2 486.3 442.3 487 439.5 M487.1 448 484.7 448.7 482.3 449.4 479.9 450.2 M478.2 445.9 479.9 450.2 M478.2 445.9 480.9 443.7 481.5 440.3 M481.5 440.3 484.3 439.9 487 439.5 M488.4 448.4 487.1 448 M478.8 453.6 479.9 450.2 M474 443.5 478.2 445.9 M476.9 432.3 476.1 432.2 M476.9 432.3 477.9 435.3 479.1 438.1 481.5 440.3 M463.4 366.3 461.6 364.3 460.6 361.7 458.2 360.2 456.8 357.9 M465.6 356 462.5 356.1 459.7 357.2 456.8 357.9 M452.2 366.6 452.8 363.5 452.4 360.5 452.1 357.5 M452.1 357.5 453.3 356.8 M456.8 357.9 453.3 356.8 M465.6 356 464.3 351.5 M464.3 351.5 461.8 349.9 460.9 347.1 M453.3 356.8 454.2 354.9 M454.2 354.9 456.9 353.1 457.4 349.9 M454.2 354.9 452 352.7 451.7 349.6 450.3 347 449 344.4 M428.5 452.8 425.4 453.8 422.7 455.5 419.7 456.4 M420 444.9 417.7 446.1 415.9 448 M419.7 456.4 417.3 454.4 414.5 453.1 M414.5 453.1 413.2 450 415.9 448 M425.8 444.4 425.1 445.4 M430.3 454.5 429.9 454 M419.6 463.9 419.6 461.4 420 458.9 419.7 456.4 M429.9 454 428.5 452.8 M411.5 455.1 414.5 453.1 M403.5 444.7 403.1 448.1 M444.5 446 443 444.8 M444.2 410.5 442.6 412.8 440.2 414 437.2 414.4 435.5 416.5 M444.2 410.5 446.9 410.4 449.4 411.1 M449.4 411.1 449.5 411.2 M449.5 411.2 448.7 414 447.5 416.7 445.2 418.8 444.5 421.7 M443.8 422.2 440.9 420.7 438.2 418.8 435.3 417.3 M443.8 422.2 444.5 421.7 M435.3 417.3 435.5 416.5 M444.3 398.5 442.5 400.6 440.1 402 438 403.7 M438 403.7 439.8 406.2 441.9 408.4 444.2 410.5 M455 401.6 457.9 404.1 461.7 404 M454.6 414.2 452.2 412.5 449.5 411.2 M461.7 404 463.6 406.5 464.6 409.5 M454.1 421.6 450.9 422.6 447.7 421 444.5 421.7 M443.9 425.2 443.8 422.2 M434.2 411.5 435.7 409.1 436.3 406.3 437.5 403.7 M434.2 411.5 431.4 409.9 428.5 408.7 M428.5 408.7 428.2 406 429.5 403.6 M429.5 403.6 433.2 401.1 M433.2 401.1 435.9 401.5 437.5 403.7 M438 403.7 437.5 403.7 M435.5 416.5 434.2 414.2 434.2 411.5 M419.3 404.3 422.3 401.9 M422.3 401.9 426 402.3 429.5 403.6 M437.8 391.2 434.5 392.7 430.8 393 M430.8 393 432.1 395.5 432.8 398.3 433.2 401.1 M429.9 387.2 428.3 384.3 426.5 381.4 M426.5 381.4 423.4 383.7 421.8 387.2 M434.4 381 432.8 383 431 384.9 429.9 387.2 M434.8 378.5 432.6 377.3 430.1 376.7 M426.5 381.4 426.2 378.8 M430.1 376.7 426.2 378.8 M420.1 385.4 421.8 387.2 M420.1 385.4 420.2 382.6 418.9 380 418.7 377.3 M426.2 378.8 423.7 378.1 421.2 377.6 418.7 377.3 M381.9 433.1 384.8 434.6 387.9 435.7 390.4 437.9 M382.1 431.2 385.4 431.3 388.5 430.3 M388.5 430.3 390.3 433.2 391.4 436.4 M391.4 436.4 390.4 437.9 M396 433.9 393.4 434.7 391.4 436.4 M406 401 409 401.2 411.8 402.1 414.6 402.9 417.3 404.2 M406 401 405 398.1 405.7 395.2 M405.7 395.2 408.9 391.7 M408.9 391.7 411.3 392.6 413.5 394.1 M413.5 394.1 413.7 396.9 415 399.3 416.3 401.7 417.3 404.2 M404.6 404.8 406 401 M404.6 404.8 406.8 407 407.5 410 M417.4 404.3 417.3 404.2 M399.9 405.1 404.6 404.8 M399.9 405.1 399 402 398.8 398.8 397.9 395.8 M397.9 395.8 400.6 396.3 403.1 394.8 405.7 395.2 M420.1 385.4 417 385.8 414.5 387.6 411.4 387.9 408.6 389.2 M424 391.7 421.1 390.9 418.4 391.4 415.9 392.8 413.5 394.1 M390.2 386.5 393 387.6 396 387.8 M396 387.8 396.2 391.6 395.6 395.3 M392.7 394.9 395.4 395.3 M395.6 395.3 395.4 395.3 M384.1 451.4 386.8 453.5 M384.1 451.4 382.5 448.4 M392.3 451.8 394.1 449.2 392.7 446 394.1 443.4 M392.3 451.8 389.6 453 386.8 453.5 M382.7 445 385.1 443.2 387.5 441.6 390.1 440.1 M382.7 445 382.5 448.4 M390.1 440.1 391.8 442 394.1 443.4 M387 455.4 386.8 453.5 M399.1 453.5 395.9 452 392.3 451.8 M402.7 443.7 399.8 443.1 397 443.2 394.1 443.4 M390.4 437.9 390.1 440.1 M523.3 364.5 520.7 363.8 518.4 362.3 515.6 362.1 513.1 361.1 510.6 359.9 M518.6 367.3 515.9 366 512.8 368 510.4 364.6 507.3 365.8 M510.6 359.9 507.3 362.6 M507.3 365.8 507.3 362.6 M513.8 376.6 510 374.7 M513.8 376.6 515.3 374.4 516.8 372.3 517.2 369.5 518.6 367.3 M505.8 368.4 507.5 370.3 509 372.4 510 374.7 M505.8 368.4 507.3 365.8 M510 351.3 511.3 353.6 512.4 355.9 M510 351.3 512.5 350.3 514.4 348.4 516.3 346.5 M510.6 359.9 512.4 355.9 M497.6 353.2 498.9 349 M497.6 353.2 499 356.7 M499 356.7 502.8 358 M502.8 358 505.1 355.8 506.9 353 509.6 351.3 M504 346.6 506.2 349.6 509.6 351.3 M487.2 348 489.5 350.7 491.9 353.2 M491.9 353.2 494.8 354 497.6 353.2 M497.9 358.4 498.1 361.1 497.5 363.6 496.9 366.2 M496.9 366.2 499 370.4 M505.8 368.4 502.4 369.4 499 370.4 M507.3 362.6 504.9 360.4 502.8 358 M510 351.3 509.6 351.3 M497.9 358.4 495.6 359.4 493.1 360.1 490.5 360.4 488.2 361.4 M496.9 366.2 493.9 364.9 490.7 364.4 487.6 363.5 M488.2 361.4 487.6 363.5 M491.9 353.2 490.5 356.1 487.6 357.6 M488.2 361.4 487.6 357.6 M459.2 384.9 461.5 383.5 463.2 381.3 M460.9 389.6 463.9 391 466.5 393 M466.5 393 470.8 392.5 M470.8 392.5 470.8 388.7 472 385.1 M461.7 404 464 401.2 465.3 397.8 M465.3 397.8 466.5 393 M481.7 390.6 479.3 391.5 477.2 393.1 M481.7 390.6 482.6 387.5 481.1 384.5 M474 393.9 477.2 393.1 M474 393.9 470.8 392.5 M481.1 384.5 479.5 381.5 M465.3 397.8 467.7 400 470 402.2 M470 402.2 468.2 404.5 466.9 407.1 465.3 409.6 M474 393.9 474 397.3 474.4 400.7 M470 402.2 474.4 400.7 M477.2 393.1 478 396 479.8 398.3 481.3 400.9 483 403.3 M474.4 400.7 475.5 403.1 477 405.2 M483 403.3 479.7 403.5 477 405.2 M502.8 471.2 505.4 472 507.9 473.3 510.8 473.6 513.3 474.9 M500.5 472.4 500.6 472.4 M515 473.1 513.3 474.9 M402.7 348.7 404.5 348.8 M402.7 348.7 402.1 351.5 400.3 353.7 399.3 356.4 M399.3 356.4 401.8 357.5 404.1 358.8 406.2 360.6 M406.2 360.6 410.7 358.8 M404.5 348.8 406.9 350.8 407.1 354.1 408.5 356.7 410.7 358.8 M406.2 360.6 406.1 363.5 404.9 366.1 M404.9 366.1 406.5 368.5 M415.6 359.3 410.7 358.8 M394.8 397.5 396 400.5 396.2 403.6 396.7 406.7 M396.7 406.7 393.7 409.9 M395.4 395.3 394.8 397.5 M399.9 405.1 396.7 406.7 M397.9 395.8 395.6 395.3 M400 415.5 397.3 414.4 396.2 411.3 393.7 409.9 M405.7 374.6 407.6 376.8 409.9 378.6 M405.7 374.6 402.8 375.2 399.9 374.9 M398.7 384.9 401.6 385.7 404.6 386.3 407.7 386.6 M398.7 384.9 398.1 381.6 396.1 379 M396.1 379 397.2 376.2 399.9 374.9 M406.5 368.5 405.5 371.5 405.7 374.6 M418.6 370.8 418.5 373.6 417.3 376.1 M417.3 376.1 414.7 376.6 412.4 377.7 409.9 378.6 M408.6 389.2 407.7 386.6 M418.7 377.3 417.3 376.1 M388 385.6 388.2 382.1 388.1 378.6 M388.1 378.6 385.5 377.7 383.1 376.3 M396.1 379 392.7 379.5 389.4 378.2 M388.1 378.6 389.4 378.2 M383.1 376.3 384.4 373.1 384.3 369.7 M379.5 361 382.4 362 385 363.4 387.8 364.5 M384.3 369.7 385.9 367 387.8 364.5 M400.6 365.8 398.4 367 396.2 368.4 M400.6 365.8 400.3 362.7 399.3 359.8 398.3 356.9 M396.2 368.4 393.4 367.4 M393.4 367.4 390.2 363.7 M390.2 363.7 391.2 360.7 M391.2 360.7 393.2 358 M393.2 358 395.8 357.7 398.3 356.9 M404.9 366.1 400.6 365.8 M399.9 374.9 398.7 371.3 396.2 368.4 M399.3 356.4 398.3 356.9 M389.4 378.2 390.3 375.5 390.9 372.6 392.1 370 393.4 367.4 M387.8 364.5 390.2 363.7 M380.6 353.9 383.1 354.7 384.3 357.5 387 358 389 359.5 391.2 360.7 M388.5 348.1 389.8 350.5 390.9 353 391.9 355.6 393.2 358 M430.1 376.7 430.3 374.1 428.6 371.8 428.6 369.2 M418.6 370.8 421.9 370.1 425 368.6 M425 368.6 428.6 369.2 M440.7 374.3 437.4 373.8 435.4 371 432.2 370.3 429.7 368.4 M429.7 368.4 428.6 369.2 M442.6 369.8 441.8 368.2 M429.7 368.4 430.5 365.7 432.7 364 M441.8 368.2 439.1 366.1 435.6 365.8 432.7 364 M424.1 360 426.9 360.5 429.6 361.3 432.5 361.6 M424.1 360 423.2 363 424.6 365.8 425 368.6 M432.7 364 432.5 361.6 M480.6 351.3 480.5 352.5 M480.6 351.3 477.8 347.6 M480.5 352.5 478.7 355.4 476.6 358.1 M470.5 356.3 471.6 352.7 471.4 349 M470.5 356.3 473.7 356.9 476.6 358.1 M487.2 348 484.4 350.6 480.6 351.3 M487.6 357.6 485.4 355.7 482.3 355 480.5 352.5 M467 357.1 470.5 356.3 M464.3 351.5 466.7 350.9 469 349.7 471.4 349 M477.9 364.4 480.5 365.8 M481.1 384.5 483.5 383.4 486.2 383.9 488.6 382.6 491.2 382.3 M491.2 382.3 490.5 378.9 489.8 375.4 M489.8 375.4 487.6 376.9 484.9 376.9 482.5 377.5 479.9 378 M490.3 374.6 489.8 375.4 M490.3 374.6 489.1 372.4 488.6 369.7 486.9 367.7 485.4 365.6 M485.4 365.6 480.5 365.8 M476.6 358.1 476.8 361.4 477.9 364.4 M485.4 365.6 487.6 363.5 M480 419.7 476.6 418.4 473 418.6 M480 419.7 482.3 417 484 413.8 M484 413.8 481.1 412.3 478.4 410.5 475.4 409 M473 418.6 472.9 415 471.5 411.8 M474.8 431.1 476.3 428.6 477 425.6 480 423.9 480.7 420.9 M480.7 420.9 480 419.7 M477 405.2 475.4 409 M415.1 350.6 416.4 352.8 414.8 355.8 416.9 357.9 M421.4 357.4 423.7 354.6 426.4 352 M421.4 357.4 416.9 357.9 M425.5 349.6 426.4 352 M410.4 347 412.9 348.6 415.1 350.6 M415.6 359.3 416.9 357.9 M424.1 360 421.4 357.4 M448.8 356.6 446.2 358.3 443.1 358.7 M448.8 356.6 447 354.1 446.7 351 445.5 348.3 M443.1 358.7 441 356.6 438.4 355.6 435.5 355.2 M437.4 347.5 437.2 351 434.9 353.5 M434.9 353.5 435.5 355.2 M452.1 357.5 448.8 356.6 M441.8 368.2 442.1 365 443 361.9 443.1 358.7 M426.4 352 429.3 352.1 432.1 352.8 434.9 353.5 M496.8 372.6 498.2 371.7 M513.8 376.6 515 379 M515 379 513.8 383.7 M490.3 374.6 493.8 374.4 496.8 372.6 M491.2 382.3 493.6 385.6 M493.6 385.6 496 386.1 M481.7 390.6 486.1 392.4 M493.6 385.6 491 386.5 489.7 389 488 390.9 486.1 392.4 M513.8 383.7 515.7 385.9 M506.9 392.7 509.8 393.7 512 395.9 M512 395.9 514.8 395.8 516.6 393.4 519.2 393.1 M515.2 407 512.7 405.9 M512.7 405.9 511.3 404.7 M511.3 404.7 510.8 401.7 512.8 398.9 512 395.9 M516.4 413.7 516.2 410.3 515.2 407 M516.3 414.5 513.4 416.4 510.8 418.7 M521.8 427.6 519.1 426.7 517.1 424.8 514.5 423.9 512.8 421.5 510.6 419.9 M510.8 418.7 510.6 419.9 M516.4 413.7 516.3 414.5 M505.5 414.7 508.1 416.7 510.8 418.7 M476.9 432.3 479.9 432 482.6 430.6 M487 439.5 489.5 437.2 M489.5 437.2 487 435.2 485.4 432.2 482.6 430.6 M480.7 420.9 483.1 423.4 485.9 425.3 M482.6 430.6 484.6 428.1 485.9 425.3 M484.8 413.6 487.8 415.6 491 417.4 M484.8 413.6 484 413.8 M514.8 437.4 512.9 434.5 M512.9 434.5 515.5 432.7 518.3 431.3 519.7 428.2 M501.2 426.1 503.9 426.3 506.3 427.3 M495.6 428.7 494.3 431.2 494.1 433.9 494.1 436.6 M505.7 436.8 507.6 432.3 M505.7 436.8 502.6 437.8 499.7 439.2 496.3 439.2 M496.3 439.2 494.1 436.6 M507.6 432.3 506.8 427.9 M505.5 414.7 504 414.4 M504 414.4 503.4 417.2 502.4 419.9 503.1 423 501.1 425.4 M501.1 425.4 501.2 426.1 M510.6 419.9 508.7 422.1 507.2 424.5 506.3 427.3 M496.2 415.5 497.6 417.9 499.3 420.1 499.8 423 501.1 425.4 M496.2 415.5 493.6 415.8 M493.6 415.8 491 417.4 M489.5 437.2 494.1 436.6 M508.5 441.6 506.3 439.7 505.7 436.8 M512.9 434.5 510.1 433.8 507.6 432.3 M496.6 441.2 496.3 439.2 M519.7 428.2 517.1 428.2 514.5 428.7 511.9 427.9 509.4 428.4 506.8 427.9 M483 403.3 485.5 403.3 488 403.2 M486.1 392.4 487.7 395.5 489.2 398.6 M489.2 398.6 488 403.2 M493.6 415.8 491.9 413.3 491.2 410.5 490.6 407.7 490.4 404.8 M490.4 404.8 488.2 403.4 M488 403.2 488.2 403.4 M504 414.4 500.6 412.2 M511.3 404.7 508.4 405.8 505.7 404.2 M505.7 404.2 504.3 407 502.4 409.5 500.6 412.2 M496.2 415.5 498 413.3 500.5 412.2 M490.4 404.8 493 405.2 495.6 405.8 M495.6 405.8 497.6 407.6 498.8 410.1 500.5 412.2 M500.5 412.2 500.6 412.2 M504 394.8 501.7 393.8 499.4 392.7 497.2 391.5 M497.2 391.5 495.8 394.2 494.2 396.9 M494.2 396.9 496.5 398.3 498.9 399.7 501.5 400.3 M506.9 392.7 504 394.8 M496 386.1 495.7 389 497.2 391.5 M489.2 398.6 492 398.8 494.2 396.9 M495.6 405.8 497.9 404.4 499.2 401.8 501.5 400.3" fill="none" stroke="#d6d5f3" stroke-width="2.4" stroke-linecap="round" stroke-linejoin="round" opacity="1"/>
<path d="M382.3 473.6 385.2 473 M385.2 473 386.2 473.7 M448.8 473.7 445.9 473.4 443 472.6 M428.1 475 431.7 474.3 M435 477.9 431.7 474.3 M428.1 475 424.5 476.7 421.8 474.1 418.8 473 M478.3 475.2 478.1 474.6 M478.3 475.2 481.6 475.9 484.7 474.1 488 474.5 M488 474.5 489.7 471.9 M489.7 471.9 488.7 469.5 488.1 466.9 485.8 465.3 M477.9 464.3 477.9 466.9 477.2 469.5 477.7 472.1 478.1 474.6 M465 429.4 461 428.1 M455.7 439.1 456.9 436.1 455 434 453.5 431.7 M455.7 439.1 457.9 441.1 460.7 442 M460.7 442 461.3 441.4 M461 428.1 458.6 429.7 456.1 430.8 453.5 431.7 M454.6 455.6 455.3 452.2 456.6 449 M454.6 455.6 451.9 454.8 449.2 454.4 446.4 455.3 443.7 454.5 M456.6 449 453.8 448.3 450.9 448.6 448 447.9 445.1 448.3 M443.7 454.5 443.7 451.3 445.1 448.3 M454.7 455.8 455.9 458.4 458.1 460.1 M454.7 455.8 452.1 457.4 449.5 459 448.6 462.1 M458.1 460.1 456.2 462.1 454.6 464.3 453.4 466.7 M460.1 447.1 460.5 449.7 460.5 452.4 462 454.8 462.3 457.5 M460.1 447.1 456.6 449 M462.3 457.5 461.9 459.1 M461.9 459.1 458.1 460.1 M454.6 455.6 454.7 455.8 M443.1 458.1 441.8 460.5 441 463.1 440.2 465.8 M443.1 458.1 442.6 456.4 M442.6 456.4 439.8 455.7 436.8 455.8 433.9 455.8 M433.9 455.8 434.3 458.5 434.2 461.2 433.6 463.9 434.1 466.6 M434.1 466.6 437.3 467.2 440.2 465.8 M443 472.6 441.2 469.3 440.2 465.8 M450.2 473.7 452.1 471.4 453.6 468.9 M448.6 462.1 446.4 459.4 443.1 458.1 M443.7 454.5 442.6 456.4 M380.2 351.9 382.4 349.4 385.8 349.7 388.3 348 M458.2 422.6 455 420.9 M462.1 412.1 459.8 413.5 457.1 413.5 454.6 414.2 M462.1 412.1 462.1 415.6 463.1 419 M454.6 414.2 455.9 417.5 455 420.9 M461 428.1 459.7 425.3 458.2 422.6 M451.1 430.4 453.5 431.7 M451.1 430.4 451.7 427.4 452 424.2 454.1 421.6 M454.1 421.6 455 420.9 M393.2 471.1 395.8 472.2 M393.2 471.1 392.5 468.3 392.2 465.4 391.2 462.7 M395.8 472.2 397.3 470.1 398 467.7 399.3 465.5 400.6 463.3 M391.2 462.7 393.8 462.5 396.3 461.9 398.8 461 M398.8 461 400.6 463.3 M385.2 473 385.2 469.7 384.5 466.5 M386.2 473.7 389.8 472.7 393.2 471.1 M384.5 466.5 387.4 464.3 390.5 462.4 M390.5 462.4 391.2 462.7 M400.5 478.1 402.6 476.2 403.1 473.3 404.8 471.2 405.2 468.4 406.9 466.2 M410.9 469.8 408.6 468.4 406.9 466.2 M418.8 473 418.6 471.7 M418.6 471.7 415.9 471.7 413.5 470.3 410.9 469.8 M395.8 472.2 397.4 474.2 399.8 475.5 400.5 478.1 M406.9 466.1 406.9 466.2 M406.9 466.1 404.3 463.6 400.6 463.3 M410.7 461.4 413.6 462.2 416.4 463.9 419.6 463.9 M418.6 471.7 420.6 469.1 421.2 465.9 M419.6 463.9 421.2 465.9 M405.4 434.3 404.7 431 404.4 427.6 M405.4 434.3 407.9 435.2 410 436.9 412.3 438.1 M404.4 427.6 407.4 428.2 410.1 426.8 M410.1 426.8 414 428.1 M414 428.1 413.8 431.2 415 434.3 414.1 437.4 M414.1 437.4 412.3 438.1 M423.5 432.4 421.4 434.8 418.6 436.4 416.8 439.1 M423.5 432.4 420.3 431.5 418.2 428.5 414.9 427.9 M414.9 427.9 414 428.1 M416.8 439.1 414.1 437.4 M462.3 370.2 459.6 372.1 457.4 374.5 454.7 376.3 M452.7 375 454.7 376.3 M452.7 375 451.6 371.8 450.2 368.8 M450.2 368.8 452.2 366.6 M462.1 368.7 459.8 367.1 457.4 366.4 454.6 367.3 452.2 366.6 M503 448.5 505.1 451.2 M493.2 453.8 493.2 453.6 M493.2 453.8 495.6 456.2 498.1 458.4 M505.1 451.2 504.8 453.7 M498.1 458.4 500.3 456.8 503.4 456.4 504.8 453.7 M478.1 474.6 475 473.9 472.3 472.2 469.2 471.3 M469.2 471.3 471.4 469.2 473.1 466.7 475 464.3 M493.2 453.6 490 451.8 488.4 448.4 M460.9 445.8 464.1 447.2 467.3 448.6 M460.9 445.8 460.7 442 M461.3 441.4 464.5 440.1 467.9 440.1 M467.9 440.1 472.8 441.1 M472.8 441.1 474 443.5 M474 443.5 471.6 445 469.7 447.1 467.3 448.6 M475 464.3 471.4 463.5 467.9 462.6 M467.9 462.6 468.7 460.3 469.8 458 469.9 455.4 470.9 453.1 M478.8 453.6 476.1 454.1 473.5 453.8 470.9 453.1 M460.1 447.1 460.9 445.8 M462.3 457.5 465.4 456.6 466.8 453.4 469.7 452.3 M467.3 448.6 469.7 452.3 M461.9 459.1 463.9 461.6 466.9 462.8 M467.9 462.6 466.9 462.8 M470.9 453.1 469.7 452.3 M447.9 430.3 446.4 432.7 M447.9 430.3 446 427.7 443.9 425.2 M443.9 425.2 440.5 425.9 438.2 428.4 435.6 430.6 M455.7 439.1 452.8 440.7 449.5 441.2 M451.1 430.4 447.9 430.3 M446.4 432.7 446.4 435.9 448.2 438.5 449.5 441.2 M445.1 448.3 444.5 446 M449.5 441.2 447 443.7 444.5 446 M452.7 375 449.6 376.1 446.9 378 444.1 379.8 M446.8 391.8 446.5 391.8 M446.5 391.8 445.6 389.3 444.9 386.7 444.2 384.2 443.4 381.6 M444.1 379.8 443.8 379.8 M443.8 379.8 443.4 381.6 M455 401.6 451 403.6 M455 401.6 455.5 398.4 455.8 395.3 M446.5 391.8 444 394.1 M444.3 398.5 444 394.1 M438.3 388 440.1 385.9 442 384 443.4 381.6 M438.3 388 437.8 391.2 M444 394.1 440.9 392.7 437.8 391.2 M450.2 368.8 447.7 369.5 445 368.5 442.6 369.8 M440.4 376.1 442 378 443.8 379.8 M440.4 376.1 440.7 374.3 M440.7 374.3 442.6 369.8 M438.3 388 437.5 385.4 434.8 383.9 434.4 381 M434.4 381 434.8 378.5 M433.9 429 433.8 425.7 433.2 422.4 432.6 419.2 M426.1 429.7 424.9 427.3 424.6 424.6 424 422.1 424.5 419.3 M432.6 419.2 429.9 418.7 427.2 418.8 424.5 419.3 M426.4 436.1 424.2 432.4 M424.2 432.4 426.1 429.7 M414.9 427.9 417.3 425.8 418.8 422.9 421.2 420.6 M410.1 426.8 410.4 423.7 411.3 420.7 411.8 417.7 M421.2 420.6 417.9 420 415.1 418.3 411.8 417.7 M423.5 432.4 424.2 432.4 M424.5 419.3 424 419.1 M421.2 420.6 424 419.1 M400.5 421.3 401.7 424.4 403.6 427.2 M403.6 427.2 404.4 427.6 M400.6 420.9 402.8 418.6 405.9 418.5 408.6 417.3 411.2 416.2 M411.8 417.7 411.2 416.2 M400.5 421.3 397.4 421.9 394.2 421.9 391 422.3 M403.6 427.2 401.4 428.5 399.3 430 397.3 431.5 M397.3 431.5 395.1 429.5 392.4 428.2 390.2 426.2 M391 422.3 389.6 423.6 M390.2 426.2 389.6 423.6 M383.4 415 383.7 417.6 385 420.2 383.8 422.9 M389.6 423.6 386.7 423.2 383.8 422.9 M380 413.2 383.4 415 M383.8 422.9 381.6 424.2 M400.6 420.9 399.1 418.3 400 415.5 M400 415.5 401.9 412.8 404.9 411.7 407.5 410 M407.5 410 411.5 411.2 M424.5 410.4 422.2 408.9 421.2 406.2 419.3 404.3 M424.5 410.4 424.4 414.1 423.5 417.8 M417.4 404.3 415.1 405.9 415.2 409.3 412.7 410.6 M424 419.1 423.5 417.8 M412.7 410.6 411.5 411.2 M426.7 462.9 423.1 465.5 M426.7 462.9 429 464.3 432 464.5 433.8 466.8 M423.1 465.5 425.5 467.3 427.2 469.9 429.9 471.2 431.7 473.7 M433.8 466.8 433.7 470.6 431.7 473.7 M434.1 466.6 433.8 466.8 M430.3 454.5 429.5 457.5 427.5 460 426.7 462.9 M431.7 474.3 431.7 473.7 M421.2 465.9 423.1 465.5 M384.5 466.5 382.4 464.4 379.5 463.9 M390.5 462.4 389.9 459.8 388.4 457.6 387 455.4 M379.5 463.9 382.2 462.6 382.7 459.2 385.3 457.6 387 455.4 M399.7 456.2 399.1 453.5 M399.1 453.5 400.5 450.4 403.1 448.1 M403.1 448.1 405.1 450 406.8 452.2 409.1 453.7 411.5 455.1 M397.3 431.5 396 433.9 M405.4 434.3 404 436.8 403.6 439.6 402.5 442.1 M402.5 442.1 400.5 440.3 399.9 437.5 397 436.4 396 433.9 M407.3 444 403.5 444.7 M403.5 444.7 402.7 443.7 M402.5 442.1 402.7 443.7 M515.2 445.4 512.8 442.4 M512.8 442.4 512.9 439.5 514.8 437.4 M511.3 451 512.3 453.8 514 456.2 516.3 458.1 M511.3 451 513 448 515.2 445.4 M503 448.5 504.8 446.1 507.7 444.7 508.5 441.6 M511.3 451 508.2 450.8 505.1 451.2 M508.5 441.6 512.8 442.4 M516.3 458.1 516.3 458.4 M467.9 440.1 468.4 437.3 469 434.5 470.2 431.9 471.2 429.3 M472.8 441.1 473.8 438.1 474.9 435.1 476.1 432.2 M476.1 432.2 474.8 431.1 M471.2 429.3 474.8 431.1 M471.2 429.3 469.4 427.8 M516.3 458.4 513.2 459.4 510.5 461.4 M510.5 461.4 510.9 464 512.8 465.9 512.7 468.6 514.1 470.7 515 473.1 M504.8 453.7 506.3 456.1 506.3 459.1 507.9 461.4 M510.5 461.4 507.9 461.4 M493.9 463.8 494.7 467.2 495.6 470.6 M493.2 453.8 490.4 456.7 M498.1 458.4 498.4 460.3 M507.9 461.4 506.5 463.8 504 464.9 M498.4 460.3 501.6 462.1 504 464.9 M495.6 470.6 498 471.6 500.5 472.4 M462.4 470.9 463.4 470.8 M453.6 468.9 456.6 469.3 459.5 470 462.4 470.9 M466.9 462.8 466.1 465.6 464 467.9 463.4 470.8 M469.2 471.3 465.4 472.5 M487.1 448 486.4 445.2 486.3 442.3 487 439.5 M487.1 448 484.7 448.7 482.3 449.4 479.9 450.2 M478.2 445.9 479.9 450.2 M478.2 445.9 480.9 443.7 481.5 440.3 M481.5 440.3 484.3 439.9 487 439.5 M488.4 448.4 487.1 448 M478.8 453.6 479.9 450.2 M474 443.5 478.2 445.9 M476.9 432.3 476.1 432.2 M476.9 432.3 477.9 435.3 479.1 438.1 481.5 440.3 M463.4 366.3 461.6 364.3 460.6 361.7 458.2 360.2 456.8 357.9 M465.6 356 462.5 356.1 459.7 357.2 456.8 357.9 M452.2 366.6 452.8 363.5 452.4 360.5 452.1 357.5 M452.1 357.5 453.3 356.8 M456.8 357.9 453.3 356.8 M465.6 356 464.3 351.5 M464.3 351.5 461.8 349.9 460.9 347.1 M453.3 356.8 454.2 354.9 M454.2 354.9 456.9 353.1 457.4 349.9 M454.2 354.9 452 352.7 451.7 349.6 450.3 347 449 344.4 M428.5 452.8 425.4 453.8 422.7 455.5 419.7 456.4 M420 444.9 417.7 446.1 415.9 448 M419.7 456.4 417.3 454.4 414.5 453.1 M414.5 453.1 413.2 450 415.9 448 M425.8 444.4 425.1 445.4 M430.3 454.5 429.9 454 M419.6 463.9 419.6 461.4 420 458.9 419.7 456.4 M429.9 454 428.5 452.8 M411.5 455.1 414.5 453.1 M403.5 444.7 403.1 448.1 M444.5 446 443 444.8 M444.2 410.5 442.6 412.8 440.2 414 437.2 414.4 435.5 416.5 M444.2 410.5 446.9 410.4 449.4 411.1 M449.4 411.1 449.5 411.2 M449.5 411.2 448.7 414 447.5 416.7 445.2 418.8 444.5 421.7 M443.8 422.2 440.9 420.7 438.2 418.8 435.3 417.3 M443.8 422.2 444.5 421.7 M435.3 417.3 435.5 416.5 M444.3 398.5 442.5 400.6 440.1 402 438 403.7 M438 403.7 439.8 406.2 441.9 408.4 444.2 410.5 M455 401.6 457.9 404.1 461.7 404 M454.6 414.2 452.2 412.5 449.5 411.2 M461.7 404 463.6 406.5 464.6 409.5 M454.1 421.6 450.9 422.6 447.7 421 444.5 421.7 M443.9 425.2 443.8 422.2 M434.2 411.5 435.7 409.1 436.3 406.3 437.5 403.7 M434.2 411.5 431.4 409.9 428.5 408.7 M428.5 408.7 428.2 406 429.5 403.6 M429.5 403.6 433.2 401.1 M433.2 401.1 435.9 401.5 437.5 403.7 M438 403.7 437.5 403.7 M435.5 416.5 434.2 414.2 434.2 411.5 M419.3 404.3 422.3 401.9 M422.3 401.9 426 402.3 429.5 403.6 M437.8 391.2 434.5 392.7 430.8 393 M430.8 393 432.1 395.5 432.8 398.3 433.2 401.1 M429.9 387.2 428.3 384.3 426.5 381.4 M426.5 381.4 423.4 383.7 421.8 387.2 M434.4 381 432.8 383 431 384.9 429.9 387.2 M434.8 378.5 432.6 377.3 430.1 376.7 M426.5 381.4 426.2 378.8 M430.1 376.7 426.2 378.8 M420.1 385.4 421.8 387.2 M420.1 385.4 420.2 382.6 418.9 380 418.7 377.3 M426.2 378.8 423.7 378.1 421.2 377.6 418.7 377.3 M381.9 433.1 384.8 434.6 387.9 435.7 390.4 437.9 M382.1 431.2 385.4 431.3 388.5 430.3 M388.5 430.3 390.3 433.2 391.4 436.4 M391.4 436.4 390.4 437.9 M396 433.9 393.4 434.7 391.4 436.4 M406 401 409 401.2 411.8 402.1 414.6 402.9 417.3 404.2 M406 401 405 398.1 405.7 395.2 M405.7 395.2 408.9 391.7 M408.9 391.7 411.3 392.6 413.5 394.1 M413.5 394.1 413.7 396.9 415 399.3 416.3 401.7 417.3 404.2 M404.6 404.8 406 401 M404.6 404.8 406.8 407 407.5 410 M417.4 404.3 417.3 404.2 M399.9 405.1 404.6 404.8 M399.9 405.1 399 402 398.8 398.8 397.9 395.8 M397.9 395.8 400.6 396.3 403.1 394.8 405.7 395.2 M420.1 385.4 417 385.8 414.5 387.6 411.4 387.9 408.6 389.2 M424 391.7 421.1 390.9 418.4 391.4 415.9 392.8 413.5 394.1 M390.2 386.5 393 387.6 396 387.8 M396 387.8 396.2 391.6 395.6 395.3 M392.7 394.9 395.4 395.3 M395.6 395.3 395.4 395.3 M384.1 451.4 386.8 453.5 M384.1 451.4 382.5 448.4 M392.3 451.8 394.1 449.2 392.7 446 394.1 443.4 M392.3 451.8 389.6 453 386.8 453.5 M382.7 445 385.1 443.2 387.5 441.6 390.1 440.1 M382.7 445 382.5 448.4 M390.1 440.1 391.8 442 394.1 443.4 M387 455.4 386.8 453.5 M399.1 453.5 395.9 452 392.3 451.8 M402.7 443.7 399.8 443.1 397 443.2 394.1 443.4 M390.4 437.9 390.1 440.1 M523.3 364.5 520.7 363.8 518.4 362.3 515.6 362.1 513.1 361.1 510.6 359.9 M518.6 367.3 515.9 366 512.8 368 510.4 364.6 507.3 365.8 M510.6 359.9 507.3 362.6 M507.3 365.8 507.3 362.6 M513.8 376.6 510 374.7 M513.8 376.6 515.3 374.4 516.8 372.3 517.2 369.5 518.6 367.3 M505.8 368.4 507.5 370.3 509 372.4 510 374.7 M505.8 368.4 507.3 365.8 M510 351.3 511.3 353.6 512.4 355.9 M510 351.3 512.5 350.3 514.4 348.4 516.3 346.5 M510.6 359.9 512.4 355.9 M497.6 353.2 498.9 349 M497.6 353.2 499 356.7 M499 356.7 502.8 358 M502.8 358 505.1 355.8 506.9 353 509.6 351.3 M504 346.6 506.2 349.6 509.6 351.3 M487.2 348 489.5 350.7 491.9 353.2 M491.9 353.2 494.8 354 497.6 353.2 M497.9 358.4 498.1 361.1 497.5 363.6 496.9 366.2 M496.9 366.2 499 370.4 M505.8 368.4 502.4 369.4 499 370.4 M507.3 362.6 504.9 360.4 502.8 358 M510 351.3 509.6 351.3 M497.9 358.4 495.6 359.4 493.1 360.1 490.5 360.4 488.2 361.4 M496.9 366.2 493.9 364.9 490.7 364.4 487.6 363.5 M488.2 361.4 487.6 363.5 M491.9 353.2 490.5 356.1 487.6 357.6 M488.2 361.4 487.6 357.6 M459.2 384.9 461.5 383.5 463.2 381.3 M460.9 389.6 463.9 391 466.5 393 M466.5 393 470.8 392.5 M470.8 392.5 470.8 388.7 472 385.1 M461.7 404 464 401.2 465.3 397.8 M465.3 397.8 466.5 393 M481.7 390.6 479.3 391.5 477.2 393.1 M481.7 390.6 482.6 387.5 481.1 384.5 M474 393.9 477.2 393.1 M474 393.9 470.8 392.5 M481.1 384.5 479.5 381.5 M465.3 397.8 467.7 400 470 402.2 M470 402.2 468.2 404.5 466.9 407.1 465.3 409.6 M474 393.9 474 397.3 474.4 400.7 M470 402.2 474.4 400.7 M477.2 393.1 478 396 479.8 398.3 481.3 400.9 483 403.3 M474.4 400.7 475.5 403.1 477 405.2 M483 403.3 479.7 403.5 477 405.2 M502.8 471.2 505.4 472 507.9 473.3 510.8 473.6 513.3 474.9 M500.5 472.4 500.6 472.4 M515 473.1 513.3 474.9 M402.7 348.7 404.5 348.8 M402.7 348.7 402.1 351.5 400.3 353.7 399.3 356.4 M399.3 356.4 401.8 357.5 404.1 358.8 406.2 360.6 M406.2 360.6 410.7 358.8 M404.5 348.8 406.9 350.8 407.1 354.1 408.5 356.7 410.7 358.8 M406.2 360.6 406.1 363.5 404.9 366.1 M404.9 366.1 406.5 368.5 M415.6 359.3 410.7 358.8 M394.8 397.5 396 400.5 396.2 403.6 396.7 406.7 M396.7 406.7 393.7 409.9 M395.4 395.3 394.8 397.5 M399.9 405.1 396.7 406.7 M397.9 395.8 395.6 395.3 M400 415.5 397.3 414.4 396.2 411.3 393.7 409.9 M405.7 374.6 407.6 376.8 409.9 378.6 M405.7 374.6 402.8 375.2 399.9 374.9 M398.7 384.9 401.6 385.7 404.6 386.3 407.7 386.6 M398.7 384.9 398.1 381.6 396.1 379 M396.1 379 397.2 376.2 399.9 374.9 M406.5 368.5 405.5 371.5 405.7 374.6 M418.6 370.8 418.5 373.6 417.3 376.1 M417.3 376.1 414.7 376.6 412.4 377.7 409.9 378.6 M408.6 389.2 407.7 386.6 M418.7 377.3 417.3 376.1 M388 385.6 388.2 382.1 388.1 378.6 M388.1 378.6 385.5 377.7 383.1 376.3 M396.1 379 392.7 379.5 389.4 378.2 M388.1 378.6 389.4 378.2 M383.1 376.3 384.4 373.1 384.3 369.7 M379.5 361 382.4 362 385 363.4 387.8 364.5 M384.3 369.7 385.9 367 387.8 364.5 M400.6 365.8 398.4 367 396.2 368.4 M400.6 365.8 400.3 362.7 399.3 359.8 398.3 356.9 M396.2 368.4 393.4 367.4 M393.4 367.4 390.2 363.7 M390.2 363.7 391.2 360.7 M391.2 360.7 393.2 358 M393.2 358 395.8 357.7 398.3 356.9 M404.9 366.1 400.6 365.8 M399.9 374.9 398.7 371.3 396.2 368.4 M399.3 356.4 398.3 356.9 M389.4 378.2 390.3 375.5 390.9 372.6 392.1 370 393.4 367.4 M387.8 364.5 390.2 363.7 M380.6 353.9 383.1 354.7 384.3 357.5 387 358 389 359.5 391.2 360.7 M388.5 348.1 389.8 350.5 390.9 353 391.9 355.6 393.2 358 M430.1 376.7 430.3 374.1 428.6 371.8 428.6 369.2 M418.6 370.8 421.9 370.1 425 368.6 M425 368.6 428.6 369.2 M440.7 374.3 437.4 373.8 435.4 371 432.2 370.3 429.7 368.4 M429.7 368.4 428.6 369.2 M442.6 369.8 441.8 368.2 M429.7 368.4 430.5 365.7 432.7 364 M441.8 368.2 439.1 366.1 435.6 365.8 432.7 364 M424.1 360 426.9 360.5 429.6 361.3 432.5 361.6 M424.1 360 423.2 363 424.6 365.8 425 368.6 M432.7 364 432.5 361.6 M480.6 351.3 480.5 352.5 M480.6 351.3 477.8 347.6 M480.5 352.5 478.7 355.4 476.6 358.1 M470.5 356.3 471.6 352.7 471.4 349 M470.5 356.3 473.7 356.9 476.6 358.1 M487.2 348 484.4 350.6 480.6 351.3 M487.6 357.6 485.4 355.7 482.3 355 480.5 352.5 M467 357.1 470.5 356.3 M464.3 351.5 466.7 350.9 469 349.7 471.4 349 M477.9 364.4 480.5 365.8 M481.1 384.5 483.5 383.4 486.2 383.9 488.6 382.6 491.2 382.3 M491.2 382.3 490.5 378.9 489.8 375.4 M489.8 375.4 487.6 376.9 484.9 376.9 482.5 377.5 479.9 378 M490.3 374.6 489.8 375.4 M490.3 374.6 489.1 372.4 488.6 369.7 486.9 367.7 485.4 365.6 M485.4 365.6 480.5 365.8 M476.6 358.1 476.8 361.4 477.9 364.4 M485.4 365.6 487.6 363.5 M480 419.7 476.6 418.4 473 418.6 M480 419.7 482.3 417 484 413.8 M484 413.8 481.1 412.3 478.4 410.5 475.4 409 M473 418.6 472.9 415 471.5 411.8 M474.8 431.1 476.3 428.6 477 425.6 480 423.9 480.7 420.9 M480.7 420.9 480 419.7 M477 405.2 475.4 409 M415.1 350.6 416.4 352.8 414.8 355.8 416.9 357.9 M421.4 357.4 423.7 354.6 426.4 352 M421.4 357.4 416.9 357.9 M425.5 349.6 426.4 352 M410.4 347 412.9 348.6 415.1 350.6 M415.6 359.3 416.9 357.9 M424.1 360 421.4 357.4 M448.8 356.6 446.2 358.3 443.1 358.7 M448.8 356.6 447 354.1 446.7 351 445.5 348.3 M443.1 358.7 441 356.6 438.4 355.6 435.5 355.2 M437.4 347.5 437.2 351 434.9 353.5 M434.9 353.5 435.5 355.2 M452.1 357.5 448.8 356.6 M441.8 368.2 442.1 365 443 361.9 443.1 358.7 M426.4 352 429.3 352.1 432.1 352.8 434.9 353.5 M496.8 372.6 498.2 371.7 M513.8 376.6 515 379 M515 379 513.8 383.7 M490.3 374.6 493.8 374.4 496.8 372.6 M491.2 382.3 493.6 385.6 M493.6 385.6 496 386.1 M481.7 390.6 486.1 392.4 M493.6 385.6 491 386.5 489.7 389 488 390.9 486.1 392.4 M513.8 383.7 515.7 385.9 M506.9 392.7 509.8 393.7 512 395.9 M512 395.9 514.8 395.8 516.6 393.4 519.2 393.1 M515.2 407 512.7 405.9 M512.7 405.9 511.3 404.7 M511.3 404.7 510.8 401.7 512.8 398.9 512 395.9 M516.4 413.7 516.2 410.3 515.2 407 M516.3 414.5 513.4 416.4 510.8 418.7 M521.8 427.6 519.1 426.7 517.1 424.8 514.5 423.9 512.8 421.5 510.6 419.9 M510.8 418.7 510.6 419.9 M516.4 413.7 516.3 414.5 M505.5 414.7 508.1 416.7 510.8 418.7 M476.9 432.3 479.9 432 482.6 430.6 M487 439.5 489.5 437.2 M489.5 437.2 487 435.2 485.4 432.2 482.6 430.6 M480.7 420.9 483.1 423.4 485.9 425.3 M482.6 430.6 484.6 428.1 485.9 425.3 M484.8 413.6 487.8 415.6 491 417.4 M484.8 413.6 484 413.8 M514.8 437.4 512.9 434.5 M512.9 434.5 515.5 432.7 518.3 431.3 519.7 428.2 M501.2 426.1 503.9 426.3 506.3 427.3 M495.6 428.7 494.3 431.2 494.1 433.9 494.1 436.6 M505.7 436.8 507.6 432.3 M505.7 436.8 502.6 437.8 499.7 439.2 496.3 439.2 M496.3 439.2 494.1 436.6 M507.6 432.3 506.8 427.9 M505.5 414.7 504 414.4 M504 414.4 503.4 417.2 502.4 419.9 503.1 423 501.1 425.4 M501.1 425.4 501.2 426.1 M510.6 419.9 508.7 422.1 507.2 424.5 506.3 427.3 M496.2 415.5 497.6 417.9 499.3 420.1 499.8 423 501.1 425.4 M496.2 415.5 493.6 415.8 M493.6 415.8 491 417.4 M489.5 437.2 494.1 436.6 M508.5 441.6 506.3 439.7 505.7 436.8 M512.9 434.5 510.1 433.8 507.6 432.3 M496.6 441.2 496.3 439.2 M519.7 428.2 517.1 428.2 514.5 428.7 511.9 427.9 509.4 428.4 506.8 427.9 M483 403.3 485.5 403.3 488 403.2 M486.1 392.4 487.7 395.5 489.2 398.6 M489.2 398.6 488 403.2 M493.6 415.8 491.9 413.3 491.2 410.5 490.6 407.7 490.4 404.8 M490.4 404.8 488.2 403.4 M488 403.2 488.2 403.4 M504 414.4 500.6 412.2 M511.3 404.7 508.4 405.8 505.7 404.2 M505.7 404.2 504.3 407 502.4 409.5 500.6 412.2 M496.2 415.5 498 413.3 500.5 412.2 M490.4 404.8 493 405.2 495.6 405.8 M495.6 405.8 497.6 407.6 498.8 410.1 500.5 412.2 M500.5 412.2 500.6 412.2 M504 394.8 501.7 393.8 499.4 392.7 497.2 391.5 M497.2 391.5 495.8 394.2 494.2 396.9 M494.2 396.9 496.5 398.3 498.9 399.7 501.5 400.3 M506.9 392.7 504 394.8 M496 386.1 495.7 389 497.2 391.5 M489.2 398.6 492 398.8 494.2 396.9 M495.6 405.8 497.9 404.4 499.2 401.8 501.5 400.3" fill="none" stroke="#6f6ab2" stroke-width="0.6" stroke-linecap="round" stroke-linejoin="round" opacity="1" stroke-dasharray="1.6 0.9"/>
</g>
<path d="M396.2 405.2l-1.9 0.5 M400.5 409.7l-0.4 1.3 M405.9 413.8l0.3 2 M404.7 397.9l-1.1 0.8 M404.6 423.8l-1.2 1.5 M399.4 406l-0.8 1.7 M401.8 388.8l-1.7 0.9 M394.4 418.1l-1 1.3 M401.5 430.3l-0.2 0.7 M403.8 421.4l0.6 1.8 M397.7 424.8l-0.8 1 M404.4 395.1l-0.6 1.2 M404.6 409l-0.8 1.7 M397.8 400.4l1.4 1.2 M405.6 409.1l-1.4 0.5 M398.6 397.8l1.7 0.8 M399.3 401.4l1.4 1 M399.1 402.7l0.5 0.3 M400.1 399.3l-0.8 0.8 M407.3 404.8l0.7 0.7 M402 413l1 0.4 M398.2 418.7l1.6 0.3 M404.5 406.5l-0.2 0.7 M398.4 387l0.7 0.2 M397 386l1.5 1.1 M399.3 379.9l-1.1 0.2 M399.7 387.3l0.8 0 M399.4 429.6l1 0.7 M399.1 431.7l-0.7 0.5 M406.7 407.5l-1 0.1 M395.6 406.7l1 1.1 M399.1 406.4l-1.6 1 M402.3 409.4l0.5 1.8 M400.9 394.4l0.9 0.7 M397.7 429.2l0.4 0.5 M403.9 399.1l1.7 0.3 M395.7 409l0.6 1.1 M397.3 390.8l0.5 1.3 M406 394.4l-1 0.2 M396.8 426.4l0.5 0.4 M399.6 408.4l1.6 0.6 M403.5 419l0.4 0.9 M400.8 403.3l1.3 0.9 M402.6 416.1l-0.5 1.8 M394.8 403.7l1.5 0.5 M400.9 428.8l-1.2 0.7 M396.7 411.6l1.5 0.2 M402 383.8l0.2 1.2 M405.8 393.4l0 1.9 M397.6 402.5l1.7 0 M402.5 384.3l-1.7 0.7 M396.9 398.8l-0.8 0.3 M400.4 397.1l0 0.9 M402.3 396.5l-0.9 0.2 M401.3 384.3l-1 0.6 M404.4 413.3l-0.7 0.1 M401 408.8l-1.7 0.4 M400.2 398.7l-1.4 0.9 M401.2 387.7l0.4 0.8 M398.3 392.3l-1.2 1.1 M403.8 398.6l-0.9 1.6 M398.7 425.1l0.5 0.9 M404 417.8l0.6 0 M404.9 413.1l1.1 0.6 M399.1 415.5l1.3 0.4 M398.5 411l1.7 0.4 M403.2 396l-0.1 1 M394.2 415.1l-0.6 1.8 M405.1 423l-0.9 0.1 M404.8 412l-1 1.2 M399.2 419.9l-0.7 0.2 M403.4 392.6l-0.8 0 M403.9 404.4l1.2 0.8 M397.1 386.8l-0.3 0.5 M398.4 408.8l-0.2 1.7 M403.9 427.1l1.6 0.3 M398.8 427.7l-1.2 0.5 M403.5 408.3l-0.7 0.5 M395.1 412.6l0.9 0.3 M397.6 418.8l-0.2 1.4 M400.5 416.1l1.3 0.6 M395.5 418.2l0.5 0.8 M402.7 396.1l1.3 1.4 M395.2 407l-0.3 1.7 M395.3 402.8l-0.5 1.3 M396.6 419.6l-0.3 1.3 M400.1 412.1l-0.4 0.6 M397 389l0.8 0.5 M404 426.5l1.6 0.3 M400.2 402.9l-0 1 M403.7 383.8l1.3 0.7 M398.6 404.3l0.6 0.4 M398.8 384.5l-0.6 0.1 M402.1 409.6l-0.8 0.2 M398.8 390.4l1.4 1.2 M401.5 389.6l0.8 1.2 M403.6 406.2l0.6 0.3 M400.2 431.4l-1.1 0.7 M405.9 418.3l0.9 1 M399.9 402.5l-1.6 0.6 M399.1 424l1 0.9 M395.9 425.2l-0.3 0.7 M399.2 385.5l0.6 0.2 M403.6 416.2l-0.7 0.5 M401.7 396.1l-0.1 0.9 M400.9 389.7l0.4 1.4 M400.7 431.5l1.2 0.3 M394.1 414.7l-1.4 1.1 M402.6 418.2l0.5 0.4 M397.4 399.5l0.9 1.6 M403.6 425.2l0.1 1.8 M396.9 408.4l0.5 0.6 M406.1 396l-0.1 1.9 M400.2 419.4l1.1 1.3 M401.4 400.5l0.8 0.5 M401.1 428.1l0.7 0 M400.8 414l-0.7 0.2 M401.4 415.7l1.3 0.7 M397 426.5l-1 1.7 M403.2 397.6l-0.3 1.7 M403.3 429.1l0.9 0.5 M400.7 408.4l1.6 0.4 M397.8 409.8l-1 1.3 M397.4 405l0.2 0.6 M407.3 403.3l0.7 0.9 M401.6 404.4l1 0.6 M395.2 411.8l-1.6 0.9 M399.3 425.5l0.1 0.9" stroke="#b0ade1" stroke-width="0.7" stroke-linecap="round"/>
<path d="M433.9 476.1h0 M423.1 473.8h0 M488.8 473.3h0 M488.7 468.7h0 M463.7 430h0 M465.8 429.5h0 M457.2 439h0 M460.9 441.5h0 M453.7 430.8h0 M458.4 428.8h0 M453.1 455h0 M452.5 448.5h0 M455.9 447.9h0 M448.2 448.1h0 M451 448.2h0 M446.9 448.8h0 M445 450.4h0 M444.6 450.2h0 M457.3 461.9h0 M460.2 451.6h0 M440.8 463.3h0 M434 456.4h0 M434.5 457.6h0 M433.5 464.8h0 M434.3 460.2h0 M436.1 467.2h0 M388.9 349h0 M382.9 351.3h0 M454.8 417.1h0 M454.6 419h0 M460.1 425.9h0 M450.6 431h0 M451.5 430.8h0 M392.7 470.1h0 M399.6 464.3h0 M386.1 473.4h0 M392.7 471.6h0 M386.9 464.2h0 M403.4 470.3h0 M403.2 473.4h0 M402.3 473.9h0 M408.3 468.5h0 M401.7 463.6h0 M415.3 461.7h0 M420.8 468.4h0 M419.4 469.3h0 M419.7 465.4h0 M406.9 436h0 M414.8 430.4h0 M420.6 434.4h0 M414.9 428.4h0 M459.3 372.7h0 M461.9 370h0 M453.6 374.5h0 M453.7 375.1h0 M452.5 366.9h0 M457.9 368.3h0 M470 471.7h0 M469.7 470.7h0 M492.4 452h0 M462.1 447.6h0 M461.8 445.9h0 M470.7 440.5h0 M472.7 445h0 M468.4 462.8h0 M471.5 463.7h0 M470 463.1h0 M467.9 463.2h0 M469.8 456.2h0 M472.7 453.1h0 M467 449h0 M468.6 449.2h0 M467.6 450.2h0 M466 461.8h0 M463.6 461.2h0 M462.3 459.9h0 M464.6 460.7h0 M446.4 431.2h0 M446.8 432.9h0 M446.3 428.9h0 M454.4 440h0 M448.8 429.6h0 M449 430.9h0 M448.3 438.3h0 M448.3 376.9h0 M447.3 377.4h0 M449.4 377.8h0 M454.4 402.1h0 M452.8 403.4h0 M440.9 385.5h0 M442 384.3h0 M449.3 369.8h0 M448.9 370h0 M442.9 378.6h0 M442.7 378.3h0 M442.4 370.1h0 M438.7 386.3h0 M433.7 422.3h0 M425.9 427.8h0 M432 418.4h0 M426.7 435.9h0 M416.5 425.5h0 M421 421.2h0 M411.5 419.6h0 M411.2 421.7h0 M421.7 419.8h0 M421.1 420.3h0 M402.3 423.9h0 M394.5 422h0 M398.4 431.2h0 M403 428.7h0 M395.3 429.6h0 M393.3 428.6h0 M383.7 415.6h0 M383.3 417.4h0 M384.4 420.1h0 M386.5 423.1h0 M387.8 423.1h0 M383.5 423.9h0 M382.6 423.3h0 M401.5 413.5h0 M406.9 410.3h0 M403.5 413.4h0 M424 416.5h0 M425.4 464.8h0 M431.3 472.9h0 M433.1 469.2h0 M429.3 456.8h0 M387.8 455.6h0 M389.3 461.8h0 M384 458.5h0 M385.3 457.8h0 M385.7 456.4h0 M407.8 451.8h0 M405.6 451.3h0 M406.7 450.7h0 M403.2 441.2h0 M404.4 435.9h0 M404.8 435.2h0 M404.1 436.6h0 M406.4 443.6h0 M514.4 454h0 M513.3 452.6h0 M505 446.3h0 M504 445.3h0 M507.5 450.4h0 M468.7 433.3h0 M468.8 438.1h0 M472.9 439.4h0 M476.5 432.3h0 M514.6 472h0 M505.3 455h0 M505.1 455h0 M508.5 461.8h0 M493.1 455.1h0 M504.9 463.8h0 M498.2 471.6h0 M499.1 472.3h0 M498.7 471.9h0 M465.6 466.7h0 M467 472.2h0 M485.7 448.7h0 M478.2 448.1h0 M479.8 448.4h0 M479.6 449.9h0 M478.5 445.1h0 M473.6 444h0 M457.1 358.9h0 M460.2 357h0 M465.7 353.6h0 M465.4 354.6h0 M461.4 347.3h0 M461.8 347.1h0 M453.6 355.2h0 M453.7 355.2h0 M453 352.5h0 M425.9 454.2h0 M424 454.7h0 M425.6 454h0 M419.7 445.8h0 M417.4 455.7h0 M429.6 455h0 M419.8 463.7h0 M428.6 452.8h0 M413.9 453.3h0 M413.5 453.2h0 M444.1 411.1h0 M444.4 410.3h0 M444.3 410.8h0 M447.6 410.4h0 M439.4 419.6h0 M443 399.9h0 M441.2 406.6h0 M458.9 403.6h0 M455.6 401.5h0 M459.8 403.4h0 M450.9 411.6h0 M451.2 412h0 M449.4 411.4h0 M452.3 413.7h0 M453.8 422h0 M451.2 421.5h0 M430.5 409h0 M430.3 403.8h0 M436.7 402.5h0 M435.1 402.7h0 M435.3 413.9h0 M422.2 402.2h0 M419.6 403.9h0 M426.3 402.7h0 M434.6 392.2h0 M432 396.2h0 M428.9 383.9h0 M426.4 381.8h0 M430.5 385.5h0 M426.3 379.9h0 M419.6 382.6h0 M419.5 376.5h0 M422.7 377.6h0 M384.4 434.6h0 M387.2 436h0 M384.8 435.1h0 M390.5 438h0 M386.5 435.9h0 M382.3 430.9h0 M388.9 431.6h0 M417.1 403.2h0 M414.2 398.1h0 M405.3 402.4h0 M405.2 406.8h0 M400.1 405h0 M399.6 404.6h0 M417.9 385.3h0 M416.2 387.3h0 M395.9 388h0 M395.5 391.2h0 M383.4 450.6h0 M392.3 448.9h0 M382.7 445.3h0 M397.2 452.7h0 M396.1 453h0 M509.9 360.3h0 M512.3 361.3h0 M512.3 365.9h0 M508.7 365.4h0 M518.3 366.2h0 M506.3 362.5h0 M513.1 376.7h0 M507.5 372.1h0 M511.5 349.5h0 M515.4 347.7h0 M498.4 351h0 M498.5 354.5h0 M506.2 353.8h0 M496.9 352.8h0 M491.9 353h0 M497.3 353.9h0 M493.3 353.4h0 M498.3 353.9h0 M492.5 353.9h0 M497.6 359.9h0 M499 370.4h0 M504.6 360.1h0 M492.5 360.2h0 M492.5 364.8h0 M492.1 352.6h0 M461.7 390.2h0 M472.3 385.4h0 M465.2 398h0 M466.4 393.5h0 M480.9 387.8h0 M480.5 386.5h0 M482.8 389.6h0 M473.4 393.2h0 M466.6 400h0 M469.6 403.9h0 M476.8 403.5h0 M475.7 404.2h0 M483.8 403.2h0 M508.5 473.5h0 M505.5 471.7h0 M403 348.5h0 M402.9 349.7h0 M402.8 349h0 M405.8 360.4h0 M410 357.9h0 M409.5 356.9h0 M405.7 364.6h0 M413 359.3h0 M408.8 378.1h0 M408.8 376.7h0 M395.9 379.9h0 M397.6 381.9h0 M396.2 378.7h0 M405.9 368.9h0 M386.2 377.2h0 M383.7 376.3h0 M383.1 377.1h0 M395.6 379h0 M389.2 377.4h0 M383.5 375.3h0 M399.2 359.7h0 M393.8 366.9h0 M391.5 365.8h0 M392.8 367.1h0 M391.5 361.5h0 M390.1 361.8h0 M399.5 374.1h0 M398.8 373.3h0 M391.2 373.8h0 M388.6 364.6h0 M384.6 355.7h0 M383.9 356h0 M387.3 357.2h0 M388.5 348.7h0 M393.1 358.4h0 M421.4 369.2h0 M434.6 371.5h0 M439.4 367.4h0 M433.1 363.7h0 M430.3 360.7h0 M426 360.5h0 M423.2 364.7h0 M433.1 362.6h0 M477.1 357.5h0 M471.1 356.5h0 M470.6 357.3h0 M475.6 357.2h0 M473.2 357.6h0 M475.9 358.9h0 M483.8 350.2h0 M464.6 351.9h0 M489.3 383.1h0 M484.1 376.4h0 M486 375.9h0 M487.7 369.8h0 M480.1 366.4h0 M481.9 365.9h0 M485.1 366.7h0 M481.6 416.8h0 M482.7 415.8h0 M478.4 410.2h0 M484 413.4h0 M474.7 430.9h0 M474.6 430.2h0 M475.1 408.2h0 M416.6 356.3h0 M417.3 357.4h0 M415 351.3h0 M421.8 357.1h0 M423.3 356.1h0 M419.4 358.1h0 M424.6 351.4h0 M417.5 358.5h0 M443.5 358.6h0 M448.1 356.1h0 M446.6 350.6h0 M448.5 354.4h0 M441.7 357.6h0 M440.1 357.4h0 M435.7 353.1h0 M435.4 352.9h0 M448.3 356.8h0 M442.8 360.4h0 M442 362.5h0 M432.1 352.9h0 M497 371.8h0 M514.3 376.6h0 M514.7 378h0 M515.4 379.9h0 M490.1 374.4h0 M491.9 382.8h0 M486.7 391.5h0 M516.2 394.4h0 M516.4 393.7h0 M512.2 396.2h0 M510.4 420h0 M505.5 414.6h0 M481.8 431.3h0 M487.8 434.2h0 M483.6 431.9h0 M482.4 430h0 M485.9 414.9h0 M483.6 413.5h0 M513.7 434.9h0 M512.8 435h0 M516.3 432.6h0 M495.6 433.2h0 M510.9 421h0 M496.7 417.3h0 M496.3 415.2h0 M498.1 420.7h0 M490.7 436.9h0 M493.3 437.3h0 M508.3 431.1h0 M509.2 432.9h0 M509 433h0 M514.1 428.1h0 M511.5 428.2h0 M518.6 428.5h0 M506.7 426h0 M512.1 428.5h0 M483.5 402.8h0 M488.5 400.6h0 M490 403.7h0 M501.9 411.3h0 M496.3 407.9h0 M495.3 406.4h0 M499.6 393h0 M499.7 392h0 M506.1 393.7h0 M496.8 389.5h0 M500.4 401.5h0" stroke="#3e3878" stroke-width="1.15" stroke-linecap="round" opacity="1"/>
<path d="M448.8 441h0 M455.8 438.3h0 M449.3 440.3h0 M454.9 436h0 M455.4 437.1h0 M454.3 437h0 M452.4 435.4h0 M449.1 436.8h0 M454.5 440.7h0 M449.1 433.2h0 M408.8 369.8h0 M410.3 374.2h0 M404.6 376.3h0 M416.7 376.9h0 M416.9 377.3h0 M413.5 380.4h0 M498.6 430.5h0 M496.3 429.8h0 M497.9 428.5h0 M503.8 432.8h0 M494.3 434.8h0 M500.6 435h0 M398.2 451.6h0 M399.9 449.6h0 M398.6 455.4h0 M405.9 449.5h0 M403.1 451h0 M411.3 411.1h0 M431.1 409.9h0 M461.8 403.9h0 M390.9 462.6h0 M512 396.9h0 M396.7 406.6h0 M406 465.7h0 M481.4 365.7h0 M454.7 431.1h0 M393.8 367.6h0 M402.1 350.1h0 M399.5 462h0 M496.1 415.5h0 M405.2 360h0 M480.8 439.2h0 M511.3 442.1h0 M379.8 361.1h0 M508 362h0 M462 458.7h0 M516 411.3h0 M472.2 414.8h0 M419.6 357.6h0 M497.9 353.8h0 M429.9 455.4h0 M444 379.8h0 M392.1 359.5h0 M514.5 473.7h0 M438.7 391.6h0 M444.6 385.5h0 M404.9 431.2h0 M504.1 454.1h0 M514.9 379.7h0 M484.9 448.7h0 M391 437h0 M390.8 361.9h0 M393.2 367.9h0 M440.8 456.3h0 M454.7 415.7h0 M492.1 374h0 M432.5 466.1h0 M389.1 378.3h0 M480 431.4h0 M516 414.7h0 M478.7 392.3h0 M410.8 347.4h0 M510.5 420.1h0 M486.9 434.8h0 M424.4 432.7h0 M424.4 454.4h0 M438.2 391.4h0 M452.6 426.1h0 M468.8 471.4h0 M422.7 465.6h0 M444.4 421.7h0 M442.1 368.8h0 M404.5 404.8h0 M386.4 366.6h0 M386.8 435.8h0 M397.1 395.6h0 M435.4 417h0 M417.3 404.2h0 M399.6 356.6h0 M383.7 421.3h0 M421.6 402.5h0 M444.9 449.6h0 M494.3 465.3h0 M430.2 472.4h0 M434 466.7h0 M470.5 356.3h0 M406.6 394.3h0 M388.3 358.8h0 M420.2 468.1h0 M394 443.3h0 M442.7 378.6h0 M452.4 412.9h0 M435.2 409.1h0 M386.6 377.9h0 M514.3 406.6h0 M394.3 429.3h0 M403.3 445.9h0 M404.2 419.3h0 M508 393.4h0 M495.9 397.7h0 M445.7 392.6h0 M516.4 413.8h0 M416.5 419.2h0 M382.9 465.7h0 M450.6 369.7h0 M498.4 350.7h0 M429.5 368.5h0" stroke="#5e2e1c" stroke-width="1.4" stroke-linecap="round" opacity="0.95"/>
<rect x="389.1" y="466.8" width="31.3" height="3.4" fill="#000"/>
<text x="390.6" y="469.4" font-size="2.6" fill="#bbb">100 µm</text>
</g>
<line x1="134.9" y1="353.6" x2="134.9" y2="472.3" stroke="#999" stroke-width="0.8"/>
<line x1="260.8" y1="353.6" x2="260.8" y2="472.3" stroke="#999" stroke-width="0.8"/>
<line x1="386.6" y1="353.6" x2="386.6" y2="472.3" stroke="#999" stroke-width="0.8"/>
<g fill="#000"><rect x="0" y="0" width="520" height="1.2"/><rect x="0" y="0" width="1.25" height="481"/><rect x="518.7" y="0" width="1.3" height="481"/><rect x="0" y="479.35" width="520" height="1.65"/></g>
</svg>
</body></html>
